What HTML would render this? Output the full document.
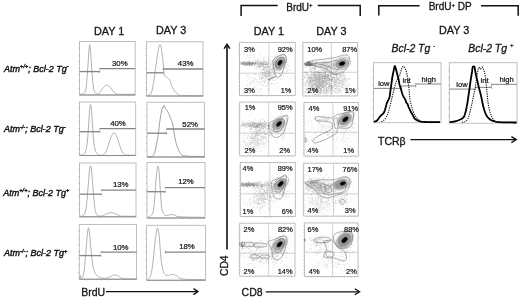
<!DOCTYPE html>
<html><head><meta charset="utf-8"><style>
html,body{margin:0;padding:0;background:#fff;width:520px;height:299px;overflow:hidden}
svg{display:block;will-change:transform}
text{font-family:"Liberation Sans", sans-serif;stroke:#151515}
</style></head><body>
<svg width="520" height="299" viewBox="0 0 520 299">
<rect width="520" height="299" fill="#fff"/>
<defs><filter id="b1" x="-50%" y="-50%" width="200%" height="200%"><feGaussianBlur stdDeviation="1.1"/></filter><filter id="b2" x="-50%" y="-50%" width="200%" height="200%"><feGaussianBlur stdDeviation="0.7"/></filter><filter id="b3" x="-50%" y="-50%" width="200%" height="200%"><feGaussianBlur stdDeviation="1.8"/></filter></defs>
<text x="4.1" y="71.7" font-size="9" font-style="italic" fill="#151515" stroke-width="0.42">Atm<tspan font-size="5.6" dy="-3.8">+/+</tspan><tspan dy="3.8">; Bcl-2 Tg</tspan><tspan font-size="5.6" dy="-3.8">-</tspan></text>
<text x="3.9" y="132.4" font-size="9" font-style="italic" fill="#151515" stroke-width="0.42">Atm<tspan font-size="5.6" dy="-3.8">-/-</tspan><tspan dy="3.8">; Bcl-2 Tg</tspan><tspan font-size="5.6" dy="-3.8">-</tspan></text>
<text x="3.3" y="195.7" font-size="9" font-style="italic" fill="#151515" stroke-width="0.42">Atm<tspan font-size="5.6" dy="-3.8">+/+</tspan><tspan dy="3.8">; Bcl-2 Tg</tspan><tspan font-size="5.6" dy="-3.8">+</tspan></text>
<text x="4.1" y="256.4" font-size="9" font-style="italic" fill="#151515" stroke-width="0.42">Atm<tspan font-size="5.6" dy="-3.8">-/-</tspan><tspan dy="3.8">; Bcl-2 Tg</tspan><tspan font-size="5.6" dy="-3.8">+</tspan></text>
<text x="94.00" y="34.90" font-size="10.8" text-anchor="start" fill="#151515" stroke-width="0.3" >DAY 1</text>
<text x="156.00" y="34.20" font-size="10.8" text-anchor="start" fill="#151515" stroke-width="0.3" >DAY 3</text>
<rect x="79.5" y="41.5" width="55.70" height="53.50" fill="none" stroke="#b8b8b8" stroke-width="0.9"/>
<line x1="79.5" y1="95" x2="135.2" y2="95" stroke="#8c8c8c" stroke-width="1.1" />
<line x1="86.5" y1="95" x2="86.5" y2="96.2" stroke="#aaa" stroke-width="0.6" />
<line x1="93.4" y1="95" x2="93.4" y2="96.2" stroke="#aaa" stroke-width="0.6" />
<line x1="100.4" y1="95" x2="100.4" y2="96.2" stroke="#aaa" stroke-width="0.6" />
<line x1="107.3" y1="95" x2="107.3" y2="96.2" stroke="#aaa" stroke-width="0.6" />
<line x1="114.3" y1="95" x2="114.3" y2="96.2" stroke="#aaa" stroke-width="0.6" />
<line x1="121.3" y1="95" x2="121.3" y2="96.2" stroke="#aaa" stroke-width="0.6" />
<line x1="128.2" y1="95" x2="128.2" y2="96.2" stroke="#aaa" stroke-width="0.6" />
<line x1="78.3" y1="88.3" x2="79.5" y2="88.3" stroke="#999" stroke-width="0.6" />
<line x1="78.3" y1="81.6" x2="79.5" y2="81.6" stroke="#999" stroke-width="0.6" />
<line x1="78.3" y1="74.9" x2="79.5" y2="74.9" stroke="#999" stroke-width="0.6" />
<line x1="78.3" y1="68.2" x2="79.5" y2="68.2" stroke="#999" stroke-width="0.6" />
<line x1="78.3" y1="61.6" x2="79.5" y2="61.6" stroke="#999" stroke-width="0.6" />
<line x1="78.3" y1="54.9" x2="79.5" y2="54.9" stroke="#999" stroke-width="0.6" />
<line x1="78.3" y1="48.2" x2="79.5" y2="48.2" stroke="#999" stroke-width="0.6" />
<path d="M80.00,94.30 L80.46,94.27 L81.11,94.27 L81.88,94.24 L82.67,94.14 L83.40,93.91 L84.00,93.50 L84.45,92.98 L84.83,92.40 L85.16,91.70 L85.44,90.79 L85.72,89.58 L86.00,88.00 L86.28,85.99 L86.54,83.59 L86.79,80.91 L87.03,78.02 L87.27,75.02 L87.50,72.00 L87.73,68.75 L87.96,65.16 L88.19,61.46 L88.40,57.88 L88.61,54.65 L88.80,52.00 L88.97,49.87 L89.13,48.05 L89.27,46.59 L89.41,45.50 L89.55,44.83 L89.70,44.60 L89.84,44.83 L89.98,45.50 L90.12,46.59 L90.26,48.05 L90.42,49.87 L90.60,52.00 L90.80,54.65 L91.03,57.88 L91.26,61.46 L91.51,65.16 L91.76,68.75 L92.00,72.00 L92.24,75.02 L92.47,78.03 L92.71,80.92 L92.96,83.61 L93.22,86.00 L93.50,88.00 L93.80,89.56 L94.13,90.74 L94.47,91.62 L94.81,92.29 L95.16,92.82 L95.50,93.30 L95.83,93.68 L96.15,93.89 L96.47,93.96 L96.80,93.94 L97.14,93.88 L97.50,93.80 L97.88,93.72 L98.28,93.62 L98.69,93.46 L99.11,93.24 L99.55,92.92 L100.00,92.50 L100.46,91.92 L100.94,91.17 L101.43,90.34 L101.94,89.49 L102.46,88.69 L103.00,88.00 L103.57,87.38 L104.16,86.77 L104.78,86.21 L105.39,85.73 L106.00,85.38 L106.60,85.20 L107.18,85.21 L107.76,85.38 L108.34,85.68 L108.90,86.07 L109.46,86.52 L110.00,87.00 L110.52,87.56 L111.03,88.22 L111.53,88.95 L112.01,89.69 L112.50,90.39 L113.00,91.00 L113.49,91.54 L113.96,92.04 L114.44,92.51 L114.93,92.93 L115.44,93.29 L116.00,93.60 L116.48,93.83 L116.85,94.00 L117.25,94.11 L117.81,94.19 L118.69,94.25 L120.00,94.30 L122.04,94.34 L124.74,94.35 L127.75,94.34 L130.70,94.33 L133.24,94.31 L135.00,94.30" fill="none" stroke="#969696" stroke-width="0.75"/>
<line x1="79.5" y1="71.6" x2="99.60000000000001" y2="71.6" stroke="#858585" stroke-width="1.3" />
<line x1="99.60000000000001" y1="70.39999999999999" x2="99.60000000000001" y2="72.8" stroke="#858585" stroke-width="0.8" />
<line x1="99.2" y1="68.7" x2="135.2" y2="68.7" stroke="#858585" stroke-width="1.3" />
<text x="112.00" y="65.60" font-size="7.8" text-anchor="start" fill="#151515" stroke-width="0.22" >30%</text>
<rect x="146.6" y="41.8" width="56.40" height="54.20" fill="none" stroke="#b8b8b8" stroke-width="0.9"/>
<line x1="146.6" y1="96" x2="203" y2="96" stroke="#8c8c8c" stroke-width="1.1" />
<line x1="153.7" y1="96" x2="153.7" y2="97.2" stroke="#aaa" stroke-width="0.6" />
<line x1="160.7" y1="96" x2="160.7" y2="97.2" stroke="#aaa" stroke-width="0.6" />
<line x1="167.8" y1="96" x2="167.8" y2="97.2" stroke="#aaa" stroke-width="0.6" />
<line x1="174.8" y1="96" x2="174.8" y2="97.2" stroke="#aaa" stroke-width="0.6" />
<line x1="181.8" y1="96" x2="181.8" y2="97.2" stroke="#aaa" stroke-width="0.6" />
<line x1="188.9" y1="96" x2="188.9" y2="97.2" stroke="#aaa" stroke-width="0.6" />
<line x1="195.9" y1="96" x2="195.9" y2="97.2" stroke="#aaa" stroke-width="0.6" />
<line x1="145.4" y1="89.2" x2="146.6" y2="89.2" stroke="#999" stroke-width="0.6" />
<line x1="145.4" y1="82.5" x2="146.6" y2="82.5" stroke="#999" stroke-width="0.6" />
<line x1="145.4" y1="75.7" x2="146.6" y2="75.7" stroke="#999" stroke-width="0.6" />
<line x1="145.4" y1="68.9" x2="146.6" y2="68.9" stroke="#999" stroke-width="0.6" />
<line x1="145.4" y1="62.1" x2="146.6" y2="62.1" stroke="#999" stroke-width="0.6" />
<line x1="145.4" y1="55.3" x2="146.6" y2="55.3" stroke="#999" stroke-width="0.6" />
<line x1="145.4" y1="48.6" x2="146.6" y2="48.6" stroke="#999" stroke-width="0.6" />
<path d="M147.00,95.70 L147.24,95.64 L147.57,95.57 L147.97,95.48 L148.39,95.36 L148.81,95.21 L149.20,95.00 L149.56,94.82 L149.91,94.67 L150.26,94.49 L150.60,94.19 L150.95,93.69 L151.30,92.90 L151.65,91.81 L152.00,90.50 L152.36,88.98 L152.71,87.28 L153.06,85.45 L153.40,83.50 L153.74,81.38 L154.07,79.04 L154.40,76.56 L154.73,74.01 L155.06,71.47 L155.40,69.00 L155.75,66.51 L156.12,63.92 L156.49,61.34 L156.86,58.86 L157.20,56.58 L157.50,54.60 L157.76,52.95 L158.00,51.54 L158.21,50.33 L158.40,49.29 L158.60,48.36 L158.80,47.50 L159.01,46.71 L159.21,46.03 L159.42,45.46 L159.62,45.02 L159.81,44.73 L160.00,44.60 L160.18,44.68 L160.36,44.97 L160.54,45.41 L160.70,45.93 L160.86,46.48 L161.00,47.00 L161.11,47.40 L161.20,47.73 L161.27,48.08 L161.35,48.56 L161.45,49.30 L161.60,50.40 L161.80,51.96 L162.04,53.90 L162.31,56.10 L162.59,58.41 L162.86,60.69 L163.10,62.80 L163.32,64.86 L163.52,67.01 L163.72,69.13 L163.91,71.11 L164.10,72.84 L164.30,74.20 L164.50,75.13 L164.70,75.70 L164.89,76.01 L165.09,76.18 L165.29,76.31 L165.50,76.50 L165.71,76.72 L165.92,76.87 L166.13,76.98 L166.35,77.07 L166.57,77.17 L166.80,77.30 L167.04,77.46 L167.28,77.61 L167.53,77.78 L167.79,77.96 L168.04,78.16 L168.30,78.40 L168.56,78.63 L168.81,78.84 L169.06,79.08 L169.33,79.38 L169.60,79.81 L169.90,80.40 L170.21,81.22 L170.53,82.23 L170.86,83.36 L171.21,84.53 L171.59,85.67 L172.00,86.70 L172.45,87.64 L172.92,88.56 L173.43,89.44 L173.96,90.29 L174.51,91.07 L175.10,91.80 L175.73,92.47 L176.40,93.10 L177.11,93.68 L177.82,94.20 L178.52,94.64 L179.20,95.00 L179.66,95.26 L179.89,95.41 L180.11,95.49 L180.54,95.53 L181.43,95.56 L183.00,95.60 L185.63,95.65 L189.21,95.67 L193.24,95.69 L197.21,95.69 L200.64,95.69 L203.00,95.70" fill="none" stroke="#969696" stroke-width="0.75"/>
<line x1="146.6" y1="72.8" x2="163.1" y2="72.8" stroke="#858585" stroke-width="1.3" />
<line x1="163.1" y1="71.6" x2="163.1" y2="74.0" stroke="#858585" stroke-width="0.8" />
<line x1="162.7" y1="69" x2="203" y2="69" stroke="#858585" stroke-width="1.3" />
<text x="177.80" y="66.00" font-size="7.8" text-anchor="start" fill="#151515" stroke-width="0.22" >43%</text>
<rect x="79.5" y="102" width="56.20" height="53.50" fill="none" stroke="#b8b8b8" stroke-width="0.9"/>
<line x1="79.5" y1="155.5" x2="135.7" y2="155.5" stroke="#8c8c8c" stroke-width="1.1" />
<line x1="86.5" y1="155.5" x2="86.5" y2="156.7" stroke="#aaa" stroke-width="0.6" />
<line x1="93.5" y1="155.5" x2="93.5" y2="156.7" stroke="#aaa" stroke-width="0.6" />
<line x1="100.6" y1="155.5" x2="100.6" y2="156.7" stroke="#aaa" stroke-width="0.6" />
<line x1="107.6" y1="155.5" x2="107.6" y2="156.7" stroke="#aaa" stroke-width="0.6" />
<line x1="114.6" y1="155.5" x2="114.6" y2="156.7" stroke="#aaa" stroke-width="0.6" />
<line x1="121.6" y1="155.5" x2="121.6" y2="156.7" stroke="#aaa" stroke-width="0.6" />
<line x1="128.7" y1="155.5" x2="128.7" y2="156.7" stroke="#aaa" stroke-width="0.6" />
<line x1="78.3" y1="148.8" x2="79.5" y2="148.8" stroke="#999" stroke-width="0.6" />
<line x1="78.3" y1="142.1" x2="79.5" y2="142.1" stroke="#999" stroke-width="0.6" />
<line x1="78.3" y1="135.4" x2="79.5" y2="135.4" stroke="#999" stroke-width="0.6" />
<line x1="78.3" y1="128.8" x2="79.5" y2="128.8" stroke="#999" stroke-width="0.6" />
<line x1="78.3" y1="122.1" x2="79.5" y2="122.1" stroke="#999" stroke-width="0.6" />
<line x1="78.3" y1="115.4" x2="79.5" y2="115.4" stroke="#999" stroke-width="0.6" />
<line x1="78.3" y1="108.7" x2="79.5" y2="108.7" stroke="#999" stroke-width="0.6" />
<path d="M80.00,155.00 L80.46,154.99 L81.11,155.02 L81.88,155.03 L82.67,154.98 L83.40,154.82 L84.00,154.50 L84.45,154.05 L84.83,153.50 L85.16,152.84 L85.44,152.06 L85.72,151.11 L86.00,150.00 L86.28,148.74 L86.54,147.37 L86.79,145.84 L87.03,144.13 L87.27,142.19 L87.50,140.00 L87.73,137.42 L87.96,134.44 L88.18,131.25 L88.40,128.00 L88.60,124.86 L88.80,122.00 L88.99,119.31 L89.17,116.64 L89.34,114.09 L89.50,111.73 L89.65,109.67 L89.80,108.00 L89.93,106.74 L90.05,105.83 L90.16,105.21 L90.27,104.84 L90.38,104.65 L90.50,104.60 L90.63,104.65 L90.75,104.84 L90.88,105.21 L91.01,105.83 L91.15,106.74 L91.30,108.00 L91.45,109.67 L91.61,111.73 L91.77,114.09 L91.94,116.64 L92.11,119.31 L92.30,122.00 L92.50,124.87 L92.71,128.04 L92.92,131.31 L93.15,134.52 L93.37,137.47 L93.60,140.00 L93.82,142.07 L94.04,143.83 L94.26,145.34 L94.49,146.67 L94.73,147.86 L95.00,149.00 L95.29,150.05 L95.59,150.94 L95.90,151.72 L96.24,152.39 L96.60,152.98 L97.00,153.50 L97.43,153.95 L97.89,154.30 L98.38,154.56 L98.89,154.76 L99.43,154.90 L100.00,155.00 L100.62,155.09 L101.30,155.17 L102.00,155.19 L102.70,155.11 L103.38,154.90 L104.00,154.50 L104.56,153.91 L105.07,153.17 L105.56,152.28 L106.04,151.28 L106.51,150.18 L107.00,149.00 L107.51,147.67 L108.02,146.15 L108.53,144.53 L109.04,142.91 L109.53,141.37 L110.00,140.00 L110.46,138.77 L110.91,137.60 L111.35,136.51 L111.77,135.53 L112.15,134.69 L112.50,134.00 L112.79,133.49 L113.04,133.16 L113.26,132.95 L113.46,132.84 L113.67,132.81 L113.90,132.80 L114.14,132.81 L114.39,132.84 L114.63,132.95 L114.89,133.16 L115.18,133.49 L115.50,134.00 L115.86,134.69 L116.25,135.53 L116.66,136.51 L117.10,137.60 L117.54,138.77 L118.00,140.00 L118.48,141.38 L118.98,142.93 L119.50,144.58 L120.02,146.20 L120.52,147.71 L121.00,149.00 L121.45,150.08 L121.87,151.04 L122.28,151.89 L122.69,152.62 L123.09,153.26 L123.50,153.80 L123.84,154.22 L124.07,154.50 L124.31,154.69 L124.65,154.81 L125.18,154.90 L126.00,155.00 L127.29,155.09 L129.00,155.15 L130.91,155.18 L132.78,155.19 L134.39,155.19 L135.50,155.20" fill="none" stroke="#969696" stroke-width="0.75"/>
<line x1="79.5" y1="131.7" x2="99.80000000000001" y2="131.7" stroke="#858585" stroke-width="1.3" />
<line x1="99.80000000000001" y1="130.5" x2="99.80000000000001" y2="132.89999999999998" stroke="#858585" stroke-width="0.8" />
<line x1="99.4" y1="128.6" x2="135.7" y2="128.6" stroke="#858585" stroke-width="1.3" />
<text x="110.20" y="126.00" font-size="7.8" text-anchor="start" fill="#151515" stroke-width="0.22" >40%</text>
<rect x="147" y="102.3" width="57.60" height="54.70" fill="none" stroke="#b8b8b8" stroke-width="0.9"/>
<line x1="147" y1="157" x2="204.6" y2="157" stroke="#8c8c8c" stroke-width="1.1" />
<line x1="154.2" y1="157" x2="154.2" y2="158.2" stroke="#aaa" stroke-width="0.6" />
<line x1="161.4" y1="157" x2="161.4" y2="158.2" stroke="#aaa" stroke-width="0.6" />
<line x1="168.6" y1="157" x2="168.6" y2="158.2" stroke="#aaa" stroke-width="0.6" />
<line x1="175.8" y1="157" x2="175.8" y2="158.2" stroke="#aaa" stroke-width="0.6" />
<line x1="183.0" y1="157" x2="183.0" y2="158.2" stroke="#aaa" stroke-width="0.6" />
<line x1="190.2" y1="157" x2="190.2" y2="158.2" stroke="#aaa" stroke-width="0.6" />
<line x1="197.4" y1="157" x2="197.4" y2="158.2" stroke="#aaa" stroke-width="0.6" />
<line x1="145.8" y1="150.2" x2="147" y2="150.2" stroke="#999" stroke-width="0.6" />
<line x1="145.8" y1="143.3" x2="147" y2="143.3" stroke="#999" stroke-width="0.6" />
<line x1="145.8" y1="136.5" x2="147" y2="136.5" stroke="#999" stroke-width="0.6" />
<line x1="145.8" y1="129.7" x2="147" y2="129.7" stroke="#999" stroke-width="0.6" />
<line x1="145.8" y1="122.8" x2="147" y2="122.8" stroke="#999" stroke-width="0.6" />
<line x1="145.8" y1="116.0" x2="147" y2="116.0" stroke="#999" stroke-width="0.6" />
<line x1="145.8" y1="109.1" x2="147" y2="109.1" stroke="#999" stroke-width="0.6" />
<path d="M147.00,156.60 L147.57,156.62 L148.39,156.67 L149.34,156.71 L150.33,156.71 L151.25,156.62 L152.00,156.40 L152.57,156.05 L153.06,155.60 L153.47,155.06 L153.83,154.44 L154.17,153.75 L154.50,153.00 L154.81,152.16 L155.08,151.23 L155.33,150.22 L155.55,149.17 L155.77,148.09 L156.00,147.00 L156.23,145.92 L156.44,144.82 L156.66,143.70 L156.87,142.53 L157.08,141.31 L157.30,140.00 L157.53,138.61 L157.76,137.16 L158.00,135.64 L158.24,134.07 L158.47,132.45 L158.70,130.80 L158.92,129.06 L159.14,127.21 L159.35,125.33 L159.56,123.45 L159.78,121.66 L160.00,120.00 L160.23,118.47 L160.47,117.00 L160.71,115.61 L160.95,114.31 L161.18,113.10 L161.40,112.00 L161.61,110.98 L161.80,110.03 L161.99,109.17 L162.17,108.43 L162.34,107.83 L162.50,107.40 L162.64,107.22 L162.76,107.30 L162.87,107.52 L162.97,107.77 L163.08,107.93 L163.20,107.90 L163.33,107.60 L163.45,107.12 L163.58,106.55 L163.71,106.00 L163.85,105.59 L164.00,105.40 L164.16,105.49 L164.32,105.77 L164.49,106.18 L164.66,106.64 L164.83,107.11 L165.00,107.50 L165.15,107.80 L165.27,108.07 L165.39,108.33 L165.54,108.62 L165.73,108.96 L166.00,109.40 L166.36,109.93 L166.80,110.53 L167.29,111.19 L167.79,111.89 L168.27,112.63 L168.70,113.40 L169.07,114.21 L169.42,115.07 L169.74,115.97 L170.06,116.89 L170.37,117.80 L170.70,118.70 L171.04,119.55 L171.39,120.37 L171.74,121.18 L172.09,122.03 L172.41,122.96 L172.70,124.00 L172.96,125.18 L173.18,126.47 L173.39,127.83 L173.59,129.23 L173.79,130.64 L174.00,132.00 L174.23,133.36 L174.45,134.74 L174.68,136.12 L174.91,137.48 L175.15,138.78 L175.40,140.00 L175.65,141.13 L175.90,142.19 L176.16,143.19 L176.43,144.15 L176.71,145.08 L177.00,146.00 L177.31,146.91 L177.64,147.81 L177.97,148.69 L178.32,149.52 L178.66,150.29 L179.00,151.00 L179.31,151.63 L179.59,152.19 L179.88,152.69 L180.19,153.15 L180.55,153.58 L181.00,154.00 L181.37,154.41 L181.61,154.79 L181.91,155.15 L182.44,155.47 L183.41,155.76 L185.00,156.00 L187.58,156.19 L191.07,156.33 L195.00,156.43 L198.87,156.50 L202.20,156.55 L204.50,156.60" fill="none" stroke="#8a8a8a" stroke-width="0.85"/>
<line x1="147" y1="133.2" x2="166.6" y2="133.2" stroke="#858585" stroke-width="1.3" />
<line x1="166.6" y1="132.0" x2="166.6" y2="134.39999999999998" stroke="#858585" stroke-width="0.8" />
<line x1="166.2" y1="129" x2="204.6" y2="129" stroke="#858585" stroke-width="1.3" />
<text x="182.30" y="126.60" font-size="7.8" text-anchor="start" fill="#151515" stroke-width="0.22" >52%</text>
<rect x="79.5" y="163" width="56.50" height="53.80" fill="none" stroke="#b8b8b8" stroke-width="0.9"/>
<line x1="79.5" y1="216.8" x2="136" y2="216.8" stroke="#8c8c8c" stroke-width="1.1" />
<line x1="86.6" y1="216.8" x2="86.6" y2="218.0" stroke="#aaa" stroke-width="0.6" />
<line x1="93.6" y1="216.8" x2="93.6" y2="218.0" stroke="#aaa" stroke-width="0.6" />
<line x1="100.7" y1="216.8" x2="100.7" y2="218.0" stroke="#aaa" stroke-width="0.6" />
<line x1="107.8" y1="216.8" x2="107.8" y2="218.0" stroke="#aaa" stroke-width="0.6" />
<line x1="114.8" y1="216.8" x2="114.8" y2="218.0" stroke="#aaa" stroke-width="0.6" />
<line x1="121.9" y1="216.8" x2="121.9" y2="218.0" stroke="#aaa" stroke-width="0.6" />
<line x1="128.9" y1="216.8" x2="128.9" y2="218.0" stroke="#aaa" stroke-width="0.6" />
<line x1="78.3" y1="210.1" x2="79.5" y2="210.1" stroke="#999" stroke-width="0.6" />
<line x1="78.3" y1="203.4" x2="79.5" y2="203.4" stroke="#999" stroke-width="0.6" />
<line x1="78.3" y1="196.6" x2="79.5" y2="196.6" stroke="#999" stroke-width="0.6" />
<line x1="78.3" y1="189.9" x2="79.5" y2="189.9" stroke="#999" stroke-width="0.6" />
<line x1="78.3" y1="183.2" x2="79.5" y2="183.2" stroke="#999" stroke-width="0.6" />
<line x1="78.3" y1="176.4" x2="79.5" y2="176.4" stroke="#999" stroke-width="0.6" />
<line x1="78.3" y1="169.7" x2="79.5" y2="169.7" stroke="#999" stroke-width="0.6" />
<path d="M80.00,216.20 L80.34,216.18 L80.81,216.19 L81.38,216.18 L81.96,216.13 L82.52,216.01 L83.00,215.80 L83.40,215.53 L83.76,215.24 L84.09,214.88 L84.41,214.41 L84.71,213.80 L85.00,213.00 L85.28,212.07 L85.54,211.05 L85.78,209.89 L86.02,208.53 L86.26,206.91 L86.50,205.00 L86.75,202.70 L87.00,200.04 L87.25,197.12 L87.50,194.07 L87.75,191.00 L88.00,188.00 L88.26,184.90 L88.52,181.56 L88.78,178.19 L89.04,175.01 L89.28,172.21 L89.50,170.00 L89.70,168.42 L89.87,167.30 L90.03,166.57 L90.19,166.14 L90.34,165.95 L90.50,165.90 L90.66,165.95 L90.81,166.14 L90.97,166.57 L91.13,167.30 L91.30,168.42 L91.50,170.00 L91.72,172.21 L91.96,175.01 L92.22,178.19 L92.48,181.56 L92.74,184.90 L93.00,188.00 L93.25,191.00 L93.51,194.09 L93.76,197.16 L94.01,200.07 L94.26,202.73 L94.50,205.00 L94.72,206.85 L94.93,208.37 L95.14,209.62 L95.34,210.69 L95.56,211.62 L95.80,212.50 L96.04,213.29 L96.27,213.93 L96.51,214.44 L96.79,214.85 L97.11,215.20 L97.50,215.50 L97.98,215.74 L98.55,215.90 L99.17,215.99 L99.80,216.02 L100.42,216.02 L101.00,216.00 L101.53,215.95 L102.04,215.86 L102.53,215.73 L103.02,215.57 L103.51,215.39 L104.00,215.20 L104.49,214.97 L104.96,214.70 L105.44,214.41 L105.93,214.12 L106.44,213.84 L107.00,213.60 L107.61,213.38 L108.26,213.15 L108.94,212.94 L109.63,212.76 L110.32,212.64 L111.00,212.60 L111.67,212.64 L112.33,212.75 L113.00,212.92 L113.67,213.13 L114.33,213.36 L115.00,213.60 L115.68,213.88 L116.37,214.21 L117.06,214.57 L117.74,214.92 L118.39,215.24 L119.00,215.50 L119.43,215.69 L119.67,215.84 L119.88,215.96 L120.22,216.06 L120.88,216.13 L122.00,216.20 L123.86,216.25 L126.37,216.28 L129.19,216.29 L131.96,216.30 L134.35,216.30 L136.00,216.30" fill="none" stroke="#969696" stroke-width="0.75"/>
<line x1="79.5" y1="194.2" x2="101.2" y2="194.2" stroke="#858585" stroke-width="1.3" />
<line x1="101.2" y1="193.0" x2="101.2" y2="195.39999999999998" stroke="#858585" stroke-width="0.8" />
<line x1="100.8" y1="190.1" x2="136" y2="190.1" stroke="#858585" stroke-width="1.3" />
<text x="112.90" y="187.40" font-size="7.8" text-anchor="start" fill="#151515" stroke-width="0.22" >13%</text>
<rect x="147" y="162.6" width="58.00" height="55.40" fill="none" stroke="#b8b8b8" stroke-width="0.9"/>
<line x1="147" y1="218" x2="205" y2="218" stroke="#8c8c8c" stroke-width="1.1" />
<line x1="154.2" y1="218" x2="154.2" y2="219.2" stroke="#aaa" stroke-width="0.6" />
<line x1="161.5" y1="218" x2="161.5" y2="219.2" stroke="#aaa" stroke-width="0.6" />
<line x1="168.8" y1="218" x2="168.8" y2="219.2" stroke="#aaa" stroke-width="0.6" />
<line x1="176.0" y1="218" x2="176.0" y2="219.2" stroke="#aaa" stroke-width="0.6" />
<line x1="183.2" y1="218" x2="183.2" y2="219.2" stroke="#aaa" stroke-width="0.6" />
<line x1="190.5" y1="218" x2="190.5" y2="219.2" stroke="#aaa" stroke-width="0.6" />
<line x1="197.8" y1="218" x2="197.8" y2="219.2" stroke="#aaa" stroke-width="0.6" />
<line x1="145.8" y1="211.1" x2="147" y2="211.1" stroke="#999" stroke-width="0.6" />
<line x1="145.8" y1="204.2" x2="147" y2="204.2" stroke="#999" stroke-width="0.6" />
<line x1="145.8" y1="197.2" x2="147" y2="197.2" stroke="#999" stroke-width="0.6" />
<line x1="145.8" y1="190.3" x2="147" y2="190.3" stroke="#999" stroke-width="0.6" />
<line x1="145.8" y1="183.4" x2="147" y2="183.4" stroke="#999" stroke-width="0.6" />
<line x1="145.8" y1="176.4" x2="147" y2="176.4" stroke="#999" stroke-width="0.6" />
<line x1="145.8" y1="169.5" x2="147" y2="169.5" stroke="#999" stroke-width="0.6" />
<path d="M147.50,217.40 L147.77,217.30 L148.13,217.19 L148.56,217.05 L149.04,216.85 L149.53,216.58 L150.00,216.20 L150.49,215.79 L151.01,215.38 L151.56,214.89 L152.09,214.24 L152.58,213.37 L153.00,212.20 L153.35,210.73 L153.64,209.03 L153.90,207.10 L154.13,204.95 L154.36,202.58 L154.60,200.00 L154.85,197.01 L155.09,193.58 L155.32,189.93 L155.56,186.29 L155.78,182.90 L156.00,180.00 L156.22,177.55 L156.43,175.37 L156.64,173.44 L156.84,171.74 L157.03,170.27 L157.20,169.00 L157.36,167.97 L157.50,167.19 L157.62,166.62 L157.75,166.26 L157.87,166.06 L158.00,166.00 L158.14,166.11 L158.27,166.41 L158.41,166.88 L158.55,167.48 L158.68,168.20 L158.80,169.00 L158.90,169.78 L158.99,170.56 L159.07,171.44 L159.16,172.56 L159.26,174.03 L159.40,176.00 L159.58,178.65 L159.78,181.92 L160.01,185.55 L160.24,189.28 L160.48,192.85 L160.70,196.00 L160.90,198.81 L161.07,201.50 L161.24,204.04 L161.44,206.36 L161.68,208.43 L162.00,210.20 L162.40,211.62 L162.87,212.73 L163.39,213.59 L163.94,214.24 L164.48,214.76 L165.00,215.20 L165.50,215.50 L166.00,215.59 L166.50,215.55 L167.00,215.43 L167.50,215.29 L168.00,215.20 L168.49,215.12 L168.96,215.00 L169.44,214.86 L169.93,214.73 L170.44,214.64 L171.00,214.60 L171.60,214.62 L172.22,214.67 L172.88,214.76 L173.56,214.88 L174.26,215.03 L175.00,215.20 L175.54,215.42 L175.85,215.70 L176.19,216.00 L176.81,216.30 L178.00,216.58 L180.00,216.80 L183.30,216.96 L187.78,217.10 L192.81,217.20 L197.78,217.28 L202.05,217.35 L205.00,217.40" fill="none" stroke="#969696" stroke-width="0.75"/>
<line x1="147" y1="191.7" x2="165.1" y2="191.7" stroke="#858585" stroke-width="1.3" />
<line x1="165.1" y1="190.5" x2="165.1" y2="192.89999999999998" stroke="#858585" stroke-width="0.8" />
<line x1="164.7" y1="187.6" x2="205" y2="187.6" stroke="#858585" stroke-width="1.3" />
<text x="178.20" y="183.90" font-size="7.8" text-anchor="start" fill="#151515" stroke-width="0.22" >12%</text>
<rect x="79.3" y="224.4" width="57.30" height="54.80" fill="none" stroke="#b8b8b8" stroke-width="0.9"/>
<line x1="79.3" y1="279.2" x2="136.6" y2="279.2" stroke="#8c8c8c" stroke-width="1.1" />
<line x1="86.5" y1="279.2" x2="86.5" y2="280.4" stroke="#aaa" stroke-width="0.6" />
<line x1="93.6" y1="279.2" x2="93.6" y2="280.4" stroke="#aaa" stroke-width="0.6" />
<line x1="100.8" y1="279.2" x2="100.8" y2="280.4" stroke="#aaa" stroke-width="0.6" />
<line x1="107.9" y1="279.2" x2="107.9" y2="280.4" stroke="#aaa" stroke-width="0.6" />
<line x1="115.1" y1="279.2" x2="115.1" y2="280.4" stroke="#aaa" stroke-width="0.6" />
<line x1="122.3" y1="279.2" x2="122.3" y2="280.4" stroke="#aaa" stroke-width="0.6" />
<line x1="129.4" y1="279.2" x2="129.4" y2="280.4" stroke="#aaa" stroke-width="0.6" />
<line x1="78.1" y1="272.3" x2="79.3" y2="272.3" stroke="#999" stroke-width="0.6" />
<line x1="78.1" y1="265.5" x2="79.3" y2="265.5" stroke="#999" stroke-width="0.6" />
<line x1="78.1" y1="258.6" x2="79.3" y2="258.6" stroke="#999" stroke-width="0.6" />
<line x1="78.1" y1="251.8" x2="79.3" y2="251.8" stroke="#999" stroke-width="0.6" />
<line x1="78.1" y1="244.9" x2="79.3" y2="244.9" stroke="#999" stroke-width="0.6" />
<line x1="78.1" y1="238.1" x2="79.3" y2="238.1" stroke="#999" stroke-width="0.6" />
<line x1="78.1" y1="231.2" x2="79.3" y2="231.2" stroke="#999" stroke-width="0.6" />
<path d="M79.80,278.80 L79.85,278.37 L79.91,277.72 L79.99,276.98 L80.09,276.28 L80.19,275.74 L80.30,275.50 L80.42,275.66 L80.54,276.14 L80.67,276.78 L80.82,277.44 L80.99,277.96 L81.20,278.20 L81.45,278.18 L81.74,278.04 L82.06,277.77 L82.39,277.34 L82.71,276.76 L83.00,276.00 L83.27,275.12 L83.52,274.13 L83.77,272.99 L84.01,271.62 L84.25,269.98 L84.50,268.00 L84.75,265.57 L85.00,262.70 L85.25,259.56 L85.50,256.30 L85.75,253.06 L86.00,250.00 L86.26,246.97 L86.52,243.81 L86.79,240.69 L87.04,237.74 L87.28,235.13 L87.50,233.00 L87.68,231.38 L87.84,230.15 L87.99,229.25 L88.12,228.63 L88.26,228.23 L88.40,228.00 L88.54,227.88 L88.68,227.89 L88.81,228.12 L88.96,228.67 L89.12,229.60 L89.30,231.00 L89.51,233.05 L89.75,235.70 L90.00,238.75 L90.26,241.96 L90.53,245.12 L90.80,248.00 L91.07,250.70 L91.36,253.43 L91.65,256.09 L91.94,258.63 L92.23,260.96 L92.50,263.00 L92.76,264.73 L93.01,266.21 L93.25,267.48 L93.49,268.59 L93.74,269.58 L94.00,270.50 L94.26,271.30 L94.50,271.92 L94.75,272.43 L95.02,272.87 L95.33,273.31 L95.70,273.80 L96.12,274.35 L96.59,274.91 L97.10,275.48 L97.64,276.01 L98.21,276.49 L98.80,276.90 L99.43,277.24 L100.09,277.52 L100.79,277.76 L101.50,277.94 L102.21,278.09 L102.90,278.20 L103.60,278.26 L104.31,278.27 L105.02,278.24 L105.71,278.18 L106.38,278.10 L107.00,278.00 L107.56,277.89 L108.08,277.75 L108.57,277.59 L109.04,277.41 L109.51,277.22 L110.00,277.00 L110.51,276.74 L111.03,276.44 L111.54,276.11 L112.05,275.80 L112.54,275.52 L113.00,275.30 L113.42,275.14 L113.80,275.02 L114.17,274.94 L114.53,274.89 L114.90,274.88 L115.30,274.90 L115.72,274.96 L116.16,275.06 L116.61,275.20 L117.06,275.37 L117.53,275.57 L118.00,275.80 L118.48,276.08 L118.98,276.42 L119.48,276.79 L119.99,277.17 L120.50,277.51 L121.00,277.80 L121.39,278.03 L121.65,278.24 L121.91,278.41 L122.30,278.56 L122.95,278.69 L124.00,278.80 L125.68,278.88 L127.93,278.93 L130.44,278.96 L132.91,278.98 L135.03,278.99 L136.50,279.00" fill="none" stroke="#969696" stroke-width="0.75"/>
<line x1="79.3" y1="255.6" x2="100.80000000000001" y2="255.6" stroke="#858585" stroke-width="1.3" />
<line x1="100.80000000000001" y1="254.4" x2="100.80000000000001" y2="256.8" stroke="#858585" stroke-width="0.8" />
<line x1="100.4" y1="252.1" x2="136.6" y2="252.1" stroke="#858585" stroke-width="1.3" />
<text x="112.90" y="250.40" font-size="7.8" text-anchor="start" fill="#151515" stroke-width="0.22" >10%</text>
<rect x="146.6" y="225.3" width="59.00" height="55.00" fill="none" stroke="#b8b8b8" stroke-width="0.9"/>
<line x1="146.6" y1="280.3" x2="205.6" y2="280.3" stroke="#8c8c8c" stroke-width="1.1" />
<line x1="154.0" y1="280.3" x2="154.0" y2="281.5" stroke="#aaa" stroke-width="0.6" />
<line x1="161.3" y1="280.3" x2="161.3" y2="281.5" stroke="#aaa" stroke-width="0.6" />
<line x1="168.7" y1="280.3" x2="168.7" y2="281.5" stroke="#aaa" stroke-width="0.6" />
<line x1="176.1" y1="280.3" x2="176.1" y2="281.5" stroke="#aaa" stroke-width="0.6" />
<line x1="183.5" y1="280.3" x2="183.5" y2="281.5" stroke="#aaa" stroke-width="0.6" />
<line x1="190.8" y1="280.3" x2="190.8" y2="281.5" stroke="#aaa" stroke-width="0.6" />
<line x1="198.2" y1="280.3" x2="198.2" y2="281.5" stroke="#aaa" stroke-width="0.6" />
<line x1="145.4" y1="273.4" x2="146.6" y2="273.4" stroke="#999" stroke-width="0.6" />
<line x1="145.4" y1="266.6" x2="146.6" y2="266.6" stroke="#999" stroke-width="0.6" />
<line x1="145.4" y1="259.7" x2="146.6" y2="259.7" stroke="#999" stroke-width="0.6" />
<line x1="145.4" y1="252.8" x2="146.6" y2="252.8" stroke="#999" stroke-width="0.6" />
<line x1="145.4" y1="245.9" x2="146.6" y2="245.9" stroke="#999" stroke-width="0.6" />
<line x1="145.4" y1="239.1" x2="146.6" y2="239.1" stroke="#999" stroke-width="0.6" />
<line x1="145.4" y1="232.2" x2="146.6" y2="232.2" stroke="#999" stroke-width="0.6" />
<path d="M147.00,279.60 L147.15,279.58 L147.35,279.60 L147.59,279.60 L147.87,279.53 L148.17,279.35 L148.50,279.00 L148.86,278.53 L149.28,277.99 L149.72,277.32 L150.17,276.50 L150.60,275.48 L151.00,274.20 L151.36,272.69 L151.70,270.97 L152.03,269.05 L152.35,266.92 L152.67,264.57 L153.00,262.00 L153.34,259.01 L153.68,255.58 L154.02,251.93 L154.36,248.29 L154.68,244.90 L155.00,242.00 L155.31,239.55 L155.62,237.37 L155.92,235.44 L156.20,233.74 L156.47,232.27 L156.70,231.00 L156.90,229.97 L157.06,229.19 L157.20,228.62 L157.33,228.26 L157.46,228.06 L157.60,228.00 L157.75,228.11 L157.90,228.41 L158.05,228.88 L158.20,229.48 L158.35,230.20 L158.50,231.00 L158.64,231.78 L158.77,232.56 L158.91,233.44 L159.05,234.56 L159.21,236.03 L159.40,238.00 L159.62,240.67 L159.87,243.99 L160.13,247.67 L160.41,251.43 L160.70,254.97 L161.00,258.00 L161.31,260.58 L161.64,262.95 L161.97,265.10 L162.32,267.03 L162.66,268.73 L163.00,270.20 L163.32,271.37 L163.63,272.24 L163.94,272.88 L164.26,273.36 L164.61,273.78 L165.00,274.20 L165.45,274.61 L165.94,274.94 L166.47,275.20 L167.00,275.39 L167.52,275.52 L168.00,275.60 L168.45,275.59 L168.87,275.48 L169.28,275.31 L169.69,275.12 L170.09,274.94 L170.50,274.80 L170.90,274.69 L171.28,274.56 L171.66,274.45 L172.06,274.37 L172.50,274.35 L173.00,274.40 L173.57,274.53 L174.19,274.73 L174.84,274.99 L175.54,275.29 L176.26,275.63 L177.00,276.00 L177.57,276.45 L177.93,276.98 L178.31,277.56 L178.96,278.12 L180.11,278.62 L182.00,279.00 L185.06,279.26 L189.19,279.43 L193.81,279.54 L198.37,279.60 L202.29,279.65 L205.00,279.70" fill="none" stroke="#969696" stroke-width="0.75"/>
<line x1="165.4" y1="250.6" x2="165.4" y2="253.6" stroke="#858585" stroke-width="0.8" />
<line x1="165.4" y1="252.1" x2="205.6" y2="252.1" stroke="#858585" stroke-width="1.3" />
<text x="179.20" y="249.40" font-size="7.8" text-anchor="start" fill="#151515" stroke-width="0.22" >18%</text>
<text x="81.20" y="296.30" font-size="10.5" text-anchor="start" fill="#151515" stroke-width="0.3" >BrdU</text>
<line x1="105.9" y1="291.6" x2="197" y2="291.6" stroke="#111" stroke-width="1.3" />
<path d="M193.5,288.6 L198,291.6 L193.5,294.6" fill="none" stroke="#111" stroke-width="1.3"/>
<path d="M241.1,15.9 V5.5 H277.7" fill="none" stroke="#111" stroke-width="1.5"/>
<path d="M317.7,5.5 H360.2 V15.9" fill="none" stroke="#111" stroke-width="1.5"/>
<text x="286.3" y="10.8" font-size="10" fill="#151515" stroke-width="0.3">BrdU<tspan font-size="6" dy="-3.5">+</tspan></text>
<text x="253.80" y="34.70" font-size="10.8" text-anchor="start" fill="#151515" stroke-width="0.3" >DAY 1</text>
<text x="316.20" y="34.60" font-size="10.8" text-anchor="start" fill="#151515" stroke-width="0.3" >DAY 3</text>
<line x1="227.0" y1="44.8" x2="227.0" y2="249.4" stroke="#111" stroke-width="1.6" />
<path d="M224.1,48.6 L227.0,44.3 L229.9,48.6" fill="none" stroke="#111" stroke-width="1.5"/>
<text x="0" y="0" font-size="10.3" fill="#151515" stroke-width="0.3" transform="translate(228.1,276) rotate(-90)">CD4</text>
<text x="241.60" y="296.10" font-size="10.5" text-anchor="start" fill="#151515" stroke-width="0.3" >CD8</text>
<line x1="265.8" y1="291.8" x2="359.0" y2="291.8" stroke="#111" stroke-width="1.3" />
<path d="M354.8,288.8 L359.6,291.8 L354.8,294.8" fill="none" stroke="#111" stroke-width="1.3"/>
<rect x="239.5" y="42.4" width="55.70" height="53.10" fill="none" stroke="#b8b8b8" stroke-width="0.9"/>
<line x1="243.0" y1="95.5" x2="243.0" y2="96.8" stroke="#b0b0b0" stroke-width="0.5" />
<line x1="238.2" y1="45.7" x2="239.5" y2="45.7" stroke="#b0b0b0" stroke-width="0.5" />
<line x1="246.5" y1="95.5" x2="246.5" y2="96.8" stroke="#b0b0b0" stroke-width="0.5" />
<line x1="238.2" y1="49.0" x2="239.5" y2="49.0" stroke="#b0b0b0" stroke-width="0.5" />
<line x1="249.9" y1="95.5" x2="249.9" y2="96.8" stroke="#b0b0b0" stroke-width="0.5" />
<line x1="238.2" y1="52.4" x2="239.5" y2="52.4" stroke="#b0b0b0" stroke-width="0.5" />
<line x1="253.4" y1="95.5" x2="253.4" y2="96.8" stroke="#b0b0b0" stroke-width="0.5" />
<line x1="238.2" y1="55.7" x2="239.5" y2="55.7" stroke="#b0b0b0" stroke-width="0.5" />
<line x1="256.9" y1="95.5" x2="256.9" y2="96.8" stroke="#b0b0b0" stroke-width="0.5" />
<line x1="238.2" y1="59.0" x2="239.5" y2="59.0" stroke="#b0b0b0" stroke-width="0.5" />
<line x1="260.4" y1="95.5" x2="260.4" y2="96.8" stroke="#b0b0b0" stroke-width="0.5" />
<line x1="238.2" y1="62.3" x2="239.5" y2="62.3" stroke="#b0b0b0" stroke-width="0.5" />
<line x1="263.9" y1="95.5" x2="263.9" y2="96.8" stroke="#b0b0b0" stroke-width="0.5" />
<line x1="238.2" y1="65.6" x2="239.5" y2="65.6" stroke="#b0b0b0" stroke-width="0.5" />
<line x1="267.4" y1="95.5" x2="267.4" y2="96.8" stroke="#b0b0b0" stroke-width="0.5" />
<line x1="238.2" y1="69.0" x2="239.5" y2="69.0" stroke="#b0b0b0" stroke-width="0.5" />
<line x1="270.8" y1="95.5" x2="270.8" y2="96.8" stroke="#b0b0b0" stroke-width="0.5" />
<line x1="238.2" y1="72.3" x2="239.5" y2="72.3" stroke="#b0b0b0" stroke-width="0.5" />
<line x1="274.3" y1="95.5" x2="274.3" y2="96.8" stroke="#b0b0b0" stroke-width="0.5" />
<line x1="238.2" y1="75.6" x2="239.5" y2="75.6" stroke="#b0b0b0" stroke-width="0.5" />
<line x1="277.8" y1="95.5" x2="277.8" y2="96.8" stroke="#b0b0b0" stroke-width="0.5" />
<line x1="238.2" y1="78.9" x2="239.5" y2="78.9" stroke="#b0b0b0" stroke-width="0.5" />
<line x1="281.3" y1="95.5" x2="281.3" y2="96.8" stroke="#b0b0b0" stroke-width="0.5" />
<line x1="238.2" y1="82.2" x2="239.5" y2="82.2" stroke="#b0b0b0" stroke-width="0.5" />
<line x1="284.8" y1="95.5" x2="284.8" y2="96.8" stroke="#b0b0b0" stroke-width="0.5" />
<line x1="238.2" y1="85.5" x2="239.5" y2="85.5" stroke="#b0b0b0" stroke-width="0.5" />
<line x1="288.2" y1="95.5" x2="288.2" y2="96.8" stroke="#b0b0b0" stroke-width="0.5" />
<line x1="238.2" y1="88.9" x2="239.5" y2="88.9" stroke="#b0b0b0" stroke-width="0.5" />
<line x1="291.7" y1="95.5" x2="291.7" y2="96.8" stroke="#b0b0b0" stroke-width="0.5" />
<line x1="238.2" y1="92.2" x2="239.5" y2="92.2" stroke="#b0b0b0" stroke-width="0.5" />
<line x1="268.9" y1="42.4" x2="268.9" y2="95.5" stroke="#c8c8c8" stroke-width="0.8" />
<line x1="239.5" y1="73.2" x2="295.2" y2="73.2" stroke="#c8c8c8" stroke-width="0.8" />
<path d="M247.0,63.7h.7v.7h-.7zM245.9,62.6h.7v.7h-.7zM245.2,62.5h.7v.7h-.7zM247.2,64.6h.7v.7h-.7zM245.0,62.8h.7v.7h-.7zM249.0,63.7h.7v.7h-.7zM247.4,62.6h.7v.7h-.7zM246.9,64.0h.7v.7h-.7zM241.6,63.0h.7v.7h-.7zM241.9,63.6h.7v.7h-.7zM247.6,63.2h.7v.7h-.7zM246.8,63.5h.7v.7h-.7zM240.9,63.0h.7v.7h-.7zM243.1,62.7h.7v.7h-.7zM251.2,62.7h.7v.7h-.7zM246.9,64.2h.7v.7h-.7zM244.7,63.3h.7v.7h-.7zM247.4,63.5h.7v.7h-.7zM242.1,63.5h.7v.7h-.7zM252.4,62.0h.7v.7h-.7zM250.4,63.5h.7v.7h-.7zM244.4,65.2h.7v.7h-.7zM250.0,62.3h.7v.7h-.7zM247.3,63.9h.7v.7h-.7zM246.2,64.0h.7v.7h-.7zM246.7,64.0h.7v.7h-.7zM252.8,62.8h.7v.7h-.7zM247.8,63.0h.7v.7h-.7zM247.5,62.3h.7v.7h-.7zM244.7,63.2h.7v.7h-.7zM250.6,64.4h.7v.7h-.7zM241.7,62.7h.7v.7h-.7zM249.6,61.6h.7v.7h-.7zM245.1,63.3h.7v.7h-.7zM252.0,64.0h.7v.7h-.7zM245.7,63.1h.7v.7h-.7zM246.0,64.8h.7v.7h-.7zM245.3,63.1h.7v.7h-.7zM248.4,63.3h.7v.7h-.7zM246.2,62.4h.7v.7h-.7zM247.0,63.0h.7v.7h-.7zM251.7,64.0h.7v.7h-.7zM246.9,64.0h.7v.7h-.7zM245.6,64.3h.7v.7h-.7zM247.0,63.9h.7v.7h-.7zM241.8,63.7h.7v.7h-.7zM240.2,61.6h.7v.7h-.7zM245.8,62.6h.7v.7h-.7zM247.7,65.4h.7v.7h-.7zM243.7,62.8h.7v.7h-.7zM247.8,63.8h.7v.7h-.7zM246.3,63.2h.7v.7h-.7zM249.8,63.9h.7v.7h-.7zM242.9,63.3h.7v.7h-.7zM247.1,62.5h.7v.7h-.7zM248.0,62.6h.7v.7h-.7zM250.9,63.6h.7v.7h-.7zM247.4,62.9h.7v.7h-.7zM246.5,61.6h.7v.7h-.7zM242.5,63.7h.7v.7h-.7zM243.6,64.1h.7v.7h-.7zM247.5,62.0h.7v.7h-.7zM252.0,64.7h.7v.7h-.7zM246.7,63.2h.7v.7h-.7zM246.4,62.5h.7v.7h-.7zM251.4,62.9h.7v.7h-.7zM246.8,62.7h.7v.7h-.7zM244.5,62.3h.7v.7h-.7zM252.0,63.3h.7v.7h-.7zM250.9,63.4h.7v.7h-.7zM244.2,63.1h.7v.7h-.7zM244.8,63.4h.7v.7h-.7zM245.5,63.1h.7v.7h-.7zM241.5,62.7h.7v.7h-.7zM253.6,62.8h.7v.7h-.7zM242.8,63.7h.7v.7h-.7zM252.6,62.1h.7v.7h-.7zM246.2,62.8h.7v.7h-.7zM246.9,63.5h.7v.7h-.7zM244.0,63.8h.7v.7h-.7zM244.8,63.3h.7v.7h-.7zM242.6,62.3h.7v.7h-.7zM252.3,62.9h.7v.7h-.7zM248.2,63.4h.7v.7h-.7zM245.2,62.9h.7v.7h-.7zM249.5,63.1h.7v.7h-.7zM246.4,63.4h.7v.7h-.7zM251.7,64.0h.7v.7h-.7zM248.5,62.9h.7v.7h-.7zM241.5,64.3h.7v.7h-.7zM250.9,63.3h.7v.7h-.7zM249.2,64.1h.7v.7h-.7zM250.3,64.2h.7v.7h-.7zM245.2,64.8h.7v.7h-.7zM242.0,64.2h.7v.7h-.7zM249.0,64.2h.7v.7h-.7zM254.5,64.7h.7v.7h-.7zM242.4,61.9h.7v.7h-.7zM250.3,62.5h.7v.7h-.7zM247.0,64.2h.7v.7h-.7zM240.4,61.5h.7v.7h-.7zM248.0,63.4h.7v.7h-.7zM246.0,63.4h.7v.7h-.7zM243.6,62.0h.7v.7h-.7zM246.3,62.5h.7v.7h-.7zM240.4,63.9h.7v.7h-.7zM246.8,63.8h.7v.7h-.7zM243.0,62.8h.7v.7h-.7zM243.0,62.6h.7v.7h-.7zM247.8,62.7h.7v.7h-.7zM248.4,63.7h.7v.7h-.7zM255.1,62.1h.7v.7h-.7zM250.6,63.3h.7v.7h-.7zM246.9,62.1h.7v.7h-.7zM245.2,64.1h.7v.7h-.7zM246.7,63.5h.7v.7h-.7zM245.8,64.4h.7v.7h-.7zM246.9,61.4h.7v.7h-.7zM244.2,61.6h.7v.7h-.7zM252.3,63.4h.7v.7h-.7zM242.3,62.6h.7v.7h-.7zM251.5,63.5h.7v.7h-.7zM247.2,63.4h.7v.7h-.7zM247.2,64.1h.7v.7h-.7zM249.2,63.6h.7v.7h-.7zM242.8,63.9h.7v.7h-.7zM244.3,64.4h.7v.7h-.7zM241.9,63.3h.7v.7h-.7zM247.0,62.2h.7v.7h-.7zM253.9,64.7h.7v.7h-.7zM245.1,64.1h.7v.7h-.7zM248.5,61.0h.7v.7h-.7zM248.0,63.3h.7v.7h-.7zM247.3,62.4h.7v.7h-.7zM245.9,63.2h.7v.7h-.7zM251.8,63.7h.7v.7h-.7zM247.0,64.8h.7v.7h-.7zM244.8,63.0h.7v.7h-.7zM250.9,64.2h.7v.7h-.7zM249.7,63.5h.7v.7h-.7zM247.9,63.2h.7v.7h-.7zM246.2,63.4h.7v.7h-.7zM253.0,63.9h.7v.7h-.7zM246.8,62.9h.7v.7h-.7zM244.5,64.8h.7v.7h-.7zM249.0,63.5h.7v.7h-.7zM245.6,62.4h.7v.7h-.7zM246.7,64.2h.7v.7h-.7zM245.4,63.2h.7v.7h-.7zM246.1,63.5h.7v.7h-.7zM240.6,63.2h.7v.7h-.7zM243.6,64.2h.7v.7h-.7zM243.9,63.9h.7v.7h-.7zM253.1,63.1h.7v.7h-.7zM244.6,63.6h.7v.7h-.7zM247.0,62.5h.7v.7h-.7zM248.8,65.2h.7v.7h-.7zM246.0,63.2h.7v.7h-.7zM242.8,63.7h.7v.7h-.7zM242.0,62.4h.7v.7h-.7zM252.1,62.6h.7v.7h-.7zM251.3,64.8h.7v.7h-.7zM248.0,63.9h.7v.7h-.7zM254.8,63.2h.7v.7h-.7zM244.6,62.2h.7v.7h-.7zM247.2,64.7h.7v.7h-.7zM250.8,62.6h.7v.7h-.7zM243.6,62.9h.7v.7h-.7zM248.2,63.2h.7v.7h-.7zM247.9,63.7h.7v.7h-.7zM245.8,63.4h.7v.7h-.7zM247.8,63.3h.7v.7h-.7zM249.0,65.1h.7v.7h-.7zM249.4,63.5h.7v.7h-.7zM240.3,63.7h.7v.7h-.7zM250.4,64.0h.7v.7h-.7zM246.4,61.9h.7v.7h-.7zM245.5,62.8h.7v.7h-.7zM249.5,65.4h.7v.7h-.7zM247.9,62.7h.7v.7h-.7zM242.3,63.3h.7v.7h-.7zM246.3,62.4h.7v.7h-.7zM247.5,62.4h.7v.7h-.7zM251.4,64.4h.7v.7h-.7zM251.3,63.0h.7v.7h-.7zM249.1,63.3h.7v.7h-.7zM245.4,63.1h.7v.7h-.7zM241.8,62.1h.7v.7h-.7zM250.2,63.2h.7v.7h-.7zM247.9,64.3h.7v.7h-.7zM247.7,63.8h.7v.7h-.7zM245.5,64.3h.7v.7h-.7zM247.8,62.3h.7v.7h-.7zM243.3,64.1h.7v.7h-.7zM248.9,61.7h.7v.7h-.7zM252.4,63.9h.7v.7h-.7zM252.4,63.1h.7v.7h-.7zM245.8,62.4h.7v.7h-.7zM257.1,63.2h.7v.7h-.7zM253.4,62.8h.7v.7h-.7zM247.7,61.9h.7v.7h-.7zM245.5,64.3h.7v.7h-.7zM242.0,64.4h.7v.7h-.7zM248.3,62.5h.7v.7h-.7zM245.0,63.0h.7v.7h-.7zM246.8,62.9h.7v.7h-.7zM243.7,63.1h.7v.7h-.7zM242.9,62.2h.7v.7h-.7zM246.8,64.2h.7v.7h-.7zM240.9,63.4h.7v.7h-.7zM244.4,62.5h.7v.7h-.7zM250.4,62.9h.7v.7h-.7zM253.0,62.7h.7v.7h-.7zM248.5,63.2h.7v.7h-.7zM244.0,63.9h.7v.7h-.7zM246.4,63.9h.7v.7h-.7zM246.8,62.4h.7v.7h-.7zM246.6,63.4h.7v.7h-.7zM250.8,62.6h.7v.7h-.7zM246.8,61.9h.7v.7h-.7zM249.6,62.4h.7v.7h-.7zM251.4,62.0h.7v.7h-.7zM242.6,62.7h.7v.7h-.7zM242.5,63.7h.7v.7h-.7zM243.8,62.8h.7v.7h-.7zM249.3,62.7h.7v.7h-.7zM248.7,62.5h.7v.7h-.7zM242.2,61.7h.7v.7h-.7zM254.4,63.1h.7v.7h-.7zM248.0,63.4h.7v.7h-.7zM247.6,63.4h.7v.7h-.7zM254.6,62.5h.7v.7h-.7zM240.8,62.5h.7v.7h-.7zM241.7,64.1h.7v.7h-.7zM250.3,62.5h.7v.7h-.7zM241.4,63.1h.7v.7h-.7zM252.6,60.9h.7v.7h-.7zM249.1,62.4h.7v.7h-.7zM251.2,62.4h.7v.7h-.7zM245.9,62.0h.7v.7h-.7zM243.1,64.6h.7v.7h-.7zM250.3,63.0h.7v.7h-.7zM243.5,61.7h.7v.7h-.7zM245.4,63.4h.7v.7h-.7zM246.7,63.3h.7v.7h-.7zM242.5,63.3h.7v.7h-.7zM246.8,64.6h.7v.7h-.7zM254.5,63.3h.7v.7h-.7zM243.9,63.3h.7v.7h-.7z" fill="#000" fill-opacity="0.36"/>
<path d="M255.4,62.4h.7v.7h-.7zM258.6,61.9h.7v.7h-.7zM262.6,63.4h.7v.7h-.7zM260.5,63.3h.7v.7h-.7zM254.6,62.1h.7v.7h-.7zM257.6,62.7h.7v.7h-.7zM260.4,63.6h.7v.7h-.7zM250.8,63.7h.7v.7h-.7zM250.9,62.6h.7v.7h-.7zM257.2,60.3h.7v.7h-.7zM259.5,63.8h.7v.7h-.7zM258.1,62.9h.7v.7h-.7zM256.8,62.0h.7v.7h-.7zM257.4,62.7h.7v.7h-.7zM259.6,61.7h.7v.7h-.7zM260.4,63.8h.7v.7h-.7zM258.2,62.9h.7v.7h-.7zM262.3,60.9h.7v.7h-.7zM261.8,64.0h.7v.7h-.7zM260.7,64.2h.7v.7h-.7zM255.1,63.2h.7v.7h-.7zM262.8,64.3h.7v.7h-.7zM260.2,61.2h.7v.7h-.7zM262.2,65.5h.7v.7h-.7zM265.1,64.0h.7v.7h-.7zM249.7,65.1h.7v.7h-.7zM258.1,59.5h.7v.7h-.7zM261.3,61.2h.7v.7h-.7zM251.2,62.6h.7v.7h-.7zM266.6,63.0h.7v.7h-.7zM260.6,66.4h.7v.7h-.7zM268.6,63.4h.7v.7h-.7zM257.6,61.6h.7v.7h-.7zM254.8,64.3h.7v.7h-.7zM261.4,63.8h.7v.7h-.7zM265.0,62.4h.7v.7h-.7zM258.7,64.8h.7v.7h-.7zM262.5,65.3h.7v.7h-.7zM261.4,63.1h.7v.7h-.7zM261.2,62.0h.7v.7h-.7zM249.2,64.5h.7v.7h-.7zM258.7,64.1h.7v.7h-.7zM248.8,63.0h.7v.7h-.7zM255.4,62.2h.7v.7h-.7zM245.5,63.1h.7v.7h-.7zM264.4,64.2h.7v.7h-.7zM255.4,63.6h.7v.7h-.7zM263.5,59.2h.7v.7h-.7zM258.3,64.5h.7v.7h-.7zM263.1,66.3h.7v.7h-.7zM265.8,64.1h.7v.7h-.7zM260.8,64.9h.7v.7h-.7zM255.8,63.5h.7v.7h-.7zM264.4,66.7h.7v.7h-.7zM258.0,63.5h.7v.7h-.7zM260.2,65.7h.7v.7h-.7zM258.8,66.0h.7v.7h-.7zM253.2,63.3h.7v.7h-.7zM257.8,64.9h.7v.7h-.7zM265.3,61.2h.7v.7h-.7zM253.5,64.1h.7v.7h-.7zM255.0,61.2h.7v.7h-.7zM265.2,64.4h.7v.7h-.7zM262.0,62.8h.7v.7h-.7zM265.2,63.2h.7v.7h-.7zM265.6,62.1h.7v.7h-.7zM253.9,63.9h.7v.7h-.7zM254.8,64.7h.7v.7h-.7zM260.6,62.1h.7v.7h-.7zM259.4,63.0h.7v.7h-.7zM264.5,62.6h.7v.7h-.7zM256.4,65.5h.7v.7h-.7zM272.4,66.8h.7v.7h-.7zM259.4,64.0h.7v.7h-.7zM268.2,63.4h.7v.7h-.7zM253.1,63.8h.7v.7h-.7zM261.7,62.3h.7v.7h-.7zM249.1,61.3h.7v.7h-.7zM263.0,62.4h.7v.7h-.7zM258.2,63.9h.7v.7h-.7zM262.7,63.1h.7v.7h-.7zM262.0,62.2h.7v.7h-.7zM256.8,62.0h.7v.7h-.7zM265.8,63.6h.7v.7h-.7zM254.6,63.0h.7v.7h-.7zM257.7,64.7h.7v.7h-.7zM249.4,61.9h.7v.7h-.7zM256.7,67.7h.7v.7h-.7zM264.7,63.4h.7v.7h-.7zM263.3,66.9h.7v.7h-.7zM257.6,63.0h.7v.7h-.7zM266.3,64.4h.7v.7h-.7zM263.0,62.8h.7v.7h-.7zM270.5,66.3h.7v.7h-.7zM262.4,64.7h.7v.7h-.7zM246.8,64.6h.7v.7h-.7zM257.8,64.3h.7v.7h-.7zM263.1,63.1h.7v.7h-.7zM248.9,64.2h.7v.7h-.7zM254.6,63.1h.7v.7h-.7zM255.4,63.1h.7v.7h-.7zM245.1,65.5h.7v.7h-.7zM260.5,65.4h.7v.7h-.7zM270.9,63.6h.7v.7h-.7zM248.2,62.2h.7v.7h-.7zM251.8,62.8h.7v.7h-.7zM259.5,60.4h.7v.7h-.7zM261.1,61.2h.7v.7h-.7zM260.8,63.4h.7v.7h-.7zM257.1,63.5h.7v.7h-.7zM255.8,62.6h.7v.7h-.7zM248.9,63.6h.7v.7h-.7zM270.1,66.8h.7v.7h-.7zM266.9,64.7h.7v.7h-.7zM254.9,65.9h.7v.7h-.7zM258.7,63.5h.7v.7h-.7zM257.3,63.7h.7v.7h-.7zM256.4,63.5h.7v.7h-.7zM252.5,63.0h.7v.7h-.7zM272.7,63.5h.7v.7h-.7zM257.6,64.5h.7v.7h-.7zM263.2,61.8h.7v.7h-.7zM257.8,65.1h.7v.7h-.7zM260.6,63.8h.7v.7h-.7zM268.3,62.5h.7v.7h-.7zM259.5,62.8h.7v.7h-.7zM267.9,60.5h.7v.7h-.7zM255.0,62.8h.7v.7h-.7zM263.0,64.6h.7v.7h-.7zM267.4,61.1h.7v.7h-.7zM263.5,63.1h.7v.7h-.7zM255.0,64.5h.7v.7h-.7zM253.5,60.3h.7v.7h-.7zM256.8,61.2h.7v.7h-.7zM255.1,64.2h.7v.7h-.7zM260.9,66.1h.7v.7h-.7zM257.8,61.1h.7v.7h-.7zM254.5,62.1h.7v.7h-.7zM251.7,64.3h.7v.7h-.7zM255.1,60.4h.7v.7h-.7zM263.2,63.4h.7v.7h-.7zM261.1,63.8h.7v.7h-.7zM262.8,63.7h.7v.7h-.7zM266.4,64.3h.7v.7h-.7zM261.4,64.3h.7v.7h-.7zM250.3,63.3h.7v.7h-.7zM257.4,63.9h.7v.7h-.7zM250.8,66.2h.7v.7h-.7zM259.6,61.7h.7v.7h-.7zM248.7,63.1h.7v.7h-.7zM258.5,62.5h.7v.7h-.7zM259.6,62.6h.7v.7h-.7zM262.3,62.4h.7v.7h-.7zM258.8,65.2h.7v.7h-.7zM274.4,62.0h.7v.7h-.7zM256.2,62.3h.7v.7h-.7zM263.7,61.8h.7v.7h-.7zM256.1,63.6h.7v.7h-.7zM253.1,62.1h.7v.7h-.7zM256.1,60.2h.7v.7h-.7zM250.3,62.9h.7v.7h-.7zM259.9,63.3h.7v.7h-.7zM248.4,62.9h.7v.7h-.7zM263.8,64.5h.7v.7h-.7zM258.5,62.2h.7v.7h-.7zM262.8,62.7h.7v.7h-.7zM252.0,62.3h.7v.7h-.7zM267.7,64.0h.7v.7h-.7zM266.0,62.8h.7v.7h-.7zM264.6,62.6h.7v.7h-.7zM258.1,67.6h.7v.7h-.7zM263.6,62.8h.7v.7h-.7zM258.5,64.1h.7v.7h-.7zM266.3,62.8h.7v.7h-.7zM248.6,63.2h.7v.7h-.7zM259.1,63.8h.7v.7h-.7zM266.9,64.1h.7v.7h-.7zM263.9,61.8h.7v.7h-.7zM264.2,67.0h.7v.7h-.7zM263.6,64.0h.7v.7h-.7zM259.9,66.5h.7v.7h-.7zM253.4,63.4h.7v.7h-.7zM261.8,64.8h.7v.7h-.7zM256.4,64.1h.7v.7h-.7zM257.3,63.8h.7v.7h-.7zM258.2,61.8h.7v.7h-.7zM258.9,65.0h.7v.7h-.7zM253.2,63.2h.7v.7h-.7zM263.0,61.9h.7v.7h-.7zM260.1,61.9h.7v.7h-.7zM265.8,67.3h.7v.7h-.7zM271.1,63.2h.7v.7h-.7zM263.4,63.8h.7v.7h-.7zM259.6,66.1h.7v.7h-.7zM251.1,65.3h.7v.7h-.7zM258.7,65.9h.7v.7h-.7zM260.1,62.5h.7v.7h-.7zM260.7,64.8h.7v.7h-.7zM259.2,64.4h.7v.7h-.7zM255.9,60.2h.7v.7h-.7z" fill="#000" fill-opacity="0.24"/>
<path d="M271.5,74.5h.7v.7h-.7zM267.7,71.3h.7v.7h-.7zM272.2,68.7h.7v.7h-.7zM263.5,70.1h.7v.7h-.7zM272.9,64.1h.7v.7h-.7zM273.0,67.8h.7v.7h-.7zM261.5,77.3h.7v.7h-.7zM266.5,64.5h.7v.7h-.7zM265.2,75.7h.7v.7h-.7zM273.0,68.9h.7v.7h-.7zM269.0,74.6h.7v.7h-.7zM263.8,72.8h.7v.7h-.7zM266.8,68.3h.7v.7h-.7zM264.5,71.3h.7v.7h-.7zM267.1,68.2h.7v.7h-.7zM264.9,76.6h.7v.7h-.7zM268.1,75.4h.7v.7h-.7zM273.0,73.9h.7v.7h-.7zM278.4,66.9h.7v.7h-.7zM271.0,69.4h.7v.7h-.7zM276.3,79.5h.7v.7h-.7zM257.2,66.2h.7v.7h-.7zM270.3,74.9h.7v.7h-.7zM270.7,70.6h.7v.7h-.7zM269.3,74.3h.7v.7h-.7zM266.6,76.1h.7v.7h-.7zM255.7,74.2h.7v.7h-.7zM261.8,75.8h.7v.7h-.7zM265.9,66.6h.7v.7h-.7zM268.9,66.4h.7v.7h-.7zM262.4,63.2h.7v.7h-.7zM266.9,73.5h.7v.7h-.7zM272.1,70.3h.7v.7h-.7zM272.2,71.1h.7v.7h-.7zM266.5,73.9h.7v.7h-.7zM272.3,69.3h.7v.7h-.7zM265.8,70.2h.7v.7h-.7zM267.4,66.5h.7v.7h-.7zM272.1,69.0h.7v.7h-.7zM269.3,66.9h.7v.7h-.7zM268.8,73.0h.7v.7h-.7zM264.9,81.1h.7v.7h-.7zM268.9,79.9h.7v.7h-.7zM271.8,67.7h.7v.7h-.7zM265.1,73.2h.7v.7h-.7zM267.3,71.2h.7v.7h-.7zM265.6,62.0h.7v.7h-.7zM265.9,59.9h.7v.7h-.7zM268.9,67.4h.7v.7h-.7zM263.4,69.9h.7v.7h-.7zM268.4,63.8h.7v.7h-.7zM258.3,65.7h.7v.7h-.7zM256.8,66.2h.7v.7h-.7zM275.0,65.7h.7v.7h-.7zM270.3,64.1h.7v.7h-.7zM268.5,69.4h.7v.7h-.7zM266.7,73.8h.7v.7h-.7zM275.8,72.0h.7v.7h-.7zM267.6,66.1h.7v.7h-.7zM269.9,69.8h.7v.7h-.7zM271.2,70.8h.7v.7h-.7zM275.7,61.1h.7v.7h-.7zM265.5,75.4h.7v.7h-.7zM265.2,67.0h.7v.7h-.7zM265.7,64.1h.7v.7h-.7zM267.6,83.2h.7v.7h-.7zM272.7,65.5h.7v.7h-.7zM262.6,69.0h.7v.7h-.7zM272.0,66.9h.7v.7h-.7zM263.5,75.4h.7v.7h-.7zM271.3,69.1h.7v.7h-.7zM261.4,63.3h.7v.7h-.7zM263.5,59.8h.7v.7h-.7zM270.7,67.8h.7v.7h-.7zM269.4,80.3h.7v.7h-.7zM272.9,65.2h.7v.7h-.7zM271.3,76.8h.7v.7h-.7zM263.3,66.2h.7v.7h-.7zM266.5,63.0h.7v.7h-.7zM274.4,59.0h.7v.7h-.7zM261.5,69.7h.7v.7h-.7zM265.9,71.8h.7v.7h-.7zM268.4,69.9h.7v.7h-.7zM272.7,60.3h.7v.7h-.7zM267.0,67.4h.7v.7h-.7zM267.7,72.1h.7v.7h-.7zM262.4,67.8h.7v.7h-.7zM271.0,72.7h.7v.7h-.7zM263.6,81.2h.7v.7h-.7zM278.5,63.7h.7v.7h-.7zM268.5,83.5h.7v.7h-.7zM270.9,72.1h.7v.7h-.7zM266.0,68.3h.7v.7h-.7zM265.9,68.2h.7v.7h-.7zM270.7,69.0h.7v.7h-.7zM264.8,65.0h.7v.7h-.7zM266.8,66.5h.7v.7h-.7zM266.1,76.2h.7v.7h-.7zM268.8,73.5h.7v.7h-.7zM268.8,71.3h.7v.7h-.7zM266.4,69.5h.7v.7h-.7zM270.8,65.6h.7v.7h-.7zM273.7,71.2h.7v.7h-.7zM263.3,68.6h.7v.7h-.7zM263.6,71.8h.7v.7h-.7zM263.4,76.7h.7v.7h-.7zM263.1,59.6h.7v.7h-.7zM263.3,61.0h.7v.7h-.7zM266.8,76.3h.7v.7h-.7zM270.2,64.3h.7v.7h-.7zM263.2,79.9h.7v.7h-.7zM268.6,71.0h.7v.7h-.7zM272.3,83.3h.7v.7h-.7zM273.5,71.7h.7v.7h-.7zM268.8,74.1h.7v.7h-.7zM263.9,65.7h.7v.7h-.7zM267.3,66.3h.7v.7h-.7zM266.7,71.5h.7v.7h-.7zM278.7,66.7h.7v.7h-.7zM266.4,70.2h.7v.7h-.7zM269.2,76.2h.7v.7h-.7zM264.5,66.9h.7v.7h-.7zM258.8,66.4h.7v.7h-.7zM269.7,71.2h.7v.7h-.7zM261.9,69.1h.7v.7h-.7zM267.2,73.5h.7v.7h-.7zM264.0,69.7h.7v.7h-.7zM257.9,65.2h.7v.7h-.7zM275.1,60.1h.7v.7h-.7zM265.3,72.1h.7v.7h-.7zM265.1,67.0h.7v.7h-.7zM266.7,71.0h.7v.7h-.7zM266.6,61.6h.7v.7h-.7zM266.3,66.7h.7v.7h-.7zM264.3,72.1h.7v.7h-.7zM270.2,75.5h.7v.7h-.7zM264.5,75.6h.7v.7h-.7zM272.9,76.7h.7v.7h-.7zM273.9,70.3h.7v.7h-.7zM266.1,75.1h.7v.7h-.7zM260.2,72.0h.7v.7h-.7zM264.3,69.2h.7v.7h-.7zM258.3,66.5h.7v.7h-.7zM266.9,75.4h.7v.7h-.7zM272.0,70.6h.7v.7h-.7zM266.1,66.8h.7v.7h-.7zM269.0,69.8h.7v.7h-.7zM270.0,79.8h.7v.7h-.7zM266.8,63.5h.7v.7h-.7zM262.7,63.7h.7v.7h-.7zM261.0,77.5h.7v.7h-.7zM268.1,63.4h.7v.7h-.7zM270.3,77.3h.7v.7h-.7zM265.2,67.6h.7v.7h-.7zM265.3,72.4h.7v.7h-.7zM270.2,76.9h.7v.7h-.7zM273.1,76.9h.7v.7h-.7zM273.8,74.3h.7v.7h-.7zM259.3,70.3h.7v.7h-.7zM268.6,69.1h.7v.7h-.7zM271.6,69.2h.7v.7h-.7zM262.4,78.2h.7v.7h-.7zM270.3,72.1h.7v.7h-.7zM271.6,76.3h.7v.7h-.7zM268.7,58.7h.7v.7h-.7zM263.6,68.7h.7v.7h-.7zM262.1,72.0h.7v.7h-.7zM273.0,68.6h.7v.7h-.7zM261.3,81.1h.7v.7h-.7zM264.7,64.8h.7v.7h-.7zM268.2,73.1h.7v.7h-.7zM263.5,75.0h.7v.7h-.7zM264.6,66.4h.7v.7h-.7zM267.9,74.9h.7v.7h-.7zM263.8,72.7h.7v.7h-.7zM266.5,85.1h.7v.7h-.7zM263.5,77.9h.7v.7h-.7zM266.7,70.4h.7v.7h-.7zM270.6,75.5h.7v.7h-.7zM273.3,72.6h.7v.7h-.7zM264.0,68.3h.7v.7h-.7zM269.5,73.9h.7v.7h-.7zM274.0,73.1h.7v.7h-.7zM272.3,78.6h.7v.7h-.7zM267.8,63.6h.7v.7h-.7zM261.1,63.8h.7v.7h-.7zM275.0,66.8h.7v.7h-.7zM273.2,73.9h.7v.7h-.7zM275.6,76.0h.7v.7h-.7zM266.5,70.0h.7v.7h-.7zM267.4,71.9h.7v.7h-.7zM264.3,70.8h.7v.7h-.7zM275.0,62.5h.7v.7h-.7zM268.3,66.5h.7v.7h-.7zM267.9,75.2h.7v.7h-.7zM266.7,74.9h.7v.7h-.7zM259.1,76.5h.7v.7h-.7zM264.0,74.1h.7v.7h-.7zM267.9,58.1h.7v.7h-.7zM263.2,72.1h.7v.7h-.7zM274.8,72.4h.7v.7h-.7zM268.3,63.9h.7v.7h-.7zM274.2,80.0h.7v.7h-.7zM267.1,69.9h.7v.7h-.7zM258.9,75.4h.7v.7h-.7zM280.5,74.6h.7v.7h-.7zM273.3,73.7h.7v.7h-.7zM262.1,77.7h.7v.7h-.7zM260.8,69.9h.7v.7h-.7zM268.4,75.4h.7v.7h-.7zM269.1,72.9h.7v.7h-.7zM263.2,64.6h.7v.7h-.7zM267.3,67.4h.7v.7h-.7zM260.5,64.7h.7v.7h-.7zM264.5,61.7h.7v.7h-.7zM260.3,62.8h.7v.7h-.7zM267.9,73.0h.7v.7h-.7zM277.0,63.5h.7v.7h-.7zM263.6,75.6h.7v.7h-.7zM265.9,69.4h.7v.7h-.7zM275.5,69.3h.7v.7h-.7zM261.2,64.4h.7v.7h-.7zM268.7,72.5h.7v.7h-.7zM260.1,66.1h.7v.7h-.7zM269.7,73.9h.7v.7h-.7zM263.8,74.1h.7v.7h-.7zM269.9,62.1h.7v.7h-.7zM265.4,73.1h.7v.7h-.7zM264.1,60.3h.7v.7h-.7zM265.6,74.8h.7v.7h-.7zM274.9,60.0h.7v.7h-.7zM280.1,65.4h.7v.7h-.7zM271.8,77.2h.7v.7h-.7zM271.9,71.7h.7v.7h-.7zM261.2,74.1h.7v.7h-.7zM263.4,58.4h.7v.7h-.7zM281.1,74.5h.7v.7h-.7zM276.1,66.4h.7v.7h-.7zM274.3,78.9h.7v.7h-.7zM274.8,70.9h.7v.7h-.7zM261.0,70.1h.7v.7h-.7zM256.0,62.5h.7v.7h-.7zM267.5,66.0h.7v.7h-.7zM266.2,70.5h.7v.7h-.7zM276.7,77.5h.7v.7h-.7zM266.8,77.0h.7v.7h-.7zM263.1,69.3h.7v.7h-.7zM271.6,64.8h.7v.7h-.7zM265.6,64.4h.7v.7h-.7zM267.6,79.2h.7v.7h-.7zM263.2,72.1h.7v.7h-.7zM262.5,65.3h.7v.7h-.7zM260.8,78.3h.7v.7h-.7zM278.8,73.4h.7v.7h-.7zM263.4,74.5h.7v.7h-.7zM265.3,75.0h.7v.7h-.7zM268.5,72.4h.7v.7h-.7zM270.0,68.1h.7v.7h-.7zM265.0,62.4h.7v.7h-.7zM264.8,63.9h.7v.7h-.7zM266.3,66.2h.7v.7h-.7zM267.5,73.3h.7v.7h-.7zM259.9,66.9h.7v.7h-.7zM262.3,74.7h.7v.7h-.7zM275.5,75.3h.7v.7h-.7zM265.3,78.3h.7v.7h-.7zM259.4,78.5h.7v.7h-.7zM263.7,57.1h.7v.7h-.7zM280.3,78.9h.7v.7h-.7zM261.8,71.8h.7v.7h-.7zM265.9,71.5h.7v.7h-.7zM259.6,67.6h.7v.7h-.7zM269.3,72.1h.7v.7h-.7zM273.0,71.4h.7v.7h-.7zM278.7,67.4h.7v.7h-.7zM268.3,61.4h.7v.7h-.7zM260.7,77.6h.7v.7h-.7zM262.3,73.7h.7v.7h-.7zM266.7,65.8h.7v.7h-.7zM265.3,68.4h.7v.7h-.7zM264.6,74.8h.7v.7h-.7zM270.3,68.1h.7v.7h-.7zM262.5,72.4h.7v.7h-.7zM266.5,76.1h.7v.7h-.7zM280.3,75.2h.7v.7h-.7zM266.8,70.1h.7v.7h-.7zM262.7,66.5h.7v.7h-.7zM262.0,69.0h.7v.7h-.7zM264.9,74.7h.7v.7h-.7zM265.0,70.0h.7v.7h-.7zM260.9,79.2h.7v.7h-.7zM269.5,79.9h.7v.7h-.7zM271.0,78.4h.7v.7h-.7zM265.8,74.6h.7v.7h-.7zM280.5,64.9h.7v.7h-.7zM272.9,79.5h.7v.7h-.7zM269.1,74.8h.7v.7h-.7zM273.4,67.6h.7v.7h-.7zM269.1,66.6h.7v.7h-.7zM263.5,67.8h.7v.7h-.7z" fill="#000" fill-opacity="0.24"/>
<path d="M256.7,82.9h.7v.7h-.7zM262.2,73.3h.7v.7h-.7zM276.2,89.1h.7v.7h-.7zM264.7,79.8h.7v.7h-.7zM257.2,85.4h.7v.7h-.7zM261.8,71.7h.7v.7h-.7zM241.0,88.1h.7v.7h-.7zM261.4,81.3h.7v.7h-.7zM270.7,74.7h.7v.7h-.7zM259.5,91.0h.7v.7h-.7zM256.2,79.4h.7v.7h-.7zM259.1,79.3h.7v.7h-.7zM272.3,76.4h.7v.7h-.7zM266.1,74.3h.7v.7h-.7zM264.2,81.4h.7v.7h-.7zM248.1,79.3h.7v.7h-.7zM272.2,75.1h.7v.7h-.7zM248.2,90.9h.7v.7h-.7zM259.1,91.5h.7v.7h-.7zM261.0,76.6h.7v.7h-.7zM257.4,89.6h.7v.7h-.7zM266.7,82.0h.7v.7h-.7zM258.5,81.3h.7v.7h-.7zM252.6,93.9h.7v.7h-.7zM258.1,75.0h.7v.7h-.7zM253.6,86.5h.7v.7h-.7zM263.9,81.2h.7v.7h-.7zM251.8,82.1h.7v.7h-.7zM242.5,74.0h.7v.7h-.7zM265.4,79.0h.7v.7h-.7zM261.5,89.5h.7v.7h-.7zM264.0,82.1h.7v.7h-.7zM277.7,86.1h.7v.7h-.7zM254.7,86.5h.7v.7h-.7zM261.8,76.7h.7v.7h-.7zM258.7,81.0h.7v.7h-.7zM255.4,79.3h.7v.7h-.7zM242.8,79.8h.7v.7h-.7zM257.6,82.6h.7v.7h-.7zM247.5,85.9h.7v.7h-.7zM246.8,80.6h.7v.7h-.7zM270.1,77.7h.7v.7h-.7zM253.3,88.6h.7v.7h-.7zM254.4,80.2h.7v.7h-.7zM260.0,88.5h.7v.7h-.7zM248.7,75.3h.7v.7h-.7zM250.1,76.8h.7v.7h-.7zM260.8,76.5h.7v.7h-.7zM259.1,84.5h.7v.7h-.7zM251.3,82.8h.7v.7h-.7zM273.1,84.0h.7v.7h-.7zM252.1,81.6h.7v.7h-.7zM249.6,83.7h.7v.7h-.7zM265.9,77.0h.7v.7h-.7zM256.1,88.8h.7v.7h-.7zM253.4,83.2h.7v.7h-.7zM248.6,77.0h.7v.7h-.7zM254.3,78.8h.7v.7h-.7zM252.9,81.0h.7v.7h-.7zM263.9,83.1h.7v.7h-.7zM276.5,83.3h.7v.7h-.7zM271.0,83.7h.7v.7h-.7zM263.5,73.3h.7v.7h-.7zM256.9,81.6h.7v.7h-.7zM255.8,69.1h.7v.7h-.7zM265.9,79.7h.7v.7h-.7zM254.1,80.5h.7v.7h-.7zM255.9,84.4h.7v.7h-.7zM246.6,76.4h.7v.7h-.7zM260.6,82.9h.7v.7h-.7zM254.6,78.6h.7v.7h-.7zM250.5,81.6h.7v.7h-.7zM268.6,75.7h.7v.7h-.7zM271.7,87.1h.7v.7h-.7zM253.9,86.7h.7v.7h-.7zM244.8,71.6h.7v.7h-.7zM246.4,79.5h.7v.7h-.7zM255.1,78.9h.7v.7h-.7zM258.9,69.2h.7v.7h-.7zM262.5,73.5h.7v.7h-.7zM252.1,79.5h.7v.7h-.7zM247.6,73.8h.7v.7h-.7zM248.9,81.9h.7v.7h-.7zM263.3,85.4h.7v.7h-.7zM249.0,77.3h.7v.7h-.7zM249.7,84.7h.7v.7h-.7zM253.6,77.3h.7v.7h-.7zM261.1,88.2h.7v.7h-.7zM261.1,88.3h.7v.7h-.7zM259.2,89.4h.7v.7h-.7zM269.2,81.4h.7v.7h-.7zM271.0,83.0h.7v.7h-.7zM258.8,76.5h.7v.7h-.7zM255.4,86.7h.7v.7h-.7zM246.2,85.9h.7v.7h-.7zM261.1,83.7h.7v.7h-.7zM263.8,77.4h.7v.7h-.7zM258.8,67.7h.7v.7h-.7zM264.0,78.0h.7v.7h-.7zM265.8,70.9h.7v.7h-.7zM264.2,80.6h.7v.7h-.7zM265.3,76.4h.7v.7h-.7zM250.5,77.8h.7v.7h-.7zM255.5,75.9h.7v.7h-.7zM268.7,92.4h.7v.7h-.7zM251.7,71.6h.7v.7h-.7zM268.5,88.7h.7v.7h-.7zM265.4,88.9h.7v.7h-.7zM250.2,81.0h.7v.7h-.7zM245.5,73.5h.7v.7h-.7zM266.8,78.0h.7v.7h-.7zM278.5,82.4h.7v.7h-.7zM252.2,86.8h.7v.7h-.7zM274.2,84.9h.7v.7h-.7zM247.0,84.2h.7v.7h-.7zM270.4,79.0h.7v.7h-.7zM251.0,88.1h.7v.7h-.7zM259.3,75.4h.7v.7h-.7zM254.6,77.5h.7v.7h-.7zM260.7,82.7h.7v.7h-.7zM268.4,86.3h.7v.7h-.7zM243.9,84.4h.7v.7h-.7zM266.1,84.7h.7v.7h-.7zM267.3,78.7h.7v.7h-.7zM249.4,87.6h.7v.7h-.7zM248.4,69.0h.7v.7h-.7zM267.2,77.7h.7v.7h-.7zM255.2,73.6h.7v.7h-.7zM246.1,75.1h.7v.7h-.7zM254.8,84.2h.7v.7h-.7zM247.4,75.6h.7v.7h-.7zM264.1,81.6h.7v.7h-.7zM244.2,93.1h.7v.7h-.7zM250.3,83.5h.7v.7h-.7zM259.8,90.5h.7v.7h-.7zM253.9,88.0h.7v.7h-.7zM251.3,88.7h.7v.7h-.7zM251.1,79.8h.7v.7h-.7zM275.1,83.9h.7v.7h-.7zM261.3,77.1h.7v.7h-.7zM264.6,74.9h.7v.7h-.7zM268.2,89.2h.7v.7h-.7zM252.8,78.2h.7v.7h-.7zM259.6,82.1h.7v.7h-.7zM249.2,85.4h.7v.7h-.7zM254.4,80.4h.7v.7h-.7zM260.8,74.6h.7v.7h-.7zM263.3,80.9h.7v.7h-.7zM252.1,73.8h.7v.7h-.7zM247.4,84.2h.7v.7h-.7zM249.3,82.4h.7v.7h-.7zM267.6,88.2h.7v.7h-.7zM272.0,80.2h.7v.7h-.7zM248.2,88.1h.7v.7h-.7zM260.8,88.7h.7v.7h-.7zM258.1,89.2h.7v.7h-.7zM265.6,86.3h.7v.7h-.7zM262.5,84.4h.7v.7h-.7zM260.1,83.4h.7v.7h-.7zM266.9,78.9h.7v.7h-.7zM273.6,81.4h.7v.7h-.7zM266.9,81.5h.7v.7h-.7zM255.8,94.2h.7v.7h-.7zM255.2,74.3h.7v.7h-.7zM251.6,80.1h.7v.7h-.7zM277.4,83.2h.7v.7h-.7zM266.4,76.0h.7v.7h-.7zM261.2,86.0h.7v.7h-.7zM274.2,77.8h.7v.7h-.7zM263.4,83.8h.7v.7h-.7zM248.8,81.9h.7v.7h-.7zM255.6,68.0h.7v.7h-.7zM263.4,85.2h.7v.7h-.7zM254.0,74.0h.7v.7h-.7zM271.3,83.6h.7v.7h-.7zM267.2,90.5h.7v.7h-.7zM253.3,86.9h.7v.7h-.7zM255.8,81.6h.7v.7h-.7zM257.2,82.0h.7v.7h-.7zM268.0,82.7h.7v.7h-.7zM256.6,80.3h.7v.7h-.7zM261.1,76.6h.7v.7h-.7zM253.5,81.7h.7v.7h-.7zM252.9,81.3h.7v.7h-.7zM252.5,94.0h.7v.7h-.7zM270.0,84.7h.7v.7h-.7zM260.9,81.5h.7v.7h-.7zM260.7,83.8h.7v.7h-.7z" fill="#000" fill-opacity="0.16"/>
<path d="M284.8,63.1h.7v.7h-.7zM284.6,57.2h.7v.7h-.7zM279.4,59.4h.7v.7h-.7zM285.3,60.6h.7v.7h-.7zM282.6,70.9h.7v.7h-.7zM281.0,57.7h.7v.7h-.7zM274.6,59.4h.7v.7h-.7zM280.2,65.2h.7v.7h-.7zM276.7,63.1h.7v.7h-.7zM276.4,62.9h.7v.7h-.7zM286.4,72.8h.7v.7h-.7zM273.0,69.3h.7v.7h-.7zM280.0,69.4h.7v.7h-.7zM276.3,67.1h.7v.7h-.7zM278.5,71.7h.7v.7h-.7zM279.9,65.0h.7v.7h-.7zM280.5,64.0h.7v.7h-.7zM276.4,72.2h.7v.7h-.7zM280.5,64.6h.7v.7h-.7zM287.1,70.4h.7v.7h-.7zM273.9,64.1h.7v.7h-.7zM289.6,70.3h.7v.7h-.7zM273.9,61.3h.7v.7h-.7zM276.3,64.7h.7v.7h-.7zM274.6,69.3h.7v.7h-.7zM271.9,62.3h.7v.7h-.7zM281.1,60.6h.7v.7h-.7zM281.6,69.4h.7v.7h-.7zM281.8,62.6h.7v.7h-.7zM277.7,61.6h.7v.7h-.7zM288.0,65.9h.7v.7h-.7zM276.2,68.2h.7v.7h-.7zM283.9,67.1h.7v.7h-.7zM290.5,69.5h.7v.7h-.7zM277.9,66.6h.7v.7h-.7zM276.3,69.9h.7v.7h-.7zM288.6,79.7h.7v.7h-.7zM274.1,54.9h.7v.7h-.7zM278.0,67.9h.7v.7h-.7zM273.0,64.0h.7v.7h-.7zM279.8,68.5h.7v.7h-.7zM276.8,61.7h.7v.7h-.7zM281.1,61.6h.7v.7h-.7zM274.1,59.8h.7v.7h-.7zM279.2,71.0h.7v.7h-.7zM274.2,68.9h.7v.7h-.7zM281.4,62.6h.7v.7h-.7zM277.5,59.7h.7v.7h-.7zM287.8,69.1h.7v.7h-.7zM275.6,56.4h.7v.7h-.7zM279.3,73.2h.7v.7h-.7zM286.8,64.1h.7v.7h-.7zM282.5,60.3h.7v.7h-.7zM279.3,66.4h.7v.7h-.7zM276.9,57.2h.7v.7h-.7zM287.2,71.0h.7v.7h-.7zM272.0,61.3h.7v.7h-.7zM279.3,61.9h.7v.7h-.7zM274.2,74.9h.7v.7h-.7zM279.1,63.2h.7v.7h-.7zM287.7,62.5h.7v.7h-.7zM277.7,68.0h.7v.7h-.7zM274.1,64.1h.7v.7h-.7zM279.7,62.3h.7v.7h-.7zM283.4,75.6h.7v.7h-.7zM285.4,68.5h.7v.7h-.7zM283.3,67.5h.7v.7h-.7zM285.0,63.0h.7v.7h-.7zM283.6,57.3h.7v.7h-.7zM275.0,59.3h.7v.7h-.7zM280.4,69.4h.7v.7h-.7zM283.0,59.7h.7v.7h-.7zM278.9,64.1h.7v.7h-.7zM273.9,61.3h.7v.7h-.7zM275.0,56.9h.7v.7h-.7zM280.4,65.9h.7v.7h-.7zM274.7,62.1h.7v.7h-.7zM280.8,78.5h.7v.7h-.7zM280.0,76.8h.7v.7h-.7zM281.0,62.9h.7v.7h-.7zM279.1,73.7h.7v.7h-.7zM283.2,57.7h.7v.7h-.7zM282.1,72.1h.7v.7h-.7zM287.2,75.7h.7v.7h-.7zM279.7,70.0h.7v.7h-.7zM282.0,79.4h.7v.7h-.7zM270.8,56.0h.7v.7h-.7zM279.1,65.5h.7v.7h-.7zM285.6,60.4h.7v.7h-.7zM281.7,69.1h.7v.7h-.7zM285.3,62.5h.7v.7h-.7zM285.2,66.6h.7v.7h-.7zM279.2,67.0h.7v.7h-.7zM277.4,61.2h.7v.7h-.7zM280.0,56.4h.7v.7h-.7zM286.9,68.6h.7v.7h-.7zM277.4,62.2h.7v.7h-.7zM280.6,68.9h.7v.7h-.7zM283.4,66.0h.7v.7h-.7zM281.8,61.1h.7v.7h-.7zM276.1,57.4h.7v.7h-.7zM283.1,65.3h.7v.7h-.7zM282.0,72.9h.7v.7h-.7zM273.9,50.0h.7v.7h-.7zM275.8,58.4h.7v.7h-.7zM291.2,76.8h.7v.7h-.7zM278.4,67.4h.7v.7h-.7zM280.2,68.3h.7v.7h-.7zM286.1,71.4h.7v.7h-.7zM281.3,76.1h.7v.7h-.7zM277.6,69.3h.7v.7h-.7zM286.2,67.4h.7v.7h-.7zM274.6,64.2h.7v.7h-.7zM278.2,66.7h.7v.7h-.7zM280.1,57.0h.7v.7h-.7zM283.4,68.2h.7v.7h-.7zM283.3,67.3h.7v.7h-.7zM286.7,65.5h.7v.7h-.7zM284.7,67.2h.7v.7h-.7zM280.5,52.5h.7v.7h-.7zM283.7,62.1h.7v.7h-.7zM276.1,61.5h.7v.7h-.7zM272.4,67.8h.7v.7h-.7zM279.1,69.9h.7v.7h-.7zM279.2,76.4h.7v.7h-.7zM280.2,64.2h.7v.7h-.7zM275.2,63.3h.7v.7h-.7zM274.5,65.4h.7v.7h-.7zM279.5,65.1h.7v.7h-.7zM274.3,67.4h.7v.7h-.7zM277.4,68.6h.7v.7h-.7zM288.3,65.5h.7v.7h-.7zM274.0,58.2h.7v.7h-.7zM270.0,60.1h.7v.7h-.7zM280.2,60.6h.7v.7h-.7zM278.4,62.6h.7v.7h-.7zM284.5,73.1h.7v.7h-.7zM276.6,65.6h.7v.7h-.7zM279.8,72.2h.7v.7h-.7zM273.0,62.2h.7v.7h-.7zM271.0,61.5h.7v.7h-.7zM289.3,78.4h.7v.7h-.7zM279.4,72.9h.7v.7h-.7zM277.6,59.8h.7v.7h-.7zM278.3,65.3h.7v.7h-.7zM283.4,77.4h.7v.7h-.7zM274.5,71.8h.7v.7h-.7zM279.4,62.3h.7v.7h-.7zM283.2,70.3h.7v.7h-.7zM281.8,67.9h.7v.7h-.7zM276.3,54.1h.7v.7h-.7zM292.0,74.9h.7v.7h-.7zM286.4,69.3h.7v.7h-.7zM274.8,68.2h.7v.7h-.7zM275.4,64.6h.7v.7h-.7zM280.9,59.9h.7v.7h-.7zM273.8,56.3h.7v.7h-.7zM279.7,66.8h.7v.7h-.7zM275.4,63.7h.7v.7h-.7zM282.9,55.9h.7v.7h-.7z" fill="#000" fill-opacity="0.2"/>
<path d="M243.6,54.6h.7v.7h-.7zM261.6,63.3h.7v.7h-.7zM254.7,54.8h.7v.7h-.7zM248.6,60.2h.7v.7h-.7zM244.7,61.4h.7v.7h-.7zM263.3,57.2h.7v.7h-.7zM257.2,59.2h.7v.7h-.7zM264.4,53.8h.7v.7h-.7zM261.4,55.9h.7v.7h-.7zM245.9,57.3h.7v.7h-.7zM250.3,54.0h.7v.7h-.7zM263.6,62.9h.7v.7h-.7zM257.2,60.6h.7v.7h-.7zM247.9,56.8h.7v.7h-.7zM254.3,53.8h.7v.7h-.7zM244.1,57.3h.7v.7h-.7zM249.4,53.8h.7v.7h-.7zM255.1,56.2h.7v.7h-.7zM260.2,57.0h.7v.7h-.7zM249.6,57.4h.7v.7h-.7zM250.6,55.0h.7v.7h-.7zM248.8,59.2h.7v.7h-.7zM257.2,60.9h.7v.7h-.7zM248.7,57.5h.7v.7h-.7zM248.4,55.5h.7v.7h-.7zM258.3,57.5h.7v.7h-.7zM242.7,61.0h.7v.7h-.7zM260.0,55.3h.7v.7h-.7zM258.7,54.8h.7v.7h-.7zM261.0,56.3h.7v.7h-.7zM245.6,55.9h.7v.7h-.7zM245.9,57.6h.7v.7h-.7zM253.4,57.1h.7v.7h-.7zM247.5,46.0h.7v.7h-.7zM252.7,51.3h.7v.7h-.7zM254.0,60.4h.7v.7h-.7zM254.2,55.8h.7v.7h-.7zM250.6,56.6h.7v.7h-.7zM247.6,55.2h.7v.7h-.7zM244.6,60.6h.7v.7h-.7zM251.9,59.9h.7v.7h-.7zM250.0,57.2h.7v.7h-.7zM250.6,58.4h.7v.7h-.7zM258.6,57.7h.7v.7h-.7zM246.6,54.7h.7v.7h-.7zM265.3,56.2h.7v.7h-.7zM249.7,61.4h.7v.7h-.7zM260.7,58.6h.7v.7h-.7zM248.8,64.1h.7v.7h-.7zM255.1,58.6h.7v.7h-.7zM250.6,52.8h.7v.7h-.7zM241.3,58.2h.7v.7h-.7zM255.1,56.3h.7v.7h-.7zM242.6,52.7h.7v.7h-.7zM249.4,52.6h.7v.7h-.7zM259.2,60.5h.7v.7h-.7zM274.6,59.6h.7v.7h-.7zM247.3,54.4h.7v.7h-.7z" fill="#000" fill-opacity="0.14"/>
<path d="M283.60,54.30 L284.64,54.51 L285.30,55.20 L285.69,56.21 L285.89,57.36 L286.00,58.50 L285.97,59.67 L285.72,60.97 L285.36,62.35 L284.95,63.71 L284.60,65.00 L284.31,66.20 L284.03,67.36 L283.74,68.49 L283.40,69.60 L283.00,70.70 L282.53,71.86 L282.02,73.06 L281.46,74.22 L280.85,75.23 L280.20,76.00 L279.46,76.59 L278.64,77.08 L277.80,77.35 L277.00,77.29 L276.30,76.80 L275.71,75.74 L275.18,74.17 L274.72,72.31 L274.33,70.36 L274.00,68.50 L273.60,66.67 L273.12,64.73 L272.78,62.79 L272.80,60.98 L273.40,59.40 L274.87,57.98 L277.08,56.63 L279.56,55.48 L281.89,54.66 L283.60,54.30Z" fill="none" fill-opacity="1" stroke="#6a6a6a" stroke-width="0.55"/>
<path d="M282.50,57.30 L283.15,57.62 L283.57,58.42 L283.79,59.50 L283.85,60.68 L283.80,61.80 L283.60,62.94 L283.22,64.22 L282.72,65.50 L282.13,66.64 L281.50,67.50 L280.77,68.13 L279.90,68.62 L279.00,68.90 L278.17,68.89 L277.50,68.50 L276.91,67.57 L276.34,66.14 L275.90,64.48 L275.75,62.85 L276.00,61.50 L276.87,60.34 L278.27,59.20 L279.89,58.22 L281.40,57.54 L282.50,57.30Z" fill="none" fill-opacity="1" stroke="#6a6a6a" stroke-width="0.55"/>
<path d="M271.00,78.50 L270.14,78.91 L269.19,79.38 L268.37,79.78 L267.90,80.03 L268.00,80.00 L269.02,79.53 L270.82,78.70 L272.86,77.74 L274.60,76.93 L275.50,76.50 L275.34,76.56 L274.49,76.93 L273.27,77.47 L272.00,78.04 L271.00,78.50Z" fill="none" fill-opacity="1" stroke="#6a6a6a" stroke-width="0.55"/>
<ellipse cx="279.8" cy="63.0" rx="6.5" ry="4.3" transform="rotate(-55 279.8 63.0)" fill="#5a5a5a" fill-opacity="0.55" filter="url(#b1)"/>
<ellipse cx="280.0" cy="62.7" rx="6.00" ry="3.80" transform="rotate(-55 280.0 62.7)" fill="none" stroke="#7a7a7a" stroke-width="0.5"/>
<ellipse cx="280.0" cy="62.7" rx="8.70" ry="5.51" transform="rotate(-55 280.0 62.7)" fill="none" stroke="#8a8a8a" stroke-width="0.5"/>
<ellipse cx="280.0" cy="62.7" rx="3.0" ry="1.9" transform="rotate(-55 280.0 62.7)" fill="#000" fill-opacity="1" filter="url(#b2)"/>
<text x="244.10" y="52.35" font-size="7.9" text-anchor="start" fill="#151515" stroke-width="0.22" textLength="10.73" lengthAdjust="spacingAndGlyphs">3%</text>
<text x="292.50" y="51.75" font-size="7.9" text-anchor="end" fill="#151515" stroke-width="0.22" textLength="14.86" lengthAdjust="spacingAndGlyphs">92%</text>
<text x="244.10" y="93.45" font-size="7.9" text-anchor="start" fill="#151515" stroke-width="0.22" textLength="10.73" lengthAdjust="spacingAndGlyphs">3%</text>
<text x="291.40" y="93.45" font-size="7.9" text-anchor="end" fill="#151515" stroke-width="0.22" textLength="10.73" lengthAdjust="spacingAndGlyphs">1%</text>
<rect x="302.9" y="42.5" width="54.80" height="53.40" fill="none" stroke="#b8b8b8" stroke-width="0.9"/>
<line x1="306.3" y1="95.9" x2="306.3" y2="97.2" stroke="#b0b0b0" stroke-width="0.5" />
<line x1="301.59999999999997" y1="45.8" x2="302.9" y2="45.8" stroke="#b0b0b0" stroke-width="0.5" />
<line x1="309.8" y1="95.9" x2="309.8" y2="97.2" stroke="#b0b0b0" stroke-width="0.5" />
<line x1="301.59999999999997" y1="49.2" x2="302.9" y2="49.2" stroke="#b0b0b0" stroke-width="0.5" />
<line x1="313.2" y1="95.9" x2="313.2" y2="97.2" stroke="#b0b0b0" stroke-width="0.5" />
<line x1="301.59999999999997" y1="52.5" x2="302.9" y2="52.5" stroke="#b0b0b0" stroke-width="0.5" />
<line x1="316.6" y1="95.9" x2="316.6" y2="97.2" stroke="#b0b0b0" stroke-width="0.5" />
<line x1="301.59999999999997" y1="55.9" x2="302.9" y2="55.9" stroke="#b0b0b0" stroke-width="0.5" />
<line x1="320.0" y1="95.9" x2="320.0" y2="97.2" stroke="#b0b0b0" stroke-width="0.5" />
<line x1="301.59999999999997" y1="59.2" x2="302.9" y2="59.2" stroke="#b0b0b0" stroke-width="0.5" />
<line x1="323.4" y1="95.9" x2="323.4" y2="97.2" stroke="#b0b0b0" stroke-width="0.5" />
<line x1="301.59999999999997" y1="62.5" x2="302.9" y2="62.5" stroke="#b0b0b0" stroke-width="0.5" />
<line x1="326.9" y1="95.9" x2="326.9" y2="97.2" stroke="#b0b0b0" stroke-width="0.5" />
<line x1="301.59999999999997" y1="65.9" x2="302.9" y2="65.9" stroke="#b0b0b0" stroke-width="0.5" />
<line x1="330.3" y1="95.9" x2="330.3" y2="97.2" stroke="#b0b0b0" stroke-width="0.5" />
<line x1="301.59999999999997" y1="69.2" x2="302.9" y2="69.2" stroke="#b0b0b0" stroke-width="0.5" />
<line x1="333.7" y1="95.9" x2="333.7" y2="97.2" stroke="#b0b0b0" stroke-width="0.5" />
<line x1="301.59999999999997" y1="72.5" x2="302.9" y2="72.5" stroke="#b0b0b0" stroke-width="0.5" />
<line x1="337.1" y1="95.9" x2="337.1" y2="97.2" stroke="#b0b0b0" stroke-width="0.5" />
<line x1="301.59999999999997" y1="75.9" x2="302.9" y2="75.9" stroke="#b0b0b0" stroke-width="0.5" />
<line x1="340.6" y1="95.9" x2="340.6" y2="97.2" stroke="#b0b0b0" stroke-width="0.5" />
<line x1="301.59999999999997" y1="79.2" x2="302.9" y2="79.2" stroke="#b0b0b0" stroke-width="0.5" />
<line x1="344.0" y1="95.9" x2="344.0" y2="97.2" stroke="#b0b0b0" stroke-width="0.5" />
<line x1="301.59999999999997" y1="82.6" x2="302.9" y2="82.6" stroke="#b0b0b0" stroke-width="0.5" />
<line x1="347.4" y1="95.9" x2="347.4" y2="97.2" stroke="#b0b0b0" stroke-width="0.5" />
<line x1="301.59999999999997" y1="85.9" x2="302.9" y2="85.9" stroke="#b0b0b0" stroke-width="0.5" />
<line x1="350.8" y1="95.9" x2="350.8" y2="97.2" stroke="#b0b0b0" stroke-width="0.5" />
<line x1="301.59999999999997" y1="89.2" x2="302.9" y2="89.2" stroke="#b0b0b0" stroke-width="0.5" />
<line x1="354.3" y1="95.9" x2="354.3" y2="97.2" stroke="#b0b0b0" stroke-width="0.5" />
<line x1="301.59999999999997" y1="92.6" x2="302.9" y2="92.6" stroke="#b0b0b0" stroke-width="0.5" />
<line x1="331.4" y1="42.5" x2="331.4" y2="95.9" stroke="#c8c8c8" stroke-width="0.8" />
<line x1="302.9" y1="72.3" x2="357.7" y2="72.3" stroke="#c8c8c8" stroke-width="0.8" />
<ellipse cx="326" cy="64.5" rx="13" ry="3.5" transform="rotate(-5 326 64.5)" fill="#888" fill-opacity="0.2" filter="url(#b3)"/>
<ellipse cx="318" cy="80" rx="10" ry="7" transform="rotate(0 318 80)" fill="#888" fill-opacity="0.15" filter="url(#b3)"/>
<path d="M316.6,87.3h.7v.7h-.7zM322.9,84.8h.7v.7h-.7zM319.7,85.3h.7v.7h-.7zM329.6,74.1h.7v.7h-.7zM314.3,72.0h.7v.7h-.7zM330.9,89.4h.7v.7h-.7zM324.0,73.2h.7v.7h-.7zM319.4,79.5h.7v.7h-.7zM318.6,79.8h.7v.7h-.7zM322.2,78.4h.7v.7h-.7zM324.8,82.6h.7v.7h-.7zM315.7,80.3h.7v.7h-.7zM314.5,86.3h.7v.7h-.7zM315.8,82.9h.7v.7h-.7zM314.9,71.3h.7v.7h-.7zM325.2,74.1h.7v.7h-.7zM323.4,83.7h.7v.7h-.7zM304.8,74.9h.7v.7h-.7zM313.9,75.7h.7v.7h-.7zM308.5,85.8h.7v.7h-.7zM316.1,83.5h.7v.7h-.7zM314.6,83.0h.7v.7h-.7zM312.0,80.8h.7v.7h-.7zM322.7,81.3h.7v.7h-.7zM314.3,73.9h.7v.7h-.7zM319.3,83.2h.7v.7h-.7zM315.9,76.0h.7v.7h-.7zM315.6,83.2h.7v.7h-.7zM321.0,64.3h.7v.7h-.7zM319.0,76.4h.7v.7h-.7zM329.1,79.3h.7v.7h-.7zM311.8,79.6h.7v.7h-.7zM319.3,77.4h.7v.7h-.7zM317.6,72.2h.7v.7h-.7zM316.2,86.0h.7v.7h-.7zM333.8,85.6h.7v.7h-.7zM320.2,88.7h.7v.7h-.7zM326.2,91.8h.7v.7h-.7zM326.7,80.2h.7v.7h-.7zM320.1,82.2h.7v.7h-.7zM320.4,82.3h.7v.7h-.7zM311.7,67.3h.7v.7h-.7zM312.6,67.8h.7v.7h-.7zM318.5,81.0h.7v.7h-.7zM304.6,85.5h.7v.7h-.7zM324.9,81.6h.7v.7h-.7zM331.3,93.2h.7v.7h-.7zM308.4,87.7h.7v.7h-.7zM321.5,83.7h.7v.7h-.7zM325.5,76.3h.7v.7h-.7zM313.3,75.6h.7v.7h-.7zM312.0,80.4h.7v.7h-.7zM306.4,74.2h.7v.7h-.7zM322.6,80.5h.7v.7h-.7zM321.1,68.7h.7v.7h-.7zM311.7,77.4h.7v.7h-.7zM318.3,77.2h.7v.7h-.7zM325.5,80.6h.7v.7h-.7zM318.1,81.1h.7v.7h-.7zM323.7,77.9h.7v.7h-.7zM327.0,84.0h.7v.7h-.7zM319.2,81.3h.7v.7h-.7zM322.2,87.6h.7v.7h-.7zM325.6,83.4h.7v.7h-.7zM325.0,81.8h.7v.7h-.7zM328.0,80.8h.7v.7h-.7zM318.9,73.4h.7v.7h-.7zM316.4,75.3h.7v.7h-.7zM334.8,84.2h.7v.7h-.7zM305.5,84.6h.7v.7h-.7zM314.8,93.5h.7v.7h-.7zM309.6,66.4h.7v.7h-.7zM318.5,78.7h.7v.7h-.7zM314.7,67.1h.7v.7h-.7zM321.4,91.9h.7v.7h-.7zM321.5,79.8h.7v.7h-.7zM326.8,84.4h.7v.7h-.7zM313.3,85.6h.7v.7h-.7zM313.9,69.4h.7v.7h-.7zM334.3,78.7h.7v.7h-.7zM313.1,83.2h.7v.7h-.7zM305.5,72.2h.7v.7h-.7zM314.0,77.6h.7v.7h-.7zM318.6,88.3h.7v.7h-.7zM314.2,84.2h.7v.7h-.7zM322.8,74.0h.7v.7h-.7zM319.8,74.9h.7v.7h-.7zM326.5,84.0h.7v.7h-.7zM318.1,72.3h.7v.7h-.7zM318.9,76.0h.7v.7h-.7zM323.6,80.2h.7v.7h-.7zM311.5,87.0h.7v.7h-.7zM323.8,77.1h.7v.7h-.7zM327.3,79.1h.7v.7h-.7zM315.5,81.8h.7v.7h-.7zM312.0,78.1h.7v.7h-.7zM316.7,90.9h.7v.7h-.7zM330.0,79.3h.7v.7h-.7zM330.9,80.7h.7v.7h-.7zM321.0,86.7h.7v.7h-.7zM319.9,73.2h.7v.7h-.7zM328.4,78.3h.7v.7h-.7zM315.6,61.6h.7v.7h-.7zM326.0,86.3h.7v.7h-.7zM324.4,87.4h.7v.7h-.7zM331.5,80.7h.7v.7h-.7zM325.5,76.2h.7v.7h-.7zM315.2,87.9h.7v.7h-.7zM321.1,72.3h.7v.7h-.7zM320.9,79.8h.7v.7h-.7zM311.5,83.8h.7v.7h-.7zM314.8,70.8h.7v.7h-.7zM309.1,92.5h.7v.7h-.7zM305.9,82.4h.7v.7h-.7zM322.9,85.2h.7v.7h-.7zM308.2,78.9h.7v.7h-.7zM319.1,86.2h.7v.7h-.7zM312.8,73.4h.7v.7h-.7zM326.0,88.2h.7v.7h-.7zM321.0,77.0h.7v.7h-.7zM321.3,81.7h.7v.7h-.7zM324.7,72.9h.7v.7h-.7zM318.9,80.0h.7v.7h-.7zM309.1,82.4h.7v.7h-.7zM318.3,78.3h.7v.7h-.7zM321.2,71.8h.7v.7h-.7zM317.6,83.8h.7v.7h-.7zM320.3,88.0h.7v.7h-.7zM308.4,71.2h.7v.7h-.7zM319.9,84.0h.7v.7h-.7zM335.0,85.0h.7v.7h-.7zM311.0,86.2h.7v.7h-.7zM311.2,71.3h.7v.7h-.7zM338.9,83.1h.7v.7h-.7zM323.7,84.7h.7v.7h-.7zM332.5,82.8h.7v.7h-.7zM327.7,74.3h.7v.7h-.7zM306.9,90.3h.7v.7h-.7zM329.8,84.3h.7v.7h-.7zM319.8,82.1h.7v.7h-.7zM312.5,91.0h.7v.7h-.7zM323.3,84.3h.7v.7h-.7zM321.0,87.8h.7v.7h-.7zM322.0,85.8h.7v.7h-.7zM308.6,84.3h.7v.7h-.7zM335.5,77.6h.7v.7h-.7zM317.0,86.8h.7v.7h-.7zM325.7,85.1h.7v.7h-.7zM305.1,84.3h.7v.7h-.7zM308.5,75.6h.7v.7h-.7zM322.4,79.1h.7v.7h-.7zM324.2,85.7h.7v.7h-.7zM310.8,76.8h.7v.7h-.7zM309.5,77.5h.7v.7h-.7zM309.3,76.7h.7v.7h-.7zM316.3,74.5h.7v.7h-.7zM306.6,72.2h.7v.7h-.7zM321.6,81.4h.7v.7h-.7zM326.2,87.8h.7v.7h-.7zM315.3,85.4h.7v.7h-.7zM327.6,79.6h.7v.7h-.7zM308.7,83.5h.7v.7h-.7zM324.0,81.5h.7v.7h-.7zM314.1,87.2h.7v.7h-.7zM309.7,82.9h.7v.7h-.7zM314.0,75.5h.7v.7h-.7zM321.7,74.5h.7v.7h-.7zM333.2,77.2h.7v.7h-.7zM333.9,73.9h.7v.7h-.7zM322.8,73.2h.7v.7h-.7zM307.3,82.0h.7v.7h-.7zM323.4,72.7h.7v.7h-.7zM327.5,75.8h.7v.7h-.7zM319.0,83.5h.7v.7h-.7zM322.8,69.3h.7v.7h-.7zM330.9,84.7h.7v.7h-.7zM314.6,74.3h.7v.7h-.7zM304.4,72.2h.7v.7h-.7zM322.4,78.8h.7v.7h-.7zM308.9,77.6h.7v.7h-.7zM330.5,78.9h.7v.7h-.7zM313.3,89.8h.7v.7h-.7zM321.7,81.3h.7v.7h-.7zM313.1,70.9h.7v.7h-.7zM308.6,77.9h.7v.7h-.7zM316.2,83.3h.7v.7h-.7zM322.4,82.4h.7v.7h-.7zM319.8,74.5h.7v.7h-.7zM310.4,76.8h.7v.7h-.7zM315.8,72.9h.7v.7h-.7zM309.1,80.3h.7v.7h-.7zM318.9,76.7h.7v.7h-.7zM322.0,79.6h.7v.7h-.7zM309.8,81.3h.7v.7h-.7zM333.1,76.6h.7v.7h-.7zM327.3,90.0h.7v.7h-.7zM330.0,75.7h.7v.7h-.7zM334.1,81.8h.7v.7h-.7zM316.0,79.5h.7v.7h-.7zM322.8,81.3h.7v.7h-.7zM316.6,89.3h.7v.7h-.7zM312.2,74.2h.7v.7h-.7zM324.3,85.6h.7v.7h-.7zM326.8,74.0h.7v.7h-.7zM326.7,84.1h.7v.7h-.7zM332.1,72.9h.7v.7h-.7zM319.7,79.2h.7v.7h-.7zM305.3,76.4h.7v.7h-.7zM327.0,78.0h.7v.7h-.7zM312.2,86.6h.7v.7h-.7zM325.9,87.4h.7v.7h-.7zM311.7,80.6h.7v.7h-.7zM326.2,76.7h.7v.7h-.7zM312.0,86.4h.7v.7h-.7zM330.5,73.5h.7v.7h-.7zM309.9,80.1h.7v.7h-.7zM322.9,80.0h.7v.7h-.7zM312.4,82.0h.7v.7h-.7zM310.3,80.7h.7v.7h-.7zM324.5,75.6h.7v.7h-.7zM310.0,78.2h.7v.7h-.7zM304.8,76.3h.7v.7h-.7zM312.1,86.7h.7v.7h-.7zM314.6,75.9h.7v.7h-.7zM307.3,73.4h.7v.7h-.7zM317.5,79.6h.7v.7h-.7zM327.1,76.9h.7v.7h-.7zM326.5,82.7h.7v.7h-.7zM318.0,67.9h.7v.7h-.7zM307.7,85.8h.7v.7h-.7zM329.2,82.3h.7v.7h-.7zM324.1,78.3h.7v.7h-.7zM315.0,76.7h.7v.7h-.7zM325.8,83.2h.7v.7h-.7zM316.1,78.9h.7v.7h-.7zM322.5,83.1h.7v.7h-.7zM311.3,92.2h.7v.7h-.7zM320.1,81.1h.7v.7h-.7zM329.8,87.7h.7v.7h-.7zM317.3,84.5h.7v.7h-.7zM309.4,76.8h.7v.7h-.7zM311.4,74.6h.7v.7h-.7zM316.4,82.7h.7v.7h-.7zM322.9,92.5h.7v.7h-.7zM320.9,86.7h.7v.7h-.7zM313.2,85.6h.7v.7h-.7zM319.2,78.0h.7v.7h-.7zM317.2,80.6h.7v.7h-.7zM319.5,83.6h.7v.7h-.7zM313.9,76.2h.7v.7h-.7zM324.0,70.0h.7v.7h-.7zM313.1,91.1h.7v.7h-.7zM323.5,70.3h.7v.7h-.7zM338.8,64.2h.7v.7h-.7zM329.5,91.1h.7v.7h-.7zM325.3,79.6h.7v.7h-.7zM320.9,75.2h.7v.7h-.7zM324.5,73.7h.7v.7h-.7zM315.8,87.5h.7v.7h-.7zM309.1,78.6h.7v.7h-.7zM319.3,72.3h.7v.7h-.7zM327.3,83.2h.7v.7h-.7zM305.9,80.7h.7v.7h-.7zM311.8,76.7h.7v.7h-.7zM318.6,76.4h.7v.7h-.7zM325.7,76.4h.7v.7h-.7zM325.9,80.7h.7v.7h-.7zM324.8,77.5h.7v.7h-.7zM314.0,73.5h.7v.7h-.7zM322.6,87.1h.7v.7h-.7zM335.0,89.4h.7v.7h-.7zM320.0,79.6h.7v.7h-.7zM321.1,80.8h.7v.7h-.7zM329.7,87.1h.7v.7h-.7zM311.3,76.5h.7v.7h-.7zM328.9,83.0h.7v.7h-.7zM316.1,88.7h.7v.7h-.7zM314.9,79.2h.7v.7h-.7zM314.3,68.2h.7v.7h-.7zM324.9,73.1h.7v.7h-.7zM313.5,76.2h.7v.7h-.7zM323.8,80.6h.7v.7h-.7zM318.1,70.1h.7v.7h-.7zM317.3,71.4h.7v.7h-.7zM320.5,83.4h.7v.7h-.7zM317.9,94.3h.7v.7h-.7zM322.2,84.9h.7v.7h-.7zM319.1,79.7h.7v.7h-.7zM325.7,88.2h.7v.7h-.7zM307.6,87.9h.7v.7h-.7zM322.1,87.2h.7v.7h-.7zM321.7,72.9h.7v.7h-.7zM308.6,92.9h.7v.7h-.7zM320.0,71.8h.7v.7h-.7zM320.8,78.6h.7v.7h-.7zM305.2,82.8h.7v.7h-.7zM317.6,79.4h.7v.7h-.7zM320.3,84.9h.7v.7h-.7zM311.4,73.0h.7v.7h-.7zM313.6,80.2h.7v.7h-.7zM315.9,71.5h.7v.7h-.7zM314.1,94.1h.7v.7h-.7zM309.6,70.0h.7v.7h-.7zM320.2,84.9h.7v.7h-.7zM321.7,73.7h.7v.7h-.7zM326.0,75.9h.7v.7h-.7zM308.9,77.0h.7v.7h-.7zM317.1,85.6h.7v.7h-.7zM323.0,80.9h.7v.7h-.7zM325.5,81.5h.7v.7h-.7zM325.2,71.9h.7v.7h-.7zM305.4,86.0h.7v.7h-.7zM306.9,79.0h.7v.7h-.7zM317.2,77.8h.7v.7h-.7zM314.4,90.1h.7v.7h-.7zM336.4,81.2h.7v.7h-.7zM317.8,85.7h.7v.7h-.7zM332.6,73.3h.7v.7h-.7zM318.7,79.8h.7v.7h-.7zM322.5,82.0h.7v.7h-.7zM323.3,78.3h.7v.7h-.7zM318.4,76.6h.7v.7h-.7zM312.7,80.1h.7v.7h-.7zM316.9,73.4h.7v.7h-.7zM330.6,80.1h.7v.7h-.7zM306.9,88.2h.7v.7h-.7zM312.0,84.3h.7v.7h-.7zM317.9,82.6h.7v.7h-.7zM319.4,77.3h.7v.7h-.7zM318.3,94.2h.7v.7h-.7zM321.5,74.2h.7v.7h-.7zM315.0,94.5h.7v.7h-.7zM322.3,81.5h.7v.7h-.7zM321.8,85.1h.7v.7h-.7zM327.4,83.8h.7v.7h-.7zM319.2,82.1h.7v.7h-.7zM328.8,86.3h.7v.7h-.7zM310.0,76.9h.7v.7h-.7zM320.6,77.0h.7v.7h-.7zM315.0,74.8h.7v.7h-.7zM315.9,83.8h.7v.7h-.7zM326.0,81.1h.7v.7h-.7zM334.6,80.5h.7v.7h-.7zM343.5,87.5h.7v.7h-.7zM322.0,77.8h.7v.7h-.7zM319.4,93.5h.7v.7h-.7zM307.0,93.4h.7v.7h-.7zM316.0,85.7h.7v.7h-.7zM315.3,85.4h.7v.7h-.7zM318.7,73.6h.7v.7h-.7zM325.6,85.5h.7v.7h-.7zM322.8,87.6h.7v.7h-.7zM326.8,80.9h.7v.7h-.7zM307.1,72.0h.7v.7h-.7zM328.8,85.6h.7v.7h-.7zM318.8,78.2h.7v.7h-.7zM318.3,81.2h.7v.7h-.7zM315.3,76.5h.7v.7h-.7zM335.3,82.5h.7v.7h-.7zM313.2,72.5h.7v.7h-.7zM312.2,85.7h.7v.7h-.7zM324.1,79.6h.7v.7h-.7zM318.4,79.0h.7v.7h-.7zM309.1,89.5h.7v.7h-.7zM312.0,80.1h.7v.7h-.7zM325.1,79.4h.7v.7h-.7zM306.9,74.8h.7v.7h-.7zM318.8,83.2h.7v.7h-.7zM317.2,87.5h.7v.7h-.7zM325.9,83.1h.7v.7h-.7zM318.2,79.4h.7v.7h-.7zM322.4,87.0h.7v.7h-.7zM318.5,83.9h.7v.7h-.7zM315.4,71.8h.7v.7h-.7zM310.0,86.0h.7v.7h-.7zM321.6,91.3h.7v.7h-.7zM318.4,86.6h.7v.7h-.7zM328.6,87.5h.7v.7h-.7zM313.1,79.8h.7v.7h-.7zM319.0,74.6h.7v.7h-.7zM321.8,87.7h.7v.7h-.7zM314.2,93.8h.7v.7h-.7zM315.7,79.7h.7v.7h-.7zM316.1,76.4h.7v.7h-.7zM321.3,81.1h.7v.7h-.7zM331.3,84.9h.7v.7h-.7zM322.3,79.6h.7v.7h-.7zM306.7,80.4h.7v.7h-.7zM311.2,87.2h.7v.7h-.7zM317.8,91.8h.7v.7h-.7zM323.9,86.4h.7v.7h-.7zM319.8,82.4h.7v.7h-.7zM323.2,87.0h.7v.7h-.7zM312.3,84.2h.7v.7h-.7zM339.0,80.4h.7v.7h-.7zM316.0,76.5h.7v.7h-.7zM306.4,88.7h.7v.7h-.7zM318.5,82.9h.7v.7h-.7zM310.9,87.9h.7v.7h-.7zM323.0,83.6h.7v.7h-.7zM321.8,80.9h.7v.7h-.7zM330.7,85.0h.7v.7h-.7zM320.8,89.1h.7v.7h-.7zM325.2,84.0h.7v.7h-.7zM320.6,92.4h.7v.7h-.7zM322.1,80.4h.7v.7h-.7zM311.2,78.8h.7v.7h-.7zM309.6,81.7h.7v.7h-.7zM320.1,67.7h.7v.7h-.7zM318.2,85.2h.7v.7h-.7zM319.4,74.8h.7v.7h-.7zM328.2,76.5h.7v.7h-.7zM308.2,74.0h.7v.7h-.7zM317.9,87.4h.7v.7h-.7zM327.3,82.4h.7v.7h-.7zM308.5,76.7h.7v.7h-.7zM310.8,79.9h.7v.7h-.7zM303.8,81.7h.7v.7h-.7zM323.2,80.0h.7v.7h-.7zM321.7,74.9h.7v.7h-.7zM306.4,76.9h.7v.7h-.7zM327.3,87.7h.7v.7h-.7zM314.4,88.8h.7v.7h-.7zM315.4,90.8h.7v.7h-.7zM321.9,78.1h.7v.7h-.7zM324.4,76.0h.7v.7h-.7zM310.5,71.6h.7v.7h-.7zM320.1,80.7h.7v.7h-.7zM317.4,78.3h.7v.7h-.7zM329.5,78.2h.7v.7h-.7zM312.2,89.1h.7v.7h-.7zM329.4,83.2h.7v.7h-.7zM304.1,77.1h.7v.7h-.7zM322.9,81.1h.7v.7h-.7zM330.4,72.1h.7v.7h-.7zM323.4,76.9h.7v.7h-.7zM328.6,80.5h.7v.7h-.7zM326.2,76.8h.7v.7h-.7zM306.7,73.8h.7v.7h-.7zM313.1,74.3h.7v.7h-.7zM327.6,89.7h.7v.7h-.7zM320.2,74.3h.7v.7h-.7zM317.1,76.5h.7v.7h-.7zM329.6,83.1h.7v.7h-.7zM321.9,78.4h.7v.7h-.7zM309.1,83.4h.7v.7h-.7zM318.8,75.8h.7v.7h-.7zM314.9,91.2h.7v.7h-.7zM310.3,75.0h.7v.7h-.7zM316.2,76.5h.7v.7h-.7zM314.6,84.5h.7v.7h-.7zM331.9,69.4h.7v.7h-.7zM317.9,81.3h.7v.7h-.7zM317.3,79.8h.7v.7h-.7zM315.3,87.5h.7v.7h-.7zM314.3,80.2h.7v.7h-.7zM318.0,81.7h.7v.7h-.7zM316.6,87.5h.7v.7h-.7zM317.9,82.1h.7v.7h-.7zM317.6,74.5h.7v.7h-.7zM311.4,74.2h.7v.7h-.7zM319.5,76.4h.7v.7h-.7zM309.5,82.5h.7v.7h-.7zM322.2,69.6h.7v.7h-.7zM331.5,81.2h.7v.7h-.7zM317.2,87.9h.7v.7h-.7zM318.6,77.1h.7v.7h-.7zM335.6,74.0h.7v.7h-.7zM317.2,86.5h.7v.7h-.7zM309.4,80.3h.7v.7h-.7zM310.9,80.7h.7v.7h-.7zM323.3,81.5h.7v.7h-.7zM308.4,83.7h.7v.7h-.7zM318.9,83.9h.7v.7h-.7zM327.1,87.6h.7v.7h-.7zM321.3,83.0h.7v.7h-.7zM309.2,80.1h.7v.7h-.7zM319.8,78.4h.7v.7h-.7zM318.8,75.6h.7v.7h-.7zM314.9,83.6h.7v.7h-.7zM316.1,89.2h.7v.7h-.7zM321.5,81.5h.7v.7h-.7zM316.2,81.8h.7v.7h-.7zM310.0,85.4h.7v.7h-.7zM312.3,84.5h.7v.7h-.7zM319.0,88.1h.7v.7h-.7zM317.9,87.6h.7v.7h-.7zM310.6,85.0h.7v.7h-.7zM316.2,82.3h.7v.7h-.7zM318.6,87.1h.7v.7h-.7zM306.0,88.8h.7v.7h-.7zM304.6,91.7h.7v.7h-.7zM307.7,81.7h.7v.7h-.7zM313.7,69.3h.7v.7h-.7zM315.3,85.3h.7v.7h-.7zM316.5,87.1h.7v.7h-.7zM315.1,81.0h.7v.7h-.7zM314.9,83.2h.7v.7h-.7zM333.2,83.4h.7v.7h-.7zM319.6,77.0h.7v.7h-.7zM312.0,90.5h.7v.7h-.7zM309.1,75.1h.7v.7h-.7zM317.2,78.2h.7v.7h-.7zM333.6,65.6h.7v.7h-.7zM320.9,85.6h.7v.7h-.7zM309.0,76.8h.7v.7h-.7zM321.5,91.6h.7v.7h-.7zM310.6,70.7h.7v.7h-.7zM325.8,90.9h.7v.7h-.7zM315.3,66.6h.7v.7h-.7zM329.6,79.7h.7v.7h-.7zM327.0,80.7h.7v.7h-.7zM315.0,78.1h.7v.7h-.7zM329.8,90.3h.7v.7h-.7zM332.2,78.6h.7v.7h-.7zM307.1,81.0h.7v.7h-.7zM317.1,80.4h.7v.7h-.7zM314.2,79.0h.7v.7h-.7zM314.4,83.2h.7v.7h-.7zM311.5,79.1h.7v.7h-.7zM316.8,89.5h.7v.7h-.7zM321.0,80.3h.7v.7h-.7zM322.3,83.6h.7v.7h-.7zM326.7,84.3h.7v.7h-.7zM332.4,89.7h.7v.7h-.7zM317.7,78.3h.7v.7h-.7zM325.1,84.4h.7v.7h-.7zM317.2,71.4h.7v.7h-.7zM324.2,86.2h.7v.7h-.7zM307.7,87.7h.7v.7h-.7zM313.7,83.5h.7v.7h-.7zM321.3,75.8h.7v.7h-.7zM313.3,67.5h.7v.7h-.7zM310.7,69.3h.7v.7h-.7zM321.5,81.4h.7v.7h-.7zM325.3,83.3h.7v.7h-.7zM312.9,83.3h.7v.7h-.7zM314.9,85.0h.7v.7h-.7zM320.5,74.6h.7v.7h-.7zM318.0,81.4h.7v.7h-.7zM315.5,86.8h.7v.7h-.7zM331.7,78.6h.7v.7h-.7zM315.2,66.4h.7v.7h-.7zM317.0,78.2h.7v.7h-.7zM322.7,76.2h.7v.7h-.7zM315.0,74.7h.7v.7h-.7zM324.1,71.1h.7v.7h-.7zM315.5,93.7h.7v.7h-.7zM318.4,84.0h.7v.7h-.7zM316.8,73.4h.7v.7h-.7zM317.7,83.6h.7v.7h-.7zM309.8,83.2h.7v.7h-.7zM328.0,88.0h.7v.7h-.7zM305.3,74.7h.7v.7h-.7zM305.1,88.0h.7v.7h-.7zM322.9,85.6h.7v.7h-.7zM311.0,73.4h.7v.7h-.7zM318.6,81.7h.7v.7h-.7zM311.2,81.9h.7v.7h-.7zM323.2,82.5h.7v.7h-.7zM309.7,67.3h.7v.7h-.7zM315.9,82.1h.7v.7h-.7zM315.9,78.2h.7v.7h-.7zM312.5,85.7h.7v.7h-.7zM317.6,81.8h.7v.7h-.7zM310.2,77.0h.7v.7h-.7zM319.3,74.5h.7v.7h-.7zM307.9,78.9h.7v.7h-.7zM327.6,82.2h.7v.7h-.7zM329.7,80.1h.7v.7h-.7zM315.5,72.0h.7v.7h-.7zM313.4,90.3h.7v.7h-.7zM320.6,85.8h.7v.7h-.7zM323.6,80.9h.7v.7h-.7zM316.4,81.8h.7v.7h-.7zM323.4,84.0h.7v.7h-.7zM321.9,82.0h.7v.7h-.7zM311.8,79.3h.7v.7h-.7zM310.5,87.5h.7v.7h-.7zM337.1,78.8h.7v.7h-.7zM308.9,80.9h.7v.7h-.7zM328.3,80.0h.7v.7h-.7zM322.9,81.6h.7v.7h-.7zM318.6,77.5h.7v.7h-.7zM314.1,83.5h.7v.7h-.7zM321.3,86.0h.7v.7h-.7zM319.1,71.7h.7v.7h-.7zM322.3,79.0h.7v.7h-.7zM315.7,71.4h.7v.7h-.7zM313.4,76.3h.7v.7h-.7zM317.7,71.6h.7v.7h-.7zM318.4,81.8h.7v.7h-.7zM309.0,76.9h.7v.7h-.7zM311.1,86.9h.7v.7h-.7zM304.7,78.2h.7v.7h-.7zM324.8,76.9h.7v.7h-.7zM319.1,75.5h.7v.7h-.7zM333.5,86.9h.7v.7h-.7zM327.0,72.4h.7v.7h-.7zM309.2,88.0h.7v.7h-.7zM316.4,79.3h.7v.7h-.7zM320.7,72.8h.7v.7h-.7zM324.2,81.1h.7v.7h-.7zM321.8,76.6h.7v.7h-.7zM322.1,76.4h.7v.7h-.7zM325.6,88.3h.7v.7h-.7zM325.3,84.4h.7v.7h-.7zM323.1,63.4h.7v.7h-.7zM324.7,79.2h.7v.7h-.7zM318.8,79.2h.7v.7h-.7zM306.9,77.5h.7v.7h-.7zM323.3,90.2h.7v.7h-.7zM313.0,75.1h.7v.7h-.7zM329.6,75.3h.7v.7h-.7zM334.6,81.3h.7v.7h-.7zM310.9,87.4h.7v.7h-.7zM331.5,71.7h.7v.7h-.7zM330.5,79.2h.7v.7h-.7zM329.9,78.5h.7v.7h-.7zM305.4,84.3h.7v.7h-.7zM325.4,94.6h.7v.7h-.7zM331.8,85.5h.7v.7h-.7zM316.1,77.6h.7v.7h-.7zM315.6,75.6h.7v.7h-.7zM315.8,64.5h.7v.7h-.7zM319.4,80.8h.7v.7h-.7zM338.5,85.9h.7v.7h-.7zM314.2,84.7h.7v.7h-.7zM308.2,77.1h.7v.7h-.7zM322.7,73.4h.7v.7h-.7zM317.5,87.2h.7v.7h-.7zM322.0,83.5h.7v.7h-.7zM311.1,76.9h.7v.7h-.7zM318.8,87.0h.7v.7h-.7zM311.4,73.7h.7v.7h-.7zM327.2,75.0h.7v.7h-.7zM326.6,82.6h.7v.7h-.7zM325.0,92.3h.7v.7h-.7zM323.5,86.0h.7v.7h-.7zM310.7,76.5h.7v.7h-.7zM323.2,91.0h.7v.7h-.7zM320.5,82.3h.7v.7h-.7zM326.0,81.1h.7v.7h-.7zM317.5,74.2h.7v.7h-.7zM325.9,74.0h.7v.7h-.7zM322.1,71.8h.7v.7h-.7zM326.8,74.3h.7v.7h-.7zM324.7,70.7h.7v.7h-.7zM314.5,88.7h.7v.7h-.7zM311.6,81.4h.7v.7h-.7zM314.2,66.0h.7v.7h-.7zM320.5,83.8h.7v.7h-.7zM309.1,84.7h.7v.7h-.7zM311.6,74.5h.7v.7h-.7zM318.1,76.6h.7v.7h-.7zM336.3,70.9h.7v.7h-.7zM323.9,87.4h.7v.7h-.7zM322.5,77.9h.7v.7h-.7zM321.1,88.4h.7v.7h-.7zM315.0,74.1h.7v.7h-.7zM310.6,83.0h.7v.7h-.7zM319.9,72.0h.7v.7h-.7zM331.8,88.0h.7v.7h-.7zM324.8,73.3h.7v.7h-.7zM314.7,77.4h.7v.7h-.7zM314.7,73.7h.7v.7h-.7zM321.5,82.5h.7v.7h-.7zM320.9,77.7h.7v.7h-.7zM328.3,82.2h.7v.7h-.7zM317.5,87.3h.7v.7h-.7zM315.6,79.4h.7v.7h-.7zM312.7,85.3h.7v.7h-.7zM314.4,77.1h.7v.7h-.7zM312.1,84.6h.7v.7h-.7zM313.7,70.1h.7v.7h-.7zM323.0,76.4h.7v.7h-.7zM320.9,83.4h.7v.7h-.7zM327.6,87.8h.7v.7h-.7zM313.4,79.9h.7v.7h-.7zM307.7,91.9h.7v.7h-.7zM321.5,90.1h.7v.7h-.7zM315.4,67.7h.7v.7h-.7zM330.3,81.6h.7v.7h-.7zM319.1,81.4h.7v.7h-.7zM323.2,84.5h.7v.7h-.7zM305.3,88.1h.7v.7h-.7zM313.8,78.0h.7v.7h-.7zM331.8,87.0h.7v.7h-.7zM315.3,68.9h.7v.7h-.7zM319.3,84.5h.7v.7h-.7zM317.4,72.9h.7v.7h-.7zM311.7,72.8h.7v.7h-.7zM319.7,86.3h.7v.7h-.7zM326.2,76.2h.7v.7h-.7zM319.9,84.6h.7v.7h-.7zM313.9,80.0h.7v.7h-.7zM335.0,82.3h.7v.7h-.7zM325.1,78.2h.7v.7h-.7zM318.3,69.9h.7v.7h-.7zM317.8,88.7h.7v.7h-.7zM334.8,88.8h.7v.7h-.7zM323.5,81.3h.7v.7h-.7zM313.2,80.0h.7v.7h-.7zM322.9,75.9h.7v.7h-.7zM325.5,74.6h.7v.7h-.7zM303.8,74.4h.7v.7h-.7zM304.7,72.1h.7v.7h-.7zM327.1,79.7h.7v.7h-.7zM319.7,88.5h.7v.7h-.7zM328.1,77.7h.7v.7h-.7zM328.6,83.5h.7v.7h-.7zM318.0,83.9h.7v.7h-.7zM306.6,75.9h.7v.7h-.7zM317.1,85.0h.7v.7h-.7zM315.0,80.2h.7v.7h-.7zM325.8,90.2h.7v.7h-.7zM324.1,89.2h.7v.7h-.7zM314.8,79.0h.7v.7h-.7zM320.5,79.0h.7v.7h-.7zM313.9,91.7h.7v.7h-.7zM316.4,74.7h.7v.7h-.7zM321.9,92.9h.7v.7h-.7zM318.6,89.0h.7v.7h-.7zM314.5,77.8h.7v.7h-.7zM312.5,80.1h.7v.7h-.7zM332.7,73.5h.7v.7h-.7zM331.1,74.4h.7v.7h-.7zM316.1,86.4h.7v.7h-.7zM323.0,82.8h.7v.7h-.7zM304.8,83.4h.7v.7h-.7zM316.3,82.2h.7v.7h-.7zM308.8,77.9h.7v.7h-.7zM307.7,87.4h.7v.7h-.7zM315.9,84.7h.7v.7h-.7zM312.5,77.7h.7v.7h-.7zM328.3,74.7h.7v.7h-.7zM303.6,83.6h.7v.7h-.7zM308.9,78.1h.7v.7h-.7zM325.3,75.7h.7v.7h-.7zM325.0,76.6h.7v.7h-.7zM329.9,89.6h.7v.7h-.7zM314.2,79.6h.7v.7h-.7zM311.3,82.3h.7v.7h-.7zM327.2,71.6h.7v.7h-.7zM325.3,72.4h.7v.7h-.7zM311.1,69.4h.7v.7h-.7zM334.8,81.4h.7v.7h-.7zM320.0,76.6h.7v.7h-.7zM326.5,67.3h.7v.7h-.7zM314.9,81.1h.7v.7h-.7zM323.4,75.7h.7v.7h-.7zM318.2,87.2h.7v.7h-.7zM319.6,83.4h.7v.7h-.7zM315.2,83.1h.7v.7h-.7zM318.4,90.5h.7v.7h-.7zM323.8,79.4h.7v.7h-.7zM324.0,75.0h.7v.7h-.7zM325.4,74.1h.7v.7h-.7zM314.3,82.4h.7v.7h-.7zM327.8,80.9h.7v.7h-.7zM317.2,77.4h.7v.7h-.7zM331.0,87.9h.7v.7h-.7zM317.2,71.9h.7v.7h-.7zM311.7,84.8h.7v.7h-.7zM312.2,86.8h.7v.7h-.7zM320.9,82.9h.7v.7h-.7zM323.2,84.2h.7v.7h-.7zM311.2,78.9h.7v.7h-.7zM336.7,73.1h.7v.7h-.7zM314.2,87.9h.7v.7h-.7zM316.7,75.7h.7v.7h-.7zM307.4,84.5h.7v.7h-.7zM326.2,90.1h.7v.7h-.7zM318.4,87.8h.7v.7h-.7zM309.7,82.1h.7v.7h-.7zM312.6,82.1h.7v.7h-.7zM324.0,88.0h.7v.7h-.7zM310.1,89.2h.7v.7h-.7zM314.2,74.3h.7v.7h-.7zM316.6,71.5h.7v.7h-.7zM318.0,82.9h.7v.7h-.7zM316.4,84.5h.7v.7h-.7zM315.5,81.0h.7v.7h-.7zM306.5,81.3h.7v.7h-.7zM311.2,78.1h.7v.7h-.7zM317.3,82.2h.7v.7h-.7zM304.8,70.8h.7v.7h-.7zM315.6,84.1h.7v.7h-.7zM320.9,86.8h.7v.7h-.7zM328.4,84.2h.7v.7h-.7zM317.8,74.3h.7v.7h-.7zM310.4,78.0h.7v.7h-.7zM320.1,82.4h.7v.7h-.7zM318.0,80.0h.7v.7h-.7zM323.0,82.4h.7v.7h-.7zM320.4,83.0h.7v.7h-.7zM313.6,74.3h.7v.7h-.7zM321.9,83.7h.7v.7h-.7zM316.2,78.3h.7v.7h-.7zM336.2,76.1h.7v.7h-.7zM316.3,82.7h.7v.7h-.7zM308.8,81.8h.7v.7h-.7zM332.4,87.1h.7v.7h-.7zM323.1,84.9h.7v.7h-.7zM318.9,87.2h.7v.7h-.7zM316.8,78.3h.7v.7h-.7zM318.8,86.9h.7v.7h-.7zM320.6,85.4h.7v.7h-.7zM336.7,89.7h.7v.7h-.7zM315.5,75.5h.7v.7h-.7zM320.2,74.6h.7v.7h-.7zM323.8,77.6h.7v.7h-.7zM325.7,89.9h.7v.7h-.7zM312.4,71.8h.7v.7h-.7zM313.1,79.6h.7v.7h-.7zM326.3,71.1h.7v.7h-.7zM326.4,94.1h.7v.7h-.7zM322.8,84.5h.7v.7h-.7zM317.9,73.4h.7v.7h-.7zM322.3,83.5h.7v.7h-.7zM323.8,83.8h.7v.7h-.7zM330.5,72.3h.7v.7h-.7zM308.9,78.6h.7v.7h-.7zM312.8,85.5h.7v.7h-.7zM315.5,92.3h.7v.7h-.7zM330.2,86.0h.7v.7h-.7zM314.9,85.0h.7v.7h-.7zM324.5,74.1h.7v.7h-.7zM320.8,85.6h.7v.7h-.7zM319.7,91.2h.7v.7h-.7zM327.7,75.6h.7v.7h-.7zM319.0,75.6h.7v.7h-.7zM322.6,75.4h.7v.7h-.7zM325.4,83.5h.7v.7h-.7zM325.8,80.1h.7v.7h-.7zM306.3,92.5h.7v.7h-.7zM316.6,89.9h.7v.7h-.7zM321.4,85.4h.7v.7h-.7zM332.6,83.2h.7v.7h-.7zM329.2,71.4h.7v.7h-.7zM325.0,79.4h.7v.7h-.7zM316.9,81.1h.7v.7h-.7zM320.8,91.8h.7v.7h-.7zM312.3,88.6h.7v.7h-.7zM314.6,84.0h.7v.7h-.7zM314.8,85.3h.7v.7h-.7zM326.1,78.4h.7v.7h-.7zM318.4,71.8h.7v.7h-.7zM320.4,86.6h.7v.7h-.7zM313.6,88.3h.7v.7h-.7zM306.9,77.8h.7v.7h-.7zM318.1,80.5h.7v.7h-.7zM317.5,85.7h.7v.7h-.7zM314.2,72.8h.7v.7h-.7zM329.7,84.1h.7v.7h-.7zM311.4,81.0h.7v.7h-.7zM324.9,88.9h.7v.7h-.7zM310.8,85.9h.7v.7h-.7zM320.0,88.2h.7v.7h-.7zM329.1,78.8h.7v.7h-.7zM306.4,83.6h.7v.7h-.7zM332.2,85.5h.7v.7h-.7zM309.7,86.9h.7v.7h-.7zM313.4,81.3h.7v.7h-.7zM318.7,90.8h.7v.7h-.7zM310.5,77.5h.7v.7h-.7zM305.3,84.2h.7v.7h-.7zM314.3,83.7h.7v.7h-.7zM309.4,78.7h.7v.7h-.7zM326.3,79.9h.7v.7h-.7zM323.0,84.4h.7v.7h-.7zM315.2,70.9h.7v.7h-.7zM325.9,82.1h.7v.7h-.7zM325.9,67.9h.7v.7h-.7zM304.8,67.1h.7v.7h-.7zM311.0,87.8h.7v.7h-.7zM322.5,80.8h.7v.7h-.7zM319.0,85.9h.7v.7h-.7zM315.6,83.6h.7v.7h-.7zM319.1,66.8h.7v.7h-.7zM314.9,89.8h.7v.7h-.7zM314.8,80.1h.7v.7h-.7zM313.1,77.8h.7v.7h-.7zM327.0,79.3h.7v.7h-.7zM309.8,60.8h.7v.7h-.7zM313.4,68.2h.7v.7h-.7zM323.7,68.5h.7v.7h-.7zM324.8,84.0h.7v.7h-.7zM311.7,85.8h.7v.7h-.7zM305.0,73.2h.7v.7h-.7zM306.5,73.8h.7v.7h-.7zM325.0,72.3h.7v.7h-.7zM308.8,74.8h.7v.7h-.7zM319.6,78.8h.7v.7h-.7zM324.9,76.4h.7v.7h-.7zM307.7,77.7h.7v.7h-.7zM318.3,74.9h.7v.7h-.7zM320.2,92.8h.7v.7h-.7zM313.3,81.2h.7v.7h-.7zM328.7,76.7h.7v.7h-.7zM311.1,73.8h.7v.7h-.7zM321.1,84.3h.7v.7h-.7zM316.7,81.2h.7v.7h-.7zM328.1,86.5h.7v.7h-.7zM306.6,80.8h.7v.7h-.7zM318.7,85.5h.7v.7h-.7zM316.0,76.6h.7v.7h-.7zM314.1,69.3h.7v.7h-.7zM317.6,76.9h.7v.7h-.7zM321.5,74.1h.7v.7h-.7zM314.3,74.4h.7v.7h-.7zM309.2,85.3h.7v.7h-.7zM314.0,83.7h.7v.7h-.7zM308.8,81.4h.7v.7h-.7zM304.2,77.7h.7v.7h-.7zM313.7,84.5h.7v.7h-.7zM319.1,79.6h.7v.7h-.7zM324.4,82.0h.7v.7h-.7zM322.0,85.7h.7v.7h-.7zM317.1,78.8h.7v.7h-.7zM320.3,78.0h.7v.7h-.7zM320.7,87.9h.7v.7h-.7zM324.5,78.2h.7v.7h-.7zM307.4,80.3h.7v.7h-.7zM316.6,87.9h.7v.7h-.7zM314.6,79.3h.7v.7h-.7zM323.5,77.6h.7v.7h-.7zM316.4,91.8h.7v.7h-.7zM329.5,84.8h.7v.7h-.7zM319.8,74.4h.7v.7h-.7zM322.1,81.1h.7v.7h-.7zM319.4,77.3h.7v.7h-.7zM317.5,79.5h.7v.7h-.7zM320.1,90.0h.7v.7h-.7zM320.5,69.9h.7v.7h-.7zM309.9,70.4h.7v.7h-.7zM311.3,84.3h.7v.7h-.7zM320.8,76.8h.7v.7h-.7zM319.7,75.8h.7v.7h-.7zM306.3,71.6h.7v.7h-.7zM310.8,89.9h.7v.7h-.7zM306.9,88.8h.7v.7h-.7zM328.2,79.5h.7v.7h-.7zM317.2,76.7h.7v.7h-.7zM317.4,84.9h.7v.7h-.7zM317.7,87.1h.7v.7h-.7zM327.1,82.9h.7v.7h-.7z" fill="#000" fill-opacity="0.26"/>
<path d="M341.4,80.4h.7v.7h-.7zM341.5,75.2h.7v.7h-.7zM341.8,81.8h.7v.7h-.7zM335.4,91.5h.7v.7h-.7zM334.9,76.4h.7v.7h-.7zM341.1,71.1h.7v.7h-.7zM335.8,73.1h.7v.7h-.7zM334.9,80.1h.7v.7h-.7zM341.3,86.2h.7v.7h-.7zM343.8,86.6h.7v.7h-.7zM342.7,78.4h.7v.7h-.7zM345.3,78.3h.7v.7h-.7zM336.7,88.4h.7v.7h-.7zM343.7,81.8h.7v.7h-.7zM343.5,85.1h.7v.7h-.7zM332.9,80.3h.7v.7h-.7zM333.8,81.3h.7v.7h-.7zM336.4,87.5h.7v.7h-.7zM342.3,76.7h.7v.7h-.7zM339.6,74.7h.7v.7h-.7zM339.9,83.5h.7v.7h-.7zM341.0,71.1h.7v.7h-.7zM338.0,83.3h.7v.7h-.7zM341.2,86.5h.7v.7h-.7zM333.3,83.3h.7v.7h-.7zM336.5,81.7h.7v.7h-.7zM341.7,84.1h.7v.7h-.7zM336.8,81.6h.7v.7h-.7zM333.9,73.7h.7v.7h-.7zM342.5,80.4h.7v.7h-.7zM331.6,76.5h.7v.7h-.7zM339.8,88.5h.7v.7h-.7zM344.9,84.7h.7v.7h-.7zM330.8,80.2h.7v.7h-.7zM342.1,82.7h.7v.7h-.7zM341.8,79.5h.7v.7h-.7zM348.5,88.1h.7v.7h-.7zM339.2,75.8h.7v.7h-.7zM350.0,77.9h.7v.7h-.7zM345.7,90.3h.7v.7h-.7zM335.0,82.2h.7v.7h-.7zM338.0,83.3h.7v.7h-.7zM341.3,90.4h.7v.7h-.7zM342.7,80.7h.7v.7h-.7zM345.3,79.3h.7v.7h-.7zM337.9,91.9h.7v.7h-.7zM335.6,78.3h.7v.7h-.7zM339.9,75.4h.7v.7h-.7zM329.2,86.0h.7v.7h-.7zM335.8,78.0h.7v.7h-.7zM337.8,75.8h.7v.7h-.7zM334.3,81.5h.7v.7h-.7zM351.7,84.4h.7v.7h-.7zM343.4,73.2h.7v.7h-.7zM339.6,74.8h.7v.7h-.7zM343.6,79.6h.7v.7h-.7zM339.9,80.3h.7v.7h-.7zM336.8,73.1h.7v.7h-.7zM342.6,73.8h.7v.7h-.7zM333.8,79.2h.7v.7h-.7zM336.2,82.0h.7v.7h-.7zM344.8,81.9h.7v.7h-.7zM340.7,80.8h.7v.7h-.7zM344.0,71.5h.7v.7h-.7zM341.5,76.0h.7v.7h-.7zM333.5,80.7h.7v.7h-.7zM337.8,83.6h.7v.7h-.7zM345.2,69.1h.7v.7h-.7zM339.3,90.5h.7v.7h-.7zM344.0,87.9h.7v.7h-.7zM340.2,73.5h.7v.7h-.7zM334.1,84.3h.7v.7h-.7zM344.5,77.0h.7v.7h-.7zM338.4,82.0h.7v.7h-.7zM331.0,79.0h.7v.7h-.7zM347.8,91.6h.7v.7h-.7zM339.2,89.9h.7v.7h-.7zM337.1,76.7h.7v.7h-.7zM328.5,85.5h.7v.7h-.7zM337.8,92.4h.7v.7h-.7zM341.4,81.6h.7v.7h-.7zM330.7,88.2h.7v.7h-.7zM337.9,79.9h.7v.7h-.7zM328.7,85.3h.7v.7h-.7zM344.7,77.7h.7v.7h-.7zM340.2,82.7h.7v.7h-.7zM344.5,81.2h.7v.7h-.7zM348.3,79.5h.7v.7h-.7zM336.7,78.4h.7v.7h-.7zM327.0,76.7h.7v.7h-.7zM344.8,82.0h.7v.7h-.7zM335.6,82.5h.7v.7h-.7zM329.6,79.3h.7v.7h-.7zM342.3,84.2h.7v.7h-.7zM335.9,85.3h.7v.7h-.7zM349.1,78.6h.7v.7h-.7zM343.4,72.9h.7v.7h-.7zM329.9,83.8h.7v.7h-.7zM339.9,81.7h.7v.7h-.7zM336.8,79.3h.7v.7h-.7zM343.8,89.3h.7v.7h-.7zM338.7,72.5h.7v.7h-.7zM346.1,83.8h.7v.7h-.7zM343.2,81.7h.7v.7h-.7zM351.4,81.1h.7v.7h-.7zM342.3,71.5h.7v.7h-.7zM336.8,77.3h.7v.7h-.7zM339.6,82.5h.7v.7h-.7zM336.0,89.4h.7v.7h-.7zM334.4,78.5h.7v.7h-.7zM340.9,74.5h.7v.7h-.7zM342.6,83.9h.7v.7h-.7zM338.3,90.3h.7v.7h-.7zM340.2,82.2h.7v.7h-.7zM334.9,72.4h.7v.7h-.7zM336.6,79.1h.7v.7h-.7zM337.5,84.6h.7v.7h-.7zM327.8,75.1h.7v.7h-.7zM330.6,87.5h.7v.7h-.7zM336.9,78.2h.7v.7h-.7zM334.2,85.2h.7v.7h-.7zM337.7,81.9h.7v.7h-.7zM329.6,86.6h.7v.7h-.7zM341.7,83.5h.7v.7h-.7zM345.9,79.8h.7v.7h-.7zM338.9,84.3h.7v.7h-.7zM341.9,79.5h.7v.7h-.7zM340.0,78.2h.7v.7h-.7zM343.3,85.4h.7v.7h-.7zM339.8,90.2h.7v.7h-.7zM332.1,79.6h.7v.7h-.7zM348.3,78.6h.7v.7h-.7zM331.7,87.7h.7v.7h-.7zM342.5,74.8h.7v.7h-.7zM343.6,75.6h.7v.7h-.7zM333.0,80.0h.7v.7h-.7zM337.4,75.3h.7v.7h-.7zM337.9,75.7h.7v.7h-.7zM340.1,80.6h.7v.7h-.7zM343.5,78.5h.7v.7h-.7zM333.1,74.1h.7v.7h-.7zM338.5,88.5h.7v.7h-.7zM344.0,77.5h.7v.7h-.7zM344.5,74.9h.7v.7h-.7zM344.8,78.8h.7v.7h-.7zM343.6,83.9h.7v.7h-.7zM338.4,82.4h.7v.7h-.7zM334.4,80.4h.7v.7h-.7zM343.3,81.2h.7v.7h-.7zM334.7,86.1h.7v.7h-.7zM331.5,76.7h.7v.7h-.7zM341.6,74.7h.7v.7h-.7zM347.5,86.2h.7v.7h-.7zM336.9,78.0h.7v.7h-.7zM333.2,73.7h.7v.7h-.7zM342.0,83.9h.7v.7h-.7zM341.5,82.1h.7v.7h-.7zM337.0,82.6h.7v.7h-.7zM332.4,80.8h.7v.7h-.7zM347.2,87.4h.7v.7h-.7zM337.4,79.1h.7v.7h-.7zM346.7,89.7h.7v.7h-.7zM332.3,78.6h.7v.7h-.7zM340.9,86.9h.7v.7h-.7zM335.6,84.0h.7v.7h-.7zM338.3,92.7h.7v.7h-.7zM341.9,80.1h.7v.7h-.7zM338.1,86.1h.7v.7h-.7zM343.2,75.3h.7v.7h-.7zM340.9,74.1h.7v.7h-.7zM336.0,74.3h.7v.7h-.7zM333.1,77.3h.7v.7h-.7zM334.9,83.4h.7v.7h-.7zM343.8,79.6h.7v.7h-.7zM334.2,84.8h.7v.7h-.7zM329.6,71.1h.7v.7h-.7zM343.4,84.1h.7v.7h-.7zM344.7,79.7h.7v.7h-.7zM333.4,78.2h.7v.7h-.7zM342.6,76.9h.7v.7h-.7zM336.3,73.8h.7v.7h-.7zM333.9,85.0h.7v.7h-.7zM342.1,74.9h.7v.7h-.7zM334.4,78.0h.7v.7h-.7zM342.5,74.9h.7v.7h-.7zM338.9,70.0h.7v.7h-.7zM333.5,82.9h.7v.7h-.7zM344.3,75.0h.7v.7h-.7zM335.9,84.8h.7v.7h-.7zM337.8,78.1h.7v.7h-.7zM342.4,81.8h.7v.7h-.7zM345.4,84.8h.7v.7h-.7zM336.9,80.2h.7v.7h-.7zM339.5,74.0h.7v.7h-.7zM334.9,85.7h.7v.7h-.7zM331.8,85.8h.7v.7h-.7zM341.2,80.1h.7v.7h-.7zM342.5,83.2h.7v.7h-.7zM345.9,78.8h.7v.7h-.7zM338.6,79.6h.7v.7h-.7zM349.2,85.5h.7v.7h-.7zM335.2,79.1h.7v.7h-.7zM336.2,80.9h.7v.7h-.7zM340.9,92.3h.7v.7h-.7zM330.6,86.0h.7v.7h-.7zM342.0,77.3h.7v.7h-.7zM339.0,78.3h.7v.7h-.7zM340.1,85.9h.7v.7h-.7zM332.2,87.4h.7v.7h-.7zM337.9,88.3h.7v.7h-.7zM341.9,87.0h.7v.7h-.7zM342.6,86.3h.7v.7h-.7zM340.1,76.6h.7v.7h-.7zM343.2,84.4h.7v.7h-.7zM350.3,70.8h.7v.7h-.7zM338.8,86.1h.7v.7h-.7zM333.5,79.7h.7v.7h-.7zM350.4,87.9h.7v.7h-.7zM335.4,88.0h.7v.7h-.7zM345.8,84.7h.7v.7h-.7zM341.7,82.0h.7v.7h-.7zM335.5,78.3h.7v.7h-.7zM343.5,81.5h.7v.7h-.7zM349.1,79.2h.7v.7h-.7zM327.8,79.2h.7v.7h-.7zM341.2,82.8h.7v.7h-.7zM340.2,76.7h.7v.7h-.7zM347.3,77.5h.7v.7h-.7zM343.4,79.4h.7v.7h-.7zM333.9,87.9h.7v.7h-.7zM327.3,76.6h.7v.7h-.7zM342.0,79.1h.7v.7h-.7zM343.6,80.4h.7v.7h-.7zM337.6,91.7h.7v.7h-.7zM338.8,80.1h.7v.7h-.7zM334.5,77.1h.7v.7h-.7zM343.1,83.7h.7v.7h-.7zM339.9,77.4h.7v.7h-.7zM343.3,72.4h.7v.7h-.7zM338.2,79.6h.7v.7h-.7zM335.7,81.7h.7v.7h-.7zM336.6,76.9h.7v.7h-.7zM348.9,84.6h.7v.7h-.7zM345.9,81.2h.7v.7h-.7zM344.8,84.8h.7v.7h-.7zM346.0,92.8h.7v.7h-.7zM338.8,82.2h.7v.7h-.7zM339.7,63.4h.7v.7h-.7zM333.0,81.0h.7v.7h-.7zM343.1,78.1h.7v.7h-.7zM345.6,87.4h.7v.7h-.7zM337.9,88.1h.7v.7h-.7zM348.7,83.3h.7v.7h-.7zM335.1,88.3h.7v.7h-.7zM339.2,79.1h.7v.7h-.7zM340.6,78.3h.7v.7h-.7zM345.4,84.9h.7v.7h-.7zM346.1,83.9h.7v.7h-.7zM336.0,80.2h.7v.7h-.7zM344.4,79.0h.7v.7h-.7zM354.6,79.8h.7v.7h-.7zM337.1,86.7h.7v.7h-.7zM343.7,80.9h.7v.7h-.7zM338.8,83.1h.7v.7h-.7zM344.2,84.8h.7v.7h-.7zM338.5,83.2h.7v.7h-.7zM344.2,84.8h.7v.7h-.7zM324.6,76.5h.7v.7h-.7zM336.1,79.8h.7v.7h-.7zM340.9,85.6h.7v.7h-.7zM343.1,80.4h.7v.7h-.7zM340.1,89.8h.7v.7h-.7zM336.9,82.5h.7v.7h-.7zM347.8,82.7h.7v.7h-.7zM329.8,82.9h.7v.7h-.7zM338.1,80.4h.7v.7h-.7zM345.3,83.3h.7v.7h-.7zM338.7,85.5h.7v.7h-.7zM342.2,81.5h.7v.7h-.7zM341.5,82.3h.7v.7h-.7zM338.3,78.7h.7v.7h-.7zM340.1,76.2h.7v.7h-.7zM333.7,87.5h.7v.7h-.7zM338.8,80.9h.7v.7h-.7zM339.3,81.1h.7v.7h-.7zM340.1,81.3h.7v.7h-.7zM336.0,85.7h.7v.7h-.7zM336.5,86.2h.7v.7h-.7zM330.4,75.7h.7v.7h-.7zM345.0,80.3h.7v.7h-.7zM336.6,82.9h.7v.7h-.7zM334.8,81.4h.7v.7h-.7zM328.9,78.7h.7v.7h-.7zM336.8,83.7h.7v.7h-.7zM344.4,76.7h.7v.7h-.7zM348.0,78.0h.7v.7h-.7zM329.7,69.1h.7v.7h-.7zM347.7,80.6h.7v.7h-.7zM336.8,77.3h.7v.7h-.7z" fill="#000" fill-opacity="0.2"/>
<path d="M305.7,65.0h.7v.7h-.7zM308.3,65.4h.7v.7h-.7zM308.0,61.2h.7v.7h-.7zM310.7,63.2h.7v.7h-.7zM307.9,65.2h.7v.7h-.7zM307.8,64.8h.7v.7h-.7zM308.5,62.8h.7v.7h-.7zM309.8,63.0h.7v.7h-.7zM311.7,64.6h.7v.7h-.7zM308.7,64.2h.7v.7h-.7zM310.0,63.3h.7v.7h-.7zM310.8,63.4h.7v.7h-.7zM310.1,62.6h.7v.7h-.7zM308.8,64.0h.7v.7h-.7zM306.5,63.2h.7v.7h-.7zM307.1,64.3h.7v.7h-.7zM306.6,64.0h.7v.7h-.7zM312.5,64.0h.7v.7h-.7zM304.3,63.7h.7v.7h-.7zM311.2,63.3h.7v.7h-.7zM311.4,64.2h.7v.7h-.7zM309.6,63.3h.7v.7h-.7zM307.2,63.4h.7v.7h-.7zM308.7,64.1h.7v.7h-.7zM309.6,63.3h.7v.7h-.7zM308.7,64.0h.7v.7h-.7zM304.3,62.8h.7v.7h-.7zM306.5,63.4h.7v.7h-.7zM307.8,63.4h.7v.7h-.7zM306.3,64.3h.7v.7h-.7zM309.3,62.0h.7v.7h-.7zM308.6,62.5h.7v.7h-.7zM313.0,63.2h.7v.7h-.7zM307.5,63.7h.7v.7h-.7zM308.0,63.6h.7v.7h-.7zM312.6,63.8h.7v.7h-.7zM310.7,64.7h.7v.7h-.7zM306.0,65.3h.7v.7h-.7zM310.3,64.6h.7v.7h-.7zM306.3,64.4h.7v.7h-.7zM309.6,63.1h.7v.7h-.7zM314.5,64.2h.7v.7h-.7zM307.9,63.8h.7v.7h-.7zM310.9,64.7h.7v.7h-.7zM310.1,64.8h.7v.7h-.7zM312.4,62.4h.7v.7h-.7zM307.3,62.7h.7v.7h-.7zM308.8,65.1h.7v.7h-.7zM310.2,62.6h.7v.7h-.7zM307.8,64.6h.7v.7h-.7zM307.2,63.5h.7v.7h-.7zM309.3,61.8h.7v.7h-.7zM310.6,64.0h.7v.7h-.7zM310.0,62.6h.7v.7h-.7zM306.6,63.0h.7v.7h-.7zM309.2,63.7h.7v.7h-.7zM308.9,65.4h.7v.7h-.7zM311.9,62.9h.7v.7h-.7zM306.9,65.3h.7v.7h-.7zM307.7,65.0h.7v.7h-.7zM312.7,63.1h.7v.7h-.7zM307.9,63.7h.7v.7h-.7zM306.3,62.6h.7v.7h-.7zM307.5,64.5h.7v.7h-.7zM307.4,63.4h.7v.7h-.7zM307.3,62.3h.7v.7h-.7zM312.4,61.3h.7v.7h-.7zM306.9,64.2h.7v.7h-.7zM304.9,64.2h.7v.7h-.7zM311.8,62.8h.7v.7h-.7zM309.1,62.5h.7v.7h-.7zM309.9,63.7h.7v.7h-.7zM309.1,65.0h.7v.7h-.7zM309.8,65.0h.7v.7h-.7zM310.2,62.4h.7v.7h-.7zM309.2,64.1h.7v.7h-.7zM304.8,65.0h.7v.7h-.7zM308.7,64.0h.7v.7h-.7zM306.2,63.7h.7v.7h-.7zM309.3,63.3h.7v.7h-.7zM308.8,61.5h.7v.7h-.7zM312.1,62.5h.7v.7h-.7zM306.4,64.2h.7v.7h-.7zM306.2,63.9h.7v.7h-.7zM306.1,65.8h.7v.7h-.7zM310.0,65.6h.7v.7h-.7zM305.9,64.3h.7v.7h-.7zM306.1,64.2h.7v.7h-.7zM310.3,62.0h.7v.7h-.7zM305.6,62.5h.7v.7h-.7zM304.6,62.9h.7v.7h-.7zM306.0,62.2h.7v.7h-.7zM308.8,64.2h.7v.7h-.7zM305.1,63.1h.7v.7h-.7zM308.6,63.4h.7v.7h-.7zM306.7,64.4h.7v.7h-.7zM310.7,64.3h.7v.7h-.7zM308.0,65.6h.7v.7h-.7zM313.1,63.2h.7v.7h-.7zM308.2,64.8h.7v.7h-.7zM306.5,64.0h.7v.7h-.7zM308.6,62.9h.7v.7h-.7zM307.9,62.0h.7v.7h-.7zM307.1,61.6h.7v.7h-.7zM314.5,65.1h.7v.7h-.7zM311.7,63.9h.7v.7h-.7zM311.1,64.9h.7v.7h-.7zM311.2,64.5h.7v.7h-.7zM306.1,64.0h.7v.7h-.7zM307.1,62.4h.7v.7h-.7zM305.5,64.0h.7v.7h-.7zM311.3,62.2h.7v.7h-.7zM313.1,65.1h.7v.7h-.7zM307.5,63.1h.7v.7h-.7zM308.3,64.6h.7v.7h-.7zM307.5,62.5h.7v.7h-.7zM309.4,61.5h.7v.7h-.7zM308.9,64.8h.7v.7h-.7zM309.3,64.4h.7v.7h-.7zM309.8,64.3h.7v.7h-.7zM308.9,62.8h.7v.7h-.7zM307.9,63.5h.7v.7h-.7zM311.8,65.2h.7v.7h-.7zM309.6,62.8h.7v.7h-.7zM306.6,63.4h.7v.7h-.7zM312.1,63.9h.7v.7h-.7zM308.4,62.8h.7v.7h-.7zM310.8,63.9h.7v.7h-.7zM308.4,63.7h.7v.7h-.7zM312.9,63.4h.7v.7h-.7zM312.9,64.8h.7v.7h-.7zM308.6,64.5h.7v.7h-.7zM308.2,62.8h.7v.7h-.7zM307.8,62.7h.7v.7h-.7zM309.8,63.6h.7v.7h-.7zM310.0,64.4h.7v.7h-.7zM303.8,63.8h.7v.7h-.7zM306.2,63.7h.7v.7h-.7z" fill="#000" fill-opacity="0.55"/>
<path d="M337.7,84.9h.7v.7h-.7zM325.9,89.8h.7v.7h-.7zM305.1,91.9h.7v.7h-.7zM324.3,88.5h.7v.7h-.7zM320.1,84.6h.7v.7h-.7zM314.7,88.9h.7v.7h-.7zM320.2,89.8h.7v.7h-.7zM313.5,91.6h.7v.7h-.7zM319.2,85.9h.7v.7h-.7zM315.8,88.8h.7v.7h-.7zM332.5,91.5h.7v.7h-.7zM320.6,90.1h.7v.7h-.7zM317.8,91.4h.7v.7h-.7zM331.3,87.1h.7v.7h-.7zM325.9,90.5h.7v.7h-.7zM319.3,91.7h.7v.7h-.7zM334.3,93.4h.7v.7h-.7zM322.1,90.6h.7v.7h-.7zM347.5,86.7h.7v.7h-.7zM326.2,92.7h.7v.7h-.7zM325.5,92.0h.7v.7h-.7zM325.7,92.3h.7v.7h-.7zM336.8,89.3h.7v.7h-.7zM326.0,89.8h.7v.7h-.7zM320.0,89.9h.7v.7h-.7zM312.7,92.2h.7v.7h-.7zM336.8,87.1h.7v.7h-.7zM339.2,87.9h.7v.7h-.7zM313.3,92.5h.7v.7h-.7zM326.8,89.5h.7v.7h-.7zM315.2,91.3h.7v.7h-.7zM319.4,93.1h.7v.7h-.7zM336.2,85.9h.7v.7h-.7zM318.9,89.0h.7v.7h-.7zM312.2,86.6h.7v.7h-.7zM324.9,89.4h.7v.7h-.7zM307.5,88.4h.7v.7h-.7zM329.2,86.4h.7v.7h-.7zM337.2,85.1h.7v.7h-.7zM310.5,91.1h.7v.7h-.7zM312.1,89.2h.7v.7h-.7zM319.5,91.7h.7v.7h-.7zM311.7,93.0h.7v.7h-.7zM322.5,84.9h.7v.7h-.7zM328.9,92.1h.7v.7h-.7zM321.5,89.0h.7v.7h-.7zM328.4,93.6h.7v.7h-.7zM325.5,91.6h.7v.7h-.7zM323.5,88.9h.7v.7h-.7zM314.8,90.8h.7v.7h-.7zM321.0,89.3h.7v.7h-.7zM333.3,91.5h.7v.7h-.7zM332.7,85.3h.7v.7h-.7zM329.6,88.2h.7v.7h-.7zM315.9,87.4h.7v.7h-.7zM336.1,92.5h.7v.7h-.7zM316.8,86.6h.7v.7h-.7zM324.1,88.6h.7v.7h-.7zM340.6,85.6h.7v.7h-.7zM305.7,89.2h.7v.7h-.7zM324.1,90.4h.7v.7h-.7zM320.6,88.4h.7v.7h-.7zM306.4,90.7h.7v.7h-.7zM332.5,89.2h.7v.7h-.7zM335.8,90.1h.7v.7h-.7zM339.1,91.0h.7v.7h-.7zM313.4,88.1h.7v.7h-.7zM308.7,84.8h.7v.7h-.7zM326.7,92.6h.7v.7h-.7zM343.5,89.8h.7v.7h-.7zM321.6,86.7h.7v.7h-.7zM333.9,91.2h.7v.7h-.7zM318.0,92.1h.7v.7h-.7zM329.6,84.4h.7v.7h-.7zM331.4,90.4h.7v.7h-.7zM320.1,88.7h.7v.7h-.7zM341.5,94.6h.7v.7h-.7zM342.3,86.6h.7v.7h-.7zM317.5,92.7h.7v.7h-.7zM311.9,87.8h.7v.7h-.7zM334.6,91.4h.7v.7h-.7zM326.2,88.7h.7v.7h-.7zM320.0,91.8h.7v.7h-.7zM316.9,93.7h.7v.7h-.7zM319.1,87.4h.7v.7h-.7zM337.0,89.6h.7v.7h-.7zM329.5,88.8h.7v.7h-.7zM310.5,93.2h.7v.7h-.7zM308.5,84.4h.7v.7h-.7zM327.1,91.3h.7v.7h-.7zM325.1,86.4h.7v.7h-.7zM332.9,85.6h.7v.7h-.7zM319.4,87.6h.7v.7h-.7zM320.2,92.6h.7v.7h-.7zM317.7,91.7h.7v.7h-.7zM330.9,84.9h.7v.7h-.7zM312.3,88.8h.7v.7h-.7zM318.1,90.9h.7v.7h-.7zM304.7,92.2h.7v.7h-.7zM331.4,89.5h.7v.7h-.7zM310.2,90.0h.7v.7h-.7zM318.6,91.7h.7v.7h-.7zM323.1,92.2h.7v.7h-.7zM319.7,94.3h.7v.7h-.7zM328.9,85.5h.7v.7h-.7zM331.4,86.3h.7v.7h-.7zM324.9,87.3h.7v.7h-.7zM319.6,90.5h.7v.7h-.7zM323.0,88.9h.7v.7h-.7zM345.5,90.0h.7v.7h-.7zM314.3,92.8h.7v.7h-.7zM332.2,93.7h.7v.7h-.7zM341.9,87.2h.7v.7h-.7zM334.6,93.4h.7v.7h-.7zM324.0,90.7h.7v.7h-.7zM341.9,84.6h.7v.7h-.7zM318.6,90.9h.7v.7h-.7zM306.4,90.1h.7v.7h-.7zM332.6,86.1h.7v.7h-.7zM337.2,91.6h.7v.7h-.7zM327.9,89.1h.7v.7h-.7zM321.9,87.1h.7v.7h-.7zM326.4,89.1h.7v.7h-.7zM320.9,89.7h.7v.7h-.7zM331.7,90.7h.7v.7h-.7zM312.0,89.6h.7v.7h-.7zM328.7,88.6h.7v.7h-.7zM335.5,92.3h.7v.7h-.7zM314.1,91.0h.7v.7h-.7zM343.8,94.7h.7v.7h-.7zM323.4,92.7h.7v.7h-.7zM317.3,85.7h.7v.7h-.7zM329.5,90.7h.7v.7h-.7zM329.1,89.9h.7v.7h-.7zM327.3,88.5h.7v.7h-.7zM328.7,92.5h.7v.7h-.7zM323.4,92.4h.7v.7h-.7zM306.3,87.6h.7v.7h-.7zM326.5,89.7h.7v.7h-.7zM311.3,91.1h.7v.7h-.7zM331.8,85.6h.7v.7h-.7zM329.6,91.5h.7v.7h-.7zM328.4,86.6h.7v.7h-.7zM329.4,85.5h.7v.7h-.7zM338.9,90.4h.7v.7h-.7zM312.4,94.0h.7v.7h-.7zM335.5,88.0h.7v.7h-.7zM346.0,87.0h.7v.7h-.7zM327.1,93.5h.7v.7h-.7zM323.4,90.0h.7v.7h-.7zM313.2,91.0h.7v.7h-.7zM312.9,87.1h.7v.7h-.7zM319.5,86.3h.7v.7h-.7zM339.7,86.0h.7v.7h-.7zM316.5,89.1h.7v.7h-.7zM324.0,92.4h.7v.7h-.7zM332.2,89.1h.7v.7h-.7zM320.2,90.1h.7v.7h-.7zM332.2,92.1h.7v.7h-.7zM318.8,83.8h.7v.7h-.7zM345.4,92.9h.7v.7h-.7zM326.6,91.0h.7v.7h-.7zM318.8,87.0h.7v.7h-.7zM320.7,89.3h.7v.7h-.7zM317.7,85.6h.7v.7h-.7zM320.9,91.7h.7v.7h-.7zM319.1,90.1h.7v.7h-.7zM322.8,86.3h.7v.7h-.7zM306.7,91.2h.7v.7h-.7zM315.9,91.5h.7v.7h-.7zM319.8,91.9h.7v.7h-.7zM320.6,85.5h.7v.7h-.7zM323.1,89.0h.7v.7h-.7zM330.6,88.6h.7v.7h-.7zM320.1,92.6h.7v.7h-.7zM335.7,92.3h.7v.7h-.7zM334.4,91.4h.7v.7h-.7zM331.7,92.6h.7v.7h-.7zM328.0,90.2h.7v.7h-.7zM324.1,89.3h.7v.7h-.7zM320.4,89.9h.7v.7h-.7zM326.4,86.6h.7v.7h-.7zM304.2,90.9h.7v.7h-.7zM307.9,90.8h.7v.7h-.7zM325.4,93.5h.7v.7h-.7zM340.7,91.1h.7v.7h-.7zM318.5,86.5h.7v.7h-.7zM316.1,90.1h.7v.7h-.7zM323.9,91.9h.7v.7h-.7zM320.7,90.3h.7v.7h-.7zM316.6,88.6h.7v.7h-.7zM306.3,90.4h.7v.7h-.7zM339.5,90.5h.7v.7h-.7zM327.7,87.1h.7v.7h-.7zM338.3,87.7h.7v.7h-.7zM332.0,90.3h.7v.7h-.7zM314.4,93.1h.7v.7h-.7zM324.2,90.5h.7v.7h-.7zM328.5,89.9h.7v.7h-.7zM320.2,91.4h.7v.7h-.7zM320.0,90.2h.7v.7h-.7zM317.3,85.5h.7v.7h-.7zM317.3,88.5h.7v.7h-.7zM324.1,93.6h.7v.7h-.7zM307.1,90.4h.7v.7h-.7zM318.9,83.2h.7v.7h-.7zM305.4,90.5h.7v.7h-.7zM324.8,89.7h.7v.7h-.7zM322.4,87.4h.7v.7h-.7zM340.8,91.8h.7v.7h-.7zM320.3,93.6h.7v.7h-.7zM325.6,91.9h.7v.7h-.7zM326.3,86.9h.7v.7h-.7zM333.7,90.5h.7v.7h-.7zM313.9,87.7h.7v.7h-.7zM333.6,88.9h.7v.7h-.7zM324.5,92.0h.7v.7h-.7zM325.3,85.4h.7v.7h-.7zM330.4,92.8h.7v.7h-.7zM327.6,92.3h.7v.7h-.7zM339.9,89.1h.7v.7h-.7zM332.5,87.4h.7v.7h-.7zM335.4,91.0h.7v.7h-.7zM328.1,90.5h.7v.7h-.7zM337.6,91.7h.7v.7h-.7z" fill="#000" fill-opacity="0.18"/>
<path d="M319.7,67.2h.7v.7h-.7zM332.6,64.2h.7v.7h-.7zM322.1,65.0h.7v.7h-.7zM320.5,66.9h.7v.7h-.7zM335.2,70.7h.7v.7h-.7zM336.8,68.6h.7v.7h-.7zM336.3,69.3h.7v.7h-.7zM322.6,67.7h.7v.7h-.7zM328.9,65.7h.7v.7h-.7zM321.9,64.7h.7v.7h-.7zM323.6,62.9h.7v.7h-.7zM330.7,65.9h.7v.7h-.7zM327.0,66.8h.7v.7h-.7zM332.5,64.5h.7v.7h-.7zM325.0,62.0h.7v.7h-.7zM306.0,61.1h.7v.7h-.7zM339.8,61.4h.7v.7h-.7zM330.2,69.7h.7v.7h-.7zM321.9,70.1h.7v.7h-.7zM342.6,68.4h.7v.7h-.7zM347.4,67.6h.7v.7h-.7zM319.4,67.3h.7v.7h-.7zM322.0,62.8h.7v.7h-.7zM314.5,71.8h.7v.7h-.7zM321.2,66.0h.7v.7h-.7zM320.1,66.4h.7v.7h-.7zM323.9,65.0h.7v.7h-.7zM315.2,62.5h.7v.7h-.7zM319.4,66.8h.7v.7h-.7zM344.8,68.7h.7v.7h-.7zM342.5,67.2h.7v.7h-.7zM325.3,62.7h.7v.7h-.7zM326.2,60.7h.7v.7h-.7zM323.4,70.1h.7v.7h-.7zM329.1,68.9h.7v.7h-.7zM322.7,62.6h.7v.7h-.7zM321.9,65.1h.7v.7h-.7zM337.0,71.0h.7v.7h-.7zM319.5,65.2h.7v.7h-.7zM324.9,65.2h.7v.7h-.7zM315.0,66.3h.7v.7h-.7zM329.5,67.0h.7v.7h-.7zM315.4,65.8h.7v.7h-.7zM310.6,68.3h.7v.7h-.7zM317.1,65.4h.7v.7h-.7zM322.2,64.6h.7v.7h-.7zM316.7,61.7h.7v.7h-.7zM341.9,66.7h.7v.7h-.7zM328.7,71.3h.7v.7h-.7zM325.4,67.5h.7v.7h-.7zM326.5,69.0h.7v.7h-.7zM330.8,66.9h.7v.7h-.7zM324.0,66.8h.7v.7h-.7zM336.8,60.9h.7v.7h-.7zM325.1,65.0h.7v.7h-.7zM323.6,61.1h.7v.7h-.7zM332.9,64.0h.7v.7h-.7zM324.2,64.8h.7v.7h-.7zM311.3,65.0h.7v.7h-.7zM309.7,63.7h.7v.7h-.7zM323.5,66.1h.7v.7h-.7zM326.8,65.7h.7v.7h-.7zM345.5,67.2h.7v.7h-.7zM315.3,64.6h.7v.7h-.7zM320.4,65.6h.7v.7h-.7zM320.9,63.9h.7v.7h-.7zM341.1,66.2h.7v.7h-.7zM323.3,65.5h.7v.7h-.7zM324.3,69.6h.7v.7h-.7zM330.6,68.9h.7v.7h-.7zM335.8,71.0h.7v.7h-.7zM326.6,61.8h.7v.7h-.7zM331.6,64.6h.7v.7h-.7zM310.2,64.5h.7v.7h-.7zM335.8,69.1h.7v.7h-.7zM332.8,63.5h.7v.7h-.7zM349.0,63.2h.7v.7h-.7zM325.6,62.5h.7v.7h-.7zM338.2,67.2h.7v.7h-.7zM334.3,66.3h.7v.7h-.7zM325.7,66.5h.7v.7h-.7zM309.4,68.6h.7v.7h-.7zM334.6,65.1h.7v.7h-.7zM326.2,66.8h.7v.7h-.7zM340.5,67.2h.7v.7h-.7zM326.8,64.8h.7v.7h-.7zM312.8,64.6h.7v.7h-.7zM327.0,65.5h.7v.7h-.7zM327.1,68.0h.7v.7h-.7zM330.3,66.8h.7v.7h-.7zM332.3,66.6h.7v.7h-.7zM326.1,67.3h.7v.7h-.7zM310.9,69.2h.7v.7h-.7zM314.8,68.2h.7v.7h-.7zM326.5,68.9h.7v.7h-.7zM326.7,63.8h.7v.7h-.7zM336.1,66.6h.7v.7h-.7zM327.5,66.3h.7v.7h-.7zM335.5,68.2h.7v.7h-.7zM328.5,62.2h.7v.7h-.7zM322.8,66.4h.7v.7h-.7zM342.6,67.1h.7v.7h-.7zM325.6,69.1h.7v.7h-.7zM325.5,66.1h.7v.7h-.7zM327.9,62.4h.7v.7h-.7zM335.1,67.2h.7v.7h-.7zM323.9,63.3h.7v.7h-.7zM328.4,69.6h.7v.7h-.7zM320.7,63.5h.7v.7h-.7zM330.3,62.1h.7v.7h-.7zM306.5,65.0h.7v.7h-.7zM320.3,65.4h.7v.7h-.7zM321.5,67.0h.7v.7h-.7zM324.5,64.6h.7v.7h-.7zM322.4,67.7h.7v.7h-.7zM335.1,68.4h.7v.7h-.7zM332.8,57.9h.7v.7h-.7zM317.5,65.4h.7v.7h-.7zM328.4,62.1h.7v.7h-.7zM339.3,66.9h.7v.7h-.7zM320.9,66.6h.7v.7h-.7zM323.4,64.2h.7v.7h-.7zM331.1,65.0h.7v.7h-.7zM313.8,64.6h.7v.7h-.7zM325.5,63.5h.7v.7h-.7zM337.9,63.4h.7v.7h-.7zM342.4,68.4h.7v.7h-.7zM318.1,66.5h.7v.7h-.7zM337.2,65.7h.7v.7h-.7zM315.8,66.4h.7v.7h-.7zM344.5,62.4h.7v.7h-.7zM331.6,66.2h.7v.7h-.7zM325.5,65.2h.7v.7h-.7zM323.7,68.8h.7v.7h-.7zM332.0,63.7h.7v.7h-.7zM340.6,62.9h.7v.7h-.7zM332.6,66.6h.7v.7h-.7zM337.4,67.1h.7v.7h-.7zM336.1,66.1h.7v.7h-.7zM335.4,67.0h.7v.7h-.7zM346.0,64.4h.7v.7h-.7zM337.4,67.3h.7v.7h-.7zM328.2,64.8h.7v.7h-.7zM330.7,62.5h.7v.7h-.7zM314.3,68.0h.7v.7h-.7zM312.7,69.8h.7v.7h-.7zM324.2,66.8h.7v.7h-.7zM327.3,67.2h.7v.7h-.7zM324.2,65.3h.7v.7h-.7zM325.5,68.8h.7v.7h-.7zM336.9,69.4h.7v.7h-.7zM330.0,65.7h.7v.7h-.7zM311.6,67.8h.7v.7h-.7zM334.2,65.2h.7v.7h-.7zM333.9,69.4h.7v.7h-.7zM327.5,68.8h.7v.7h-.7zM329.5,61.9h.7v.7h-.7zM322.4,65.2h.7v.7h-.7zM331.5,64.0h.7v.7h-.7zM322.7,63.8h.7v.7h-.7zM326.3,66.4h.7v.7h-.7zM335.5,68.2h.7v.7h-.7zM328.2,66.8h.7v.7h-.7zM327.7,66.5h.7v.7h-.7zM340.6,60.0h.7v.7h-.7zM325.1,67.0h.7v.7h-.7zM336.9,63.5h.7v.7h-.7zM329.8,68.3h.7v.7h-.7zM322.7,61.4h.7v.7h-.7zM323.5,63.2h.7v.7h-.7zM332.6,64.1h.7v.7h-.7zM342.7,66.5h.7v.7h-.7zM319.4,64.9h.7v.7h-.7zM316.9,67.2h.7v.7h-.7zM340.1,65.7h.7v.7h-.7zM335.0,63.8h.7v.7h-.7zM329.5,72.0h.7v.7h-.7zM314.0,69.3h.7v.7h-.7zM337.3,61.5h.7v.7h-.7zM313.8,63.8h.7v.7h-.7zM335.4,65.1h.7v.7h-.7zM325.2,68.0h.7v.7h-.7zM327.8,66.8h.7v.7h-.7zM323.8,69.0h.7v.7h-.7zM319.7,70.4h.7v.7h-.7zM323.6,64.2h.7v.7h-.7zM332.5,67.3h.7v.7h-.7zM308.9,66.7h.7v.7h-.7zM314.5,64.1h.7v.7h-.7zM333.8,64.0h.7v.7h-.7zM329.9,65.2h.7v.7h-.7zM344.1,65.9h.7v.7h-.7zM316.1,63.4h.7v.7h-.7zM318.5,66.5h.7v.7h-.7zM326.6,68.6h.7v.7h-.7zM328.1,66.5h.7v.7h-.7zM329.5,65.8h.7v.7h-.7zM329.2,68.1h.7v.7h-.7zM333.7,64.8h.7v.7h-.7zM310.7,64.1h.7v.7h-.7zM329.1,59.9h.7v.7h-.7zM322.3,67.3h.7v.7h-.7zM321.5,63.4h.7v.7h-.7zM342.3,69.6h.7v.7h-.7zM324.2,69.5h.7v.7h-.7zM338.2,63.3h.7v.7h-.7zM350.7,63.8h.7v.7h-.7zM324.2,63.4h.7v.7h-.7zM327.2,62.9h.7v.7h-.7zM326.5,68.8h.7v.7h-.7zM328.4,65.5h.7v.7h-.7zM340.4,63.9h.7v.7h-.7zM335.2,65.4h.7v.7h-.7zM328.4,66.2h.7v.7h-.7zM327.6,66.0h.7v.7h-.7zM319.4,64.7h.7v.7h-.7zM330.4,65.9h.7v.7h-.7zM316.0,64.4h.7v.7h-.7zM320.2,66.0h.7v.7h-.7zM328.0,66.3h.7v.7h-.7zM320.5,66.2h.7v.7h-.7zM314.1,58.9h.7v.7h-.7zM325.9,62.0h.7v.7h-.7zM317.8,63.1h.7v.7h-.7zM332.0,63.1h.7v.7h-.7zM328.8,64.9h.7v.7h-.7zM315.2,62.1h.7v.7h-.7zM330.4,67.0h.7v.7h-.7zM333.2,70.6h.7v.7h-.7zM328.7,66.8h.7v.7h-.7zM325.1,66.3h.7v.7h-.7zM323.0,63.8h.7v.7h-.7zM344.1,61.4h.7v.7h-.7zM328.4,67.1h.7v.7h-.7zM327.5,63.6h.7v.7h-.7zM324.4,64.9h.7v.7h-.7zM316.4,65.9h.7v.7h-.7zM322.4,64.6h.7v.7h-.7zM332.2,63.4h.7v.7h-.7zM330.0,64.5h.7v.7h-.7zM329.9,66.2h.7v.7h-.7zM328.2,63.6h.7v.7h-.7zM319.0,63.9h.7v.7h-.7zM327.5,67.9h.7v.7h-.7zM335.7,64.7h.7v.7h-.7zM326.7,61.9h.7v.7h-.7zM306.0,63.8h.7v.7h-.7zM320.0,62.1h.7v.7h-.7zM309.9,67.3h.7v.7h-.7z" fill="#000" fill-opacity="0.16"/>
<path d="M325.1,68.9h.7v.7h-.7zM343.8,74.5h.7v.7h-.7zM328.0,76.0h.7v.7h-.7zM325.4,78.7h.7v.7h-.7zM320.7,70.0h.7v.7h-.7zM329.1,71.7h.7v.7h-.7zM338.3,69.1h.7v.7h-.7zM325.5,74.6h.7v.7h-.7zM333.2,76.9h.7v.7h-.7zM331.9,80.5h.7v.7h-.7zM327.0,74.4h.7v.7h-.7zM334.9,73.0h.7v.7h-.7zM328.1,72.5h.7v.7h-.7zM325.9,70.5h.7v.7h-.7zM326.5,69.3h.7v.7h-.7zM332.1,69.1h.7v.7h-.7zM342.1,79.0h.7v.7h-.7zM336.4,73.2h.7v.7h-.7zM326.2,77.5h.7v.7h-.7zM330.8,75.5h.7v.7h-.7zM325.4,77.1h.7v.7h-.7zM325.0,74.2h.7v.7h-.7zM319.4,71.9h.7v.7h-.7zM332.7,72.5h.7v.7h-.7zM327.0,76.2h.7v.7h-.7zM329.3,77.6h.7v.7h-.7zM315.3,75.5h.7v.7h-.7zM332.7,69.2h.7v.7h-.7zM321.9,76.5h.7v.7h-.7zM323.3,71.9h.7v.7h-.7zM333.3,72.9h.7v.7h-.7zM332.5,71.3h.7v.7h-.7zM331.5,77.1h.7v.7h-.7zM331.6,67.3h.7v.7h-.7zM333.6,74.0h.7v.7h-.7zM324.3,78.0h.7v.7h-.7zM319.3,79.4h.7v.7h-.7zM325.9,78.5h.7v.7h-.7zM329.4,69.9h.7v.7h-.7zM330.2,74.8h.7v.7h-.7zM332.9,77.0h.7v.7h-.7zM324.3,75.3h.7v.7h-.7zM334.1,73.0h.7v.7h-.7zM324.1,71.0h.7v.7h-.7zM334.2,76.2h.7v.7h-.7zM324.7,69.8h.7v.7h-.7zM337.1,69.2h.7v.7h-.7zM330.6,71.4h.7v.7h-.7zM319.2,74.2h.7v.7h-.7zM328.5,78.1h.7v.7h-.7zM343.2,73.3h.7v.7h-.7zM335.8,77.0h.7v.7h-.7zM326.5,71.2h.7v.7h-.7zM339.3,72.7h.7v.7h-.7zM329.5,73.0h.7v.7h-.7zM328.9,72.0h.7v.7h-.7zM334.1,77.6h.7v.7h-.7zM327.4,69.7h.7v.7h-.7zM330.0,69.4h.7v.7h-.7zM325.8,77.5h.7v.7h-.7zM343.5,75.0h.7v.7h-.7zM323.3,76.2h.7v.7h-.7zM316.3,71.8h.7v.7h-.7zM338.8,76.1h.7v.7h-.7zM321.4,68.9h.7v.7h-.7zM334.8,73.7h.7v.7h-.7zM326.1,75.1h.7v.7h-.7zM326.2,68.1h.7v.7h-.7zM334.5,71.9h.7v.7h-.7zM323.7,69.9h.7v.7h-.7zM331.2,71.4h.7v.7h-.7zM333.4,73.0h.7v.7h-.7zM336.1,72.7h.7v.7h-.7zM325.8,68.0h.7v.7h-.7zM323.1,76.0h.7v.7h-.7zM347.9,70.1h.7v.7h-.7zM323.5,74.8h.7v.7h-.7zM332.5,71.8h.7v.7h-.7zM330.1,69.0h.7v.7h-.7zM327.9,76.5h.7v.7h-.7zM339.4,73.3h.7v.7h-.7zM328.1,75.2h.7v.7h-.7zM336.3,75.3h.7v.7h-.7zM325.2,74.9h.7v.7h-.7zM335.4,71.7h.7v.7h-.7zM321.7,75.4h.7v.7h-.7zM331.9,76.7h.7v.7h-.7zM330.2,71.9h.7v.7h-.7zM327.1,70.8h.7v.7h-.7zM324.0,72.2h.7v.7h-.7zM326.8,77.2h.7v.7h-.7zM322.4,73.7h.7v.7h-.7zM326.2,78.3h.7v.7h-.7zM331.3,72.7h.7v.7h-.7zM334.6,74.0h.7v.7h-.7zM326.9,78.4h.7v.7h-.7zM333.9,79.0h.7v.7h-.7zM336.6,76.2h.7v.7h-.7zM330.5,70.6h.7v.7h-.7zM333.9,74.1h.7v.7h-.7zM333.8,73.8h.7v.7h-.7zM325.6,70.9h.7v.7h-.7zM333.9,77.7h.7v.7h-.7zM328.0,75.2h.7v.7h-.7zM338.0,71.4h.7v.7h-.7zM327.7,70.5h.7v.7h-.7zM336.8,74.7h.7v.7h-.7zM327.0,68.9h.7v.7h-.7zM328.7,76.8h.7v.7h-.7zM328.0,72.6h.7v.7h-.7zM333.6,70.2h.7v.7h-.7zM330.1,75.7h.7v.7h-.7zM325.1,71.4h.7v.7h-.7zM331.2,73.6h.7v.7h-.7zM328.4,74.5h.7v.7h-.7zM331.1,71.1h.7v.7h-.7zM325.8,75.2h.7v.7h-.7zM336.5,77.9h.7v.7h-.7zM324.7,77.1h.7v.7h-.7zM334.3,73.8h.7v.7h-.7zM332.7,76.4h.7v.7h-.7zM340.4,70.8h.7v.7h-.7zM333.4,73.5h.7v.7h-.7zM328.6,77.3h.7v.7h-.7zM334.7,70.9h.7v.7h-.7zM328.1,74.6h.7v.7h-.7zM321.4,76.5h.7v.7h-.7zM329.4,74.4h.7v.7h-.7zM331.8,79.3h.7v.7h-.7zM330.0,72.8h.7v.7h-.7zM340.1,72.4h.7v.7h-.7zM326.7,69.8h.7v.7h-.7zM336.2,74.7h.7v.7h-.7zM332.6,74.4h.7v.7h-.7zM329.0,71.6h.7v.7h-.7zM325.2,75.2h.7v.7h-.7zM330.6,78.8h.7v.7h-.7zM325.3,72.5h.7v.7h-.7zM323.8,78.0h.7v.7h-.7zM322.5,76.2h.7v.7h-.7zM338.4,73.5h.7v.7h-.7zM334.1,67.6h.7v.7h-.7zM327.5,69.0h.7v.7h-.7zM330.9,73.9h.7v.7h-.7zM325.3,76.7h.7v.7h-.7zM331.9,72.4h.7v.7h-.7zM326.8,69.6h.7v.7h-.7zM328.7,80.2h.7v.7h-.7zM325.6,75.2h.7v.7h-.7zM326.6,76.3h.7v.7h-.7zM332.5,73.2h.7v.7h-.7zM319.3,72.4h.7v.7h-.7zM337.0,73.2h.7v.7h-.7zM333.6,72.5h.7v.7h-.7zM318.8,75.2h.7v.7h-.7zM331.7,72.2h.7v.7h-.7zM327.7,74.8h.7v.7h-.7zM326.3,75.0h.7v.7h-.7zM328.6,66.9h.7v.7h-.7zM329.0,72.2h.7v.7h-.7zM324.9,75.1h.7v.7h-.7zM327.0,75.5h.7v.7h-.7zM336.3,74.4h.7v.7h-.7zM320.7,71.8h.7v.7h-.7zM335.3,73.2h.7v.7h-.7zM325.1,73.7h.7v.7h-.7zM332.9,74.7h.7v.7h-.7zM333.7,71.5h.7v.7h-.7zM328.2,73.2h.7v.7h-.7zM329.7,67.7h.7v.7h-.7zM328.5,70.0h.7v.7h-.7zM338.1,78.6h.7v.7h-.7zM339.8,76.3h.7v.7h-.7zM327.0,76.8h.7v.7h-.7zM328.7,75.8h.7v.7h-.7zM324.5,72.2h.7v.7h-.7zM332.6,79.2h.7v.7h-.7zM329.7,80.6h.7v.7h-.7zM346.2,70.1h.7v.7h-.7zM329.7,71.1h.7v.7h-.7zM329.1,72.4h.7v.7h-.7zM329.5,76.8h.7v.7h-.7zM335.5,74.7h.7v.7h-.7zM329.9,74.3h.7v.7h-.7zM330.7,75.7h.7v.7h-.7zM329.9,75.4h.7v.7h-.7zM322.1,76.3h.7v.7h-.7zM340.3,74.5h.7v.7h-.7zM321.5,78.0h.7v.7h-.7zM328.0,65.1h.7v.7h-.7zM328.6,75.8h.7v.7h-.7zM332.2,77.6h.7v.7h-.7zM333.6,74.3h.7v.7h-.7zM318.2,70.7h.7v.7h-.7zM331.0,76.0h.7v.7h-.7zM323.8,72.1h.7v.7h-.7zM332.7,68.3h.7v.7h-.7zM318.4,73.3h.7v.7h-.7zM331.4,72.5h.7v.7h-.7zM316.3,74.0h.7v.7h-.7z" fill="#000" fill-opacity="0.2"/>
<path d="M312.00,60.70 L314.13,60.29 L316.57,59.95 L319.17,59.66 L321.73,59.38 L324.10,59.10 L326.30,58.81 L328.44,58.54 L330.49,58.27 L332.39,58.00 L334.10,57.70 L335.55,57.37 L336.78,57.01 L337.88,56.64 L338.96,56.30 L340.10,56.00 L341.36,55.71 L342.68,55.41 L343.98,55.15 L345.18,55.00 L346.20,55.00 L347.05,55.16 L347.79,55.44 L348.39,55.84 L348.87,56.36 L349.20,57.00 L349.36,57.81 L349.34,58.78 L349.21,59.85 L349.01,60.95 L348.80,62.00 L348.60,63.02 L348.37,64.04 L348.08,65.06 L347.70,66.08 L347.20,67.10 L346.59,68.15 L345.88,69.23 L345.07,70.29 L344.15,71.27 L343.10,72.10 L341.84,72.80 L340.36,73.40 L338.82,73.90 L337.35,74.27 L336.10,74.50 L335.09,74.57 L334.24,74.50 L333.48,74.30 L332.79,74.03 L332.10,73.70 L331.47,73.30 L330.92,72.81 L330.40,72.26 L329.81,71.67 L329.10,71.10 L328.28,70.51 L327.39,69.88 L326.42,69.25 L325.33,68.64 L324.10,68.10 L322.68,67.62 L321.08,67.18 L319.38,66.78 L317.66,66.42 L316.00,66.10 L314.31,65.84 L312.55,65.65 L310.84,65.48 L309.28,65.31 L308.00,65.10 L306.92,64.87 L305.96,64.65 L305.24,64.39 L304.88,64.09 L305.00,63.70 L305.68,63.18 L306.84,62.55 L308.35,61.88 L310.11,61.24 L312.00,60.70Z" fill="none" fill-opacity="1" stroke="#6a6a6a" stroke-width="0.55"/>
<path d="M322.00,62.60 L323.65,62.52 L325.33,62.47 L327.01,62.41 L328.61,62.30 L330.10,62.10 L331.47,61.68 L332.75,61.07 L333.94,60.47 L335.06,60.08 L336.10,60.10 L337.14,60.65 L338.18,61.60 L339.10,62.76 L339.78,63.99 L340.10,65.10 L339.98,66.21 L339.50,67.44 L338.78,68.60 L337.94,69.55 L337.10,70.10 L336.28,70.16 L335.39,69.85 L334.41,69.31 L333.32,68.68 L332.10,68.10 L330.73,67.55 L329.22,66.92 L327.60,66.28 L325.88,65.65 L324.10,65.10 L321.92,64.61 L319.34,64.16 L316.84,63.74 L314.90,63.39 L314.00,63.10 L314.44,62.90 L315.89,62.79 L317.92,62.73 L320.10,62.68 L322.00,62.60Z" fill="none" fill-opacity="1" stroke="#6a6a6a" stroke-width="0.55"/>
<ellipse cx="341.8" cy="63.5" rx="6.5" ry="4.5" transform="rotate(-20 341.8 63.5)" fill="#5a5a5a" fill-opacity="0.55" filter="url(#b1)"/>
<ellipse cx="342.1" cy="63.6" rx="6.00" ry="4.20" transform="rotate(-20 342.1 63.6)" fill="none" stroke="#7a7a7a" stroke-width="0.5"/>
<ellipse cx="342.1" cy="63.6" rx="8.70" ry="6.09" transform="rotate(-20 342.1 63.6)" fill="none" stroke="#8a8a8a" stroke-width="0.5"/>
<ellipse cx="342.1" cy="63.6" rx="3.0" ry="2.1" transform="rotate(-20 342.1 63.6)" fill="#000" fill-opacity="1" filter="url(#b2)"/>
<text x="307.30" y="51.55" font-size="7.9" text-anchor="start" fill="#151515" stroke-width="0.22" textLength="14.86" lengthAdjust="spacingAndGlyphs">10%</text>
<text x="357.10" y="51.55" font-size="7.9" text-anchor="end" fill="#151515" stroke-width="0.22" textLength="14.86" lengthAdjust="spacingAndGlyphs">87%</text>
<text x="307.60" y="93.45" font-size="7.9" text-anchor="start" fill="#151515" stroke-width="0.22" textLength="10.73" lengthAdjust="spacingAndGlyphs">2%</text>
<text x="355.50" y="93.45" font-size="7.9" text-anchor="end" fill="#151515" stroke-width="0.22" textLength="10.73" lengthAdjust="spacingAndGlyphs">1%</text>
<rect x="239.7" y="102.1" width="55.60" height="53.80" fill="none" stroke="#b8b8b8" stroke-width="0.9"/>
<line x1="243.2" y1="155.9" x2="243.2" y2="157.20000000000002" stroke="#b0b0b0" stroke-width="0.5" />
<line x1="238.39999999999998" y1="105.5" x2="239.7" y2="105.5" stroke="#b0b0b0" stroke-width="0.5" />
<line x1="246.6" y1="155.9" x2="246.6" y2="157.20000000000002" stroke="#b0b0b0" stroke-width="0.5" />
<line x1="238.39999999999998" y1="108.8" x2="239.7" y2="108.8" stroke="#b0b0b0" stroke-width="0.5" />
<line x1="250.1" y1="155.9" x2="250.1" y2="157.20000000000002" stroke="#b0b0b0" stroke-width="0.5" />
<line x1="238.39999999999998" y1="112.2" x2="239.7" y2="112.2" stroke="#b0b0b0" stroke-width="0.5" />
<line x1="253.6" y1="155.9" x2="253.6" y2="157.20000000000002" stroke="#b0b0b0" stroke-width="0.5" />
<line x1="238.39999999999998" y1="115.5" x2="239.7" y2="115.5" stroke="#b0b0b0" stroke-width="0.5" />
<line x1="257.1" y1="155.9" x2="257.1" y2="157.20000000000002" stroke="#b0b0b0" stroke-width="0.5" />
<line x1="238.39999999999998" y1="118.9" x2="239.7" y2="118.9" stroke="#b0b0b0" stroke-width="0.5" />
<line x1="260.6" y1="155.9" x2="260.6" y2="157.20000000000002" stroke="#b0b0b0" stroke-width="0.5" />
<line x1="238.39999999999998" y1="122.3" x2="239.7" y2="122.3" stroke="#b0b0b0" stroke-width="0.5" />
<line x1="264.0" y1="155.9" x2="264.0" y2="157.20000000000002" stroke="#b0b0b0" stroke-width="0.5" />
<line x1="238.39999999999998" y1="125.6" x2="239.7" y2="125.6" stroke="#b0b0b0" stroke-width="0.5" />
<line x1="267.5" y1="155.9" x2="267.5" y2="157.20000000000002" stroke="#b0b0b0" stroke-width="0.5" />
<line x1="238.39999999999998" y1="129.0" x2="239.7" y2="129.0" stroke="#b0b0b0" stroke-width="0.5" />
<line x1="271.0" y1="155.9" x2="271.0" y2="157.20000000000002" stroke="#b0b0b0" stroke-width="0.5" />
<line x1="238.39999999999998" y1="132.4" x2="239.7" y2="132.4" stroke="#b0b0b0" stroke-width="0.5" />
<line x1="274.4" y1="155.9" x2="274.4" y2="157.20000000000002" stroke="#b0b0b0" stroke-width="0.5" />
<line x1="238.39999999999998" y1="135.7" x2="239.7" y2="135.7" stroke="#b0b0b0" stroke-width="0.5" />
<line x1="277.9" y1="155.9" x2="277.9" y2="157.20000000000002" stroke="#b0b0b0" stroke-width="0.5" />
<line x1="238.39999999999998" y1="139.1" x2="239.7" y2="139.1" stroke="#b0b0b0" stroke-width="0.5" />
<line x1="281.4" y1="155.9" x2="281.4" y2="157.20000000000002" stroke="#b0b0b0" stroke-width="0.5" />
<line x1="238.39999999999998" y1="142.4" x2="239.7" y2="142.4" stroke="#b0b0b0" stroke-width="0.5" />
<line x1="284.9" y1="155.9" x2="284.9" y2="157.20000000000002" stroke="#b0b0b0" stroke-width="0.5" />
<line x1="238.39999999999998" y1="145.8" x2="239.7" y2="145.8" stroke="#b0b0b0" stroke-width="0.5" />
<line x1="288.4" y1="155.9" x2="288.4" y2="157.20000000000002" stroke="#b0b0b0" stroke-width="0.5" />
<line x1="238.39999999999998" y1="149.2" x2="239.7" y2="149.2" stroke="#b0b0b0" stroke-width="0.5" />
<line x1="291.8" y1="155.9" x2="291.8" y2="157.20000000000002" stroke="#b0b0b0" stroke-width="0.5" />
<line x1="238.39999999999998" y1="152.5" x2="239.7" y2="152.5" stroke="#b0b0b0" stroke-width="0.5" />
<line x1="268.7" y1="102.1" x2="268.7" y2="155.9" stroke="#c8c8c8" stroke-width="0.8" />
<line x1="239.7" y1="133.2" x2="295.3" y2="133.2" stroke="#c8c8c8" stroke-width="0.8" />
<path d="M243.0,125.3h.7v.7h-.7zM250.3,124.7h.7v.7h-.7zM254.7,123.4h.7v.7h-.7zM255.8,126.2h.7v.7h-.7zM253.3,126.4h.7v.7h-.7zM247.2,125.7h.7v.7h-.7zM252.5,122.7h.7v.7h-.7zM250.5,123.4h.7v.7h-.7zM247.6,124.4h.7v.7h-.7zM257.2,123.8h.7v.7h-.7zM251.7,122.0h.7v.7h-.7zM251.6,126.1h.7v.7h-.7zM255.7,125.0h.7v.7h-.7zM247.8,122.7h.7v.7h-.7zM250.4,122.2h.7v.7h-.7zM243.6,125.8h.7v.7h-.7zM245.5,127.1h.7v.7h-.7zM242.4,125.0h.7v.7h-.7zM244.0,124.6h.7v.7h-.7zM244.8,124.3h.7v.7h-.7zM250.0,123.6h.7v.7h-.7zM254.0,126.7h.7v.7h-.7zM247.4,125.7h.7v.7h-.7zM251.4,124.2h.7v.7h-.7zM264.0,120.8h.7v.7h-.7zM246.9,121.4h.7v.7h-.7zM249.1,123.9h.7v.7h-.7zM273.6,124.8h.7v.7h-.7zM261.6,126.3h.7v.7h-.7zM248.3,125.0h.7v.7h-.7zM260.9,124.6h.7v.7h-.7zM252.2,125.1h.7v.7h-.7zM242.0,123.0h.7v.7h-.7zM252.9,125.1h.7v.7h-.7zM245.5,123.8h.7v.7h-.7zM250.2,124.0h.7v.7h-.7zM255.0,124.4h.7v.7h-.7zM251.9,122.0h.7v.7h-.7zM244.7,124.8h.7v.7h-.7zM241.4,124.7h.7v.7h-.7zM247.0,123.0h.7v.7h-.7zM254.8,123.2h.7v.7h-.7zM245.8,123.2h.7v.7h-.7zM251.2,128.6h.7v.7h-.7zM249.5,125.8h.7v.7h-.7zM248.7,120.3h.7v.7h-.7zM258.8,122.5h.7v.7h-.7zM250.5,122.1h.7v.7h-.7zM244.4,123.5h.7v.7h-.7zM256.0,125.6h.7v.7h-.7zM247.3,125.1h.7v.7h-.7zM248.6,124.4h.7v.7h-.7zM251.8,125.2h.7v.7h-.7zM247.2,124.1h.7v.7h-.7zM252.1,124.4h.7v.7h-.7zM246.1,127.0h.7v.7h-.7zM248.1,125.5h.7v.7h-.7zM252.1,126.2h.7v.7h-.7zM249.6,122.3h.7v.7h-.7zM251.6,127.8h.7v.7h-.7zM253.8,122.3h.7v.7h-.7zM248.1,126.4h.7v.7h-.7zM242.5,124.0h.7v.7h-.7zM249.1,127.7h.7v.7h-.7zM249.1,126.3h.7v.7h-.7zM246.8,123.0h.7v.7h-.7zM256.8,125.2h.7v.7h-.7zM240.5,125.3h.7v.7h-.7zM254.6,123.3h.7v.7h-.7zM252.1,124.7h.7v.7h-.7zM247.9,123.3h.7v.7h-.7zM246.8,123.8h.7v.7h-.7zM242.9,124.2h.7v.7h-.7zM241.9,124.4h.7v.7h-.7zM250.3,122.6h.7v.7h-.7zM255.9,127.3h.7v.7h-.7zM258.7,122.1h.7v.7h-.7zM258.4,124.6h.7v.7h-.7zM250.5,123.3h.7v.7h-.7zM250.8,126.5h.7v.7h-.7zM254.0,123.6h.7v.7h-.7zM246.8,123.6h.7v.7h-.7zM254.3,127.2h.7v.7h-.7zM244.5,124.2h.7v.7h-.7zM248.5,123.1h.7v.7h-.7zM253.2,125.1h.7v.7h-.7zM242.4,122.6h.7v.7h-.7zM257.9,124.7h.7v.7h-.7zM253.9,123.4h.7v.7h-.7zM248.5,125.0h.7v.7h-.7zM247.8,122.5h.7v.7h-.7zM250.8,125.7h.7v.7h-.7zM244.7,125.9h.7v.7h-.7zM255.0,122.9h.7v.7h-.7zM250.8,124.2h.7v.7h-.7zM254.6,125.3h.7v.7h-.7zM243.1,122.1h.7v.7h-.7zM256.9,124.4h.7v.7h-.7zM253.3,124.8h.7v.7h-.7zM259.9,122.3h.7v.7h-.7zM257.3,122.9h.7v.7h-.7zM255.1,126.4h.7v.7h-.7zM242.6,124.9h.7v.7h-.7zM249.1,123.8h.7v.7h-.7zM251.0,122.6h.7v.7h-.7zM245.1,125.3h.7v.7h-.7zM255.8,123.3h.7v.7h-.7zM242.2,127.9h.7v.7h-.7zM257.3,124.8h.7v.7h-.7zM244.7,123.3h.7v.7h-.7zM252.2,122.7h.7v.7h-.7zM260.3,124.5h.7v.7h-.7zM253.1,122.6h.7v.7h-.7zM245.4,123.0h.7v.7h-.7zM252.4,123.8h.7v.7h-.7zM249.1,124.7h.7v.7h-.7zM252.1,126.6h.7v.7h-.7zM249.6,122.6h.7v.7h-.7zM250.7,126.6h.7v.7h-.7zM247.5,124.3h.7v.7h-.7zM248.7,124.9h.7v.7h-.7zM252.3,123.0h.7v.7h-.7zM249.4,125.7h.7v.7h-.7zM257.3,125.7h.7v.7h-.7zM255.9,123.7h.7v.7h-.7zM248.7,125.7h.7v.7h-.7zM243.9,124.2h.7v.7h-.7zM246.6,122.4h.7v.7h-.7zM254.2,123.1h.7v.7h-.7zM248.6,123.8h.7v.7h-.7zM246.5,126.5h.7v.7h-.7zM247.9,124.6h.7v.7h-.7zM243.1,123.5h.7v.7h-.7zM248.9,123.8h.7v.7h-.7zM247.4,124.5h.7v.7h-.7zM260.0,124.0h.7v.7h-.7zM250.0,123.6h.7v.7h-.7zM265.8,126.8h.7v.7h-.7zM254.1,125.4h.7v.7h-.7zM246.6,124.0h.7v.7h-.7zM252.0,124.4h.7v.7h-.7zM245.8,123.0h.7v.7h-.7zM253.8,124.7h.7v.7h-.7zM258.3,123.2h.7v.7h-.7zM252.2,122.0h.7v.7h-.7zM255.7,122.5h.7v.7h-.7zM243.4,123.8h.7v.7h-.7zM264.8,123.3h.7v.7h-.7zM243.4,125.0h.7v.7h-.7zM252.2,126.9h.7v.7h-.7zM243.4,121.7h.7v.7h-.7zM249.0,124.8h.7v.7h-.7zM252.9,126.0h.7v.7h-.7zM242.0,123.0h.7v.7h-.7zM250.0,125.6h.7v.7h-.7zM253.6,123.6h.7v.7h-.7zM244.8,125.6h.7v.7h-.7zM256.4,128.5h.7v.7h-.7zM249.8,126.8h.7v.7h-.7zM243.7,123.4h.7v.7h-.7zM246.8,123.5h.7v.7h-.7zM245.7,123.4h.7v.7h-.7zM250.5,123.5h.7v.7h-.7zM254.7,124.1h.7v.7h-.7zM250.8,126.6h.7v.7h-.7zM252.7,124.5h.7v.7h-.7zM250.7,124.4h.7v.7h-.7zM254.2,123.0h.7v.7h-.7zM257.6,126.7h.7v.7h-.7zM257.6,123.5h.7v.7h-.7zM241.5,123.6h.7v.7h-.7zM251.7,125.6h.7v.7h-.7zM249.8,123.8h.7v.7h-.7zM259.8,123.2h.7v.7h-.7zM257.1,125.7h.7v.7h-.7zM243.0,124.7h.7v.7h-.7zM247.5,122.8h.7v.7h-.7zM253.3,123.6h.7v.7h-.7zM252.4,122.6h.7v.7h-.7zM248.9,123.8h.7v.7h-.7zM241.7,121.6h.7v.7h-.7zM253.4,124.5h.7v.7h-.7zM245.3,124.1h.7v.7h-.7zM254.7,127.1h.7v.7h-.7zM245.6,125.2h.7v.7h-.7zM263.3,124.4h.7v.7h-.7zM259.5,120.2h.7v.7h-.7zM259.3,124.2h.7v.7h-.7zM257.0,126.1h.7v.7h-.7zM257.9,124.2h.7v.7h-.7zM246.4,123.5h.7v.7h-.7zM250.6,124.9h.7v.7h-.7zM248.0,124.3h.7v.7h-.7zM256.0,124.8h.7v.7h-.7zM264.3,127.6h.7v.7h-.7zM244.1,123.4h.7v.7h-.7zM243.1,122.4h.7v.7h-.7zM254.0,122.7h.7v.7h-.7zM244.7,123.8h.7v.7h-.7zM255.5,123.7h.7v.7h-.7zM248.7,125.7h.7v.7h-.7zM253.6,125.0h.7v.7h-.7zM256.4,122.7h.7v.7h-.7zM252.1,123.3h.7v.7h-.7zM256.9,125.5h.7v.7h-.7zM244.7,126.4h.7v.7h-.7zM243.9,126.1h.7v.7h-.7zM252.0,122.9h.7v.7h-.7zM244.2,123.8h.7v.7h-.7zM250.7,123.1h.7v.7h-.7zM254.1,122.0h.7v.7h-.7zM250.8,124.3h.7v.7h-.7zM243.4,120.3h.7v.7h-.7zM247.2,123.9h.7v.7h-.7zM256.2,123.5h.7v.7h-.7zM259.5,126.5h.7v.7h-.7zM257.3,126.3h.7v.7h-.7zM252.9,123.4h.7v.7h-.7zM254.7,125.8h.7v.7h-.7zM252.2,123.9h.7v.7h-.7zM241.6,125.3h.7v.7h-.7zM252.9,122.2h.7v.7h-.7zM251.4,125.4h.7v.7h-.7zM250.2,125.5h.7v.7h-.7zM255.3,121.9h.7v.7h-.7zM249.0,125.0h.7v.7h-.7zM256.2,126.5h.7v.7h-.7zM255.1,126.2h.7v.7h-.7zM260.8,122.8h.7v.7h-.7zM248.6,122.6h.7v.7h-.7zM255.7,122.2h.7v.7h-.7zM257.8,125.7h.7v.7h-.7zM253.7,120.8h.7v.7h-.7zM246.8,125.4h.7v.7h-.7zM242.4,123.9h.7v.7h-.7zM250.2,125.7h.7v.7h-.7zM252.5,124.7h.7v.7h-.7zM248.2,124.3h.7v.7h-.7zM250.0,125.4h.7v.7h-.7zM249.8,125.9h.7v.7h-.7zM240.7,126.1h.7v.7h-.7zM249.8,126.0h.7v.7h-.7zM251.3,125.6h.7v.7h-.7zM259.7,123.4h.7v.7h-.7zM251.3,124.0h.7v.7h-.7zM252.0,121.7h.7v.7h-.7zM249.8,123.9h.7v.7h-.7zM246.1,123.9h.7v.7h-.7zM241.7,126.5h.7v.7h-.7zM253.5,127.2h.7v.7h-.7zM245.6,122.4h.7v.7h-.7zM252.5,121.6h.7v.7h-.7z" fill="#000" fill-opacity="0.24"/>
<path d="M263.0,123.3h.7v.7h-.7zM260.2,125.2h.7v.7h-.7zM262.1,128.4h.7v.7h-.7zM265.0,122.2h.7v.7h-.7zM266.7,122.1h.7v.7h-.7zM262.3,122.3h.7v.7h-.7zM257.7,127.3h.7v.7h-.7zM259.1,123.5h.7v.7h-.7zM259.0,124.1h.7v.7h-.7zM268.9,122.4h.7v.7h-.7zM255.7,125.9h.7v.7h-.7zM253.9,124.0h.7v.7h-.7zM267.4,124.7h.7v.7h-.7zM259.4,123.3h.7v.7h-.7zM257.3,123.6h.7v.7h-.7zM262.5,127.2h.7v.7h-.7zM266.6,123.6h.7v.7h-.7zM258.2,126.1h.7v.7h-.7zM252.8,123.8h.7v.7h-.7zM260.2,122.5h.7v.7h-.7zM256.9,125.4h.7v.7h-.7zM253.6,122.9h.7v.7h-.7zM258.5,124.9h.7v.7h-.7zM255.0,126.8h.7v.7h-.7zM260.2,124.2h.7v.7h-.7zM259.9,123.4h.7v.7h-.7zM256.9,127.0h.7v.7h-.7zM262.7,124.5h.7v.7h-.7zM266.6,123.3h.7v.7h-.7zM264.8,124.7h.7v.7h-.7zM257.3,126.2h.7v.7h-.7zM254.3,126.0h.7v.7h-.7zM257.3,125.5h.7v.7h-.7zM268.5,125.8h.7v.7h-.7zM258.7,124.6h.7v.7h-.7zM259.8,122.3h.7v.7h-.7zM256.2,124.7h.7v.7h-.7zM264.3,121.2h.7v.7h-.7zM261.3,125.6h.7v.7h-.7zM262.2,122.7h.7v.7h-.7zM266.7,122.2h.7v.7h-.7zM264.8,127.8h.7v.7h-.7zM251.5,125.1h.7v.7h-.7zM263.1,125.1h.7v.7h-.7zM257.8,124.0h.7v.7h-.7zM254.7,124.9h.7v.7h-.7zM264.2,123.3h.7v.7h-.7zM257.0,123.7h.7v.7h-.7zM261.5,124.7h.7v.7h-.7zM261.0,124.8h.7v.7h-.7zM255.1,119.3h.7v.7h-.7zM264.6,127.4h.7v.7h-.7zM254.6,123.3h.7v.7h-.7zM263.0,126.5h.7v.7h-.7zM264.7,127.1h.7v.7h-.7zM261.3,125.4h.7v.7h-.7zM263.5,123.8h.7v.7h-.7zM267.4,125.8h.7v.7h-.7zM266.3,123.8h.7v.7h-.7zM266.6,122.5h.7v.7h-.7zM263.4,119.5h.7v.7h-.7zM256.6,126.0h.7v.7h-.7zM259.3,124.9h.7v.7h-.7zM253.6,127.6h.7v.7h-.7zM264.4,124.6h.7v.7h-.7zM263.5,125.2h.7v.7h-.7zM268.4,125.0h.7v.7h-.7zM254.3,124.1h.7v.7h-.7zM267.8,125.7h.7v.7h-.7zM259.4,125.8h.7v.7h-.7zM262.1,125.8h.7v.7h-.7zM253.7,122.8h.7v.7h-.7zM264.8,124.2h.7v.7h-.7zM263.2,128.4h.7v.7h-.7zM260.0,125.1h.7v.7h-.7zM258.8,123.4h.7v.7h-.7zM261.1,121.8h.7v.7h-.7zM251.2,127.3h.7v.7h-.7zM261.0,126.8h.7v.7h-.7zM262.1,124.9h.7v.7h-.7zM264.8,126.0h.7v.7h-.7zM255.6,127.0h.7v.7h-.7zM256.8,125.0h.7v.7h-.7zM274.0,124.8h.7v.7h-.7zM269.6,123.9h.7v.7h-.7zM264.5,124.7h.7v.7h-.7zM263.5,122.9h.7v.7h-.7zM257.0,125.3h.7v.7h-.7zM253.9,123.0h.7v.7h-.7zM264.6,123.4h.7v.7h-.7zM257.2,122.4h.7v.7h-.7zM262.2,123.9h.7v.7h-.7zM262.2,124.2h.7v.7h-.7zM270.5,123.8h.7v.7h-.7zM252.0,124.8h.7v.7h-.7zM261.5,124.9h.7v.7h-.7zM253.7,126.8h.7v.7h-.7zM261.4,124.5h.7v.7h-.7zM253.8,125.5h.7v.7h-.7zM261.2,127.2h.7v.7h-.7zM259.5,122.2h.7v.7h-.7zM262.1,122.8h.7v.7h-.7zM263.5,122.5h.7v.7h-.7zM260.9,124.2h.7v.7h-.7zM261.3,123.6h.7v.7h-.7zM257.6,124.5h.7v.7h-.7zM258.7,124.9h.7v.7h-.7zM260.2,120.2h.7v.7h-.7zM261.2,127.3h.7v.7h-.7zM263.0,125.8h.7v.7h-.7zM263.7,123.7h.7v.7h-.7zM255.0,126.2h.7v.7h-.7zM266.6,125.7h.7v.7h-.7zM263.6,125.4h.7v.7h-.7zM261.4,125.1h.7v.7h-.7zM261.6,125.2h.7v.7h-.7zM256.9,123.4h.7v.7h-.7zM264.3,123.9h.7v.7h-.7zM249.8,124.8h.7v.7h-.7zM250.5,128.3h.7v.7h-.7zM265.0,125.9h.7v.7h-.7zM258.3,122.4h.7v.7h-.7zM260.5,124.6h.7v.7h-.7zM257.8,124.9h.7v.7h-.7zM264.8,125.8h.7v.7h-.7zM256.5,120.4h.7v.7h-.7zM261.5,123.3h.7v.7h-.7zM263.7,127.8h.7v.7h-.7zM269.4,125.2h.7v.7h-.7zM266.9,127.8h.7v.7h-.7zM261.8,125.1h.7v.7h-.7zM265.6,124.6h.7v.7h-.7zM259.2,123.2h.7v.7h-.7zM261.6,123.4h.7v.7h-.7zM265.4,124.0h.7v.7h-.7zM268.6,126.9h.7v.7h-.7zM255.7,126.7h.7v.7h-.7zM259.7,127.3h.7v.7h-.7zM264.0,124.6h.7v.7h-.7zM264.8,123.6h.7v.7h-.7zM263.2,125.4h.7v.7h-.7zM260.9,125.4h.7v.7h-.7zM256.9,125.7h.7v.7h-.7zM255.9,125.8h.7v.7h-.7zM263.9,126.0h.7v.7h-.7zM259.0,130.4h.7v.7h-.7zM260.6,125.0h.7v.7h-.7zM258.1,127.4h.7v.7h-.7zM259.4,126.6h.7v.7h-.7zM257.2,125.3h.7v.7h-.7z" fill="#000" fill-opacity="0.22"/>
<path d="M258.0,139.0h.7v.7h-.7zM253.5,131.7h.7v.7h-.7zM256.7,127.6h.7v.7h-.7zM254.4,140.6h.7v.7h-.7zM249.4,144.1h.7v.7h-.7zM252.9,132.0h.7v.7h-.7zM260.6,135.5h.7v.7h-.7zM253.9,135.5h.7v.7h-.7zM264.0,133.9h.7v.7h-.7zM255.2,131.2h.7v.7h-.7zM250.9,135.3h.7v.7h-.7zM262.9,133.7h.7v.7h-.7zM263.1,138.2h.7v.7h-.7zM255.0,133.7h.7v.7h-.7zM260.8,142.9h.7v.7h-.7zM247.3,142.9h.7v.7h-.7zM260.3,132.5h.7v.7h-.7zM273.5,129.7h.7v.7h-.7zM259.5,127.6h.7v.7h-.7zM259.4,130.7h.7v.7h-.7zM258.5,134.6h.7v.7h-.7zM256.9,138.3h.7v.7h-.7zM269.4,131.8h.7v.7h-.7zM253.7,125.7h.7v.7h-.7zM266.6,134.0h.7v.7h-.7zM255.5,132.9h.7v.7h-.7zM259.2,128.4h.7v.7h-.7zM259.2,126.8h.7v.7h-.7zM252.9,137.5h.7v.7h-.7zM250.0,139.5h.7v.7h-.7zM257.2,126.9h.7v.7h-.7zM261.4,128.3h.7v.7h-.7zM261.4,132.8h.7v.7h-.7zM254.0,133.7h.7v.7h-.7zM246.8,137.8h.7v.7h-.7zM258.2,143.2h.7v.7h-.7zM259.7,124.9h.7v.7h-.7zM262.8,131.8h.7v.7h-.7zM257.1,137.2h.7v.7h-.7zM260.7,128.8h.7v.7h-.7zM256.9,135.7h.7v.7h-.7zM253.1,138.4h.7v.7h-.7zM255.7,131.7h.7v.7h-.7zM254.3,138.3h.7v.7h-.7zM263.6,132.0h.7v.7h-.7zM255.4,140.1h.7v.7h-.7zM260.5,135.6h.7v.7h-.7zM261.8,126.2h.7v.7h-.7zM255.6,132.2h.7v.7h-.7zM258.7,145.0h.7v.7h-.7zM258.3,123.7h.7v.7h-.7zM258.8,130.3h.7v.7h-.7zM264.4,130.0h.7v.7h-.7zM257.4,135.2h.7v.7h-.7zM260.1,132.7h.7v.7h-.7zM256.4,134.3h.7v.7h-.7zM257.7,127.8h.7v.7h-.7zM257.7,133.5h.7v.7h-.7zM257.4,138.6h.7v.7h-.7zM250.1,137.4h.7v.7h-.7zM254.9,139.3h.7v.7h-.7zM255.6,135.9h.7v.7h-.7zM255.8,126.4h.7v.7h-.7zM258.4,129.4h.7v.7h-.7zM256.3,134.5h.7v.7h-.7zM264.3,133.8h.7v.7h-.7zM267.9,128.1h.7v.7h-.7zM254.1,133.9h.7v.7h-.7zM265.8,137.7h.7v.7h-.7zM258.3,130.5h.7v.7h-.7zM260.2,133.9h.7v.7h-.7zM256.2,131.0h.7v.7h-.7zM243.0,141.5h.7v.7h-.7zM264.2,130.9h.7v.7h-.7zM246.2,142.3h.7v.7h-.7zM253.4,148.5h.7v.7h-.7zM255.8,128.7h.7v.7h-.7zM260.2,128.0h.7v.7h-.7zM261.1,132.0h.7v.7h-.7zM253.5,141.0h.7v.7h-.7zM254.4,144.1h.7v.7h-.7zM255.6,129.8h.7v.7h-.7zM252.6,147.0h.7v.7h-.7zM262.4,123.8h.7v.7h-.7zM267.3,128.5h.7v.7h-.7zM256.6,134.5h.7v.7h-.7zM260.4,140.5h.7v.7h-.7zM253.9,126.4h.7v.7h-.7zM271.6,129.5h.7v.7h-.7zM251.2,136.7h.7v.7h-.7zM253.3,137.6h.7v.7h-.7zM260.7,133.4h.7v.7h-.7zM252.7,133.2h.7v.7h-.7zM262.3,130.4h.7v.7h-.7zM267.9,122.5h.7v.7h-.7zM262.4,131.2h.7v.7h-.7zM257.6,142.1h.7v.7h-.7zM256.3,130.1h.7v.7h-.7zM259.0,139.1h.7v.7h-.7zM255.1,143.9h.7v.7h-.7zM260.9,130.4h.7v.7h-.7zM270.0,135.6h.7v.7h-.7zM261.7,132.4h.7v.7h-.7zM271.9,132.8h.7v.7h-.7zM252.5,136.7h.7v.7h-.7zM255.7,133.2h.7v.7h-.7zM252.4,143.1h.7v.7h-.7zM258.7,134.1h.7v.7h-.7zM264.0,126.5h.7v.7h-.7zM258.4,135.3h.7v.7h-.7zM255.4,135.2h.7v.7h-.7zM262.1,131.1h.7v.7h-.7zM263.1,126.1h.7v.7h-.7zM255.2,127.8h.7v.7h-.7zM255.5,131.7h.7v.7h-.7zM267.3,131.7h.7v.7h-.7zM265.7,139.2h.7v.7h-.7zM267.7,131.3h.7v.7h-.7zM250.4,131.0h.7v.7h-.7zM256.9,132.7h.7v.7h-.7zM253.7,135.3h.7v.7h-.7zM253.1,146.0h.7v.7h-.7zM250.0,135.7h.7v.7h-.7zM256.7,125.6h.7v.7h-.7zM265.5,134.1h.7v.7h-.7zM253.4,131.0h.7v.7h-.7zM250.4,128.6h.7v.7h-.7zM265.7,129.0h.7v.7h-.7zM251.6,133.3h.7v.7h-.7zM265.2,137.6h.7v.7h-.7zM249.5,136.6h.7v.7h-.7zM250.3,143.3h.7v.7h-.7zM265.0,142.2h.7v.7h-.7zM256.2,132.8h.7v.7h-.7zM256.5,140.0h.7v.7h-.7zM251.2,143.1h.7v.7h-.7zM258.0,131.1h.7v.7h-.7zM256.0,141.5h.7v.7h-.7zM266.9,125.2h.7v.7h-.7zM265.6,138.7h.7v.7h-.7zM253.9,135.4h.7v.7h-.7zM251.0,138.1h.7v.7h-.7zM256.4,132.7h.7v.7h-.7zM249.7,130.7h.7v.7h-.7zM248.0,135.3h.7v.7h-.7zM260.1,129.6h.7v.7h-.7zM255.2,139.8h.7v.7h-.7zM259.0,128.9h.7v.7h-.7zM256.4,139.0h.7v.7h-.7zM257.7,129.4h.7v.7h-.7zM259.2,133.0h.7v.7h-.7zM261.7,126.4h.7v.7h-.7zM264.0,132.3h.7v.7h-.7zM255.4,142.0h.7v.7h-.7zM259.4,125.4h.7v.7h-.7zM265.7,121.9h.7v.7h-.7zM252.1,136.3h.7v.7h-.7zM263.8,133.3h.7v.7h-.7zM261.2,139.7h.7v.7h-.7zM264.0,137.9h.7v.7h-.7zM274.0,123.9h.7v.7h-.7zM242.6,142.1h.7v.7h-.7zM252.3,138.5h.7v.7h-.7zM255.2,128.8h.7v.7h-.7zM250.9,137.4h.7v.7h-.7zM249.7,124.5h.7v.7h-.7zM263.4,130.4h.7v.7h-.7zM258.8,135.2h.7v.7h-.7zM252.2,137.8h.7v.7h-.7zM266.7,134.2h.7v.7h-.7zM259.8,131.1h.7v.7h-.7zM257.1,142.4h.7v.7h-.7zM259.7,130.3h.7v.7h-.7zM243.5,139.0h.7v.7h-.7zM250.7,146.5h.7v.7h-.7zM257.0,130.3h.7v.7h-.7zM263.7,145.4h.7v.7h-.7zM261.0,123.9h.7v.7h-.7zM253.8,129.6h.7v.7h-.7zM248.8,141.4h.7v.7h-.7zM275.9,130.8h.7v.7h-.7zM257.2,132.3h.7v.7h-.7zM262.0,137.4h.7v.7h-.7zM244.5,132.2h.7v.7h-.7zM269.4,127.7h.7v.7h-.7zM267.7,128.6h.7v.7h-.7zM264.6,125.7h.7v.7h-.7zM265.2,138.3h.7v.7h-.7zM262.5,128.1h.7v.7h-.7zM261.2,127.8h.7v.7h-.7zM251.4,141.8h.7v.7h-.7zM268.3,131.9h.7v.7h-.7zM253.3,142.5h.7v.7h-.7zM260.5,129.4h.7v.7h-.7zM246.8,148.0h.7v.7h-.7zM264.4,132.5h.7v.7h-.7zM243.9,134.8h.7v.7h-.7zM266.0,133.2h.7v.7h-.7zM260.1,131.0h.7v.7h-.7zM258.7,130.2h.7v.7h-.7zM253.8,131.7h.7v.7h-.7zM258.3,131.3h.7v.7h-.7zM265.5,133.1h.7v.7h-.7zM258.6,144.7h.7v.7h-.7zM252.9,140.3h.7v.7h-.7zM267.8,134.9h.7v.7h-.7zM248.3,146.9h.7v.7h-.7zM269.1,135.0h.7v.7h-.7zM243.4,140.1h.7v.7h-.7zM256.2,132.6h.7v.7h-.7zM263.7,125.9h.7v.7h-.7zM266.6,131.4h.7v.7h-.7zM246.8,135.8h.7v.7h-.7zM255.6,136.3h.7v.7h-.7zM263.2,129.3h.7v.7h-.7zM258.7,123.9h.7v.7h-.7zM259.6,130.7h.7v.7h-.7zM253.4,139.8h.7v.7h-.7zM268.8,125.8h.7v.7h-.7zM251.4,133.5h.7v.7h-.7zM269.2,125.9h.7v.7h-.7zM265.0,136.5h.7v.7h-.7zM261.5,125.9h.7v.7h-.7zM265.9,133.6h.7v.7h-.7zM263.7,136.2h.7v.7h-.7zM254.6,135.9h.7v.7h-.7zM257.2,139.2h.7v.7h-.7zM255.4,138.2h.7v.7h-.7zM251.4,137.9h.7v.7h-.7zM255.6,135.0h.7v.7h-.7zM258.2,132.7h.7v.7h-.7zM250.8,126.4h.7v.7h-.7zM262.6,127.0h.7v.7h-.7zM254.2,131.6h.7v.7h-.7zM261.1,126.3h.7v.7h-.7zM264.3,136.8h.7v.7h-.7zM270.8,132.3h.7v.7h-.7zM258.1,126.6h.7v.7h-.7zM268.8,133.7h.7v.7h-.7zM265.1,133.9h.7v.7h-.7zM257.0,131.6h.7v.7h-.7zM267.9,134.9h.7v.7h-.7zM254.7,141.9h.7v.7h-.7zM262.0,136.6h.7v.7h-.7zM262.8,137.4h.7v.7h-.7zM266.5,133.5h.7v.7h-.7zM252.6,142.9h.7v.7h-.7zM255.2,129.2h.7v.7h-.7zM258.2,125.6h.7v.7h-.7zM268.1,137.3h.7v.7h-.7zM257.9,139.8h.7v.7h-.7zM262.6,134.9h.7v.7h-.7zM252.2,141.9h.7v.7h-.7zM261.0,136.5h.7v.7h-.7zM261.3,138.4h.7v.7h-.7zM261.7,135.7h.7v.7h-.7zM266.5,129.3h.7v.7h-.7zM264.5,131.0h.7v.7h-.7zM259.7,129.8h.7v.7h-.7zM266.1,135.9h.7v.7h-.7zM260.0,137.5h.7v.7h-.7zM257.5,127.8h.7v.7h-.7zM264.0,137.9h.7v.7h-.7zM250.5,128.7h.7v.7h-.7zM257.6,130.6h.7v.7h-.7zM268.9,126.3h.7v.7h-.7zM256.5,131.5h.7v.7h-.7zM258.1,130.7h.7v.7h-.7zM253.0,137.3h.7v.7h-.7zM257.4,142.5h.7v.7h-.7zM251.5,138.3h.7v.7h-.7zM250.5,131.2h.7v.7h-.7zM261.7,119.0h.7v.7h-.7zM262.5,122.6h.7v.7h-.7zM265.2,142.7h.7v.7h-.7zM242.5,136.9h.7v.7h-.7zM266.2,129.5h.7v.7h-.7zM255.1,136.0h.7v.7h-.7zM253.2,138.3h.7v.7h-.7zM265.6,126.6h.7v.7h-.7zM262.5,138.3h.7v.7h-.7zM267.8,123.8h.7v.7h-.7zM258.4,130.6h.7v.7h-.7zM253.6,134.9h.7v.7h-.7zM249.9,129.5h.7v.7h-.7zM245.1,138.9h.7v.7h-.7zM262.5,138.4h.7v.7h-.7zM254.9,135.4h.7v.7h-.7zM264.1,134.4h.7v.7h-.7zM257.5,134.2h.7v.7h-.7zM267.9,125.3h.7v.7h-.7zM251.0,129.4h.7v.7h-.7zM260.0,131.2h.7v.7h-.7zM268.1,125.2h.7v.7h-.7zM265.5,134.6h.7v.7h-.7zM263.9,122.3h.7v.7h-.7zM267.1,127.9h.7v.7h-.7zM256.8,133.2h.7v.7h-.7zM255.1,134.2h.7v.7h-.7zM246.6,145.2h.7v.7h-.7zM256.0,129.9h.7v.7h-.7zM264.4,143.5h.7v.7h-.7zM259.3,131.0h.7v.7h-.7zM265.7,124.1h.7v.7h-.7zM255.9,132.4h.7v.7h-.7zM259.0,137.9h.7v.7h-.7zM259.5,128.8h.7v.7h-.7zM257.8,134.8h.7v.7h-.7zM255.9,135.5h.7v.7h-.7zM252.2,133.9h.7v.7h-.7zM255.6,129.7h.7v.7h-.7zM260.1,131.6h.7v.7h-.7zM251.4,135.2h.7v.7h-.7zM255.2,135.2h.7v.7h-.7zM258.3,132.7h.7v.7h-.7zM257.4,143.1h.7v.7h-.7zM263.6,130.9h.7v.7h-.7zM264.5,131.6h.7v.7h-.7zM257.1,135.4h.7v.7h-.7zM275.9,127.6h.7v.7h-.7zM263.0,128.4h.7v.7h-.7zM267.9,140.6h.7v.7h-.7zM263.6,136.6h.7v.7h-.7zM267.1,131.7h.7v.7h-.7zM267.7,128.8h.7v.7h-.7zM259.3,129.6h.7v.7h-.7zM273.8,124.9h.7v.7h-.7zM262.7,139.1h.7v.7h-.7zM255.5,135.9h.7v.7h-.7zM254.0,137.1h.7v.7h-.7zM257.6,137.7h.7v.7h-.7zM255.9,132.1h.7v.7h-.7zM256.3,134.7h.7v.7h-.7zM258.0,139.7h.7v.7h-.7zM262.4,132.0h.7v.7h-.7zM253.1,140.7h.7v.7h-.7zM251.7,139.7h.7v.7h-.7zM256.9,131.5h.7v.7h-.7zM251.7,134.5h.7v.7h-.7z" fill="#000" fill-opacity="0.22"/>
<path d="M269.1,142.1h.7v.7h-.7zM253.8,146.8h.7v.7h-.7zM258.0,147.2h.7v.7h-.7zM246.9,138.9h.7v.7h-.7zM277.7,142.9h.7v.7h-.7zM253.2,143.7h.7v.7h-.7zM261.9,138.5h.7v.7h-.7zM257.1,143.0h.7v.7h-.7zM259.7,143.8h.7v.7h-.7zM251.6,139.8h.7v.7h-.7zM245.3,141.6h.7v.7h-.7zM266.4,141.5h.7v.7h-.7zM259.3,142.3h.7v.7h-.7zM259.9,143.2h.7v.7h-.7zM251.8,148.3h.7v.7h-.7zM253.4,137.9h.7v.7h-.7zM253.0,145.2h.7v.7h-.7zM247.7,146.1h.7v.7h-.7zM260.3,151.3h.7v.7h-.7zM250.9,145.6h.7v.7h-.7zM243.9,141.5h.7v.7h-.7zM255.9,144.7h.7v.7h-.7zM254.8,142.8h.7v.7h-.7zM251.1,141.4h.7v.7h-.7zM257.2,145.3h.7v.7h-.7zM259.5,146.9h.7v.7h-.7zM263.2,136.2h.7v.7h-.7zM251.7,142.5h.7v.7h-.7zM250.9,147.1h.7v.7h-.7zM260.2,142.7h.7v.7h-.7zM256.0,148.0h.7v.7h-.7zM252.8,141.9h.7v.7h-.7zM261.3,144.9h.7v.7h-.7zM264.7,144.5h.7v.7h-.7zM260.2,141.0h.7v.7h-.7zM248.9,143.1h.7v.7h-.7zM261.7,143.4h.7v.7h-.7zM253.7,147.3h.7v.7h-.7zM254.9,146.9h.7v.7h-.7zM269.9,145.9h.7v.7h-.7zM261.5,145.0h.7v.7h-.7zM256.9,144.2h.7v.7h-.7zM255.6,147.3h.7v.7h-.7zM244.4,142.1h.7v.7h-.7zM259.6,139.9h.7v.7h-.7zM254.5,140.4h.7v.7h-.7zM258.1,146.4h.7v.7h-.7zM264.9,145.0h.7v.7h-.7zM250.4,144.1h.7v.7h-.7zM259.0,148.5h.7v.7h-.7zM240.8,144.5h.7v.7h-.7zM243.0,145.8h.7v.7h-.7zM258.2,145.0h.7v.7h-.7zM261.1,144.6h.7v.7h-.7zM250.9,144.4h.7v.7h-.7zM263.2,142.7h.7v.7h-.7zM255.4,138.5h.7v.7h-.7zM262.9,141.2h.7v.7h-.7zM250.2,141.4h.7v.7h-.7zM249.4,142.1h.7v.7h-.7zM263.7,146.1h.7v.7h-.7zM264.7,148.8h.7v.7h-.7zM249.2,144.9h.7v.7h-.7zM265.2,151.9h.7v.7h-.7zM245.7,137.7h.7v.7h-.7zM258.3,141.8h.7v.7h-.7zM248.5,144.6h.7v.7h-.7zM249.9,134.4h.7v.7h-.7zM255.0,143.6h.7v.7h-.7zM259.4,146.7h.7v.7h-.7zM256.4,142.2h.7v.7h-.7zM250.7,136.8h.7v.7h-.7zM252.2,146.9h.7v.7h-.7zM259.5,150.9h.7v.7h-.7zM254.1,136.3h.7v.7h-.7zM260.7,147.1h.7v.7h-.7zM247.3,136.9h.7v.7h-.7zM256.2,145.8h.7v.7h-.7zM247.7,141.8h.7v.7h-.7zM250.0,138.6h.7v.7h-.7zM246.3,143.6h.7v.7h-.7zM252.6,140.5h.7v.7h-.7zM248.8,142.6h.7v.7h-.7zM247.5,144.5h.7v.7h-.7zM245.0,143.4h.7v.7h-.7zM253.9,146.6h.7v.7h-.7zM247.8,140.6h.7v.7h-.7zM253.5,151.1h.7v.7h-.7zM245.3,144.2h.7v.7h-.7zM250.7,144.2h.7v.7h-.7zM259.5,143.6h.7v.7h-.7zM256.8,144.1h.7v.7h-.7zM251.2,142.2h.7v.7h-.7zM244.0,141.7h.7v.7h-.7zM249.9,142.1h.7v.7h-.7zM260.0,144.5h.7v.7h-.7zM258.2,147.3h.7v.7h-.7zM254.9,142.7h.7v.7h-.7zM246.3,145.1h.7v.7h-.7zM262.7,147.0h.7v.7h-.7zM254.5,145.5h.7v.7h-.7zM261.2,150.0h.7v.7h-.7zM263.2,143.6h.7v.7h-.7zM255.7,143.7h.7v.7h-.7zM256.6,141.1h.7v.7h-.7zM260.2,140.4h.7v.7h-.7zM249.7,144.4h.7v.7h-.7zM251.2,142.1h.7v.7h-.7zM241.2,146.1h.7v.7h-.7zM255.0,142.5h.7v.7h-.7zM258.1,143.8h.7v.7h-.7zM250.4,150.7h.7v.7h-.7zM252.0,146.7h.7v.7h-.7zM267.2,140.6h.7v.7h-.7zM255.6,139.9h.7v.7h-.7zM262.0,141.7h.7v.7h-.7zM247.7,148.0h.7v.7h-.7zM261.2,139.6h.7v.7h-.7zM262.9,143.8h.7v.7h-.7zM273.2,149.6h.7v.7h-.7zM251.3,142.0h.7v.7h-.7zM249.2,143.5h.7v.7h-.7zM255.3,145.8h.7v.7h-.7zM255.6,137.4h.7v.7h-.7zM249.6,148.4h.7v.7h-.7zM262.7,142.4h.7v.7h-.7zM254.1,142.4h.7v.7h-.7zM255.2,136.6h.7v.7h-.7zM261.0,140.5h.7v.7h-.7zM256.0,133.4h.7v.7h-.7zM256.6,148.1h.7v.7h-.7zM258.2,140.2h.7v.7h-.7zM244.4,147.4h.7v.7h-.7zM256.7,145.3h.7v.7h-.7zM253.2,140.0h.7v.7h-.7zM260.8,139.4h.7v.7h-.7zM261.0,136.6h.7v.7h-.7zM248.8,137.5h.7v.7h-.7zM263.8,136.3h.7v.7h-.7zM247.4,145.5h.7v.7h-.7zM256.5,151.4h.7v.7h-.7zM267.3,145.4h.7v.7h-.7zM259.6,136.0h.7v.7h-.7zM249.1,141.7h.7v.7h-.7zM253.8,137.7h.7v.7h-.7zM248.8,139.8h.7v.7h-.7zM262.1,144.6h.7v.7h-.7zM252.8,141.9h.7v.7h-.7zM256.9,140.3h.7v.7h-.7zM253.2,136.4h.7v.7h-.7zM259.5,146.7h.7v.7h-.7zM257.4,144.8h.7v.7h-.7zM257.4,150.8h.7v.7h-.7zM256.4,137.9h.7v.7h-.7zM248.0,145.7h.7v.7h-.7z" fill="#000" fill-opacity="0.16"/>
<path d="M284.7,129.8h.7v.7h-.7zM282.3,127.3h.7v.7h-.7zM272.0,127.3h.7v.7h-.7zM271.9,129.5h.7v.7h-.7zM274.7,131.1h.7v.7h-.7zM272.8,118.6h.7v.7h-.7zM283.6,130.4h.7v.7h-.7zM274.8,131.4h.7v.7h-.7zM280.5,125.2h.7v.7h-.7zM282.4,127.3h.7v.7h-.7zM283.1,126.8h.7v.7h-.7zM279.9,130.8h.7v.7h-.7zM282.3,127.7h.7v.7h-.7zM275.2,124.9h.7v.7h-.7zM276.0,125.8h.7v.7h-.7zM280.1,128.4h.7v.7h-.7zM278.6,128.1h.7v.7h-.7zM284.0,135.5h.7v.7h-.7zM281.3,122.8h.7v.7h-.7zM279.4,125.5h.7v.7h-.7zM277.9,126.9h.7v.7h-.7zM272.9,122.3h.7v.7h-.7zM271.3,133.7h.7v.7h-.7zM280.2,121.1h.7v.7h-.7zM279.5,125.0h.7v.7h-.7zM277.5,123.4h.7v.7h-.7zM277.8,127.8h.7v.7h-.7zM271.6,133.6h.7v.7h-.7zM271.2,115.8h.7v.7h-.7zM281.0,126.5h.7v.7h-.7zM280.6,129.4h.7v.7h-.7zM274.4,123.3h.7v.7h-.7zM276.1,126.6h.7v.7h-.7zM291.6,132.9h.7v.7h-.7zM276.0,126.8h.7v.7h-.7zM281.6,130.1h.7v.7h-.7zM273.6,124.2h.7v.7h-.7zM288.4,129.5h.7v.7h-.7zM268.5,122.0h.7v.7h-.7zM276.7,130.6h.7v.7h-.7zM279.7,125.1h.7v.7h-.7zM274.0,132.1h.7v.7h-.7zM280.8,126.7h.7v.7h-.7zM278.8,131.8h.7v.7h-.7zM275.4,122.4h.7v.7h-.7zM275.4,121.2h.7v.7h-.7zM283.4,128.4h.7v.7h-.7zM276.1,130.9h.7v.7h-.7zM276.8,114.6h.7v.7h-.7zM283.1,136.5h.7v.7h-.7zM273.1,130.1h.7v.7h-.7zM273.8,130.3h.7v.7h-.7zM266.0,124.4h.7v.7h-.7zM277.4,129.7h.7v.7h-.7zM281.3,129.3h.7v.7h-.7zM284.7,129.2h.7v.7h-.7zM278.4,121.5h.7v.7h-.7zM287.6,144.4h.7v.7h-.7zM288.9,127.7h.7v.7h-.7zM284.2,131.5h.7v.7h-.7zM283.2,138.7h.7v.7h-.7zM277.3,128.2h.7v.7h-.7zM280.1,113.0h.7v.7h-.7zM275.0,118.4h.7v.7h-.7zM276.3,128.7h.7v.7h-.7zM278.1,129.5h.7v.7h-.7zM275.9,128.9h.7v.7h-.7zM273.6,128.3h.7v.7h-.7zM276.0,134.0h.7v.7h-.7zM276.4,134.0h.7v.7h-.7zM276.5,127.2h.7v.7h-.7zM283.2,126.1h.7v.7h-.7zM273.8,134.2h.7v.7h-.7zM269.7,135.0h.7v.7h-.7zM273.3,121.5h.7v.7h-.7zM278.2,126.2h.7v.7h-.7zM284.4,121.7h.7v.7h-.7zM289.6,131.2h.7v.7h-.7zM274.3,124.9h.7v.7h-.7zM282.9,124.6h.7v.7h-.7zM278.6,126.3h.7v.7h-.7zM273.5,128.4h.7v.7h-.7zM271.0,121.9h.7v.7h-.7zM283.1,137.7h.7v.7h-.7zM284.2,124.4h.7v.7h-.7zM280.8,130.3h.7v.7h-.7zM284.4,126.8h.7v.7h-.7zM276.0,126.8h.7v.7h-.7zM290.5,139.1h.7v.7h-.7zM270.5,118.6h.7v.7h-.7zM281.4,125.9h.7v.7h-.7zM283.0,134.0h.7v.7h-.7zM275.1,120.9h.7v.7h-.7zM271.9,131.6h.7v.7h-.7zM275.7,131.7h.7v.7h-.7zM273.4,128.6h.7v.7h-.7zM272.7,129.0h.7v.7h-.7zM279.1,131.9h.7v.7h-.7zM282.9,124.3h.7v.7h-.7zM281.7,139.8h.7v.7h-.7zM281.9,130.4h.7v.7h-.7zM285.3,134.2h.7v.7h-.7zM284.3,129.4h.7v.7h-.7zM278.9,121.9h.7v.7h-.7zM276.4,128.6h.7v.7h-.7zM279.2,127.8h.7v.7h-.7zM280.0,127.4h.7v.7h-.7zM272.5,120.4h.7v.7h-.7zM283.5,129.3h.7v.7h-.7zM277.3,132.3h.7v.7h-.7zM280.4,127.5h.7v.7h-.7zM268.9,125.3h.7v.7h-.7zM281.6,137.5h.7v.7h-.7zM274.8,127.8h.7v.7h-.7zM273.5,127.6h.7v.7h-.7zM273.8,116.5h.7v.7h-.7zM271.0,137.0h.7v.7h-.7zM277.1,124.7h.7v.7h-.7zM285.1,131.0h.7v.7h-.7zM271.1,131.2h.7v.7h-.7zM280.7,122.2h.7v.7h-.7zM280.6,133.5h.7v.7h-.7zM274.3,122.2h.7v.7h-.7zM272.5,122.4h.7v.7h-.7zM275.6,117.9h.7v.7h-.7zM277.4,117.4h.7v.7h-.7zM274.6,120.2h.7v.7h-.7zM280.8,133.9h.7v.7h-.7zM286.6,132.4h.7v.7h-.7zM278.8,128.7h.7v.7h-.7zM281.5,130.6h.7v.7h-.7zM280.7,134.4h.7v.7h-.7zM283.4,133.2h.7v.7h-.7zM282.5,130.5h.7v.7h-.7zM275.1,127.2h.7v.7h-.7zM273.5,129.0h.7v.7h-.7zM280.7,132.6h.7v.7h-.7zM284.2,147.2h.7v.7h-.7zM282.2,134.7h.7v.7h-.7zM274.9,112.7h.7v.7h-.7zM282.3,136.1h.7v.7h-.7zM272.7,136.8h.7v.7h-.7zM274.3,127.3h.7v.7h-.7zM274.0,117.8h.7v.7h-.7zM277.6,124.2h.7v.7h-.7zM278.3,133.1h.7v.7h-.7zM292.0,122.7h.7v.7h-.7zM280.6,126.5h.7v.7h-.7zM277.1,130.7h.7v.7h-.7zM284.6,125.9h.7v.7h-.7z" fill="#000" fill-opacity="0.2"/>
<path d="M280.00,118.50 L281.79,117.58 L283.52,116.56 L285.08,115.67 L286.38,115.14 L287.30,115.20 L287.79,115.96 L287.93,117.28 L287.79,118.98 L287.45,120.88 L287.00,122.80 L286.41,124.93 L285.63,127.39 L284.69,129.90 L283.63,132.20 L282.50,134.00 L281.21,135.33 L279.74,136.36 L278.21,137.08 L276.72,137.47 L275.40,137.50 L274.22,137.11 L273.09,136.32 L272.07,135.22 L271.20,133.91 L270.50,132.50 L269.87,130.84 L269.27,128.87 L268.88,126.80 L268.90,124.83 L269.50,123.20 L270.92,121.94 L273.03,120.92 L275.48,120.06 L277.92,119.28 L280.00,118.50Z" fill="none" fill-opacity="1" stroke="#6a6a6a" stroke-width="0.55"/>
<path d="M282.00,119.20 L282.97,119.43 L283.65,120.14 L284.07,121.15 L284.25,122.32 L284.20,123.50 L283.87,124.82 L283.23,126.39 L282.39,128.00 L281.45,129.44 L280.50,130.50 L279.46,131.22 L278.26,131.74 L277.03,132.00 L275.90,131.94 L275.00,131.50 L274.20,130.50 L273.42,128.98 L272.84,127.21 L272.64,125.46 L273.00,124.00 L274.20,122.72 L276.13,121.45 L278.36,120.34 L280.46,119.53 L282.00,119.20Z" fill="none" fill-opacity="1" stroke="#6a6a6a" stroke-width="0.55"/>
<ellipse cx="278.7" cy="124.0" rx="6.5" ry="4.2" transform="rotate(-45 278.7 124.0)" fill="#5a5a5a" fill-opacity="0.55" filter="url(#b1)"/>
<ellipse cx="278.9" cy="123.8" rx="6.80" ry="3.80" transform="rotate(-45 278.9 123.8)" fill="none" stroke="#7a7a7a" stroke-width="0.5"/>
<ellipse cx="278.9" cy="123.8" rx="9.86" ry="5.51" transform="rotate(-45 278.9 123.8)" fill="none" stroke="#8a8a8a" stroke-width="0.5"/>
<ellipse cx="278.9" cy="123.8" rx="3.4" ry="1.9" transform="rotate(-45 278.9 123.8)" fill="#000" fill-opacity="1" filter="url(#b2)"/>
<text x="244.70" y="109.85" font-size="7.9" text-anchor="start" fill="#151515" stroke-width="0.22" textLength="10.73" lengthAdjust="spacingAndGlyphs">1%</text>
<text x="292.50" y="109.85" font-size="7.9" text-anchor="end" fill="#151515" stroke-width="0.22" textLength="14.86" lengthAdjust="spacingAndGlyphs">95%</text>
<text x="244.50" y="152.65" font-size="7.9" text-anchor="start" fill="#151515" stroke-width="0.22" textLength="10.73" lengthAdjust="spacingAndGlyphs">2%</text>
<text x="290.00" y="153.45" font-size="7.9" text-anchor="end" fill="#151515" stroke-width="0.22" textLength="10.73" lengthAdjust="spacingAndGlyphs">2%</text>
<rect x="304.0" y="102.5" width="54.40" height="53.60" fill="none" stroke="#b8b8b8" stroke-width="0.9"/>
<line x1="307.4" y1="156.1" x2="307.4" y2="157.4" stroke="#b0b0b0" stroke-width="0.5" />
<line x1="302.7" y1="105.8" x2="304.0" y2="105.8" stroke="#b0b0b0" stroke-width="0.5" />
<line x1="310.8" y1="156.1" x2="310.8" y2="157.4" stroke="#b0b0b0" stroke-width="0.5" />
<line x1="302.7" y1="109.2" x2="304.0" y2="109.2" stroke="#b0b0b0" stroke-width="0.5" />
<line x1="314.2" y1="156.1" x2="314.2" y2="157.4" stroke="#b0b0b0" stroke-width="0.5" />
<line x1="302.7" y1="112.5" x2="304.0" y2="112.5" stroke="#b0b0b0" stroke-width="0.5" />
<line x1="317.6" y1="156.1" x2="317.6" y2="157.4" stroke="#b0b0b0" stroke-width="0.5" />
<line x1="302.7" y1="115.9" x2="304.0" y2="115.9" stroke="#b0b0b0" stroke-width="0.5" />
<line x1="321.0" y1="156.1" x2="321.0" y2="157.4" stroke="#b0b0b0" stroke-width="0.5" />
<line x1="302.7" y1="119.2" x2="304.0" y2="119.2" stroke="#b0b0b0" stroke-width="0.5" />
<line x1="324.4" y1="156.1" x2="324.4" y2="157.4" stroke="#b0b0b0" stroke-width="0.5" />
<line x1="302.7" y1="122.6" x2="304.0" y2="122.6" stroke="#b0b0b0" stroke-width="0.5" />
<line x1="327.8" y1="156.1" x2="327.8" y2="157.4" stroke="#b0b0b0" stroke-width="0.5" />
<line x1="302.7" y1="125.9" x2="304.0" y2="125.9" stroke="#b0b0b0" stroke-width="0.5" />
<line x1="331.2" y1="156.1" x2="331.2" y2="157.4" stroke="#b0b0b0" stroke-width="0.5" />
<line x1="302.7" y1="129.3" x2="304.0" y2="129.3" stroke="#b0b0b0" stroke-width="0.5" />
<line x1="334.6" y1="156.1" x2="334.6" y2="157.4" stroke="#b0b0b0" stroke-width="0.5" />
<line x1="302.7" y1="132.7" x2="304.0" y2="132.7" stroke="#b0b0b0" stroke-width="0.5" />
<line x1="338.0" y1="156.1" x2="338.0" y2="157.4" stroke="#b0b0b0" stroke-width="0.5" />
<line x1="302.7" y1="136.0" x2="304.0" y2="136.0" stroke="#b0b0b0" stroke-width="0.5" />
<line x1="341.4" y1="156.1" x2="341.4" y2="157.4" stroke="#b0b0b0" stroke-width="0.5" />
<line x1="302.7" y1="139.3" x2="304.0" y2="139.3" stroke="#b0b0b0" stroke-width="0.5" />
<line x1="344.8" y1="156.1" x2="344.8" y2="157.4" stroke="#b0b0b0" stroke-width="0.5" />
<line x1="302.7" y1="142.7" x2="304.0" y2="142.7" stroke="#b0b0b0" stroke-width="0.5" />
<line x1="348.2" y1="156.1" x2="348.2" y2="157.4" stroke="#b0b0b0" stroke-width="0.5" />
<line x1="302.7" y1="146.1" x2="304.0" y2="146.1" stroke="#b0b0b0" stroke-width="0.5" />
<line x1="351.6" y1="156.1" x2="351.6" y2="157.4" stroke="#b0b0b0" stroke-width="0.5" />
<line x1="302.7" y1="149.4" x2="304.0" y2="149.4" stroke="#b0b0b0" stroke-width="0.5" />
<line x1="355.0" y1="156.1" x2="355.0" y2="157.4" stroke="#b0b0b0" stroke-width="0.5" />
<line x1="302.7" y1="152.8" x2="304.0" y2="152.8" stroke="#b0b0b0" stroke-width="0.5" />
<line x1="332.9" y1="102.5" x2="332.9" y2="156.1" stroke="#c8c8c8" stroke-width="0.8" />
<line x1="304.0" y1="132.3" x2="358.4" y2="132.3" stroke="#c8c8c8" stroke-width="0.8" />
<path d="M331.8,125.5h.7v.7h-.7zM346.4,116.9h.7v.7h-.7zM329.0,130.1h.7v.7h-.7zM326.1,120.1h.7v.7h-.7zM313.5,125.4h.7v.7h-.7zM324.6,119.5h.7v.7h-.7zM314.1,130.2h.7v.7h-.7zM333.0,123.4h.7v.7h-.7zM317.4,122.4h.7v.7h-.7zM346.0,129.7h.7v.7h-.7zM323.1,132.8h.7v.7h-.7zM344.4,133.8h.7v.7h-.7zM310.8,126.3h.7v.7h-.7zM320.0,124.7h.7v.7h-.7zM312.7,124.4h.7v.7h-.7zM313.9,128.8h.7v.7h-.7zM324.1,118.3h.7v.7h-.7zM308.3,123.9h.7v.7h-.7zM329.5,129.7h.7v.7h-.7zM323.1,106.9h.7v.7h-.7zM319.2,122.3h.7v.7h-.7zM320.6,119.4h.7v.7h-.7zM319.7,122.8h.7v.7h-.7zM348.1,131.0h.7v.7h-.7zM321.9,126.5h.7v.7h-.7zM322.6,127.9h.7v.7h-.7zM320.0,126.7h.7v.7h-.7zM332.9,131.8h.7v.7h-.7zM326.4,134.8h.7v.7h-.7zM325.7,120.9h.7v.7h-.7zM307.9,122.6h.7v.7h-.7zM323.1,129.2h.7v.7h-.7zM333.4,123.3h.7v.7h-.7zM316.4,131.4h.7v.7h-.7zM334.3,123.9h.7v.7h-.7zM326.7,135.0h.7v.7h-.7zM326.5,126.4h.7v.7h-.7zM304.9,134.7h.7v.7h-.7zM329.5,127.5h.7v.7h-.7zM319.4,119.3h.7v.7h-.7zM322.7,126.1h.7v.7h-.7zM333.5,119.5h.7v.7h-.7zM336.6,127.0h.7v.7h-.7zM334.4,120.9h.7v.7h-.7zM326.8,134.1h.7v.7h-.7zM324.7,117.9h.7v.7h-.7zM320.7,130.0h.7v.7h-.7zM311.0,118.1h.7v.7h-.7zM325.8,121.0h.7v.7h-.7zM329.8,119.7h.7v.7h-.7zM307.1,122.1h.7v.7h-.7zM337.1,121.6h.7v.7h-.7zM323.6,128.2h.7v.7h-.7zM315.1,133.3h.7v.7h-.7zM325.2,129.4h.7v.7h-.7zM308.5,116.2h.7v.7h-.7zM321.6,131.1h.7v.7h-.7zM337.0,125.2h.7v.7h-.7zM321.2,129.5h.7v.7h-.7zM337.4,121.8h.7v.7h-.7zM329.3,125.3h.7v.7h-.7zM320.6,131.7h.7v.7h-.7zM316.5,120.4h.7v.7h-.7zM329.7,126.6h.7v.7h-.7zM321.3,126.0h.7v.7h-.7zM328.1,124.6h.7v.7h-.7zM330.6,129.3h.7v.7h-.7zM337.0,134.4h.7v.7h-.7zM331.4,125.6h.7v.7h-.7zM324.7,123.2h.7v.7h-.7zM349.4,125.5h.7v.7h-.7zM328.7,135.0h.7v.7h-.7zM311.4,121.8h.7v.7h-.7zM320.1,120.8h.7v.7h-.7zM312.3,123.7h.7v.7h-.7zM335.3,131.1h.7v.7h-.7zM324.0,127.0h.7v.7h-.7zM308.7,131.0h.7v.7h-.7zM327.5,120.3h.7v.7h-.7zM325.6,125.7h.7v.7h-.7zM319.0,120.9h.7v.7h-.7zM317.6,121.2h.7v.7h-.7zM327.9,129.0h.7v.7h-.7zM326.6,125.7h.7v.7h-.7zM320.0,139.1h.7v.7h-.7zM307.0,134.0h.7v.7h-.7zM326.9,127.2h.7v.7h-.7zM319.1,125.5h.7v.7h-.7zM313.1,118.5h.7v.7h-.7zM322.7,116.9h.7v.7h-.7zM331.3,133.5h.7v.7h-.7zM326.2,128.1h.7v.7h-.7zM324.7,129.4h.7v.7h-.7zM330.5,132.0h.7v.7h-.7zM339.9,127.0h.7v.7h-.7zM331.5,117.1h.7v.7h-.7zM322.6,119.5h.7v.7h-.7zM336.3,140.8h.7v.7h-.7zM328.6,119.0h.7v.7h-.7zM322.8,127.0h.7v.7h-.7zM325.6,133.4h.7v.7h-.7zM332.4,111.0h.7v.7h-.7zM336.1,123.9h.7v.7h-.7zM318.7,135.4h.7v.7h-.7zM321.4,118.6h.7v.7h-.7zM311.9,127.2h.7v.7h-.7zM332.0,135.9h.7v.7h-.7zM322.2,124.0h.7v.7h-.7zM338.4,124.1h.7v.7h-.7zM336.9,128.3h.7v.7h-.7zM325.9,125.4h.7v.7h-.7zM326.5,124.1h.7v.7h-.7zM317.7,126.1h.7v.7h-.7zM317.9,128.7h.7v.7h-.7zM324.6,125.3h.7v.7h-.7zM322.0,125.5h.7v.7h-.7zM339.4,126.8h.7v.7h-.7zM318.4,125.1h.7v.7h-.7zM329.8,125.7h.7v.7h-.7zM322.4,125.3h.7v.7h-.7zM325.3,129.2h.7v.7h-.7zM327.8,117.0h.7v.7h-.7zM314.2,111.1h.7v.7h-.7zM331.0,133.5h.7v.7h-.7zM335.5,127.7h.7v.7h-.7zM334.1,126.6h.7v.7h-.7zM322.7,117.6h.7v.7h-.7zM316.7,123.3h.7v.7h-.7zM332.0,136.8h.7v.7h-.7zM319.6,129.1h.7v.7h-.7zM326.3,122.2h.7v.7h-.7zM308.3,122.3h.7v.7h-.7zM310.9,125.0h.7v.7h-.7zM322.5,125.8h.7v.7h-.7zM322.3,129.7h.7v.7h-.7zM315.4,132.2h.7v.7h-.7zM308.7,127.2h.7v.7h-.7zM327.3,122.1h.7v.7h-.7zM309.4,130.7h.7v.7h-.7zM317.7,131.5h.7v.7h-.7zM330.7,126.8h.7v.7h-.7zM323.7,132.8h.7v.7h-.7zM327.1,121.2h.7v.7h-.7zM325.3,130.2h.7v.7h-.7zM325.6,128.0h.7v.7h-.7zM322.4,126.1h.7v.7h-.7zM315.4,118.3h.7v.7h-.7zM333.9,123.0h.7v.7h-.7zM325.7,117.9h.7v.7h-.7zM325.2,121.9h.7v.7h-.7zM350.4,120.7h.7v.7h-.7zM315.1,132.5h.7v.7h-.7zM333.9,114.3h.7v.7h-.7zM326.0,132.1h.7v.7h-.7zM312.8,130.9h.7v.7h-.7zM319.0,120.9h.7v.7h-.7zM320.6,124.1h.7v.7h-.7zM311.3,140.2h.7v.7h-.7zM319.7,122.4h.7v.7h-.7zM331.4,126.4h.7v.7h-.7zM335.7,125.2h.7v.7h-.7zM326.9,127.4h.7v.7h-.7zM325.2,125.6h.7v.7h-.7zM322.8,136.8h.7v.7h-.7zM317.7,123.6h.7v.7h-.7zM320.7,130.2h.7v.7h-.7zM327.3,132.4h.7v.7h-.7zM311.8,128.4h.7v.7h-.7zM322.2,125.1h.7v.7h-.7zM325.2,115.1h.7v.7h-.7zM326.2,127.7h.7v.7h-.7zM311.0,126.3h.7v.7h-.7zM337.6,124.5h.7v.7h-.7zM329.0,125.5h.7v.7h-.7zM316.5,121.4h.7v.7h-.7zM320.2,134.6h.7v.7h-.7zM331.0,122.6h.7v.7h-.7zM332.6,126.1h.7v.7h-.7zM317.6,129.4h.7v.7h-.7zM315.6,117.5h.7v.7h-.7zM335.3,116.0h.7v.7h-.7zM328.6,117.8h.7v.7h-.7zM323.5,125.7h.7v.7h-.7zM319.8,113.9h.7v.7h-.7zM322.8,126.6h.7v.7h-.7zM315.8,126.4h.7v.7h-.7zM332.6,122.6h.7v.7h-.7zM326.0,120.0h.7v.7h-.7zM327.2,130.6h.7v.7h-.7zM345.8,132.2h.7v.7h-.7zM327.6,135.2h.7v.7h-.7zM314.9,133.2h.7v.7h-.7zM318.9,123.2h.7v.7h-.7zM333.5,128.2h.7v.7h-.7zM335.6,118.3h.7v.7h-.7zM326.2,123.7h.7v.7h-.7zM321.4,115.6h.7v.7h-.7zM332.1,128.1h.7v.7h-.7zM315.1,118.9h.7v.7h-.7zM316.1,135.1h.7v.7h-.7zM322.9,124.9h.7v.7h-.7zM328.2,127.0h.7v.7h-.7zM325.9,131.3h.7v.7h-.7zM326.8,132.1h.7v.7h-.7zM313.3,127.3h.7v.7h-.7zM320.7,127.5h.7v.7h-.7zM323.5,123.2h.7v.7h-.7zM320.8,132.5h.7v.7h-.7zM319.0,119.6h.7v.7h-.7zM329.2,132.7h.7v.7h-.7zM321.5,127.7h.7v.7h-.7zM316.5,125.8h.7v.7h-.7zM333.7,131.7h.7v.7h-.7zM325.3,125.3h.7v.7h-.7zM309.6,128.8h.7v.7h-.7zM328.0,133.2h.7v.7h-.7zM341.7,129.2h.7v.7h-.7zM332.4,120.4h.7v.7h-.7z" fill="#000" fill-opacity="0.13"/>
<path d="M347.1,140.9h.7v.7h-.7zM348.0,139.6h.7v.7h-.7zM342.7,145.1h.7v.7h-.7zM336.1,139.4h.7v.7h-.7zM346.4,129.6h.7v.7h-.7zM333.3,138.0h.7v.7h-.7zM340.8,139.2h.7v.7h-.7zM343.8,129.8h.7v.7h-.7zM342.0,142.8h.7v.7h-.7zM338.0,133.1h.7v.7h-.7zM333.5,140.6h.7v.7h-.7zM351.5,125.7h.7v.7h-.7zM344.5,141.2h.7v.7h-.7zM336.8,132.5h.7v.7h-.7zM334.0,129.7h.7v.7h-.7zM341.0,139.5h.7v.7h-.7zM340.8,140.9h.7v.7h-.7zM341.3,127.1h.7v.7h-.7zM348.6,143.2h.7v.7h-.7zM335.9,147.2h.7v.7h-.7zM342.8,136.0h.7v.7h-.7zM351.3,118.1h.7v.7h-.7zM330.7,140.0h.7v.7h-.7zM338.7,128.7h.7v.7h-.7zM348.9,138.5h.7v.7h-.7zM332.7,130.7h.7v.7h-.7zM345.1,147.3h.7v.7h-.7zM328.4,136.9h.7v.7h-.7zM337.9,123.3h.7v.7h-.7zM339.2,124.2h.7v.7h-.7zM337.0,146.2h.7v.7h-.7zM343.2,140.5h.7v.7h-.7zM343.7,137.6h.7v.7h-.7zM345.9,127.3h.7v.7h-.7zM338.1,141.0h.7v.7h-.7zM335.9,132.2h.7v.7h-.7zM347.3,145.7h.7v.7h-.7zM336.7,129.7h.7v.7h-.7zM343.6,137.1h.7v.7h-.7zM336.3,139.3h.7v.7h-.7zM343.5,135.8h.7v.7h-.7zM345.0,142.3h.7v.7h-.7zM336.0,137.5h.7v.7h-.7zM340.7,131.4h.7v.7h-.7zM341.8,137.0h.7v.7h-.7zM339.9,132.0h.7v.7h-.7zM345.1,124.4h.7v.7h-.7zM345.1,135.4h.7v.7h-.7zM341.9,119.0h.7v.7h-.7zM350.1,123.5h.7v.7h-.7zM335.2,139.7h.7v.7h-.7zM336.7,132.5h.7v.7h-.7zM327.2,132.3h.7v.7h-.7zM341.5,139.9h.7v.7h-.7zM338.6,136.8h.7v.7h-.7zM342.8,130.7h.7v.7h-.7zM335.9,148.7h.7v.7h-.7zM335.3,143.8h.7v.7h-.7zM340.7,145.4h.7v.7h-.7zM336.5,138.9h.7v.7h-.7zM342.2,133.8h.7v.7h-.7zM342.1,130.0h.7v.7h-.7zM339.8,132.6h.7v.7h-.7zM344.7,134.7h.7v.7h-.7zM332.1,132.8h.7v.7h-.7zM339.7,129.1h.7v.7h-.7zM348.1,138.1h.7v.7h-.7zM345.2,130.1h.7v.7h-.7zM337.9,142.2h.7v.7h-.7zM331.8,137.8h.7v.7h-.7zM340.8,131.9h.7v.7h-.7zM340.8,127.9h.7v.7h-.7zM341.6,127.0h.7v.7h-.7zM332.8,144.9h.7v.7h-.7zM336.1,120.8h.7v.7h-.7zM346.0,130.0h.7v.7h-.7zM319.5,134.9h.7v.7h-.7zM345.7,137.7h.7v.7h-.7zM350.4,134.5h.7v.7h-.7zM343.8,128.4h.7v.7h-.7zM341.2,145.9h.7v.7h-.7zM343.2,136.4h.7v.7h-.7zM328.6,132.7h.7v.7h-.7zM332.7,140.7h.7v.7h-.7zM335.9,137.8h.7v.7h-.7zM334.4,148.3h.7v.7h-.7zM333.4,136.3h.7v.7h-.7zM355.8,136.8h.7v.7h-.7zM335.1,139.6h.7v.7h-.7zM346.1,141.3h.7v.7h-.7zM328.6,136.8h.7v.7h-.7zM327.7,148.4h.7v.7h-.7zM340.7,132.2h.7v.7h-.7zM344.3,138.7h.7v.7h-.7zM333.3,146.5h.7v.7h-.7zM338.9,123.2h.7v.7h-.7zM348.6,145.9h.7v.7h-.7zM347.7,139.1h.7v.7h-.7zM335.0,141.8h.7v.7h-.7zM351.3,141.0h.7v.7h-.7zM349.8,130.0h.7v.7h-.7zM346.3,141.8h.7v.7h-.7zM331.5,124.1h.7v.7h-.7zM336.0,135.9h.7v.7h-.7zM343.0,133.8h.7v.7h-.7zM339.9,134.6h.7v.7h-.7zM340.8,139.4h.7v.7h-.7zM343.3,135.0h.7v.7h-.7zM341.9,132.2h.7v.7h-.7zM345.0,131.9h.7v.7h-.7zM350.1,135.2h.7v.7h-.7zM341.9,130.1h.7v.7h-.7zM338.3,136.5h.7v.7h-.7zM340.4,131.1h.7v.7h-.7zM333.4,135.7h.7v.7h-.7zM341.2,139.2h.7v.7h-.7zM347.7,133.2h.7v.7h-.7zM328.4,134.4h.7v.7h-.7zM329.3,126.4h.7v.7h-.7zM346.5,139.3h.7v.7h-.7zM336.5,131.0h.7v.7h-.7zM339.8,123.2h.7v.7h-.7zM343.2,133.0h.7v.7h-.7zM351.3,128.0h.7v.7h-.7zM346.3,130.6h.7v.7h-.7zM346.4,128.6h.7v.7h-.7zM344.7,132.3h.7v.7h-.7zM335.4,134.3h.7v.7h-.7zM343.2,138.2h.7v.7h-.7zM349.8,141.1h.7v.7h-.7zM324.6,132.6h.7v.7h-.7zM328.4,132.7h.7v.7h-.7zM344.1,126.1h.7v.7h-.7zM333.3,136.4h.7v.7h-.7zM338.6,146.4h.7v.7h-.7zM342.3,139.1h.7v.7h-.7zM350.8,131.9h.7v.7h-.7zM340.3,128.5h.7v.7h-.7z" fill="#000" fill-opacity="0.13"/>
<path d="M313.6,151.5h.7v.7h-.7zM319.1,145.1h.7v.7h-.7zM308.7,140.8h.7v.7h-.7zM305.3,146.1h.7v.7h-.7zM319.1,131.2h.7v.7h-.7zM306.0,150.0h.7v.7h-.7zM316.2,146.4h.7v.7h-.7zM316.4,145.7h.7v.7h-.7zM317.8,141.4h.7v.7h-.7zM308.3,144.0h.7v.7h-.7zM311.2,145.8h.7v.7h-.7zM309.3,149.3h.7v.7h-.7zM312.5,147.6h.7v.7h-.7zM312.4,149.1h.7v.7h-.7zM306.4,154.9h.7v.7h-.7zM314.1,148.1h.7v.7h-.7zM315.4,151.9h.7v.7h-.7zM316.0,146.8h.7v.7h-.7zM311.4,135.6h.7v.7h-.7zM313.4,143.6h.7v.7h-.7zM318.4,151.2h.7v.7h-.7zM318.6,137.8h.7v.7h-.7zM307.6,149.2h.7v.7h-.7zM313.5,146.6h.7v.7h-.7zM314.6,143.8h.7v.7h-.7zM313.0,141.4h.7v.7h-.7zM312.2,142.6h.7v.7h-.7zM313.7,137.0h.7v.7h-.7zM305.0,148.3h.7v.7h-.7zM313.5,139.7h.7v.7h-.7zM311.3,139.2h.7v.7h-.7zM322.6,136.1h.7v.7h-.7zM321.0,140.6h.7v.7h-.7zM314.5,143.9h.7v.7h-.7zM310.5,151.1h.7v.7h-.7zM316.5,143.8h.7v.7h-.7zM319.5,146.4h.7v.7h-.7zM311.0,147.3h.7v.7h-.7zM312.9,152.7h.7v.7h-.7zM307.6,145.7h.7v.7h-.7zM308.5,153.4h.7v.7h-.7zM321.5,145.0h.7v.7h-.7zM315.1,154.0h.7v.7h-.7zM311.0,139.9h.7v.7h-.7zM317.6,148.6h.7v.7h-.7zM311.4,154.3h.7v.7h-.7zM313.6,134.9h.7v.7h-.7zM314.2,145.2h.7v.7h-.7zM321.9,145.4h.7v.7h-.7zM311.4,148.2h.7v.7h-.7zM313.7,137.1h.7v.7h-.7zM313.1,143.6h.7v.7h-.7zM306.9,139.8h.7v.7h-.7zM308.2,141.6h.7v.7h-.7zM309.0,145.9h.7v.7h-.7zM317.9,137.7h.7v.7h-.7zM304.8,134.5h.7v.7h-.7zM318.0,153.5h.7v.7h-.7zM304.8,135.8h.7v.7h-.7zM313.1,152.1h.7v.7h-.7zM317.5,146.7h.7v.7h-.7zM315.9,147.5h.7v.7h-.7zM312.5,138.9h.7v.7h-.7zM310.1,136.3h.7v.7h-.7zM312.6,152.1h.7v.7h-.7zM306.1,152.3h.7v.7h-.7zM322.9,147.8h.7v.7h-.7zM306.7,140.4h.7v.7h-.7zM310.8,137.9h.7v.7h-.7zM306.2,144.0h.7v.7h-.7zM311.6,149.2h.7v.7h-.7zM317.8,150.9h.7v.7h-.7zM317.8,140.2h.7v.7h-.7zM317.5,144.6h.7v.7h-.7zM313.5,146.8h.7v.7h-.7zM308.6,144.4h.7v.7h-.7zM309.2,143.0h.7v.7h-.7zM314.8,139.8h.7v.7h-.7zM316.1,146.2h.7v.7h-.7zM316.3,150.9h.7v.7h-.7zM318.7,149.3h.7v.7h-.7zM316.0,144.5h.7v.7h-.7zM315.3,140.2h.7v.7h-.7zM311.2,150.1h.7v.7h-.7zM312.2,148.3h.7v.7h-.7zM307.2,153.8h.7v.7h-.7zM309.6,147.9h.7v.7h-.7z" fill="#000" fill-opacity="0.14"/>
<path d="M348.4,127.1h.7v.7h-.7zM346.6,117.5h.7v.7h-.7zM339.0,120.9h.7v.7h-.7zM342.5,125.2h.7v.7h-.7zM355.7,111.3h.7v.7h-.7zM342.0,124.0h.7v.7h-.7zM354.7,124.0h.7v.7h-.7zM350.1,125.0h.7v.7h-.7zM351.4,130.7h.7v.7h-.7zM351.5,116.3h.7v.7h-.7zM346.1,123.5h.7v.7h-.7zM344.4,121.2h.7v.7h-.7zM345.8,119.0h.7v.7h-.7zM352.0,120.5h.7v.7h-.7zM343.0,118.9h.7v.7h-.7zM348.7,133.1h.7v.7h-.7zM349.8,129.9h.7v.7h-.7zM351.0,111.7h.7v.7h-.7zM350.4,118.2h.7v.7h-.7zM341.7,117.1h.7v.7h-.7zM345.4,128.3h.7v.7h-.7zM351.8,113.9h.7v.7h-.7zM347.9,119.9h.7v.7h-.7zM347.5,126.2h.7v.7h-.7zM345.6,120.9h.7v.7h-.7zM355.8,113.2h.7v.7h-.7zM346.6,124.8h.7v.7h-.7zM342.2,119.3h.7v.7h-.7zM341.8,123.2h.7v.7h-.7zM345.3,126.4h.7v.7h-.7zM353.6,122.7h.7v.7h-.7zM346.5,123.8h.7v.7h-.7zM348.7,116.3h.7v.7h-.7zM353.9,123.6h.7v.7h-.7zM352.4,115.6h.7v.7h-.7zM352.9,133.1h.7v.7h-.7zM351.6,115.1h.7v.7h-.7zM348.6,122.2h.7v.7h-.7zM349.5,121.3h.7v.7h-.7zM350.9,120.1h.7v.7h-.7zM349.6,119.0h.7v.7h-.7zM348.9,127.5h.7v.7h-.7zM346.0,125.8h.7v.7h-.7zM344.0,120.6h.7v.7h-.7zM347.2,128.7h.7v.7h-.7zM344.6,128.6h.7v.7h-.7zM341.0,121.6h.7v.7h-.7zM353.0,125.9h.7v.7h-.7zM343.3,116.3h.7v.7h-.7zM352.9,116.1h.7v.7h-.7zM351.4,119.8h.7v.7h-.7zM348.4,134.1h.7v.7h-.7zM356.3,126.7h.7v.7h-.7zM341.5,124.0h.7v.7h-.7zM348.7,121.9h.7v.7h-.7zM355.2,113.7h.7v.7h-.7zM350.0,123.1h.7v.7h-.7zM344.6,131.1h.7v.7h-.7zM342.0,122.6h.7v.7h-.7zM348.8,111.3h.7v.7h-.7zM341.2,117.5h.7v.7h-.7zM352.4,127.2h.7v.7h-.7zM351.4,123.6h.7v.7h-.7zM337.3,123.5h.7v.7h-.7zM345.8,128.3h.7v.7h-.7zM355.2,133.7h.7v.7h-.7zM352.0,126.5h.7v.7h-.7zM343.2,122.8h.7v.7h-.7zM342.1,126.9h.7v.7h-.7zM342.4,121.3h.7v.7h-.7zM344.2,120.0h.7v.7h-.7zM350.7,119.5h.7v.7h-.7zM349.5,117.3h.7v.7h-.7zM355.5,119.1h.7v.7h-.7zM353.5,133.2h.7v.7h-.7zM336.0,117.4h.7v.7h-.7zM347.3,128.3h.7v.7h-.7zM345.9,124.3h.7v.7h-.7zM344.7,125.2h.7v.7h-.7zM342.2,126.6h.7v.7h-.7zM333.2,112.8h.7v.7h-.7zM343.8,133.6h.7v.7h-.7zM353.7,128.1h.7v.7h-.7zM346.2,125.5h.7v.7h-.7zM350.9,113.9h.7v.7h-.7zM351.4,121.4h.7v.7h-.7zM354.9,129.0h.7v.7h-.7zM345.1,119.3h.7v.7h-.7zM349.3,125.7h.7v.7h-.7zM346.3,121.8h.7v.7h-.7zM351.5,124.5h.7v.7h-.7zM354.3,123.6h.7v.7h-.7zM343.8,113.4h.7v.7h-.7zM352.5,120.6h.7v.7h-.7zM346.6,120.9h.7v.7h-.7zM340.3,120.3h.7v.7h-.7zM335.0,120.3h.7v.7h-.7zM343.8,131.7h.7v.7h-.7zM350.6,121.2h.7v.7h-.7zM349.2,126.1h.7v.7h-.7zM344.5,121.2h.7v.7h-.7zM346.5,135.1h.7v.7h-.7zM348.7,112.3h.7v.7h-.7zM352.4,135.6h.7v.7h-.7zM343.4,140.2h.7v.7h-.7zM348.0,127.5h.7v.7h-.7zM345.4,120.9h.7v.7h-.7zM342.0,116.9h.7v.7h-.7zM337.3,128.2h.7v.7h-.7zM342.4,124.2h.7v.7h-.7zM350.0,119.0h.7v.7h-.7zM348.6,121.8h.7v.7h-.7zM345.8,122.6h.7v.7h-.7zM348.6,117.1h.7v.7h-.7zM341.6,117.9h.7v.7h-.7zM348.9,129.4h.7v.7h-.7zM355.9,123.9h.7v.7h-.7zM353.2,122.9h.7v.7h-.7z" fill="#000" fill-opacity="0.15"/>
<path d="M328.0,119.3h.7v.7h-.7zM324.3,118.7h.7v.7h-.7zM322.3,122.0h.7v.7h-.7zM316.1,119.1h.7v.7h-.7zM319.2,120.6h.7v.7h-.7zM331.7,118.6h.7v.7h-.7zM308.0,120.0h.7v.7h-.7zM325.5,116.5h.7v.7h-.7zM321.0,119.0h.7v.7h-.7zM310.3,120.1h.7v.7h-.7zM324.6,119.5h.7v.7h-.7zM316.8,118.0h.7v.7h-.7zM319.0,119.8h.7v.7h-.7zM317.2,121.4h.7v.7h-.7zM324.2,115.7h.7v.7h-.7zM331.0,119.3h.7v.7h-.7zM319.4,119.2h.7v.7h-.7zM312.8,119.4h.7v.7h-.7zM309.5,117.5h.7v.7h-.7zM329.3,121.0h.7v.7h-.7zM320.5,117.6h.7v.7h-.7zM327.1,119.0h.7v.7h-.7zM323.3,120.0h.7v.7h-.7zM316.7,120.3h.7v.7h-.7zM311.2,121.4h.7v.7h-.7zM314.1,118.1h.7v.7h-.7zM318.8,120.2h.7v.7h-.7zM326.1,119.6h.7v.7h-.7zM325.0,119.8h.7v.7h-.7zM321.8,116.1h.7v.7h-.7zM310.2,115.5h.7v.7h-.7zM322.0,118.7h.7v.7h-.7zM321.5,119.4h.7v.7h-.7zM321.0,117.5h.7v.7h-.7zM314.4,116.1h.7v.7h-.7zM328.5,120.5h.7v.7h-.7zM315.1,118.6h.7v.7h-.7zM324.5,121.6h.7v.7h-.7zM319.0,119.3h.7v.7h-.7zM328.2,116.3h.7v.7h-.7zM318.3,119.0h.7v.7h-.7zM318.4,122.4h.7v.7h-.7zM326.7,119.4h.7v.7h-.7zM317.2,120.4h.7v.7h-.7zM325.5,118.2h.7v.7h-.7zM319.9,116.8h.7v.7h-.7zM321.8,120.4h.7v.7h-.7zM327.4,120.0h.7v.7h-.7zM326.5,118.1h.7v.7h-.7zM319.7,120.9h.7v.7h-.7zM324.5,117.8h.7v.7h-.7zM324.8,120.3h.7v.7h-.7zM325.8,119.2h.7v.7h-.7zM319.4,119.7h.7v.7h-.7zM331.0,119.3h.7v.7h-.7zM318.7,119.6h.7v.7h-.7zM315.7,119.4h.7v.7h-.7zM320.6,120.5h.7v.7h-.7zM322.7,120.7h.7v.7h-.7zM334.1,118.7h.7v.7h-.7zM317.8,119.8h.7v.7h-.7zM321.7,119.3h.7v.7h-.7zM319.0,119.9h.7v.7h-.7zM322.5,115.7h.7v.7h-.7zM320.9,119.6h.7v.7h-.7zM328.3,118.1h.7v.7h-.7zM317.9,120.8h.7v.7h-.7zM318.9,119.2h.7v.7h-.7zM324.6,120.2h.7v.7h-.7zM322.2,117.3h.7v.7h-.7zM327.4,118.4h.7v.7h-.7zM319.4,122.2h.7v.7h-.7zM326.7,117.4h.7v.7h-.7zM319.6,118.6h.7v.7h-.7zM318.2,116.0h.7v.7h-.7zM326.3,120.2h.7v.7h-.7zM323.4,118.4h.7v.7h-.7zM323.2,120.0h.7v.7h-.7zM316.7,118.5h.7v.7h-.7zM319.2,120.1h.7v.7h-.7z" fill="#000" fill-opacity="0.15"/>
<path d="M316.50,116.70 L317.58,116.65 L319.01,116.73 L320.65,116.88 L322.36,117.06 L324.00,117.20 L325.66,117.36 L327.42,117.57 L329.17,117.76 L330.77,117.86 L332.10,117.80 L333.08,117.51 L333.80,117.04 L334.37,116.49 L334.90,115.94 L335.50,115.50 L336.07,115.18 L336.54,114.93 L337.05,114.71 L337.76,114.48 L338.80,114.20 L340.34,113.85 L342.28,113.46 L344.37,113.06 L346.39,112.69 L348.10,112.40 L349.52,112.08 L350.81,111.71 L351.94,111.44 L352.85,111.42 L353.50,111.80 L353.84,112.68 L353.89,113.97 L353.74,115.50 L353.49,117.13 L353.20,118.70 L352.92,120.33 L352.60,122.13 L352.17,123.91 L351.59,125.49 L350.80,126.70 L349.72,127.46 L348.38,127.89 L346.91,128.10 L345.44,128.20 L344.10,128.30 L342.84,128.30 L341.58,128.13 L340.39,127.94 L339.34,127.85 L338.50,128.00 L337.93,128.48 L337.58,129.20 L337.36,130.03 L337.20,130.84 L337.00,131.50 L336.86,131.97 L336.85,132.34 L336.81,132.66 L336.60,133.03 L336.10,133.50 L335.21,134.11 L334.03,134.81 L332.68,135.56 L331.30,136.30 L330.00,137.00 L328.81,137.66 L327.64,138.30 L326.47,138.92 L325.26,139.52 L324.00,140.10 L322.60,140.68 L321.08,141.25 L319.56,141.79 L318.16,142.26 L317.00,142.60 L316.12,142.83 L315.43,142.97 L314.88,143.01 L314.42,142.96 L314.00,142.80 L313.62,142.48 L313.30,142.00 L313.06,141.45 L312.90,140.92 L312.80,140.50 L312.75,140.23 L312.75,140.05 L312.83,139.90 L313.03,139.70 L313.40,139.40 L313.94,138.98 L314.63,138.48 L315.45,137.93 L316.38,137.33 L317.40,136.70 L318.55,136.02 L319.85,135.27 L321.23,134.49 L322.63,133.72 L324.00,133.00 L325.41,132.35 L326.90,131.74 L328.35,131.14 L329.66,130.51 L330.70,129.80 L331.46,128.97 L332.03,128.04 L332.41,127.10 L332.63,126.19 L332.70,125.40 L332.61,124.73 L332.35,124.13 L331.93,123.60 L331.38,123.12 L330.70,122.70 L329.91,122.34 L328.98,122.05 L327.92,121.81 L326.73,121.60 L325.40,121.40 L323.76,121.25 L321.81,121.15 L319.81,121.06 L318.02,120.93 L316.70,120.70 L315.93,120.35 L315.53,119.91 L315.39,119.42 L315.39,118.94 L315.40,118.50 L315.36,118.08 L315.36,117.64 L315.48,117.24 L315.83,116.91 L316.50,116.70Z" fill="none" fill-opacity="1" stroke="#6a6a6a" stroke-width="0.55"/>
<path d="M336.50,118.00 L336.99,118.43 L337.48,119.16 L337.93,120.06 L338.28,121.05 L338.50,122.00 L338.56,122.99 L338.49,124.10 L338.32,125.20 L338.09,126.21 L337.80,127.00 L337.42,127.62 L336.93,128.14 L336.40,128.50 L335.90,128.64 L335.50,128.50 L335.21,127.98 L334.99,127.13 L334.82,126.09 L334.66,125.00 L334.50,124.00 L334.29,123.05 L334.04,122.06 L333.82,121.08 L333.72,120.21 L333.80,119.50 L334.13,118.92 L334.67,118.42 L335.31,118.06 L335.95,117.90 L336.50,118.00Z" fill="none" fill-opacity="1" stroke="#6a6a6a" stroke-width="0.55"/>
<path d="M306.60,140.00 L306.51,140.62 L306.26,141.36 L305.93,142.04 L305.62,142.48 L305.40,142.50 L305.27,141.86 L305.17,140.68 L305.12,139.32 L305.12,138.14 L305.20,137.50 L305.42,137.52 L305.77,137.96 L306.15,138.64 L306.46,139.38 L306.60,140.00Z" fill="none" fill-opacity="1" stroke="#6a6a6a" stroke-width="0.55"/>
<ellipse cx="345.0" cy="119.5" rx="7.2" ry="5.0" transform="rotate(-40 345.0 119.5)" fill="#5a5a5a" fill-opacity="0.58" filter="url(#b1)"/>
<ellipse cx="345.4" cy="119.2" rx="6.80" ry="4.00" transform="rotate(-40 345.4 119.2)" fill="none" stroke="#7a7a7a" stroke-width="0.5"/>
<ellipse cx="345.4" cy="119.2" rx="9.86" ry="5.80" transform="rotate(-40 345.4 119.2)" fill="none" stroke="#8a8a8a" stroke-width="0.5"/>
<ellipse cx="345.4" cy="119.2" rx="3.4" ry="2.0" transform="rotate(-40 345.4 119.2)" fill="#000" fill-opacity="1" filter="url(#b2)"/>
<text x="308.50" y="111.15" font-size="7.9" text-anchor="start" fill="#151515" stroke-width="0.22" textLength="10.73" lengthAdjust="spacingAndGlyphs">4%</text>
<text x="358.00" y="110.65" font-size="7.9" text-anchor="end" fill="#151515" stroke-width="0.22" textLength="14.86" lengthAdjust="spacingAndGlyphs">91%</text>
<text x="307.60" y="153.45" font-size="7.9" text-anchor="start" fill="#151515" stroke-width="0.22" textLength="10.73" lengthAdjust="spacingAndGlyphs">4%</text>
<text x="354.00" y="153.45" font-size="7.9" text-anchor="end" fill="#151515" stroke-width="0.22" textLength="10.73" lengthAdjust="spacingAndGlyphs">1%</text>
<rect x="240.3" y="162.5" width="55.00" height="54.00" fill="none" stroke="#b8b8b8" stroke-width="0.9"/>
<line x1="243.7" y1="216.5" x2="243.7" y2="217.8" stroke="#b0b0b0" stroke-width="0.5" />
<line x1="239.0" y1="165.9" x2="240.3" y2="165.9" stroke="#b0b0b0" stroke-width="0.5" />
<line x1="247.2" y1="216.5" x2="247.2" y2="217.8" stroke="#b0b0b0" stroke-width="0.5" />
<line x1="239.0" y1="169.2" x2="240.3" y2="169.2" stroke="#b0b0b0" stroke-width="0.5" />
<line x1="250.6" y1="216.5" x2="250.6" y2="217.8" stroke="#b0b0b0" stroke-width="0.5" />
<line x1="239.0" y1="172.6" x2="240.3" y2="172.6" stroke="#b0b0b0" stroke-width="0.5" />
<line x1="254.1" y1="216.5" x2="254.1" y2="217.8" stroke="#b0b0b0" stroke-width="0.5" />
<line x1="239.0" y1="176.0" x2="240.3" y2="176.0" stroke="#b0b0b0" stroke-width="0.5" />
<line x1="257.5" y1="216.5" x2="257.5" y2="217.8" stroke="#b0b0b0" stroke-width="0.5" />
<line x1="239.0" y1="179.4" x2="240.3" y2="179.4" stroke="#b0b0b0" stroke-width="0.5" />
<line x1="260.9" y1="216.5" x2="260.9" y2="217.8" stroke="#b0b0b0" stroke-width="0.5" />
<line x1="239.0" y1="182.8" x2="240.3" y2="182.8" stroke="#b0b0b0" stroke-width="0.5" />
<line x1="264.4" y1="216.5" x2="264.4" y2="217.8" stroke="#b0b0b0" stroke-width="0.5" />
<line x1="239.0" y1="186.1" x2="240.3" y2="186.1" stroke="#b0b0b0" stroke-width="0.5" />
<line x1="267.8" y1="216.5" x2="267.8" y2="217.8" stroke="#b0b0b0" stroke-width="0.5" />
<line x1="239.0" y1="189.5" x2="240.3" y2="189.5" stroke="#b0b0b0" stroke-width="0.5" />
<line x1="271.2" y1="216.5" x2="271.2" y2="217.8" stroke="#b0b0b0" stroke-width="0.5" />
<line x1="239.0" y1="192.9" x2="240.3" y2="192.9" stroke="#b0b0b0" stroke-width="0.5" />
<line x1="274.7" y1="216.5" x2="274.7" y2="217.8" stroke="#b0b0b0" stroke-width="0.5" />
<line x1="239.0" y1="196.2" x2="240.3" y2="196.2" stroke="#b0b0b0" stroke-width="0.5" />
<line x1="278.1" y1="216.5" x2="278.1" y2="217.8" stroke="#b0b0b0" stroke-width="0.5" />
<line x1="239.0" y1="199.6" x2="240.3" y2="199.6" stroke="#b0b0b0" stroke-width="0.5" />
<line x1="281.6" y1="216.5" x2="281.6" y2="217.8" stroke="#b0b0b0" stroke-width="0.5" />
<line x1="239.0" y1="203.0" x2="240.3" y2="203.0" stroke="#b0b0b0" stroke-width="0.5" />
<line x1="285.0" y1="216.5" x2="285.0" y2="217.8" stroke="#b0b0b0" stroke-width="0.5" />
<line x1="239.0" y1="206.4" x2="240.3" y2="206.4" stroke="#b0b0b0" stroke-width="0.5" />
<line x1="288.4" y1="216.5" x2="288.4" y2="217.8" stroke="#b0b0b0" stroke-width="0.5" />
<line x1="239.0" y1="209.8" x2="240.3" y2="209.8" stroke="#b0b0b0" stroke-width="0.5" />
<line x1="291.9" y1="216.5" x2="291.9" y2="217.8" stroke="#b0b0b0" stroke-width="0.5" />
<line x1="239.0" y1="213.1" x2="240.3" y2="213.1" stroke="#b0b0b0" stroke-width="0.5" />
<line x1="269.8" y1="162.5" x2="269.8" y2="216.5" stroke="#c8c8c8" stroke-width="0.8" />
<line x1="240.3" y1="193.8" x2="295.3" y2="193.8" stroke="#c8c8c8" stroke-width="0.8" />
<path d="M248.2,183.0h.7v.7h-.7zM244.5,185.9h.7v.7h-.7zM243.0,184.4h.7v.7h-.7zM244.5,185.4h.7v.7h-.7zM246.8,183.8h.7v.7h-.7zM242.2,184.0h.7v.7h-.7zM250.5,184.8h.7v.7h-.7zM241.6,185.7h.7v.7h-.7zM246.0,183.2h.7v.7h-.7zM247.6,183.6h.7v.7h-.7zM244.7,183.6h.7v.7h-.7zM246.7,183.7h.7v.7h-.7zM244.9,185.3h.7v.7h-.7zM249.3,184.8h.7v.7h-.7zM247.8,185.4h.7v.7h-.7zM245.7,183.3h.7v.7h-.7zM248.5,181.7h.7v.7h-.7zM245.5,184.4h.7v.7h-.7zM245.3,185.4h.7v.7h-.7zM249.9,184.3h.7v.7h-.7zM245.4,185.2h.7v.7h-.7zM244.2,183.8h.7v.7h-.7zM250.1,184.8h.7v.7h-.7zM255.5,184.0h.7v.7h-.7zM252.2,184.1h.7v.7h-.7zM253.5,185.9h.7v.7h-.7zM244.3,183.8h.7v.7h-.7zM241.9,184.7h.7v.7h-.7zM250.0,184.8h.7v.7h-.7zM241.9,183.5h.7v.7h-.7zM241.1,182.7h.7v.7h-.7zM241.5,182.7h.7v.7h-.7zM246.3,184.6h.7v.7h-.7zM249.6,184.2h.7v.7h-.7zM244.2,184.2h.7v.7h-.7zM249.4,183.9h.7v.7h-.7zM247.2,183.9h.7v.7h-.7zM244.8,184.2h.7v.7h-.7zM242.4,185.2h.7v.7h-.7zM241.4,185.6h.7v.7h-.7zM250.6,183.4h.7v.7h-.7zM245.2,183.2h.7v.7h-.7zM246.8,184.6h.7v.7h-.7zM257.5,182.9h.7v.7h-.7zM252.1,183.7h.7v.7h-.7zM248.1,185.0h.7v.7h-.7zM249.2,184.6h.7v.7h-.7zM246.2,184.2h.7v.7h-.7zM247.6,185.3h.7v.7h-.7zM241.0,183.7h.7v.7h-.7zM241.9,183.3h.7v.7h-.7zM243.7,185.2h.7v.7h-.7zM255.8,185.5h.7v.7h-.7zM242.1,184.3h.7v.7h-.7zM242.3,184.6h.7v.7h-.7zM252.2,184.7h.7v.7h-.7zM250.6,184.1h.7v.7h-.7zM246.6,184.7h.7v.7h-.7zM252.2,183.9h.7v.7h-.7zM247.3,184.4h.7v.7h-.7zM251.4,184.1h.7v.7h-.7zM242.5,185.2h.7v.7h-.7zM248.7,184.6h.7v.7h-.7zM241.8,184.2h.7v.7h-.7zM246.0,183.8h.7v.7h-.7zM249.3,185.5h.7v.7h-.7zM246.9,185.9h.7v.7h-.7zM244.6,184.9h.7v.7h-.7zM241.8,184.3h.7v.7h-.7zM245.7,184.0h.7v.7h-.7zM249.4,182.5h.7v.7h-.7zM247.5,183.4h.7v.7h-.7zM247.5,184.6h.7v.7h-.7zM245.5,183.9h.7v.7h-.7zM242.3,184.7h.7v.7h-.7zM244.2,184.6h.7v.7h-.7zM241.1,185.5h.7v.7h-.7zM242.8,185.3h.7v.7h-.7zM245.2,184.7h.7v.7h-.7zM246.4,184.8h.7v.7h-.7zM247.0,185.4h.7v.7h-.7zM249.8,184.8h.7v.7h-.7zM253.9,183.6h.7v.7h-.7zM252.3,184.3h.7v.7h-.7zM240.9,184.6h.7v.7h-.7zM246.2,185.8h.7v.7h-.7zM245.0,184.2h.7v.7h-.7zM248.0,182.4h.7v.7h-.7zM249.1,183.3h.7v.7h-.7zM252.8,185.7h.7v.7h-.7zM247.0,182.7h.7v.7h-.7zM247.7,184.4h.7v.7h-.7zM250.0,183.9h.7v.7h-.7zM242.1,184.1h.7v.7h-.7zM243.2,185.8h.7v.7h-.7zM244.1,183.6h.7v.7h-.7zM246.8,183.1h.7v.7h-.7zM245.2,184.1h.7v.7h-.7zM245.0,184.0h.7v.7h-.7zM252.1,184.6h.7v.7h-.7zM241.5,183.8h.7v.7h-.7zM250.1,183.6h.7v.7h-.7zM247.3,184.2h.7v.7h-.7zM249.2,184.0h.7v.7h-.7zM246.4,183.4h.7v.7h-.7zM248.5,183.3h.7v.7h-.7zM254.1,184.2h.7v.7h-.7zM246.1,184.9h.7v.7h-.7zM246.7,184.3h.7v.7h-.7zM246.8,183.5h.7v.7h-.7zM243.2,183.6h.7v.7h-.7zM251.6,183.6h.7v.7h-.7zM245.3,183.8h.7v.7h-.7zM249.9,186.0h.7v.7h-.7zM243.2,184.7h.7v.7h-.7zM247.5,183.9h.7v.7h-.7zM249.1,183.0h.7v.7h-.7zM250.4,184.4h.7v.7h-.7zM242.9,185.7h.7v.7h-.7zM250.5,185.3h.7v.7h-.7zM241.0,183.9h.7v.7h-.7zM244.9,184.8h.7v.7h-.7zM252.5,182.4h.7v.7h-.7zM247.1,184.1h.7v.7h-.7zM251.1,184.2h.7v.7h-.7zM241.8,184.0h.7v.7h-.7zM242.8,183.5h.7v.7h-.7zM247.2,183.8h.7v.7h-.7zM248.1,182.8h.7v.7h-.7zM256.5,185.4h.7v.7h-.7zM249.9,183.0h.7v.7h-.7zM246.0,186.3h.7v.7h-.7zM252.3,183.7h.7v.7h-.7zM251.9,185.3h.7v.7h-.7zM247.1,185.3h.7v.7h-.7zM248.3,183.6h.7v.7h-.7zM242.2,184.1h.7v.7h-.7zM251.1,183.0h.7v.7h-.7zM245.2,184.9h.7v.7h-.7zM254.6,182.9h.7v.7h-.7zM242.7,186.3h.7v.7h-.7zM245.8,184.1h.7v.7h-.7zM247.9,185.2h.7v.7h-.7zM252.4,184.3h.7v.7h-.7zM245.6,184.2h.7v.7h-.7zM248.2,185.4h.7v.7h-.7zM247.6,185.9h.7v.7h-.7zM243.5,184.7h.7v.7h-.7zM254.2,185.4h.7v.7h-.7zM248.4,183.4h.7v.7h-.7zM244.1,184.1h.7v.7h-.7zM248.3,184.0h.7v.7h-.7zM241.0,183.5h.7v.7h-.7zM249.1,185.0h.7v.7h-.7zM241.3,183.9h.7v.7h-.7zM261.5,184.3h.7v.7h-.7zM245.6,183.7h.7v.7h-.7zM242.1,182.5h.7v.7h-.7zM246.8,183.9h.7v.7h-.7zM253.0,182.7h.7v.7h-.7zM248.8,185.4h.7v.7h-.7zM253.0,184.2h.7v.7h-.7zM248.2,183.6h.7v.7h-.7zM248.2,185.2h.7v.7h-.7zM246.3,184.1h.7v.7h-.7zM248.6,185.0h.7v.7h-.7zM244.2,184.7h.7v.7h-.7zM251.2,184.5h.7v.7h-.7zM252.3,183.3h.7v.7h-.7zM245.3,183.3h.7v.7h-.7zM247.2,184.3h.7v.7h-.7zM246.2,183.1h.7v.7h-.7zM246.7,183.8h.7v.7h-.7zM249.5,184.0h.7v.7h-.7zM251.8,184.4h.7v.7h-.7zM241.2,185.1h.7v.7h-.7zM252.9,184.2h.7v.7h-.7zM248.8,182.9h.7v.7h-.7zM246.0,182.8h.7v.7h-.7zM247.4,184.5h.7v.7h-.7zM249.6,185.6h.7v.7h-.7zM250.3,183.9h.7v.7h-.7zM247.4,184.8h.7v.7h-.7zM242.7,185.4h.7v.7h-.7zM250.7,184.0h.7v.7h-.7zM244.4,187.7h.7v.7h-.7zM250.5,185.1h.7v.7h-.7zM254.4,185.1h.7v.7h-.7zM247.9,184.9h.7v.7h-.7zM243.3,184.9h.7v.7h-.7zM249.3,182.8h.7v.7h-.7zM254.9,183.1h.7v.7h-.7zM251.3,183.7h.7v.7h-.7zM248.3,183.6h.7v.7h-.7zM257.2,185.2h.7v.7h-.7zM254.5,184.9h.7v.7h-.7zM249.9,184.4h.7v.7h-.7zM246.1,184.8h.7v.7h-.7zM247.7,184.1h.7v.7h-.7zM241.4,183.9h.7v.7h-.7zM249.6,183.8h.7v.7h-.7zM248.5,184.1h.7v.7h-.7zM242.9,183.4h.7v.7h-.7zM244.0,184.0h.7v.7h-.7zM246.0,185.3h.7v.7h-.7zM242.6,182.3h.7v.7h-.7zM249.9,183.8h.7v.7h-.7zM246.6,186.6h.7v.7h-.7zM253.1,184.8h.7v.7h-.7zM251.0,184.3h.7v.7h-.7zM251.0,183.7h.7v.7h-.7zM244.2,183.8h.7v.7h-.7zM253.6,185.7h.7v.7h-.7zM244.6,185.3h.7v.7h-.7zM246.5,185.2h.7v.7h-.7zM245.8,185.1h.7v.7h-.7zM246.7,184.0h.7v.7h-.7zM247.0,184.4h.7v.7h-.7zM244.7,183.0h.7v.7h-.7zM254.1,183.9h.7v.7h-.7zM252.7,182.7h.7v.7h-.7zM245.8,182.5h.7v.7h-.7zM251.7,184.6h.7v.7h-.7zM248.5,185.5h.7v.7h-.7zM253.9,185.2h.7v.7h-.7zM244.8,183.0h.7v.7h-.7zM242.9,182.6h.7v.7h-.7zM254.6,184.1h.7v.7h-.7zM247.7,184.4h.7v.7h-.7zM255.5,183.7h.7v.7h-.7zM252.0,184.5h.7v.7h-.7zM246.5,182.5h.7v.7h-.7zM250.9,183.5h.7v.7h-.7zM245.3,184.4h.7v.7h-.7zM247.6,185.3h.7v.7h-.7zM244.4,184.4h.7v.7h-.7zM248.3,184.3h.7v.7h-.7zM250.0,184.0h.7v.7h-.7zM252.1,183.6h.7v.7h-.7zM241.2,184.2h.7v.7h-.7zM252.0,183.8h.7v.7h-.7zM244.6,183.9h.7v.7h-.7zM247.8,184.1h.7v.7h-.7z" fill="#000" fill-opacity="0.36"/>
<path d="M261.2,181.5h.7v.7h-.7zM268.5,185.5h.7v.7h-.7zM253.9,186.9h.7v.7h-.7zM262.0,187.0h.7v.7h-.7zM252.0,187.4h.7v.7h-.7zM259.5,180.9h.7v.7h-.7zM263.9,183.9h.7v.7h-.7zM253.0,184.1h.7v.7h-.7zM247.3,185.5h.7v.7h-.7zM257.9,184.0h.7v.7h-.7zM268.0,184.5h.7v.7h-.7zM255.2,182.8h.7v.7h-.7zM258.9,186.3h.7v.7h-.7zM255.7,182.7h.7v.7h-.7zM265.0,184.6h.7v.7h-.7zM259.1,188.1h.7v.7h-.7zM251.8,184.8h.7v.7h-.7zM248.3,183.9h.7v.7h-.7zM262.9,186.4h.7v.7h-.7zM251.4,185.9h.7v.7h-.7zM264.1,184.3h.7v.7h-.7zM274.5,184.5h.7v.7h-.7zM253.8,185.2h.7v.7h-.7zM247.7,187.2h.7v.7h-.7zM265.4,183.8h.7v.7h-.7zM263.0,185.4h.7v.7h-.7zM271.2,183.4h.7v.7h-.7zM251.3,180.9h.7v.7h-.7zM257.4,181.7h.7v.7h-.7zM258.2,185.2h.7v.7h-.7zM256.5,182.8h.7v.7h-.7zM266.6,184.1h.7v.7h-.7zM260.7,186.1h.7v.7h-.7zM251.2,182.9h.7v.7h-.7zM274.7,184.2h.7v.7h-.7zM252.8,184.0h.7v.7h-.7zM255.7,182.3h.7v.7h-.7zM256.7,184.4h.7v.7h-.7zM259.2,185.4h.7v.7h-.7zM248.5,181.9h.7v.7h-.7zM264.1,183.7h.7v.7h-.7zM266.8,185.0h.7v.7h-.7zM250.5,185.4h.7v.7h-.7zM253.0,184.9h.7v.7h-.7zM266.8,188.2h.7v.7h-.7zM258.8,185.7h.7v.7h-.7zM261.1,185.9h.7v.7h-.7zM243.5,183.8h.7v.7h-.7zM261.0,185.3h.7v.7h-.7zM254.6,185.9h.7v.7h-.7zM266.1,184.6h.7v.7h-.7zM257.8,183.8h.7v.7h-.7zM260.1,186.5h.7v.7h-.7zM268.5,183.6h.7v.7h-.7zM253.5,183.1h.7v.7h-.7zM265.3,184.9h.7v.7h-.7zM261.1,185.3h.7v.7h-.7zM261.6,184.3h.7v.7h-.7zM252.8,183.4h.7v.7h-.7zM260.0,185.2h.7v.7h-.7zM257.0,183.7h.7v.7h-.7zM267.7,183.7h.7v.7h-.7zM260.6,183.9h.7v.7h-.7zM254.0,181.8h.7v.7h-.7zM255.9,183.0h.7v.7h-.7zM264.5,182.5h.7v.7h-.7zM256.7,185.6h.7v.7h-.7zM258.6,185.3h.7v.7h-.7zM264.4,181.6h.7v.7h-.7zM256.7,182.8h.7v.7h-.7zM267.5,184.3h.7v.7h-.7zM262.3,187.4h.7v.7h-.7zM257.1,184.6h.7v.7h-.7zM261.8,184.0h.7v.7h-.7zM266.9,185.9h.7v.7h-.7zM265.4,184.6h.7v.7h-.7zM257.1,183.9h.7v.7h-.7zM257.0,181.6h.7v.7h-.7zM261.5,185.9h.7v.7h-.7zM259.2,183.6h.7v.7h-.7zM259.5,184.9h.7v.7h-.7zM261.2,187.6h.7v.7h-.7zM254.0,185.1h.7v.7h-.7zM263.5,184.6h.7v.7h-.7zM257.8,182.7h.7v.7h-.7zM255.6,185.7h.7v.7h-.7zM268.1,183.3h.7v.7h-.7zM262.1,185.4h.7v.7h-.7zM265.4,184.9h.7v.7h-.7zM261.9,186.0h.7v.7h-.7zM252.1,184.5h.7v.7h-.7zM248.5,181.1h.7v.7h-.7zM254.2,181.8h.7v.7h-.7zM262.3,186.2h.7v.7h-.7zM257.4,184.2h.7v.7h-.7zM257.8,184.0h.7v.7h-.7zM260.0,185.1h.7v.7h-.7zM256.4,183.1h.7v.7h-.7zM256.1,185.8h.7v.7h-.7zM256.7,187.0h.7v.7h-.7zM257.8,186.8h.7v.7h-.7zM252.0,183.3h.7v.7h-.7zM262.1,185.3h.7v.7h-.7zM258.3,188.0h.7v.7h-.7zM259.6,185.0h.7v.7h-.7zM255.8,187.3h.7v.7h-.7zM264.4,185.2h.7v.7h-.7zM249.3,185.1h.7v.7h-.7zM256.4,185.1h.7v.7h-.7zM264.7,183.2h.7v.7h-.7zM260.5,186.0h.7v.7h-.7zM260.2,183.9h.7v.7h-.7zM252.8,183.3h.7v.7h-.7zM251.5,186.1h.7v.7h-.7zM259.8,182.4h.7v.7h-.7zM259.2,182.3h.7v.7h-.7zM266.3,181.9h.7v.7h-.7zM254.9,184.8h.7v.7h-.7zM256.9,183.0h.7v.7h-.7zM256.1,184.0h.7v.7h-.7zM255.9,184.8h.7v.7h-.7zM257.8,183.2h.7v.7h-.7zM259.3,181.6h.7v.7h-.7zM267.9,181.5h.7v.7h-.7zM258.7,185.0h.7v.7h-.7zM261.7,184.9h.7v.7h-.7zM266.8,182.5h.7v.7h-.7zM258.8,184.7h.7v.7h-.7zM256.2,183.4h.7v.7h-.7zM266.9,183.2h.7v.7h-.7zM256.3,184.0h.7v.7h-.7zM257.9,184.7h.7v.7h-.7zM257.9,185.1h.7v.7h-.7zM260.0,185.3h.7v.7h-.7zM267.4,183.0h.7v.7h-.7zM269.1,183.7h.7v.7h-.7zM263.1,184.7h.7v.7h-.7zM257.4,181.1h.7v.7h-.7zM268.8,183.2h.7v.7h-.7zM254.4,186.2h.7v.7h-.7zM259.6,187.7h.7v.7h-.7zM269.2,185.6h.7v.7h-.7zM260.7,185.7h.7v.7h-.7zM251.3,184.7h.7v.7h-.7zM260.0,183.6h.7v.7h-.7zM260.7,182.0h.7v.7h-.7zM264.5,186.6h.7v.7h-.7zM251.4,184.7h.7v.7h-.7zM268.4,185.1h.7v.7h-.7zM253.0,182.8h.7v.7h-.7zM264.2,187.5h.7v.7h-.7zM252.6,184.5h.7v.7h-.7zM254.5,184.0h.7v.7h-.7zM261.0,184.4h.7v.7h-.7zM255.0,188.0h.7v.7h-.7zM258.2,184.1h.7v.7h-.7zM265.7,184.5h.7v.7h-.7zM257.9,186.0h.7v.7h-.7zM253.0,185.7h.7v.7h-.7zM265.3,185.6h.7v.7h-.7zM258.1,184.4h.7v.7h-.7zM248.9,184.2h.7v.7h-.7zM260.8,185.9h.7v.7h-.7zM260.0,183.8h.7v.7h-.7zM254.1,184.4h.7v.7h-.7zM259.9,186.5h.7v.7h-.7zM259.2,183.6h.7v.7h-.7zM258.5,183.6h.7v.7h-.7zM257.7,180.7h.7v.7h-.7zM249.6,182.4h.7v.7h-.7zM261.9,184.3h.7v.7h-.7zM260.0,186.4h.7v.7h-.7zM252.9,186.4h.7v.7h-.7zM261.4,183.2h.7v.7h-.7zM267.9,182.0h.7v.7h-.7zM252.4,184.1h.7v.7h-.7zM261.5,184.1h.7v.7h-.7zM246.4,183.9h.7v.7h-.7zM258.6,188.7h.7v.7h-.7zM267.3,184.6h.7v.7h-.7zM252.6,185.0h.7v.7h-.7zM252.2,184.8h.7v.7h-.7zM261.3,183.8h.7v.7h-.7zM260.6,183.9h.7v.7h-.7zM255.7,187.0h.7v.7h-.7zM262.5,183.9h.7v.7h-.7zM254.6,184.7h.7v.7h-.7zM262.5,185.9h.7v.7h-.7zM267.8,185.2h.7v.7h-.7zM252.5,187.8h.7v.7h-.7zM266.0,185.8h.7v.7h-.7zM267.0,181.9h.7v.7h-.7zM256.9,183.6h.7v.7h-.7zM266.1,182.4h.7v.7h-.7zM257.2,187.0h.7v.7h-.7zM262.9,183.8h.7v.7h-.7zM270.2,182.2h.7v.7h-.7zM261.8,184.0h.7v.7h-.7zM262.1,184.0h.7v.7h-.7z" fill="#000" fill-opacity="0.24"/>
<path d="M260.0,198.2h.7v.7h-.7zM258.2,201.4h.7v.7h-.7zM264.9,199.0h.7v.7h-.7zM259.7,193.1h.7v.7h-.7zM269.9,197.4h.7v.7h-.7zM252.7,202.7h.7v.7h-.7zM263.6,185.8h.7v.7h-.7zM260.9,200.1h.7v.7h-.7zM257.6,194.7h.7v.7h-.7zM271.1,183.4h.7v.7h-.7zM252.7,188.1h.7v.7h-.7zM254.4,193.4h.7v.7h-.7zM277.2,192.1h.7v.7h-.7zM262.5,206.9h.7v.7h-.7zM267.9,190.2h.7v.7h-.7zM269.7,192.3h.7v.7h-.7zM254.8,189.9h.7v.7h-.7zM258.9,197.6h.7v.7h-.7zM260.0,192.4h.7v.7h-.7zM266.6,185.8h.7v.7h-.7zM267.8,188.5h.7v.7h-.7zM261.5,189.0h.7v.7h-.7zM261.8,190.9h.7v.7h-.7zM254.1,200.8h.7v.7h-.7zM266.1,197.6h.7v.7h-.7zM262.8,188.8h.7v.7h-.7zM253.6,186.4h.7v.7h-.7zM261.4,203.7h.7v.7h-.7zM274.8,191.1h.7v.7h-.7zM267.4,195.2h.7v.7h-.7zM261.9,185.1h.7v.7h-.7zM262.5,202.2h.7v.7h-.7zM271.4,190.3h.7v.7h-.7zM261.2,193.7h.7v.7h-.7zM258.4,192.4h.7v.7h-.7zM253.6,202.2h.7v.7h-.7zM260.9,194.9h.7v.7h-.7zM275.4,189.6h.7v.7h-.7zM261.7,199.1h.7v.7h-.7zM258.5,204.2h.7v.7h-.7zM265.0,192.2h.7v.7h-.7zM271.4,197.6h.7v.7h-.7zM258.6,191.8h.7v.7h-.7zM276.1,185.7h.7v.7h-.7zM270.6,185.3h.7v.7h-.7zM264.4,189.9h.7v.7h-.7zM266.9,190.4h.7v.7h-.7zM264.6,202.9h.7v.7h-.7zM260.2,184.4h.7v.7h-.7zM260.1,191.2h.7v.7h-.7zM255.5,196.5h.7v.7h-.7zM261.4,196.0h.7v.7h-.7zM254.2,189.6h.7v.7h-.7zM263.5,199.7h.7v.7h-.7zM258.0,201.9h.7v.7h-.7zM265.4,190.4h.7v.7h-.7zM263.7,189.7h.7v.7h-.7zM258.8,191.4h.7v.7h-.7zM270.6,197.7h.7v.7h-.7zM263.6,201.6h.7v.7h-.7zM249.4,198.9h.7v.7h-.7zM263.2,205.0h.7v.7h-.7zM262.9,199.5h.7v.7h-.7zM252.7,202.6h.7v.7h-.7zM267.1,191.6h.7v.7h-.7zM249.0,205.6h.7v.7h-.7zM272.4,196.1h.7v.7h-.7zM261.5,185.5h.7v.7h-.7zM265.4,198.5h.7v.7h-.7zM260.9,199.6h.7v.7h-.7zM261.5,196.3h.7v.7h-.7zM266.3,188.1h.7v.7h-.7zM280.8,183.2h.7v.7h-.7zM263.8,189.6h.7v.7h-.7zM263.6,192.7h.7v.7h-.7zM251.3,193.6h.7v.7h-.7zM265.4,192.5h.7v.7h-.7zM242.8,195.8h.7v.7h-.7zM262.0,195.0h.7v.7h-.7zM263.9,186.5h.7v.7h-.7zM266.5,190.4h.7v.7h-.7zM260.7,195.5h.7v.7h-.7zM271.2,192.3h.7v.7h-.7zM267.1,187.6h.7v.7h-.7zM259.0,190.4h.7v.7h-.7zM259.7,194.6h.7v.7h-.7zM263.4,198.8h.7v.7h-.7zM268.6,195.4h.7v.7h-.7zM267.8,197.9h.7v.7h-.7zM267.4,197.5h.7v.7h-.7zM269.0,195.0h.7v.7h-.7zM260.1,189.2h.7v.7h-.7zM261.3,207.8h.7v.7h-.7zM267.5,194.3h.7v.7h-.7zM261.7,192.8h.7v.7h-.7zM277.3,177.9h.7v.7h-.7zM263.5,194.0h.7v.7h-.7zM253.9,193.3h.7v.7h-.7zM259.0,195.4h.7v.7h-.7zM263.5,199.3h.7v.7h-.7zM258.4,200.4h.7v.7h-.7zM275.0,191.8h.7v.7h-.7zM249.0,186.5h.7v.7h-.7zM270.3,192.6h.7v.7h-.7zM264.3,201.6h.7v.7h-.7zM262.0,196.1h.7v.7h-.7zM259.0,199.5h.7v.7h-.7zM260.1,193.7h.7v.7h-.7zM270.8,190.5h.7v.7h-.7zM257.4,202.8h.7v.7h-.7zM266.4,187.2h.7v.7h-.7zM261.9,195.8h.7v.7h-.7zM262.9,195.5h.7v.7h-.7zM266.3,189.4h.7v.7h-.7zM273.9,182.7h.7v.7h-.7zM266.6,204.2h.7v.7h-.7zM277.8,184.6h.7v.7h-.7zM259.8,190.4h.7v.7h-.7zM271.0,190.1h.7v.7h-.7zM260.3,199.1h.7v.7h-.7zM273.8,191.3h.7v.7h-.7zM280.0,189.9h.7v.7h-.7zM266.4,192.1h.7v.7h-.7zM270.6,196.8h.7v.7h-.7zM271.9,194.9h.7v.7h-.7zM267.5,196.2h.7v.7h-.7zM270.5,188.4h.7v.7h-.7zM261.5,206.3h.7v.7h-.7zM266.1,189.9h.7v.7h-.7zM264.6,192.0h.7v.7h-.7zM253.7,200.1h.7v.7h-.7zM256.4,200.5h.7v.7h-.7zM266.6,199.1h.7v.7h-.7zM264.4,196.0h.7v.7h-.7zM261.2,193.6h.7v.7h-.7zM258.8,203.7h.7v.7h-.7zM263.3,190.9h.7v.7h-.7zM264.0,191.5h.7v.7h-.7zM260.6,197.9h.7v.7h-.7zM270.2,188.0h.7v.7h-.7zM254.1,197.2h.7v.7h-.7zM272.0,183.5h.7v.7h-.7zM270.1,188.3h.7v.7h-.7zM267.9,190.6h.7v.7h-.7zM253.8,198.6h.7v.7h-.7zM275.7,185.0h.7v.7h-.7zM266.3,190.4h.7v.7h-.7zM264.2,195.8h.7v.7h-.7zM273.1,201.2h.7v.7h-.7zM263.4,193.3h.7v.7h-.7zM256.4,191.3h.7v.7h-.7zM256.7,203.2h.7v.7h-.7zM257.4,207.2h.7v.7h-.7zM268.1,189.3h.7v.7h-.7zM257.5,198.8h.7v.7h-.7zM267.4,198.5h.7v.7h-.7zM258.7,195.4h.7v.7h-.7zM262.9,193.1h.7v.7h-.7zM255.5,189.5h.7v.7h-.7zM252.7,197.8h.7v.7h-.7zM265.6,199.0h.7v.7h-.7zM282.2,191.7h.7v.7h-.7zM271.7,200.1h.7v.7h-.7zM261.9,192.3h.7v.7h-.7zM274.2,180.3h.7v.7h-.7zM260.9,194.6h.7v.7h-.7zM270.7,185.7h.7v.7h-.7zM267.3,189.2h.7v.7h-.7zM257.7,199.9h.7v.7h-.7zM261.7,188.6h.7v.7h-.7zM256.8,194.2h.7v.7h-.7zM270.9,192.0h.7v.7h-.7zM266.8,195.1h.7v.7h-.7zM262.7,197.9h.7v.7h-.7zM256.8,191.0h.7v.7h-.7zM260.6,197.7h.7v.7h-.7zM267.6,198.0h.7v.7h-.7zM253.7,199.9h.7v.7h-.7zM263.6,188.5h.7v.7h-.7zM264.3,191.3h.7v.7h-.7zM260.8,203.1h.7v.7h-.7zM259.0,203.7h.7v.7h-.7zM259.0,191.8h.7v.7h-.7zM256.9,194.5h.7v.7h-.7zM260.0,198.5h.7v.7h-.7zM256.9,206.6h.7v.7h-.7zM272.8,196.3h.7v.7h-.7zM251.8,188.5h.7v.7h-.7zM260.0,195.8h.7v.7h-.7zM264.3,190.7h.7v.7h-.7zM264.0,195.0h.7v.7h-.7zM260.4,207.6h.7v.7h-.7zM258.4,199.6h.7v.7h-.7zM268.0,186.5h.7v.7h-.7zM268.8,200.7h.7v.7h-.7zM265.5,199.4h.7v.7h-.7zM266.4,193.8h.7v.7h-.7zM267.5,190.2h.7v.7h-.7zM265.7,198.8h.7v.7h-.7zM267.0,195.0h.7v.7h-.7zM257.3,198.9h.7v.7h-.7zM273.6,192.8h.7v.7h-.7zM264.6,190.5h.7v.7h-.7zM261.9,198.3h.7v.7h-.7zM272.4,188.5h.7v.7h-.7zM270.7,187.5h.7v.7h-.7zM268.1,185.1h.7v.7h-.7zM262.1,188.9h.7v.7h-.7zM269.6,193.7h.7v.7h-.7zM256.6,194.8h.7v.7h-.7zM257.3,189.7h.7v.7h-.7zM256.3,194.2h.7v.7h-.7zM272.6,196.5h.7v.7h-.7zM260.8,194.6h.7v.7h-.7zM263.9,191.0h.7v.7h-.7zM264.9,198.5h.7v.7h-.7zM265.2,192.7h.7v.7h-.7zM265.1,202.3h.7v.7h-.7zM261.0,197.0h.7v.7h-.7zM256.5,195.7h.7v.7h-.7zM263.5,192.0h.7v.7h-.7zM267.4,192.1h.7v.7h-.7zM249.6,190.1h.7v.7h-.7zM268.2,187.6h.7v.7h-.7zM272.6,188.1h.7v.7h-.7zM261.3,199.3h.7v.7h-.7zM262.6,195.1h.7v.7h-.7zM260.6,200.3h.7v.7h-.7zM268.9,187.5h.7v.7h-.7zM272.7,184.5h.7v.7h-.7zM260.9,186.3h.7v.7h-.7zM259.1,210.3h.7v.7h-.7zM275.6,193.0h.7v.7h-.7zM255.0,201.7h.7v.7h-.7zM266.7,192.6h.7v.7h-.7zM263.2,189.0h.7v.7h-.7zM259.9,190.0h.7v.7h-.7zM263.2,196.9h.7v.7h-.7zM258.8,196.0h.7v.7h-.7zM261.7,195.8h.7v.7h-.7zM270.1,191.3h.7v.7h-.7zM262.2,186.5h.7v.7h-.7zM264.4,198.8h.7v.7h-.7zM257.9,195.7h.7v.7h-.7zM262.4,203.3h.7v.7h-.7zM259.4,192.8h.7v.7h-.7zM270.8,196.0h.7v.7h-.7zM269.7,196.0h.7v.7h-.7zM264.9,192.6h.7v.7h-.7zM260.1,193.7h.7v.7h-.7zM261.7,197.9h.7v.7h-.7zM263.7,194.8h.7v.7h-.7zM267.4,191.4h.7v.7h-.7zM254.0,196.3h.7v.7h-.7zM252.2,190.7h.7v.7h-.7zM261.2,188.7h.7v.7h-.7zM253.6,194.7h.7v.7h-.7zM268.2,189.2h.7v.7h-.7zM269.5,189.6h.7v.7h-.7zM263.2,198.1h.7v.7h-.7zM267.8,192.1h.7v.7h-.7zM256.8,196.3h.7v.7h-.7zM256.5,197.7h.7v.7h-.7zM268.8,199.7h.7v.7h-.7zM274.1,191.1h.7v.7h-.7zM270.2,191.1h.7v.7h-.7zM284.3,189.1h.7v.7h-.7zM280.3,184.9h.7v.7h-.7zM269.4,196.7h.7v.7h-.7zM266.0,194.5h.7v.7h-.7zM261.1,201.8h.7v.7h-.7zM267.1,196.8h.7v.7h-.7zM257.7,187.6h.7v.7h-.7zM270.2,196.8h.7v.7h-.7zM253.9,195.2h.7v.7h-.7zM261.6,194.2h.7v.7h-.7zM259.3,208.0h.7v.7h-.7zM268.0,187.4h.7v.7h-.7zM254.7,202.8h.7v.7h-.7zM277.8,189.4h.7v.7h-.7zM267.9,185.5h.7v.7h-.7zM261.0,186.9h.7v.7h-.7zM277.0,188.4h.7v.7h-.7zM246.6,194.9h.7v.7h-.7zM267.1,192.6h.7v.7h-.7zM264.0,197.8h.7v.7h-.7zM276.6,187.4h.7v.7h-.7zM253.2,200.6h.7v.7h-.7zM254.2,196.0h.7v.7h-.7zM265.4,192.0h.7v.7h-.7zM257.8,198.2h.7v.7h-.7zM260.8,199.4h.7v.7h-.7zM263.7,196.6h.7v.7h-.7zM264.6,198.1h.7v.7h-.7zM263.1,194.5h.7v.7h-.7zM261.1,196.8h.7v.7h-.7zM261.4,212.0h.7v.7h-.7zM260.3,197.1h.7v.7h-.7zM259.8,193.9h.7v.7h-.7zM264.8,190.3h.7v.7h-.7zM257.5,190.1h.7v.7h-.7zM255.3,192.9h.7v.7h-.7zM270.4,181.3h.7v.7h-.7zM258.3,199.1h.7v.7h-.7zM267.2,181.3h.7v.7h-.7zM255.4,200.7h.7v.7h-.7zM261.8,186.8h.7v.7h-.7zM250.8,197.3h.7v.7h-.7zM268.0,190.8h.7v.7h-.7zM267.8,190.6h.7v.7h-.7zM265.4,196.6h.7v.7h-.7zM263.8,195.4h.7v.7h-.7zM256.9,195.2h.7v.7h-.7zM265.8,191.1h.7v.7h-.7zM261.4,199.7h.7v.7h-.7zM266.9,191.8h.7v.7h-.7zM262.0,200.7h.7v.7h-.7zM275.8,180.6h.7v.7h-.7zM252.7,197.0h.7v.7h-.7zM254.8,192.6h.7v.7h-.7z" fill="#000" fill-opacity="0.22"/>
<path d="M252.4,206.3h.7v.7h-.7zM268.7,208.8h.7v.7h-.7zM267.8,201.0h.7v.7h-.7zM270.5,200.5h.7v.7h-.7zM259.0,198.2h.7v.7h-.7zM271.6,206.9h.7v.7h-.7zM258.1,201.7h.7v.7h-.7zM262.1,203.7h.7v.7h-.7zM268.6,203.2h.7v.7h-.7zM265.0,196.9h.7v.7h-.7zM259.4,195.7h.7v.7h-.7zM276.0,208.5h.7v.7h-.7zM267.5,207.3h.7v.7h-.7zM277.8,206.6h.7v.7h-.7zM249.0,202.1h.7v.7h-.7zM242.9,199.6h.7v.7h-.7zM251.8,202.8h.7v.7h-.7zM264.9,199.2h.7v.7h-.7zM259.5,204.0h.7v.7h-.7zM260.5,202.2h.7v.7h-.7zM242.5,201.1h.7v.7h-.7zM268.1,203.9h.7v.7h-.7zM249.9,201.8h.7v.7h-.7zM263.9,199.0h.7v.7h-.7zM267.1,199.7h.7v.7h-.7zM259.1,202.4h.7v.7h-.7zM279.5,201.6h.7v.7h-.7zM257.1,205.7h.7v.7h-.7zM257.9,203.6h.7v.7h-.7zM243.7,204.0h.7v.7h-.7zM261.6,197.7h.7v.7h-.7zM272.6,201.9h.7v.7h-.7zM260.1,197.6h.7v.7h-.7zM248.7,200.6h.7v.7h-.7zM249.5,204.8h.7v.7h-.7zM268.7,200.3h.7v.7h-.7zM248.8,201.3h.7v.7h-.7zM253.2,203.5h.7v.7h-.7zM263.1,201.1h.7v.7h-.7zM262.3,207.0h.7v.7h-.7zM275.3,200.8h.7v.7h-.7zM267.5,201.9h.7v.7h-.7zM253.2,208.0h.7v.7h-.7zM264.8,203.4h.7v.7h-.7zM264.5,202.2h.7v.7h-.7zM253.3,209.9h.7v.7h-.7zM268.9,203.9h.7v.7h-.7zM269.4,208.0h.7v.7h-.7zM260.1,205.2h.7v.7h-.7zM259.1,205.4h.7v.7h-.7zM259.6,212.6h.7v.7h-.7zM258.8,204.9h.7v.7h-.7zM265.4,201.5h.7v.7h-.7zM269.2,202.5h.7v.7h-.7zM258.4,202.8h.7v.7h-.7zM255.7,207.6h.7v.7h-.7zM266.7,206.8h.7v.7h-.7zM250.9,203.9h.7v.7h-.7zM255.5,203.2h.7v.7h-.7zM271.9,203.9h.7v.7h-.7zM260.3,207.3h.7v.7h-.7zM269.8,210.2h.7v.7h-.7zM246.8,204.1h.7v.7h-.7zM258.3,199.3h.7v.7h-.7zM262.6,198.2h.7v.7h-.7zM243.8,199.2h.7v.7h-.7zM259.6,210.3h.7v.7h-.7zM255.9,198.2h.7v.7h-.7zM245.8,201.4h.7v.7h-.7zM259.7,203.4h.7v.7h-.7zM250.1,199.8h.7v.7h-.7zM243.5,203.5h.7v.7h-.7zM249.1,191.8h.7v.7h-.7zM271.0,204.9h.7v.7h-.7zM264.5,204.2h.7v.7h-.7zM253.4,207.1h.7v.7h-.7zM253.3,210.5h.7v.7h-.7zM263.5,195.5h.7v.7h-.7zM268.6,210.7h.7v.7h-.7zM259.6,207.1h.7v.7h-.7zM260.0,200.3h.7v.7h-.7zM241.0,207.8h.7v.7h-.7zM258.1,204.4h.7v.7h-.7zM252.6,199.2h.7v.7h-.7zM270.6,201.3h.7v.7h-.7zM258.5,197.8h.7v.7h-.7zM263.4,206.0h.7v.7h-.7zM258.0,202.1h.7v.7h-.7zM251.9,208.5h.7v.7h-.7zM256.7,202.2h.7v.7h-.7zM275.2,201.9h.7v.7h-.7zM249.3,199.1h.7v.7h-.7zM258.8,210.0h.7v.7h-.7zM263.5,202.0h.7v.7h-.7zM268.4,208.1h.7v.7h-.7zM255.6,208.6h.7v.7h-.7zM268.6,204.7h.7v.7h-.7zM242.7,203.7h.7v.7h-.7zM272.9,201.8h.7v.7h-.7zM280.3,203.2h.7v.7h-.7zM253.6,205.3h.7v.7h-.7zM264.1,206.2h.7v.7h-.7zM260.0,208.1h.7v.7h-.7zM257.3,203.4h.7v.7h-.7zM251.7,199.7h.7v.7h-.7zM263.4,200.2h.7v.7h-.7zM258.2,202.1h.7v.7h-.7zM263.8,206.0h.7v.7h-.7zM268.0,207.0h.7v.7h-.7zM263.5,200.7h.7v.7h-.7zM249.0,201.5h.7v.7h-.7zM255.4,195.6h.7v.7h-.7zM275.1,195.5h.7v.7h-.7zM264.7,205.2h.7v.7h-.7zM259.9,213.4h.7v.7h-.7zM262.0,199.8h.7v.7h-.7zM276.1,199.7h.7v.7h-.7zM250.2,198.8h.7v.7h-.7zM256.6,203.1h.7v.7h-.7zM264.6,196.8h.7v.7h-.7zM264.7,212.0h.7v.7h-.7zM256.0,202.4h.7v.7h-.7zM267.5,207.8h.7v.7h-.7zM256.4,199.0h.7v.7h-.7zM253.6,207.4h.7v.7h-.7zM269.1,194.1h.7v.7h-.7zM244.5,197.9h.7v.7h-.7zM249.6,204.6h.7v.7h-.7zM263.6,210.9h.7v.7h-.7zM268.3,203.4h.7v.7h-.7zM271.4,199.3h.7v.7h-.7zM250.5,203.0h.7v.7h-.7zM269.4,196.3h.7v.7h-.7zM269.1,206.4h.7v.7h-.7zM257.8,203.6h.7v.7h-.7zM259.6,203.2h.7v.7h-.7zM268.4,199.6h.7v.7h-.7zM270.3,206.4h.7v.7h-.7zM269.2,194.9h.7v.7h-.7zM246.7,205.7h.7v.7h-.7zM257.1,200.1h.7v.7h-.7zM255.6,197.5h.7v.7h-.7zM259.5,200.0h.7v.7h-.7zM256.5,204.9h.7v.7h-.7zM252.2,207.5h.7v.7h-.7zM243.8,213.1h.7v.7h-.7zM250.8,205.3h.7v.7h-.7zM269.2,202.9h.7v.7h-.7zM267.9,202.5h.7v.7h-.7zM247.5,204.3h.7v.7h-.7z" fill="#000" fill-opacity="0.15"/>
<path d="M282.2,181.7h.7v.7h-.7zM272.0,187.2h.7v.7h-.7zM281.9,187.9h.7v.7h-.7zM285.5,187.6h.7v.7h-.7zM275.5,175.3h.7v.7h-.7zM287.9,182.7h.7v.7h-.7zM281.8,183.3h.7v.7h-.7zM279.5,187.6h.7v.7h-.7zM290.0,191.7h.7v.7h-.7zM288.1,196.2h.7v.7h-.7zM280.1,190.5h.7v.7h-.7zM282.2,194.7h.7v.7h-.7zM283.0,192.0h.7v.7h-.7zM279.6,172.4h.7v.7h-.7zM288.5,184.2h.7v.7h-.7zM272.9,177.4h.7v.7h-.7zM271.8,175.4h.7v.7h-.7zM279.7,185.9h.7v.7h-.7zM285.4,181.5h.7v.7h-.7zM287.3,191.0h.7v.7h-.7zM286.5,181.4h.7v.7h-.7zM278.0,177.3h.7v.7h-.7zM275.2,187.8h.7v.7h-.7zM276.1,180.6h.7v.7h-.7zM280.6,191.5h.7v.7h-.7zM277.8,187.1h.7v.7h-.7zM281.0,196.1h.7v.7h-.7zM286.9,184.4h.7v.7h-.7zM284.7,196.1h.7v.7h-.7zM279.6,182.4h.7v.7h-.7zM273.4,186.6h.7v.7h-.7zM285.9,179.3h.7v.7h-.7zM290.2,181.0h.7v.7h-.7zM283.3,194.5h.7v.7h-.7zM280.3,189.5h.7v.7h-.7zM272.4,182.5h.7v.7h-.7zM278.0,189.7h.7v.7h-.7zM271.6,177.9h.7v.7h-.7zM281.2,185.1h.7v.7h-.7zM277.1,184.3h.7v.7h-.7zM276.9,200.1h.7v.7h-.7zM279.9,190.8h.7v.7h-.7zM288.4,190.2h.7v.7h-.7zM280.7,186.6h.7v.7h-.7zM283.9,191.2h.7v.7h-.7zM280.7,183.4h.7v.7h-.7zM282.7,188.1h.7v.7h-.7zM283.1,186.7h.7v.7h-.7zM285.5,185.3h.7v.7h-.7zM283.3,185.4h.7v.7h-.7zM275.0,183.1h.7v.7h-.7zM281.1,190.2h.7v.7h-.7zM284.2,183.9h.7v.7h-.7zM276.6,185.4h.7v.7h-.7zM284.9,184.9h.7v.7h-.7zM280.5,192.0h.7v.7h-.7zM275.7,190.3h.7v.7h-.7zM279.4,186.4h.7v.7h-.7zM278.9,194.6h.7v.7h-.7zM281.9,176.5h.7v.7h-.7zM282.4,190.2h.7v.7h-.7zM286.7,180.1h.7v.7h-.7zM276.6,188.9h.7v.7h-.7zM287.4,183.2h.7v.7h-.7zM286.4,195.9h.7v.7h-.7zM265.7,179.8h.7v.7h-.7zM285.6,189.3h.7v.7h-.7zM276.7,192.6h.7v.7h-.7zM280.8,188.1h.7v.7h-.7zM275.7,186.2h.7v.7h-.7zM277.0,189.1h.7v.7h-.7zM284.4,196.4h.7v.7h-.7zM277.4,177.3h.7v.7h-.7zM285.9,193.8h.7v.7h-.7zM284.3,192.2h.7v.7h-.7zM282.0,190.8h.7v.7h-.7zM279.1,193.1h.7v.7h-.7zM279.1,196.7h.7v.7h-.7zM268.1,178.8h.7v.7h-.7zM281.4,185.0h.7v.7h-.7zM281.7,189.0h.7v.7h-.7zM277.2,182.3h.7v.7h-.7zM281.8,188.4h.7v.7h-.7zM287.9,196.6h.7v.7h-.7zM277.6,188.9h.7v.7h-.7zM280.6,183.5h.7v.7h-.7zM274.0,186.4h.7v.7h-.7zM283.0,183.4h.7v.7h-.7zM279.9,181.8h.7v.7h-.7zM279.5,182.5h.7v.7h-.7zM277.4,189.3h.7v.7h-.7zM284.7,194.7h.7v.7h-.7zM275.8,193.0h.7v.7h-.7zM289.9,191.0h.7v.7h-.7zM276.5,184.2h.7v.7h-.7zM279.2,189.6h.7v.7h-.7zM281.7,188.5h.7v.7h-.7zM278.8,180.1h.7v.7h-.7zM272.2,182.8h.7v.7h-.7zM274.9,189.2h.7v.7h-.7zM288.9,199.9h.7v.7h-.7zM281.9,186.0h.7v.7h-.7zM282.8,180.2h.7v.7h-.7zM284.2,191.5h.7v.7h-.7zM284.0,187.5h.7v.7h-.7zM274.9,181.1h.7v.7h-.7zM277.6,184.1h.7v.7h-.7zM282.0,184.9h.7v.7h-.7zM277.0,177.3h.7v.7h-.7zM280.8,180.5h.7v.7h-.7zM270.2,182.9h.7v.7h-.7zM281.2,194.3h.7v.7h-.7zM278.9,179.3h.7v.7h-.7zM280.0,186.3h.7v.7h-.7zM271.4,184.9h.7v.7h-.7zM270.1,186.5h.7v.7h-.7zM268.1,188.2h.7v.7h-.7zM274.2,184.7h.7v.7h-.7zM280.6,194.8h.7v.7h-.7zM279.5,189.0h.7v.7h-.7zM285.4,190.2h.7v.7h-.7zM280.7,182.7h.7v.7h-.7zM273.7,185.1h.7v.7h-.7zM278.3,188.0h.7v.7h-.7zM283.1,193.0h.7v.7h-.7zM285.1,196.7h.7v.7h-.7zM282.2,182.3h.7v.7h-.7zM274.2,169.9h.7v.7h-.7zM286.1,186.4h.7v.7h-.7zM276.2,177.2h.7v.7h-.7zM288.2,180.5h.7v.7h-.7zM282.9,193.3h.7v.7h-.7zM276.7,182.9h.7v.7h-.7zM279.2,180.3h.7v.7h-.7zM283.1,186.2h.7v.7h-.7zM280.3,178.3h.7v.7h-.7zM285.3,186.0h.7v.7h-.7zM285.0,179.5h.7v.7h-.7zM288.7,186.9h.7v.7h-.7zM280.6,181.5h.7v.7h-.7zM284.0,189.4h.7v.7h-.7zM273.5,182.6h.7v.7h-.7zM281.7,196.4h.7v.7h-.7zM283.4,191.7h.7v.7h-.7zM281.4,187.0h.7v.7h-.7zM279.5,184.4h.7v.7h-.7zM284.9,185.4h.7v.7h-.7zM276.5,179.2h.7v.7h-.7zM279.0,182.8h.7v.7h-.7zM281.4,193.5h.7v.7h-.7z" fill="#000" fill-opacity="0.2"/>
<path d="M280.00,178.00 L281.41,177.20 L282.78,176.27 L284.02,175.45 L285.05,174.95 L285.80,175.00 L286.20,175.71 L286.31,176.94 L286.22,178.50 L286.02,180.25 L285.80,182.00 L285.54,183.86 L285.17,185.95 L284.74,188.10 L284.27,190.17 L283.80,192.00 L283.37,193.65 L282.97,195.23 L282.52,196.64 L281.95,197.80 L281.20,198.60 L280.13,198.99 L278.80,199.03 L277.39,198.82 L276.09,198.44 L275.10,198.00 L274.47,197.45 L274.08,196.73 L273.84,195.90 L273.64,195.04 L273.40,194.20 L273.10,193.45 L272.81,192.75 L272.54,191.99 L272.30,191.11 L272.10,190.00 L271.82,188.53 L271.46,186.75 L271.19,184.89 L271.21,183.13 L271.70,181.70 L272.84,180.65 L274.51,179.86 L276.44,179.21 L278.36,178.62 L280.00,178.00Z" fill="none" fill-opacity="1" stroke="#6a6a6a" stroke-width="0.55"/>
<path d="M283.00,179.50 L283.74,179.83 L284.13,180.68 L284.25,181.88 L284.18,183.21 L284.00,184.50 L283.69,185.88 L283.18,187.49 L282.54,189.11 L281.79,190.52 L281.00,191.50 L280.07,192.06 L278.98,192.34 L277.84,192.34 L276.81,192.06 L276.00,191.50 L275.32,190.52 L274.67,189.11 L274.21,187.49 L274.10,185.88 L274.50,184.50 L275.68,183.21 L277.54,181.88 L279.66,180.68 L281.62,179.83 L283.00,179.50Z" fill="none" fill-opacity="1" stroke="#6a6a6a" stroke-width="0.55"/>
<ellipse cx="280.6" cy="184.3" rx="6.5" ry="4.3" transform="rotate(-45 280.6 184.3)" fill="#5a5a5a" fill-opacity="0.55" filter="url(#b1)"/>
<ellipse cx="280.6" cy="183.9" rx="6.80" ry="3.80" transform="rotate(-45 280.6 183.9)" fill="none" stroke="#7a7a7a" stroke-width="0.5"/>
<ellipse cx="280.6" cy="183.9" rx="9.86" ry="5.51" transform="rotate(-45 280.6 183.9)" fill="none" stroke="#8a8a8a" stroke-width="0.5"/>
<ellipse cx="280.6" cy="183.9" rx="3.4" ry="1.9" transform="rotate(-45 280.6 183.9)" fill="#000" fill-opacity="1" filter="url(#b2)"/>
<text x="242.60" y="170.65" font-size="7.9" text-anchor="start" fill="#151515" stroke-width="0.22" textLength="10.73" lengthAdjust="spacingAndGlyphs">4%</text>
<text x="292.50" y="171.15" font-size="7.9" text-anchor="end" fill="#151515" stroke-width="0.22" textLength="14.86" lengthAdjust="spacingAndGlyphs">89%</text>
<text x="242.60" y="214.25" font-size="7.9" text-anchor="start" fill="#151515" stroke-width="0.22" textLength="10.73" lengthAdjust="spacingAndGlyphs">1%</text>
<text x="292.50" y="213.85" font-size="7.9" text-anchor="end" fill="#151515" stroke-width="0.22" textLength="10.73" lengthAdjust="spacingAndGlyphs">6%</text>
<rect x="303.7" y="163.2" width="54.70" height="52.90" fill="none" stroke="#b8b8b8" stroke-width="0.9"/>
<line x1="307.1" y1="216.1" x2="307.1" y2="217.4" stroke="#b0b0b0" stroke-width="0.5" />
<line x1="302.4" y1="166.5" x2="303.7" y2="166.5" stroke="#b0b0b0" stroke-width="0.5" />
<line x1="310.5" y1="216.1" x2="310.5" y2="217.4" stroke="#b0b0b0" stroke-width="0.5" />
<line x1="302.4" y1="169.8" x2="303.7" y2="169.8" stroke="#b0b0b0" stroke-width="0.5" />
<line x1="314.0" y1="216.1" x2="314.0" y2="217.4" stroke="#b0b0b0" stroke-width="0.5" />
<line x1="302.4" y1="173.1" x2="303.7" y2="173.1" stroke="#b0b0b0" stroke-width="0.5" />
<line x1="317.4" y1="216.1" x2="317.4" y2="217.4" stroke="#b0b0b0" stroke-width="0.5" />
<line x1="302.4" y1="176.4" x2="303.7" y2="176.4" stroke="#b0b0b0" stroke-width="0.5" />
<line x1="320.8" y1="216.1" x2="320.8" y2="217.4" stroke="#b0b0b0" stroke-width="0.5" />
<line x1="302.4" y1="179.7" x2="303.7" y2="179.7" stroke="#b0b0b0" stroke-width="0.5" />
<line x1="324.2" y1="216.1" x2="324.2" y2="217.4" stroke="#b0b0b0" stroke-width="0.5" />
<line x1="302.4" y1="183.0" x2="303.7" y2="183.0" stroke="#b0b0b0" stroke-width="0.5" />
<line x1="327.6" y1="216.1" x2="327.6" y2="217.4" stroke="#b0b0b0" stroke-width="0.5" />
<line x1="302.4" y1="186.3" x2="303.7" y2="186.3" stroke="#b0b0b0" stroke-width="0.5" />
<line x1="331.0" y1="216.1" x2="331.0" y2="217.4" stroke="#b0b0b0" stroke-width="0.5" />
<line x1="302.4" y1="189.6" x2="303.7" y2="189.6" stroke="#b0b0b0" stroke-width="0.5" />
<line x1="334.5" y1="216.1" x2="334.5" y2="217.4" stroke="#b0b0b0" stroke-width="0.5" />
<line x1="302.4" y1="193.0" x2="303.7" y2="193.0" stroke="#b0b0b0" stroke-width="0.5" />
<line x1="337.9" y1="216.1" x2="337.9" y2="217.4" stroke="#b0b0b0" stroke-width="0.5" />
<line x1="302.4" y1="196.3" x2="303.7" y2="196.3" stroke="#b0b0b0" stroke-width="0.5" />
<line x1="341.3" y1="216.1" x2="341.3" y2="217.4" stroke="#b0b0b0" stroke-width="0.5" />
<line x1="302.4" y1="199.6" x2="303.7" y2="199.6" stroke="#b0b0b0" stroke-width="0.5" />
<line x1="344.7" y1="216.1" x2="344.7" y2="217.4" stroke="#b0b0b0" stroke-width="0.5" />
<line x1="302.4" y1="202.9" x2="303.7" y2="202.9" stroke="#b0b0b0" stroke-width="0.5" />
<line x1="348.1" y1="216.1" x2="348.1" y2="217.4" stroke="#b0b0b0" stroke-width="0.5" />
<line x1="302.4" y1="206.2" x2="303.7" y2="206.2" stroke="#b0b0b0" stroke-width="0.5" />
<line x1="351.6" y1="216.1" x2="351.6" y2="217.4" stroke="#b0b0b0" stroke-width="0.5" />
<line x1="302.4" y1="209.5" x2="303.7" y2="209.5" stroke="#b0b0b0" stroke-width="0.5" />
<line x1="355.0" y1="216.1" x2="355.0" y2="217.4" stroke="#b0b0b0" stroke-width="0.5" />
<line x1="302.4" y1="212.8" x2="303.7" y2="212.8" stroke="#b0b0b0" stroke-width="0.5" />
<line x1="333.5" y1="163.2" x2="333.5" y2="216.1" stroke="#c8c8c8" stroke-width="0.8" />
<line x1="303.7" y1="193.9" x2="358.4" y2="193.9" stroke="#c8c8c8" stroke-width="0.8" />
<ellipse cx="326" cy="188" rx="12" ry="5" transform="rotate(0 326 188)" fill="#888" fill-opacity="0.2" filter="url(#b3)"/>
<path d="M307.9,186.0h.7v.7h-.7zM323.8,192.9h.7v.7h-.7zM313.2,188.6h.7v.7h-.7zM320.6,181.2h.7v.7h-.7zM323.5,187.5h.7v.7h-.7zM305.7,183.7h.7v.7h-.7zM314.3,185.2h.7v.7h-.7zM317.7,198.3h.7v.7h-.7zM310.8,187.7h.7v.7h-.7zM310.9,183.8h.7v.7h-.7zM309.9,185.8h.7v.7h-.7zM312.9,188.8h.7v.7h-.7zM320.0,182.4h.7v.7h-.7zM335.6,181.0h.7v.7h-.7zM321.3,198.1h.7v.7h-.7zM311.4,193.8h.7v.7h-.7zM331.0,188.7h.7v.7h-.7zM318.8,184.2h.7v.7h-.7zM329.7,183.3h.7v.7h-.7zM327.8,184.2h.7v.7h-.7zM322.9,181.5h.7v.7h-.7zM314.4,182.3h.7v.7h-.7zM311.4,187.9h.7v.7h-.7zM316.4,188.0h.7v.7h-.7zM329.8,186.4h.7v.7h-.7zM318.7,192.2h.7v.7h-.7zM327.5,191.8h.7v.7h-.7zM315.9,190.3h.7v.7h-.7zM304.7,193.6h.7v.7h-.7zM322.0,189.6h.7v.7h-.7zM314.5,187.3h.7v.7h-.7zM311.8,189.9h.7v.7h-.7zM305.8,192.0h.7v.7h-.7zM323.0,197.3h.7v.7h-.7zM317.6,186.5h.7v.7h-.7zM319.8,187.2h.7v.7h-.7zM317.0,181.4h.7v.7h-.7zM307.8,184.1h.7v.7h-.7zM315.3,180.9h.7v.7h-.7zM307.3,185.5h.7v.7h-.7zM324.8,186.0h.7v.7h-.7zM324.2,192.0h.7v.7h-.7zM325.1,184.8h.7v.7h-.7zM314.3,177.5h.7v.7h-.7zM311.7,189.4h.7v.7h-.7zM308.0,193.9h.7v.7h-.7zM331.2,185.1h.7v.7h-.7zM326.5,179.8h.7v.7h-.7zM308.4,185.1h.7v.7h-.7zM318.1,186.1h.7v.7h-.7zM310.1,197.0h.7v.7h-.7zM320.7,188.5h.7v.7h-.7zM324.3,187.9h.7v.7h-.7zM315.9,184.2h.7v.7h-.7zM309.5,178.5h.7v.7h-.7zM310.6,178.8h.7v.7h-.7zM336.3,188.9h.7v.7h-.7zM330.9,194.4h.7v.7h-.7zM323.2,189.9h.7v.7h-.7zM311.4,186.6h.7v.7h-.7zM312.4,187.2h.7v.7h-.7zM311.6,193.5h.7v.7h-.7zM325.0,186.5h.7v.7h-.7zM326.1,186.7h.7v.7h-.7zM306.4,189.2h.7v.7h-.7zM327.6,177.2h.7v.7h-.7zM323.2,177.7h.7v.7h-.7zM318.7,195.9h.7v.7h-.7zM318.8,189.4h.7v.7h-.7zM315.0,187.0h.7v.7h-.7zM339.6,193.8h.7v.7h-.7zM315.1,185.1h.7v.7h-.7zM318.2,198.2h.7v.7h-.7zM319.9,192.7h.7v.7h-.7zM314.7,180.5h.7v.7h-.7zM330.1,186.6h.7v.7h-.7zM310.8,183.5h.7v.7h-.7zM311.8,183.9h.7v.7h-.7zM321.5,192.0h.7v.7h-.7zM314.8,188.8h.7v.7h-.7zM319.5,193.0h.7v.7h-.7zM325.5,188.8h.7v.7h-.7zM312.0,180.9h.7v.7h-.7zM310.7,183.8h.7v.7h-.7zM313.1,180.7h.7v.7h-.7zM333.2,188.4h.7v.7h-.7zM305.7,188.2h.7v.7h-.7zM327.8,182.0h.7v.7h-.7zM323.7,185.6h.7v.7h-.7zM328.5,193.9h.7v.7h-.7zM320.8,190.6h.7v.7h-.7zM318.0,185.1h.7v.7h-.7zM307.4,188.7h.7v.7h-.7zM317.4,185.1h.7v.7h-.7zM317.3,186.1h.7v.7h-.7zM308.5,184.3h.7v.7h-.7zM328.4,185.8h.7v.7h-.7zM330.7,181.1h.7v.7h-.7zM305.6,187.6h.7v.7h-.7zM325.1,183.7h.7v.7h-.7zM323.7,191.7h.7v.7h-.7zM327.8,186.4h.7v.7h-.7zM317.5,178.6h.7v.7h-.7zM318.2,188.4h.7v.7h-.7zM330.9,180.6h.7v.7h-.7zM310.3,181.9h.7v.7h-.7zM326.2,174.2h.7v.7h-.7zM308.1,197.4h.7v.7h-.7zM324.0,180.3h.7v.7h-.7zM317.5,191.3h.7v.7h-.7zM323.0,185.9h.7v.7h-.7zM310.8,191.2h.7v.7h-.7zM317.9,191.1h.7v.7h-.7zM321.6,184.6h.7v.7h-.7zM331.1,184.5h.7v.7h-.7zM321.9,183.8h.7v.7h-.7zM315.9,185.7h.7v.7h-.7zM312.0,188.2h.7v.7h-.7zM329.9,196.4h.7v.7h-.7zM331.1,186.1h.7v.7h-.7zM331.2,189.1h.7v.7h-.7zM334.3,180.6h.7v.7h-.7zM331.5,184.0h.7v.7h-.7zM328.5,184.6h.7v.7h-.7zM326.3,185.6h.7v.7h-.7zM315.8,187.1h.7v.7h-.7zM311.4,185.9h.7v.7h-.7zM320.0,182.9h.7v.7h-.7zM315.0,191.5h.7v.7h-.7zM313.2,190.3h.7v.7h-.7zM309.9,188.4h.7v.7h-.7zM318.8,189.3h.7v.7h-.7zM309.5,186.4h.7v.7h-.7zM310.3,186.2h.7v.7h-.7zM323.6,202.0h.7v.7h-.7zM318.3,190.6h.7v.7h-.7zM319.0,192.7h.7v.7h-.7zM322.2,192.3h.7v.7h-.7zM321.2,199.1h.7v.7h-.7zM330.5,178.4h.7v.7h-.7zM320.7,187.4h.7v.7h-.7zM313.9,183.3h.7v.7h-.7zM319.2,178.0h.7v.7h-.7zM324.8,190.9h.7v.7h-.7zM321.2,185.4h.7v.7h-.7zM318.1,184.7h.7v.7h-.7zM328.4,189.6h.7v.7h-.7zM336.1,185.2h.7v.7h-.7zM331.2,184.1h.7v.7h-.7zM316.5,181.8h.7v.7h-.7zM322.8,186.7h.7v.7h-.7zM323.7,194.5h.7v.7h-.7zM317.5,188.9h.7v.7h-.7zM326.2,186.7h.7v.7h-.7zM313.1,188.8h.7v.7h-.7zM322.6,190.9h.7v.7h-.7zM325.6,183.7h.7v.7h-.7zM322.1,193.2h.7v.7h-.7zM313.9,188.9h.7v.7h-.7zM312.5,187.9h.7v.7h-.7zM333.7,187.9h.7v.7h-.7zM309.3,188.8h.7v.7h-.7zM320.0,192.6h.7v.7h-.7zM305.7,182.4h.7v.7h-.7zM317.4,179.2h.7v.7h-.7zM328.3,176.9h.7v.7h-.7zM310.6,179.6h.7v.7h-.7zM312.1,191.1h.7v.7h-.7zM323.5,191.7h.7v.7h-.7zM323.5,176.8h.7v.7h-.7zM320.8,177.8h.7v.7h-.7zM313.5,185.1h.7v.7h-.7zM313.2,189.5h.7v.7h-.7zM310.8,195.7h.7v.7h-.7zM323.5,193.0h.7v.7h-.7zM324.9,191.5h.7v.7h-.7zM317.7,196.9h.7v.7h-.7zM308.6,189.4h.7v.7h-.7zM318.1,185.9h.7v.7h-.7zM320.9,183.3h.7v.7h-.7zM325.9,191.0h.7v.7h-.7zM319.0,190.7h.7v.7h-.7zM308.7,178.0h.7v.7h-.7zM312.8,185.9h.7v.7h-.7zM340.6,185.9h.7v.7h-.7zM327.4,191.3h.7v.7h-.7zM337.1,187.6h.7v.7h-.7zM324.0,186.1h.7v.7h-.7zM310.3,182.0h.7v.7h-.7zM311.0,194.2h.7v.7h-.7zM320.7,186.3h.7v.7h-.7zM318.2,184.2h.7v.7h-.7zM317.8,186.8h.7v.7h-.7zM324.0,191.6h.7v.7h-.7zM330.5,181.9h.7v.7h-.7zM315.8,187.9h.7v.7h-.7zM328.0,190.0h.7v.7h-.7zM316.1,189.6h.7v.7h-.7zM327.4,189.0h.7v.7h-.7zM334.8,189.2h.7v.7h-.7zM308.6,183.1h.7v.7h-.7zM316.9,186.0h.7v.7h-.7zM323.7,188.8h.7v.7h-.7zM333.6,191.1h.7v.7h-.7zM331.5,183.2h.7v.7h-.7zM314.3,190.5h.7v.7h-.7zM318.9,190.2h.7v.7h-.7zM320.4,184.0h.7v.7h-.7zM333.5,192.8h.7v.7h-.7zM318.3,190.5h.7v.7h-.7zM317.5,180.3h.7v.7h-.7zM325.6,186.0h.7v.7h-.7zM329.0,188.6h.7v.7h-.7zM327.2,191.3h.7v.7h-.7zM326.1,184.5h.7v.7h-.7zM327.4,188.1h.7v.7h-.7zM306.9,185.1h.7v.7h-.7zM315.1,189.4h.7v.7h-.7zM324.3,181.5h.7v.7h-.7zM324.7,186.8h.7v.7h-.7zM308.7,191.3h.7v.7h-.7zM311.3,181.1h.7v.7h-.7zM325.0,191.6h.7v.7h-.7zM312.3,192.4h.7v.7h-.7zM327.2,184.5h.7v.7h-.7zM336.2,186.8h.7v.7h-.7zM320.2,175.2h.7v.7h-.7zM323.9,184.0h.7v.7h-.7zM322.2,178.6h.7v.7h-.7zM328.6,194.4h.7v.7h-.7zM335.2,172.4h.7v.7h-.7zM323.5,188.9h.7v.7h-.7zM317.5,194.3h.7v.7h-.7zM310.8,188.2h.7v.7h-.7zM317.8,189.0h.7v.7h-.7zM314.7,191.6h.7v.7h-.7zM327.0,180.4h.7v.7h-.7zM328.4,183.5h.7v.7h-.7zM315.9,192.8h.7v.7h-.7zM319.2,190.1h.7v.7h-.7zM325.4,190.2h.7v.7h-.7zM313.5,182.5h.7v.7h-.7zM324.5,191.0h.7v.7h-.7zM321.6,186.3h.7v.7h-.7zM326.1,187.1h.7v.7h-.7zM306.1,188.6h.7v.7h-.7zM323.0,191.1h.7v.7h-.7zM310.4,183.5h.7v.7h-.7zM321.4,185.0h.7v.7h-.7zM317.9,191.9h.7v.7h-.7zM322.0,196.4h.7v.7h-.7zM321.1,195.8h.7v.7h-.7zM328.1,200.0h.7v.7h-.7zM318.7,186.9h.7v.7h-.7zM330.3,184.8h.7v.7h-.7zM314.5,188.6h.7v.7h-.7zM322.0,180.4h.7v.7h-.7zM320.9,185.8h.7v.7h-.7zM318.4,188.3h.7v.7h-.7zM317.0,192.7h.7v.7h-.7zM323.1,186.5h.7v.7h-.7zM319.4,192.6h.7v.7h-.7zM325.8,193.7h.7v.7h-.7zM317.6,188.1h.7v.7h-.7zM336.8,187.3h.7v.7h-.7zM333.9,191.7h.7v.7h-.7zM315.0,180.5h.7v.7h-.7zM324.6,184.0h.7v.7h-.7zM312.6,178.9h.7v.7h-.7zM329.5,188.0h.7v.7h-.7zM319.1,189.5h.7v.7h-.7zM321.1,188.0h.7v.7h-.7zM323.5,186.1h.7v.7h-.7zM322.7,187.6h.7v.7h-.7zM333.1,180.6h.7v.7h-.7zM322.6,179.4h.7v.7h-.7zM315.3,190.6h.7v.7h-.7zM308.1,190.3h.7v.7h-.7zM337.9,194.4h.7v.7h-.7zM318.7,189.1h.7v.7h-.7zM310.5,188.2h.7v.7h-.7zM316.0,182.6h.7v.7h-.7zM306.9,197.1h.7v.7h-.7zM319.7,182.4h.7v.7h-.7zM315.2,194.9h.7v.7h-.7zM333.4,184.5h.7v.7h-.7zM320.7,191.9h.7v.7h-.7zM315.8,181.7h.7v.7h-.7zM310.2,187.6h.7v.7h-.7zM312.0,181.1h.7v.7h-.7zM316.8,192.1h.7v.7h-.7zM325.0,186.4h.7v.7h-.7zM336.0,183.6h.7v.7h-.7zM318.2,180.7h.7v.7h-.7zM325.9,186.9h.7v.7h-.7zM335.0,191.1h.7v.7h-.7zM319.9,191.8h.7v.7h-.7zM304.6,183.4h.7v.7h-.7zM307.0,183.4h.7v.7h-.7zM315.5,190.1h.7v.7h-.7zM327.9,192.3h.7v.7h-.7zM342.9,185.0h.7v.7h-.7zM318.7,190.0h.7v.7h-.7zM311.5,186.1h.7v.7h-.7zM322.5,183.1h.7v.7h-.7zM323.1,193.6h.7v.7h-.7zM308.9,176.1h.7v.7h-.7zM319.6,182.3h.7v.7h-.7zM320.4,185.2h.7v.7h-.7zM321.5,193.1h.7v.7h-.7zM326.1,185.7h.7v.7h-.7zM308.4,175.1h.7v.7h-.7zM319.6,184.1h.7v.7h-.7zM313.4,179.5h.7v.7h-.7zM324.2,177.5h.7v.7h-.7zM324.6,182.8h.7v.7h-.7zM323.3,188.4h.7v.7h-.7zM325.2,193.1h.7v.7h-.7zM311.4,182.4h.7v.7h-.7zM314.4,183.3h.7v.7h-.7zM324.2,186.6h.7v.7h-.7zM318.3,189.2h.7v.7h-.7zM313.9,192.5h.7v.7h-.7zM322.6,183.2h.7v.7h-.7zM311.9,191.5h.7v.7h-.7zM315.2,177.5h.7v.7h-.7zM306.0,192.0h.7v.7h-.7zM310.2,193.5h.7v.7h-.7zM330.3,186.0h.7v.7h-.7zM322.9,182.9h.7v.7h-.7zM314.4,183.5h.7v.7h-.7zM323.3,180.6h.7v.7h-.7zM316.8,187.2h.7v.7h-.7zM322.6,176.4h.7v.7h-.7zM316.0,187.7h.7v.7h-.7zM319.7,197.0h.7v.7h-.7zM323.8,189.9h.7v.7h-.7zM313.6,190.9h.7v.7h-.7zM324.1,190.3h.7v.7h-.7zM316.9,190.0h.7v.7h-.7zM331.5,183.0h.7v.7h-.7zM324.5,185.8h.7v.7h-.7zM313.9,200.6h.7v.7h-.7zM313.7,180.9h.7v.7h-.7zM313.6,189.4h.7v.7h-.7zM312.4,185.0h.7v.7h-.7zM320.6,184.8h.7v.7h-.7zM319.0,186.7h.7v.7h-.7zM308.4,187.3h.7v.7h-.7zM307.5,191.5h.7v.7h-.7zM309.5,185.7h.7v.7h-.7zM306.7,194.3h.7v.7h-.7zM316.8,189.5h.7v.7h-.7zM316.3,180.2h.7v.7h-.7zM328.0,184.9h.7v.7h-.7zM319.1,188.4h.7v.7h-.7zM316.5,190.7h.7v.7h-.7zM311.8,188.7h.7v.7h-.7zM328.5,187.9h.7v.7h-.7zM318.9,185.2h.7v.7h-.7zM318.3,190.2h.7v.7h-.7zM315.6,178.6h.7v.7h-.7zM319.2,186.1h.7v.7h-.7zM322.0,187.1h.7v.7h-.7zM331.8,180.9h.7v.7h-.7zM309.2,190.1h.7v.7h-.7zM308.6,188.5h.7v.7h-.7zM317.6,177.2h.7v.7h-.7zM323.7,193.6h.7v.7h-.7zM319.6,180.0h.7v.7h-.7zM324.7,181.7h.7v.7h-.7zM316.7,188.9h.7v.7h-.7zM310.8,178.5h.7v.7h-.7zM316.5,186.6h.7v.7h-.7zM310.2,183.0h.7v.7h-.7zM324.3,186.4h.7v.7h-.7zM313.6,183.9h.7v.7h-.7zM319.2,187.3h.7v.7h-.7zM316.2,180.0h.7v.7h-.7zM314.4,183.8h.7v.7h-.7zM318.3,192.5h.7v.7h-.7zM326.1,190.0h.7v.7h-.7zM318.7,185.3h.7v.7h-.7zM320.7,184.5h.7v.7h-.7zM314.7,182.7h.7v.7h-.7zM317.2,186.5h.7v.7h-.7zM333.9,189.5h.7v.7h-.7zM314.4,190.6h.7v.7h-.7zM313.5,191.7h.7v.7h-.7zM324.5,200.9h.7v.7h-.7zM308.2,186.5h.7v.7h-.7zM316.7,188.3h.7v.7h-.7zM323.9,182.1h.7v.7h-.7zM311.3,188.3h.7v.7h-.7zM326.2,181.4h.7v.7h-.7zM325.0,192.1h.7v.7h-.7zM309.2,185.9h.7v.7h-.7zM319.7,189.0h.7v.7h-.7zM316.7,186.6h.7v.7h-.7zM326.5,184.7h.7v.7h-.7zM312.9,184.7h.7v.7h-.7zM313.3,187.5h.7v.7h-.7zM315.9,184.7h.7v.7h-.7zM330.0,188.3h.7v.7h-.7zM314.8,192.9h.7v.7h-.7zM312.9,186.8h.7v.7h-.7zM316.9,184.1h.7v.7h-.7zM314.4,187.2h.7v.7h-.7zM305.3,185.0h.7v.7h-.7zM319.9,188.2h.7v.7h-.7zM320.3,198.1h.7v.7h-.7zM323.4,186.1h.7v.7h-.7zM316.6,186.8h.7v.7h-.7zM321.4,185.4h.7v.7h-.7zM330.7,181.5h.7v.7h-.7zM323.1,189.2h.7v.7h-.7zM307.9,189.8h.7v.7h-.7zM322.5,183.8h.7v.7h-.7zM337.6,190.2h.7v.7h-.7zM314.9,184.5h.7v.7h-.7zM311.3,188.1h.7v.7h-.7zM318.2,180.1h.7v.7h-.7zM308.8,183.4h.7v.7h-.7zM314.2,185.1h.7v.7h-.7zM312.0,189.9h.7v.7h-.7zM325.8,187.2h.7v.7h-.7zM322.5,186.4h.7v.7h-.7zM320.0,187.3h.7v.7h-.7zM304.9,174.8h.7v.7h-.7zM323.0,184.3h.7v.7h-.7zM321.2,185.4h.7v.7h-.7zM316.2,193.3h.7v.7h-.7zM307.4,186.8h.7v.7h-.7zM308.3,187.1h.7v.7h-.7zM321.7,189.9h.7v.7h-.7zM318.9,180.3h.7v.7h-.7zM319.7,191.0h.7v.7h-.7zM326.2,197.0h.7v.7h-.7zM322.5,182.0h.7v.7h-.7zM313.2,187.2h.7v.7h-.7zM326.6,181.4h.7v.7h-.7zM325.5,189.9h.7v.7h-.7zM310.2,189.7h.7v.7h-.7zM311.1,186.8h.7v.7h-.7zM315.1,187.9h.7v.7h-.7zM307.6,189.3h.7v.7h-.7zM312.8,194.3h.7v.7h-.7zM322.2,184.5h.7v.7h-.7zM310.0,187.0h.7v.7h-.7zM312.3,197.4h.7v.7h-.7zM310.8,194.4h.7v.7h-.7zM313.0,191.9h.7v.7h-.7zM319.4,192.4h.7v.7h-.7zM317.9,172.7h.7v.7h-.7zM311.5,179.4h.7v.7h-.7zM325.7,189.4h.7v.7h-.7zM317.7,189.0h.7v.7h-.7zM319.3,184.1h.7v.7h-.7zM334.4,187.9h.7v.7h-.7zM316.0,179.9h.7v.7h-.7zM312.4,186.9h.7v.7h-.7zM316.1,184.5h.7v.7h-.7zM317.2,181.5h.7v.7h-.7zM317.7,179.5h.7v.7h-.7zM310.3,183.3h.7v.7h-.7zM325.1,189.1h.7v.7h-.7zM318.3,181.4h.7v.7h-.7zM314.2,190.6h.7v.7h-.7zM328.4,179.8h.7v.7h-.7zM314.0,187.3h.7v.7h-.7zM320.7,186.9h.7v.7h-.7z" fill="#000" fill-opacity="0.2"/>
<path d="M324.8,196.0h.7v.7h-.7zM331.5,197.4h.7v.7h-.7zM320.2,205.3h.7v.7h-.7zM328.6,207.1h.7v.7h-.7zM326.4,208.9h.7v.7h-.7zM318.6,206.4h.7v.7h-.7zM331.5,199.2h.7v.7h-.7zM309.1,198.1h.7v.7h-.7zM330.5,208.8h.7v.7h-.7zM317.1,204.0h.7v.7h-.7zM323.4,207.9h.7v.7h-.7zM305.4,200.2h.7v.7h-.7zM317.8,204.4h.7v.7h-.7zM320.4,201.4h.7v.7h-.7zM322.0,190.6h.7v.7h-.7zM343.3,206.8h.7v.7h-.7zM326.6,199.8h.7v.7h-.7zM323.0,212.7h.7v.7h-.7zM333.7,203.3h.7v.7h-.7zM310.4,203.7h.7v.7h-.7zM317.6,207.0h.7v.7h-.7zM310.1,202.0h.7v.7h-.7zM321.9,200.7h.7v.7h-.7zM327.9,197.5h.7v.7h-.7zM310.4,201.2h.7v.7h-.7zM326.2,201.5h.7v.7h-.7zM315.3,206.8h.7v.7h-.7zM321.6,200.4h.7v.7h-.7zM320.8,201.8h.7v.7h-.7zM324.5,203.6h.7v.7h-.7zM313.7,200.6h.7v.7h-.7zM316.7,204.7h.7v.7h-.7zM322.7,198.9h.7v.7h-.7zM318.4,204.4h.7v.7h-.7zM328.3,204.1h.7v.7h-.7zM334.8,203.0h.7v.7h-.7zM325.5,201.3h.7v.7h-.7zM312.2,203.4h.7v.7h-.7zM323.6,204.5h.7v.7h-.7zM321.0,201.3h.7v.7h-.7zM313.6,201.5h.7v.7h-.7zM323.4,207.5h.7v.7h-.7zM328.1,209.0h.7v.7h-.7zM322.8,206.1h.7v.7h-.7zM316.4,202.5h.7v.7h-.7zM323.9,197.7h.7v.7h-.7zM313.8,203.9h.7v.7h-.7zM309.6,203.2h.7v.7h-.7zM308.5,203.8h.7v.7h-.7zM320.1,200.2h.7v.7h-.7zM312.6,200.5h.7v.7h-.7zM320.8,208.7h.7v.7h-.7zM315.9,202.1h.7v.7h-.7zM330.5,211.2h.7v.7h-.7zM316.1,207.9h.7v.7h-.7zM328.9,205.4h.7v.7h-.7zM312.3,198.4h.7v.7h-.7zM324.3,214.1h.7v.7h-.7zM318.5,210.4h.7v.7h-.7zM334.4,196.9h.7v.7h-.7zM315.3,210.1h.7v.7h-.7zM327.3,205.5h.7v.7h-.7zM319.8,205.9h.7v.7h-.7zM311.0,194.3h.7v.7h-.7zM321.0,209.8h.7v.7h-.7zM316.1,202.6h.7v.7h-.7zM312.0,202.6h.7v.7h-.7zM312.0,198.1h.7v.7h-.7zM308.5,200.3h.7v.7h-.7zM334.2,202.6h.7v.7h-.7zM321.3,213.6h.7v.7h-.7zM315.0,198.1h.7v.7h-.7zM323.9,197.0h.7v.7h-.7zM322.4,208.5h.7v.7h-.7zM311.5,200.4h.7v.7h-.7zM332.9,197.8h.7v.7h-.7zM314.6,204.0h.7v.7h-.7zM317.4,198.8h.7v.7h-.7zM332.1,200.1h.7v.7h-.7zM322.4,200.9h.7v.7h-.7zM318.1,196.3h.7v.7h-.7zM327.0,200.8h.7v.7h-.7zM329.7,197.3h.7v.7h-.7zM316.1,205.2h.7v.7h-.7zM320.7,199.7h.7v.7h-.7zM318.8,196.7h.7v.7h-.7zM320.3,190.2h.7v.7h-.7zM321.2,209.4h.7v.7h-.7zM326.7,207.0h.7v.7h-.7zM316.6,205.3h.7v.7h-.7zM316.7,202.5h.7v.7h-.7zM319.1,186.7h.7v.7h-.7zM327.0,205.1h.7v.7h-.7zM326.3,198.3h.7v.7h-.7zM325.2,205.2h.7v.7h-.7zM320.2,199.7h.7v.7h-.7zM319.7,199.8h.7v.7h-.7zM331.4,193.8h.7v.7h-.7zM309.3,198.2h.7v.7h-.7zM309.3,200.1h.7v.7h-.7zM319.6,196.4h.7v.7h-.7zM322.7,209.2h.7v.7h-.7zM328.3,212.6h.7v.7h-.7zM328.6,202.8h.7v.7h-.7zM333.6,206.3h.7v.7h-.7zM334.3,202.0h.7v.7h-.7zM321.3,205.6h.7v.7h-.7zM318.3,207.8h.7v.7h-.7zM311.0,199.6h.7v.7h-.7zM327.5,203.2h.7v.7h-.7zM320.7,209.7h.7v.7h-.7zM328.4,199.1h.7v.7h-.7zM321.5,194.8h.7v.7h-.7zM319.8,204.8h.7v.7h-.7zM306.6,210.5h.7v.7h-.7zM335.3,205.4h.7v.7h-.7zM327.1,210.2h.7v.7h-.7zM318.6,208.0h.7v.7h-.7zM322.9,195.6h.7v.7h-.7zM313.0,200.3h.7v.7h-.7zM328.2,203.5h.7v.7h-.7zM327.6,200.7h.7v.7h-.7zM310.2,212.9h.7v.7h-.7zM341.0,204.8h.7v.7h-.7zM318.5,208.7h.7v.7h-.7zM311.5,202.0h.7v.7h-.7zM309.0,205.3h.7v.7h-.7zM321.9,201.1h.7v.7h-.7zM315.0,195.7h.7v.7h-.7zM313.6,208.9h.7v.7h-.7zM317.3,209.1h.7v.7h-.7zM313.3,202.6h.7v.7h-.7zM316.5,201.8h.7v.7h-.7zM325.9,193.1h.7v.7h-.7zM325.7,206.4h.7v.7h-.7zM320.0,203.4h.7v.7h-.7zM318.3,206.3h.7v.7h-.7zM320.5,198.9h.7v.7h-.7zM321.2,207.6h.7v.7h-.7zM322.9,203.2h.7v.7h-.7zM321.6,200.6h.7v.7h-.7zM316.5,194.0h.7v.7h-.7zM318.6,207.7h.7v.7h-.7zM317.0,198.7h.7v.7h-.7zM326.9,203.8h.7v.7h-.7zM321.1,205.3h.7v.7h-.7zM325.4,202.8h.7v.7h-.7zM313.6,211.4h.7v.7h-.7zM320.5,199.3h.7v.7h-.7zM321.4,208.7h.7v.7h-.7zM309.2,209.3h.7v.7h-.7zM319.0,212.6h.7v.7h-.7zM325.1,202.5h.7v.7h-.7zM329.6,209.1h.7v.7h-.7zM317.3,204.1h.7v.7h-.7zM316.1,207.4h.7v.7h-.7zM309.3,202.2h.7v.7h-.7zM322.1,201.3h.7v.7h-.7zM316.6,198.4h.7v.7h-.7zM316.5,194.6h.7v.7h-.7zM322.5,206.9h.7v.7h-.7zM325.9,202.8h.7v.7h-.7zM329.4,205.2h.7v.7h-.7zM327.3,204.9h.7v.7h-.7zM320.3,199.4h.7v.7h-.7zM319.2,212.5h.7v.7h-.7zM304.9,207.0h.7v.7h-.7zM312.8,203.0h.7v.7h-.7zM313.3,204.7h.7v.7h-.7zM319.8,207.2h.7v.7h-.7zM321.2,205.3h.7v.7h-.7zM329.8,205.5h.7v.7h-.7zM319.0,208.9h.7v.7h-.7zM319.2,205.0h.7v.7h-.7zM317.6,199.9h.7v.7h-.7zM311.3,206.5h.7v.7h-.7zM333.8,196.8h.7v.7h-.7zM326.7,202.6h.7v.7h-.7zM323.5,197.3h.7v.7h-.7zM320.3,203.8h.7v.7h-.7zM330.9,213.2h.7v.7h-.7zM322.5,201.3h.7v.7h-.7zM337.0,202.5h.7v.7h-.7zM319.6,203.5h.7v.7h-.7zM323.6,206.4h.7v.7h-.7zM315.7,202.5h.7v.7h-.7zM334.4,210.7h.7v.7h-.7zM323.5,204.4h.7v.7h-.7zM318.3,207.9h.7v.7h-.7zM316.2,203.7h.7v.7h-.7zM316.6,200.1h.7v.7h-.7zM320.4,203.1h.7v.7h-.7zM315.7,202.8h.7v.7h-.7zM320.6,200.8h.7v.7h-.7zM315.1,202.4h.7v.7h-.7zM325.5,208.3h.7v.7h-.7zM321.5,201.8h.7v.7h-.7zM319.9,212.2h.7v.7h-.7zM327.1,198.6h.7v.7h-.7zM319.7,200.6h.7v.7h-.7zM317.4,195.1h.7v.7h-.7zM320.3,196.6h.7v.7h-.7zM315.7,210.3h.7v.7h-.7zM327.7,199.0h.7v.7h-.7zM312.3,198.8h.7v.7h-.7zM305.8,198.4h.7v.7h-.7zM318.1,198.1h.7v.7h-.7zM325.9,202.8h.7v.7h-.7zM316.1,211.4h.7v.7h-.7zM325.5,203.4h.7v.7h-.7zM334.2,209.3h.7v.7h-.7zM314.8,204.6h.7v.7h-.7zM316.8,196.3h.7v.7h-.7zM334.6,210.2h.7v.7h-.7zM310.5,205.4h.7v.7h-.7zM307.6,208.2h.7v.7h-.7zM319.7,201.7h.7v.7h-.7zM329.7,203.1h.7v.7h-.7zM318.2,207.4h.7v.7h-.7zM317.8,207.3h.7v.7h-.7zM320.2,207.0h.7v.7h-.7zM324.9,206.9h.7v.7h-.7zM312.5,212.1h.7v.7h-.7zM318.9,211.5h.7v.7h-.7zM315.6,201.8h.7v.7h-.7zM318.1,208.6h.7v.7h-.7zM316.9,205.1h.7v.7h-.7zM308.1,200.8h.7v.7h-.7zM321.9,202.6h.7v.7h-.7zM305.8,205.5h.7v.7h-.7zM312.7,212.4h.7v.7h-.7zM318.7,213.9h.7v.7h-.7zM325.3,205.3h.7v.7h-.7zM316.5,202.5h.7v.7h-.7zM323.6,193.7h.7v.7h-.7zM327.8,197.5h.7v.7h-.7zM318.2,189.9h.7v.7h-.7zM323.7,206.7h.7v.7h-.7zM322.3,204.6h.7v.7h-.7zM317.3,203.8h.7v.7h-.7zM329.5,201.0h.7v.7h-.7zM324.0,206.6h.7v.7h-.7zM318.3,204.2h.7v.7h-.7zM321.8,200.7h.7v.7h-.7zM338.9,201.0h.7v.7h-.7zM333.4,208.3h.7v.7h-.7zM304.4,204.3h.7v.7h-.7zM328.1,207.0h.7v.7h-.7zM313.2,204.3h.7v.7h-.7zM310.9,198.1h.7v.7h-.7zM318.3,204.0h.7v.7h-.7zM332.6,204.8h.7v.7h-.7zM328.3,197.3h.7v.7h-.7zM311.2,200.7h.7v.7h-.7zM333.7,196.6h.7v.7h-.7zM307.9,202.7h.7v.7h-.7zM329.4,195.2h.7v.7h-.7zM318.2,196.5h.7v.7h-.7zM331.4,206.4h.7v.7h-.7zM322.3,202.8h.7v.7h-.7zM318.3,203.7h.7v.7h-.7zM315.1,198.8h.7v.7h-.7zM311.5,203.1h.7v.7h-.7zM313.9,207.3h.7v.7h-.7zM324.3,209.0h.7v.7h-.7zM318.1,195.8h.7v.7h-.7zM312.9,208.6h.7v.7h-.7zM317.7,201.1h.7v.7h-.7zM315.6,202.7h.7v.7h-.7zM318.3,195.5h.7v.7h-.7zM315.4,208.0h.7v.7h-.7zM331.4,202.5h.7v.7h-.7zM316.1,209.7h.7v.7h-.7zM318.7,197.3h.7v.7h-.7zM319.1,206.4h.7v.7h-.7zM332.2,200.7h.7v.7h-.7zM324.3,201.4h.7v.7h-.7zM329.0,204.3h.7v.7h-.7zM322.1,198.3h.7v.7h-.7zM317.6,201.5h.7v.7h-.7zM320.0,202.0h.7v.7h-.7zM317.3,203.2h.7v.7h-.7zM322.0,196.7h.7v.7h-.7zM321.0,203.6h.7v.7h-.7zM320.3,195.8h.7v.7h-.7zM319.0,196.8h.7v.7h-.7zM322.8,209.4h.7v.7h-.7zM326.8,201.4h.7v.7h-.7zM315.9,200.3h.7v.7h-.7z" fill="#000" fill-opacity="0.17"/>
<path d="M343.7,195.4h.7v.7h-.7zM339.4,188.3h.7v.7h-.7zM337.9,195.0h.7v.7h-.7zM339.4,202.8h.7v.7h-.7zM335.4,192.9h.7v.7h-.7zM345.0,194.2h.7v.7h-.7zM341.2,198.7h.7v.7h-.7zM342.1,195.0h.7v.7h-.7zM346.5,203.9h.7v.7h-.7zM337.2,197.0h.7v.7h-.7zM346.6,197.2h.7v.7h-.7zM337.2,196.4h.7v.7h-.7zM346.1,194.2h.7v.7h-.7zM343.3,199.5h.7v.7h-.7zM338.9,200.2h.7v.7h-.7zM345.3,201.9h.7v.7h-.7zM346.6,192.2h.7v.7h-.7zM346.4,200.3h.7v.7h-.7zM346.8,194.7h.7v.7h-.7zM346.4,199.5h.7v.7h-.7zM336.4,203.0h.7v.7h-.7zM338.2,194.1h.7v.7h-.7zM344.0,195.7h.7v.7h-.7zM343.8,197.1h.7v.7h-.7zM343.4,201.2h.7v.7h-.7zM341.9,201.4h.7v.7h-.7zM346.2,194.8h.7v.7h-.7zM346.2,200.4h.7v.7h-.7zM342.7,202.4h.7v.7h-.7zM350.1,201.0h.7v.7h-.7zM334.9,199.8h.7v.7h-.7zM341.4,197.0h.7v.7h-.7zM343.7,196.8h.7v.7h-.7zM350.0,199.1h.7v.7h-.7zM342.2,201.1h.7v.7h-.7zM345.9,202.6h.7v.7h-.7zM345.1,197.9h.7v.7h-.7zM342.7,189.7h.7v.7h-.7zM335.0,202.1h.7v.7h-.7zM340.5,205.1h.7v.7h-.7zM350.8,193.2h.7v.7h-.7zM343.6,209.3h.7v.7h-.7zM338.3,199.6h.7v.7h-.7zM341.0,197.1h.7v.7h-.7zM340.7,198.0h.7v.7h-.7zM345.8,194.9h.7v.7h-.7zM344.5,195.3h.7v.7h-.7zM344.6,199.3h.7v.7h-.7zM338.3,198.6h.7v.7h-.7zM338.5,194.8h.7v.7h-.7zM347.7,191.0h.7v.7h-.7zM344.8,200.8h.7v.7h-.7zM339.2,202.3h.7v.7h-.7zM346.5,193.0h.7v.7h-.7zM344.6,199.9h.7v.7h-.7zM338.5,200.3h.7v.7h-.7zM345.7,195.3h.7v.7h-.7zM332.4,199.6h.7v.7h-.7zM338.5,191.4h.7v.7h-.7zM340.2,188.8h.7v.7h-.7zM340.4,203.9h.7v.7h-.7zM328.3,199.8h.7v.7h-.7zM337.6,196.5h.7v.7h-.7zM337.7,200.5h.7v.7h-.7zM342.0,195.0h.7v.7h-.7zM335.7,196.4h.7v.7h-.7zM347.7,193.4h.7v.7h-.7zM344.1,199.4h.7v.7h-.7zM332.4,202.4h.7v.7h-.7zM341.9,206.7h.7v.7h-.7zM350.5,197.1h.7v.7h-.7zM341.3,194.2h.7v.7h-.7zM335.4,201.2h.7v.7h-.7zM340.9,196.5h.7v.7h-.7zM341.3,200.7h.7v.7h-.7zM346.7,198.1h.7v.7h-.7zM341.1,198.5h.7v.7h-.7zM352.2,190.0h.7v.7h-.7zM336.4,199.9h.7v.7h-.7zM342.8,202.9h.7v.7h-.7zM348.5,205.8h.7v.7h-.7zM338.2,200.5h.7v.7h-.7zM340.9,201.9h.7v.7h-.7zM343.0,201.5h.7v.7h-.7zM338.5,198.7h.7v.7h-.7zM339.6,197.1h.7v.7h-.7zM339.9,194.1h.7v.7h-.7zM347.6,199.2h.7v.7h-.7zM347.5,194.2h.7v.7h-.7zM332.5,195.6h.7v.7h-.7zM341.4,201.2h.7v.7h-.7zM347.3,202.9h.7v.7h-.7zM349.7,201.0h.7v.7h-.7zM342.7,195.1h.7v.7h-.7zM345.5,196.1h.7v.7h-.7zM338.2,200.4h.7v.7h-.7zM343.2,201.5h.7v.7h-.7zM338.6,202.7h.7v.7h-.7zM343.9,197.4h.7v.7h-.7zM338.4,193.9h.7v.7h-.7zM335.4,203.6h.7v.7h-.7zM335.2,200.6h.7v.7h-.7zM340.9,195.8h.7v.7h-.7zM339.8,197.7h.7v.7h-.7zM346.6,200.3h.7v.7h-.7zM342.1,192.7h.7v.7h-.7zM333.4,205.4h.7v.7h-.7zM337.2,191.9h.7v.7h-.7zM347.6,192.2h.7v.7h-.7zM345.8,201.8h.7v.7h-.7zM343.3,201.9h.7v.7h-.7zM335.3,193.3h.7v.7h-.7zM341.2,198.1h.7v.7h-.7zM341.7,199.9h.7v.7h-.7zM338.5,189.7h.7v.7h-.7zM344.1,197.2h.7v.7h-.7zM346.1,206.3h.7v.7h-.7zM342.5,200.4h.7v.7h-.7zM337.7,201.7h.7v.7h-.7zM343.8,199.1h.7v.7h-.7z" fill="#000" fill-opacity="0.18"/>
<path d="M314.7,181.3h.7v.7h-.7zM313.3,184.4h.7v.7h-.7zM317.3,180.0h.7v.7h-.7zM310.7,187.8h.7v.7h-.7zM309.5,182.7h.7v.7h-.7zM318.1,188.5h.7v.7h-.7zM311.5,182.1h.7v.7h-.7zM308.8,182.8h.7v.7h-.7zM307.8,182.0h.7v.7h-.7zM311.8,183.6h.7v.7h-.7zM313.0,183.6h.7v.7h-.7zM306.3,185.0h.7v.7h-.7zM312.0,182.4h.7v.7h-.7zM310.0,184.2h.7v.7h-.7zM311.4,183.3h.7v.7h-.7zM314.1,185.6h.7v.7h-.7zM309.8,183.5h.7v.7h-.7zM306.7,183.2h.7v.7h-.7zM312.9,185.2h.7v.7h-.7zM311.7,183.4h.7v.7h-.7zM308.3,184.0h.7v.7h-.7zM306.8,183.8h.7v.7h-.7zM311.2,181.8h.7v.7h-.7zM312.4,183.1h.7v.7h-.7zM313.4,182.6h.7v.7h-.7zM313.0,186.6h.7v.7h-.7zM311.8,185.1h.7v.7h-.7zM308.6,182.8h.7v.7h-.7zM306.6,183.8h.7v.7h-.7zM311.4,184.3h.7v.7h-.7zM304.6,182.7h.7v.7h-.7zM321.1,185.1h.7v.7h-.7zM311.7,178.1h.7v.7h-.7zM307.5,184.6h.7v.7h-.7zM312.0,184.4h.7v.7h-.7zM314.8,183.7h.7v.7h-.7zM314.4,180.0h.7v.7h-.7zM320.9,182.9h.7v.7h-.7zM308.5,186.5h.7v.7h-.7zM313.4,185.4h.7v.7h-.7zM308.6,184.1h.7v.7h-.7zM313.8,181.3h.7v.7h-.7zM310.2,183.0h.7v.7h-.7zM309.9,182.2h.7v.7h-.7zM306.1,184.4h.7v.7h-.7zM312.0,185.8h.7v.7h-.7zM310.8,182.2h.7v.7h-.7zM305.4,183.7h.7v.7h-.7zM309.8,187.5h.7v.7h-.7zM320.0,186.6h.7v.7h-.7zM307.5,180.8h.7v.7h-.7zM310.1,181.8h.7v.7h-.7zM316.6,183.7h.7v.7h-.7zM309.5,183.5h.7v.7h-.7zM316.0,181.7h.7v.7h-.7zM312.9,180.9h.7v.7h-.7zM310.2,182.2h.7v.7h-.7zM312.3,183.8h.7v.7h-.7zM315.7,184.9h.7v.7h-.7zM308.7,180.9h.7v.7h-.7zM307.8,182.7h.7v.7h-.7zM310.1,182.0h.7v.7h-.7zM315.3,185.3h.7v.7h-.7zM310.0,182.5h.7v.7h-.7zM310.1,183.4h.7v.7h-.7zM310.9,180.3h.7v.7h-.7zM309.3,179.8h.7v.7h-.7zM311.2,184.8h.7v.7h-.7zM306.9,183.8h.7v.7h-.7zM308.6,182.2h.7v.7h-.7zM318.7,185.3h.7v.7h-.7zM312.9,182.7h.7v.7h-.7zM312.6,183.1h.7v.7h-.7zM312.8,181.8h.7v.7h-.7zM310.7,182.7h.7v.7h-.7zM305.5,186.8h.7v.7h-.7zM314.2,182.0h.7v.7h-.7zM305.3,182.1h.7v.7h-.7zM307.7,182.3h.7v.7h-.7zM305.1,181.9h.7v.7h-.7zM311.3,184.3h.7v.7h-.7zM307.1,181.5h.7v.7h-.7zM309.8,182.2h.7v.7h-.7zM313.8,184.9h.7v.7h-.7zM309.8,182.2h.7v.7h-.7zM318.0,187.2h.7v.7h-.7zM312.5,183.2h.7v.7h-.7zM315.0,186.4h.7v.7h-.7zM308.9,187.1h.7v.7h-.7zM310.4,185.7h.7v.7h-.7zM309.0,183.6h.7v.7h-.7zM309.2,183.6h.7v.7h-.7zM315.0,181.7h.7v.7h-.7zM309.8,184.6h.7v.7h-.7zM309.2,187.5h.7v.7h-.7zM305.2,188.5h.7v.7h-.7zM308.4,185.4h.7v.7h-.7zM317.4,184.6h.7v.7h-.7zM305.4,182.8h.7v.7h-.7zM311.3,184.6h.7v.7h-.7zM314.9,185.7h.7v.7h-.7zM316.8,181.6h.7v.7h-.7zM314.9,180.1h.7v.7h-.7zM311.6,181.4h.7v.7h-.7zM310.9,185.5h.7v.7h-.7zM304.7,181.1h.7v.7h-.7zM310.6,182.2h.7v.7h-.7zM311.3,182.3h.7v.7h-.7zM309.7,181.2h.7v.7h-.7zM316.1,182.9h.7v.7h-.7zM306.3,184.9h.7v.7h-.7zM312.9,183.9h.7v.7h-.7zM311.9,182.7h.7v.7h-.7zM310.5,179.1h.7v.7h-.7zM304.8,181.1h.7v.7h-.7zM312.1,185.9h.7v.7h-.7zM310.4,183.0h.7v.7h-.7zM315.5,182.8h.7v.7h-.7zM313.6,184.4h.7v.7h-.7zM305.7,184.1h.7v.7h-.7zM311.8,181.2h.7v.7h-.7zM306.9,181.0h.7v.7h-.7zM316.5,187.7h.7v.7h-.7zM313.8,186.6h.7v.7h-.7zM305.6,186.3h.7v.7h-.7zM318.8,186.7h.7v.7h-.7zM307.3,185.7h.7v.7h-.7zM310.6,185.6h.7v.7h-.7zM308.5,183.5h.7v.7h-.7zM308.7,184.5h.7v.7h-.7zM310.6,185.7h.7v.7h-.7zM314.3,184.3h.7v.7h-.7zM310.9,182.9h.7v.7h-.7zM311.0,185.0h.7v.7h-.7zM311.5,184.1h.7v.7h-.7zM310.9,183.4h.7v.7h-.7zM308.4,179.8h.7v.7h-.7zM313.3,184.6h.7v.7h-.7zM307.1,187.3h.7v.7h-.7zM306.4,185.5h.7v.7h-.7zM312.0,184.1h.7v.7h-.7zM315.5,185.3h.7v.7h-.7zM311.1,181.4h.7v.7h-.7zM306.1,183.9h.7v.7h-.7zM317.3,185.3h.7v.7h-.7zM310.9,184.2h.7v.7h-.7zM313.7,186.9h.7v.7h-.7zM308.0,185.0h.7v.7h-.7zM312.1,182.0h.7v.7h-.7zM307.0,186.0h.7v.7h-.7zM312.3,183.1h.7v.7h-.7zM311.4,185.5h.7v.7h-.7zM311.4,186.7h.7v.7h-.7zM310.0,181.9h.7v.7h-.7zM310.6,181.6h.7v.7h-.7zM309.6,186.0h.7v.7h-.7z" fill="#000" fill-opacity="0.26"/>
<path d="M311.20,181.00 L313.05,180.70 L315.17,180.42 L317.44,180.16 L319.76,179.95 L322.00,179.80 L324.27,179.74 L326.65,179.77 L328.97,179.83 L331.11,179.86 L332.90,179.80 L334.23,179.65 L335.20,179.44 L335.98,179.18 L336.75,178.90 L337.70,178.60 L338.86,178.23 L340.11,177.78 L341.39,177.33 L342.64,176.98 L343.80,176.80 L344.90,176.77 L345.99,176.83 L347.00,177.03 L347.89,177.40 L348.60,178.00 L349.13,178.89 L349.51,180.05 L349.75,181.36 L349.85,182.72 L349.80,184.00 L349.59,185.26 L349.21,186.58 L348.71,187.88 L348.09,189.08 L347.40,190.10 L346.65,190.90 L345.83,191.52 L344.90,192.05 L343.84,192.55 L342.60,193.10 L341.10,193.72 L339.35,194.36 L337.50,194.99 L335.70,195.58 L334.10,196.10 L332.76,196.59 L331.58,197.08 L330.47,197.50 L329.34,197.79 L328.10,197.90 L326.68,197.80 L325.13,197.53 L323.58,197.12 L322.13,196.63 L320.90,196.10 L319.97,195.51 L319.26,194.85 L318.66,194.11 L318.05,193.33 L317.30,192.50 L316.40,191.59 L315.43,190.58 L314.42,189.55 L313.39,188.56 L312.40,187.70 L311.40,186.97 L310.36,186.32 L309.34,185.73 L308.40,185.20 L307.60,184.70 L306.83,184.25 L306.06,183.86 L305.44,183.50 L305.10,183.16 L305.20,182.80 L305.79,182.42 L306.76,182.04 L308.05,181.67 L309.56,181.32 L311.20,181.00Z" fill="none" fill-opacity="1" stroke="#6a6a6a" stroke-width="0.55"/>
<path d="M319.70,184.00 L320.50,185.13 L320.88,186.66 L321.10,188.35 L321.40,189.98 L322.00,191.30 L322.96,192.33 L324.11,193.24 L325.40,193.98 L326.75,194.55 L328.10,194.90 L329.45,194.99 L330.84,194.82 L332.27,194.50 L333.76,194.09 L335.30,193.70 L337.02,193.34 L338.91,192.97 L340.79,192.53 L342.48,191.98 L343.80,191.30 L344.71,190.43 L345.34,189.40 L345.72,188.27 L345.93,187.12 L346.00,186.00 L345.96,184.80 L345.79,183.48 L345.43,182.21 L344.85,181.16 L344.00,180.50 L342.75,180.31 L341.14,180.48 L339.34,180.88 L337.57,181.43 L336.00,182.00 L334.66,182.73 L333.41,183.68 L332.23,184.68 L331.10,185.51 L330.00,186.00 L328.97,186.07 L328.02,185.84 L327.10,185.44 L326.11,184.95 L325.00,184.50 L323.72,184.01 L322.33,183.41 L320.88,182.81 L319.42,182.30 L318.00,182.00 L316.38,181.94 L314.53,182.06 L312.81,182.29 L311.58,182.56 L311.20,182.80 L312.02,182.92 L313.80,182.96 L316.01,183.06 L318.15,183.36 L319.70,184.00Z" fill="none" fill-opacity="1" stroke="#6a6a6a" stroke-width="0.55"/>
<path d="M327.00,189.50 L327.58,189.28 L328.21,188.62 L328.85,187.82 L329.46,187.18 L330.00,187.00 L330.54,187.42 L331.11,188.25 L331.61,189.27 L331.94,190.26 L332.00,191.00 L331.72,191.50 L331.16,191.90 L330.44,192.20 L329.68,192.40 L329.00,192.50 L328.38,192.53 L327.73,192.50 L327.09,192.34 L326.50,192.03 L326.00,191.50 L325.54,190.54 L325.10,189.19 L324.74,187.77 L324.52,186.60 L324.50,186.00 L324.74,186.22 L325.19,187.04 L325.77,188.10 L326.40,189.04 L327.00,189.50Z" fill="none" fill-opacity="1" stroke="#6a6a6a" stroke-width="0.55"/>
<path d="M343.50,199.50 L344.03,199.83 L344.54,200.38 L344.96,201.04 L345.20,201.72 L345.20,202.30 L344.85,202.88 L344.22,203.52 L343.43,204.10 L342.64,204.47 L342.00,204.50 L341.44,204.05 L340.85,203.20 L340.35,202.18 L340.03,201.21 L340.00,200.50 L340.38,200.05 L341.09,199.70 L341.97,199.48 L342.83,199.41 L343.50,199.50Z" fill="none" fill-opacity="1" stroke="#6a6a6a" stroke-width="0.55"/>
<ellipse cx="341.0" cy="184.5" rx="7.5" ry="4.6" transform="rotate(-15 341.0 184.5)" fill="#5a5a5a" fill-opacity="0.6" filter="url(#b1)"/>
<ellipse cx="342.8" cy="183.4" rx="6.00" ry="3.60" transform="rotate(-20 342.8 183.4)" fill="none" stroke="#7a7a7a" stroke-width="0.5"/>
<ellipse cx="342.8" cy="183.4" rx="8.70" ry="5.22" transform="rotate(-20 342.8 183.4)" fill="none" stroke="#8a8a8a" stroke-width="0.5"/>
<ellipse cx="342.8" cy="183.4" rx="3.0" ry="1.8" transform="rotate(-20 342.8 183.4)" fill="#000" fill-opacity="1" filter="url(#b2)"/>
<text x="307.60" y="171.75" font-size="7.9" text-anchor="start" fill="#151515" stroke-width="0.22" textLength="14.86" lengthAdjust="spacingAndGlyphs">17%</text>
<text x="357.40" y="172.15" font-size="7.9" text-anchor="end" fill="#151515" stroke-width="0.22" textLength="14.86" lengthAdjust="spacingAndGlyphs">76%</text>
<text x="307.60" y="213.45" font-size="7.9" text-anchor="start" fill="#151515" stroke-width="0.22" textLength="10.73" lengthAdjust="spacingAndGlyphs">4%</text>
<text x="355.50" y="213.45" font-size="7.9" text-anchor="end" fill="#151515" stroke-width="0.22" textLength="10.73" lengthAdjust="spacingAndGlyphs">3%</text>
<rect x="239.7" y="223.2" width="55.30" height="52.90" fill="none" stroke="#b8b8b8" stroke-width="0.9"/>
<line x1="243.2" y1="276.1" x2="243.2" y2="277.40000000000003" stroke="#b0b0b0" stroke-width="0.5" />
<line x1="238.39999999999998" y1="226.5" x2="239.7" y2="226.5" stroke="#b0b0b0" stroke-width="0.5" />
<line x1="246.6" y1="276.1" x2="246.6" y2="277.40000000000003" stroke="#b0b0b0" stroke-width="0.5" />
<line x1="238.39999999999998" y1="229.8" x2="239.7" y2="229.8" stroke="#b0b0b0" stroke-width="0.5" />
<line x1="250.1" y1="276.1" x2="250.1" y2="277.40000000000003" stroke="#b0b0b0" stroke-width="0.5" />
<line x1="238.39999999999998" y1="233.1" x2="239.7" y2="233.1" stroke="#b0b0b0" stroke-width="0.5" />
<line x1="253.5" y1="276.1" x2="253.5" y2="277.40000000000003" stroke="#b0b0b0" stroke-width="0.5" />
<line x1="238.39999999999998" y1="236.4" x2="239.7" y2="236.4" stroke="#b0b0b0" stroke-width="0.5" />
<line x1="257.0" y1="276.1" x2="257.0" y2="277.40000000000003" stroke="#b0b0b0" stroke-width="0.5" />
<line x1="238.39999999999998" y1="239.7" x2="239.7" y2="239.7" stroke="#b0b0b0" stroke-width="0.5" />
<line x1="260.4" y1="276.1" x2="260.4" y2="277.40000000000003" stroke="#b0b0b0" stroke-width="0.5" />
<line x1="238.39999999999998" y1="243.0" x2="239.7" y2="243.0" stroke="#b0b0b0" stroke-width="0.5" />
<line x1="263.9" y1="276.1" x2="263.9" y2="277.40000000000003" stroke="#b0b0b0" stroke-width="0.5" />
<line x1="238.39999999999998" y1="246.3" x2="239.7" y2="246.3" stroke="#b0b0b0" stroke-width="0.5" />
<line x1="267.4" y1="276.1" x2="267.4" y2="277.40000000000003" stroke="#b0b0b0" stroke-width="0.5" />
<line x1="238.39999999999998" y1="249.7" x2="239.7" y2="249.7" stroke="#b0b0b0" stroke-width="0.5" />
<line x1="270.8" y1="276.1" x2="270.8" y2="277.40000000000003" stroke="#b0b0b0" stroke-width="0.5" />
<line x1="238.39999999999998" y1="253.0" x2="239.7" y2="253.0" stroke="#b0b0b0" stroke-width="0.5" />
<line x1="274.3" y1="276.1" x2="274.3" y2="277.40000000000003" stroke="#b0b0b0" stroke-width="0.5" />
<line x1="238.39999999999998" y1="256.3" x2="239.7" y2="256.3" stroke="#b0b0b0" stroke-width="0.5" />
<line x1="277.7" y1="276.1" x2="277.7" y2="277.40000000000003" stroke="#b0b0b0" stroke-width="0.5" />
<line x1="238.39999999999998" y1="259.6" x2="239.7" y2="259.6" stroke="#b0b0b0" stroke-width="0.5" />
<line x1="281.2" y1="276.1" x2="281.2" y2="277.40000000000003" stroke="#b0b0b0" stroke-width="0.5" />
<line x1="238.39999999999998" y1="262.9" x2="239.7" y2="262.9" stroke="#b0b0b0" stroke-width="0.5" />
<line x1="284.6" y1="276.1" x2="284.6" y2="277.40000000000003" stroke="#b0b0b0" stroke-width="0.5" />
<line x1="238.39999999999998" y1="266.2" x2="239.7" y2="266.2" stroke="#b0b0b0" stroke-width="0.5" />
<line x1="288.1" y1="276.1" x2="288.1" y2="277.40000000000003" stroke="#b0b0b0" stroke-width="0.5" />
<line x1="238.39999999999998" y1="269.5" x2="239.7" y2="269.5" stroke="#b0b0b0" stroke-width="0.5" />
<line x1="291.5" y1="276.1" x2="291.5" y2="277.40000000000003" stroke="#b0b0b0" stroke-width="0.5" />
<line x1="238.39999999999998" y1="272.8" x2="239.7" y2="272.8" stroke="#b0b0b0" stroke-width="0.5" />
<line x1="268.6" y1="223.2" x2="268.6" y2="276.1" stroke="#c8c8c8" stroke-width="0.8" />
<line x1="239.7" y1="253.2" x2="295.0" y2="253.2" stroke="#c8c8c8" stroke-width="0.8" />
<path d="M267.7,247.9h.7v.7h-.7zM255.6,243.3h.7v.7h-.7zM246.0,247.1h.7v.7h-.7zM255.4,244.3h.7v.7h-.7zM250.5,250.7h.7v.7h-.7zM261.9,246.2h.7v.7h-.7zM255.9,249.8h.7v.7h-.7zM256.9,246.7h.7v.7h-.7zM241.5,241.0h.7v.7h-.7zM253.9,247.0h.7v.7h-.7zM247.1,247.3h.7v.7h-.7zM257.6,245.8h.7v.7h-.7zM242.3,250.3h.7v.7h-.7zM265.0,244.3h.7v.7h-.7zM269.5,246.2h.7v.7h-.7zM247.8,244.8h.7v.7h-.7zM241.3,249.4h.7v.7h-.7zM256.6,241.9h.7v.7h-.7zM258.6,240.9h.7v.7h-.7zM255.3,247.4h.7v.7h-.7zM254.6,242.6h.7v.7h-.7zM253.2,245.5h.7v.7h-.7zM254.5,250.5h.7v.7h-.7zM267.6,250.8h.7v.7h-.7zM249.0,243.8h.7v.7h-.7zM254.2,247.3h.7v.7h-.7zM268.4,242.3h.7v.7h-.7zM248.1,243.9h.7v.7h-.7zM257.9,245.8h.7v.7h-.7zM251.4,241.5h.7v.7h-.7zM258.9,246.0h.7v.7h-.7zM248.7,246.1h.7v.7h-.7zM260.3,241.6h.7v.7h-.7zM241.6,242.9h.7v.7h-.7zM247.0,236.9h.7v.7h-.7zM249.2,249.3h.7v.7h-.7zM251.4,249.1h.7v.7h-.7zM265.1,250.7h.7v.7h-.7zM250.0,243.5h.7v.7h-.7zM257.1,242.3h.7v.7h-.7zM251.1,241.0h.7v.7h-.7zM254.7,246.0h.7v.7h-.7zM267.0,247.1h.7v.7h-.7zM248.7,245.7h.7v.7h-.7zM243.7,246.1h.7v.7h-.7zM252.3,247.3h.7v.7h-.7zM261.5,240.0h.7v.7h-.7zM256.6,248.2h.7v.7h-.7zM244.4,251.7h.7v.7h-.7zM248.2,253.4h.7v.7h-.7zM260.3,248.9h.7v.7h-.7zM256.2,249.0h.7v.7h-.7zM245.7,243.6h.7v.7h-.7zM248.3,248.3h.7v.7h-.7zM258.8,242.0h.7v.7h-.7zM259.6,246.8h.7v.7h-.7zM255.6,247.4h.7v.7h-.7zM253.8,246.0h.7v.7h-.7zM262.5,243.0h.7v.7h-.7zM244.4,243.7h.7v.7h-.7zM262.3,245.0h.7v.7h-.7zM269.4,236.7h.7v.7h-.7zM248.3,244.7h.7v.7h-.7zM256.2,250.0h.7v.7h-.7zM252.5,242.9h.7v.7h-.7zM260.7,250.7h.7v.7h-.7zM256.4,243.5h.7v.7h-.7zM250.2,246.9h.7v.7h-.7zM254.2,245.3h.7v.7h-.7zM244.6,246.9h.7v.7h-.7zM248.7,246.3h.7v.7h-.7zM249.3,246.6h.7v.7h-.7zM260.0,246.7h.7v.7h-.7zM259.3,241.8h.7v.7h-.7zM257.7,246.9h.7v.7h-.7zM249.0,245.5h.7v.7h-.7zM250.7,239.2h.7v.7h-.7zM258.0,244.1h.7v.7h-.7zM256.2,245.3h.7v.7h-.7zM257.8,246.2h.7v.7h-.7zM251.7,247.5h.7v.7h-.7zM260.6,239.2h.7v.7h-.7zM254.2,244.2h.7v.7h-.7zM245.1,249.9h.7v.7h-.7zM261.7,242.9h.7v.7h-.7zM245.0,248.4h.7v.7h-.7zM248.9,245.0h.7v.7h-.7zM263.1,244.6h.7v.7h-.7zM253.0,251.2h.7v.7h-.7zM261.0,250.3h.7v.7h-.7zM259.0,249.6h.7v.7h-.7zM240.6,243.5h.7v.7h-.7zM240.7,252.7h.7v.7h-.7zM255.4,245.6h.7v.7h-.7zM247.9,242.9h.7v.7h-.7zM253.3,246.2h.7v.7h-.7zM242.7,245.8h.7v.7h-.7zM257.0,245.7h.7v.7h-.7zM258.9,243.5h.7v.7h-.7zM256.5,248.7h.7v.7h-.7zM258.4,247.1h.7v.7h-.7zM253.1,243.0h.7v.7h-.7zM258.4,244.8h.7v.7h-.7zM246.4,248.3h.7v.7h-.7zM241.1,244.3h.7v.7h-.7zM260.1,248.8h.7v.7h-.7zM250.9,246.2h.7v.7h-.7zM258.3,245.8h.7v.7h-.7zM247.8,247.3h.7v.7h-.7zM255.2,246.3h.7v.7h-.7zM262.9,246.9h.7v.7h-.7zM250.3,246.5h.7v.7h-.7zM269.5,243.8h.7v.7h-.7zM251.8,243.6h.7v.7h-.7zM256.8,242.2h.7v.7h-.7zM257.5,248.3h.7v.7h-.7zM247.7,243.4h.7v.7h-.7zM242.0,246.1h.7v.7h-.7zM245.0,244.1h.7v.7h-.7zM250.6,243.9h.7v.7h-.7zM260.6,250.8h.7v.7h-.7zM255.9,242.8h.7v.7h-.7zM249.6,246.6h.7v.7h-.7zM265.1,249.5h.7v.7h-.7zM251.6,246.4h.7v.7h-.7zM251.0,245.5h.7v.7h-.7zM244.5,240.7h.7v.7h-.7zM251.0,248.9h.7v.7h-.7zM260.1,240.4h.7v.7h-.7zM252.4,244.1h.7v.7h-.7zM256.3,242.7h.7v.7h-.7zM261.3,245.4h.7v.7h-.7zM258.6,248.6h.7v.7h-.7zM266.1,246.0h.7v.7h-.7zM262.3,247.2h.7v.7h-.7zM250.0,246.8h.7v.7h-.7zM262.4,249.9h.7v.7h-.7zM265.5,242.7h.7v.7h-.7zM260.6,241.9h.7v.7h-.7zM252.9,245.4h.7v.7h-.7zM259.0,246.9h.7v.7h-.7zM263.9,244.2h.7v.7h-.7zM260.7,247.2h.7v.7h-.7zM254.0,242.4h.7v.7h-.7zM258.5,246.9h.7v.7h-.7zM260.3,245.9h.7v.7h-.7zM251.9,247.2h.7v.7h-.7zM257.7,248.0h.7v.7h-.7zM269.1,244.1h.7v.7h-.7zM270.0,237.1h.7v.7h-.7zM261.6,243.5h.7v.7h-.7zM270.0,243.3h.7v.7h-.7zM262.4,243.0h.7v.7h-.7zM244.9,248.4h.7v.7h-.7zM260.9,243.9h.7v.7h-.7zM273.2,245.0h.7v.7h-.7zM266.5,243.0h.7v.7h-.7zM246.3,246.3h.7v.7h-.7zM245.9,247.4h.7v.7h-.7zM249.5,243.1h.7v.7h-.7zM255.7,245.3h.7v.7h-.7zM250.4,248.4h.7v.7h-.7zM256.3,247.1h.7v.7h-.7zM264.6,245.8h.7v.7h-.7zM260.7,244.7h.7v.7h-.7zM258.8,247.6h.7v.7h-.7zM249.6,241.5h.7v.7h-.7zM243.8,243.2h.7v.7h-.7z" fill="#000" fill-opacity="0.18"/>
<path d="M262.4,256.5h.7v.7h-.7zM255.6,258.9h.7v.7h-.7zM263.8,262.5h.7v.7h-.7zM253.2,259.2h.7v.7h-.7zM263.6,253.2h.7v.7h-.7zM259.0,253.3h.7v.7h-.7zM256.2,258.7h.7v.7h-.7zM244.4,253.5h.7v.7h-.7zM251.6,257.4h.7v.7h-.7zM252.1,258.5h.7v.7h-.7zM251.2,254.9h.7v.7h-.7zM262.8,258.3h.7v.7h-.7zM259.2,256.8h.7v.7h-.7zM266.0,262.5h.7v.7h-.7zM255.0,254.1h.7v.7h-.7zM249.7,263.9h.7v.7h-.7zM250.9,251.7h.7v.7h-.7zM260.1,261.2h.7v.7h-.7zM248.2,256.5h.7v.7h-.7zM246.6,254.2h.7v.7h-.7zM270.9,257.7h.7v.7h-.7zM255.9,257.3h.7v.7h-.7zM260.2,256.6h.7v.7h-.7zM248.5,252.3h.7v.7h-.7zM274.0,254.0h.7v.7h-.7zM267.5,254.1h.7v.7h-.7zM268.3,259.8h.7v.7h-.7zM256.3,265.0h.7v.7h-.7zM250.6,256.1h.7v.7h-.7zM251.2,253.9h.7v.7h-.7zM255.1,253.2h.7v.7h-.7zM255.4,263.3h.7v.7h-.7zM244.2,252.0h.7v.7h-.7zM250.4,255.1h.7v.7h-.7zM266.0,259.9h.7v.7h-.7zM261.8,257.8h.7v.7h-.7zM277.0,252.5h.7v.7h-.7zM248.8,256.9h.7v.7h-.7zM259.6,256.1h.7v.7h-.7zM251.3,251.8h.7v.7h-.7zM255.8,254.2h.7v.7h-.7zM254.2,252.7h.7v.7h-.7zM268.6,258.8h.7v.7h-.7zM272.7,254.9h.7v.7h-.7zM258.5,256.0h.7v.7h-.7zM258.2,256.0h.7v.7h-.7zM256.7,249.2h.7v.7h-.7zM255.8,259.7h.7v.7h-.7zM242.5,255.6h.7v.7h-.7zM262.5,262.0h.7v.7h-.7zM257.3,258.8h.7v.7h-.7zM271.9,262.1h.7v.7h-.7zM254.4,254.6h.7v.7h-.7zM266.1,257.9h.7v.7h-.7zM253.7,256.1h.7v.7h-.7zM260.5,256.2h.7v.7h-.7zM256.0,256.1h.7v.7h-.7zM246.1,263.9h.7v.7h-.7zM267.7,263.0h.7v.7h-.7zM256.9,257.5h.7v.7h-.7zM262.6,260.3h.7v.7h-.7zM243.5,258.4h.7v.7h-.7zM250.1,256.7h.7v.7h-.7zM252.7,263.8h.7v.7h-.7zM262.3,256.9h.7v.7h-.7zM269.1,256.7h.7v.7h-.7zM252.2,256.3h.7v.7h-.7zM255.1,257.2h.7v.7h-.7zM264.7,256.5h.7v.7h-.7zM257.5,261.0h.7v.7h-.7zM260.3,260.8h.7v.7h-.7zM259.1,251.8h.7v.7h-.7zM249.1,250.4h.7v.7h-.7zM267.0,258.6h.7v.7h-.7zM254.2,253.1h.7v.7h-.7zM260.9,256.5h.7v.7h-.7zM260.5,253.7h.7v.7h-.7zM249.2,263.2h.7v.7h-.7zM250.4,256.9h.7v.7h-.7zM268.6,249.7h.7v.7h-.7zM263.6,257.3h.7v.7h-.7zM256.9,258.1h.7v.7h-.7zM248.6,248.2h.7v.7h-.7zM273.0,255.9h.7v.7h-.7zM265.1,261.4h.7v.7h-.7zM260.3,258.8h.7v.7h-.7zM263.6,263.2h.7v.7h-.7zM261.9,262.0h.7v.7h-.7zM255.7,255.3h.7v.7h-.7zM258.7,258.6h.7v.7h-.7zM262.3,264.7h.7v.7h-.7zM264.7,257.3h.7v.7h-.7zM273.8,258.3h.7v.7h-.7zM260.8,259.0h.7v.7h-.7zM255.4,252.7h.7v.7h-.7zM259.1,255.8h.7v.7h-.7zM251.2,257.5h.7v.7h-.7zM256.4,254.7h.7v.7h-.7zM244.0,256.3h.7v.7h-.7zM271.9,260.5h.7v.7h-.7zM266.6,256.9h.7v.7h-.7zM266.4,254.3h.7v.7h-.7zM254.4,259.1h.7v.7h-.7zM246.7,257.2h.7v.7h-.7zM260.4,263.7h.7v.7h-.7zM252.5,258.7h.7v.7h-.7zM252.9,254.9h.7v.7h-.7zM267.1,259.1h.7v.7h-.7zM259.3,266.8h.7v.7h-.7zM262.3,252.1h.7v.7h-.7zM256.4,256.8h.7v.7h-.7zM270.7,253.5h.7v.7h-.7zM261.4,260.9h.7v.7h-.7zM251.6,257.4h.7v.7h-.7zM242.1,257.4h.7v.7h-.7zM240.6,255.5h.7v.7h-.7zM271.6,258.6h.7v.7h-.7zM258.4,257.6h.7v.7h-.7zM275.1,259.2h.7v.7h-.7zM266.3,255.3h.7v.7h-.7zM254.6,252.9h.7v.7h-.7zM256.7,254.3h.7v.7h-.7zM265.8,259.6h.7v.7h-.7zM257.1,254.9h.7v.7h-.7zM260.5,259.6h.7v.7h-.7zM259.3,252.9h.7v.7h-.7zM256.3,255.1h.7v.7h-.7zM262.7,249.7h.7v.7h-.7zM253.5,260.7h.7v.7h-.7zM259.7,253.7h.7v.7h-.7zM261.6,258.1h.7v.7h-.7zM251.0,259.8h.7v.7h-.7zM263.4,256.5h.7v.7h-.7zM265.5,252.4h.7v.7h-.7zM264.1,256.3h.7v.7h-.7zM250.6,254.7h.7v.7h-.7zM267.3,254.8h.7v.7h-.7zM255.3,254.4h.7v.7h-.7zM251.8,260.8h.7v.7h-.7zM275.5,262.3h.7v.7h-.7zM262.1,260.0h.7v.7h-.7zM255.3,255.1h.7v.7h-.7zM248.8,262.7h.7v.7h-.7zM255.4,254.2h.7v.7h-.7zM253.0,257.8h.7v.7h-.7zM253.7,257.1h.7v.7h-.7zM259.4,262.3h.7v.7h-.7zM248.2,258.2h.7v.7h-.7zM252.6,255.3h.7v.7h-.7zM270.9,259.5h.7v.7h-.7zM255.0,259.0h.7v.7h-.7zM257.9,261.4h.7v.7h-.7zM254.2,259.0h.7v.7h-.7zM256.4,257.1h.7v.7h-.7zM256.9,254.6h.7v.7h-.7zM258.9,260.9h.7v.7h-.7zM253.3,255.5h.7v.7h-.7zM261.0,254.1h.7v.7h-.7zM264.9,259.8h.7v.7h-.7zM249.5,260.3h.7v.7h-.7zM265.5,252.3h.7v.7h-.7zM252.7,256.7h.7v.7h-.7zM255.2,259.9h.7v.7h-.7zM265.8,259.4h.7v.7h-.7zM266.7,260.7h.7v.7h-.7zM257.5,255.3h.7v.7h-.7zM252.3,260.3h.7v.7h-.7zM265.1,261.1h.7v.7h-.7zM255.5,255.5h.7v.7h-.7zM260.2,262.0h.7v.7h-.7zM260.9,257.9h.7v.7h-.7zM251.6,258.8h.7v.7h-.7zM262.3,253.3h.7v.7h-.7zM271.9,253.4h.7v.7h-.7zM265.4,256.2h.7v.7h-.7zM259.4,253.9h.7v.7h-.7zM253.7,259.8h.7v.7h-.7zM256.6,255.7h.7v.7h-.7zM265.1,259.9h.7v.7h-.7zM259.4,258.0h.7v.7h-.7zM271.7,256.4h.7v.7h-.7zM261.2,258.7h.7v.7h-.7zM247.1,249.4h.7v.7h-.7zM259.1,260.5h.7v.7h-.7zM259.7,255.0h.7v.7h-.7zM253.0,260.3h.7v.7h-.7zM255.8,250.7h.7v.7h-.7zM263.5,258.0h.7v.7h-.7zM261.1,261.2h.7v.7h-.7zM268.5,259.3h.7v.7h-.7zM256.7,248.7h.7v.7h-.7zM260.4,256.5h.7v.7h-.7zM268.5,262.1h.7v.7h-.7zM261.9,262.4h.7v.7h-.7zM257.5,256.9h.7v.7h-.7zM251.4,255.8h.7v.7h-.7zM259.8,261.2h.7v.7h-.7zM252.3,260.2h.7v.7h-.7zM276.5,251.8h.7v.7h-.7zM256.1,257.1h.7v.7h-.7zM266.0,264.9h.7v.7h-.7zM267.8,256.9h.7v.7h-.7zM251.4,256.8h.7v.7h-.7zM257.8,258.0h.7v.7h-.7zM251.1,263.1h.7v.7h-.7zM252.4,259.7h.7v.7h-.7zM259.8,252.7h.7v.7h-.7zM258.6,257.1h.7v.7h-.7zM256.6,260.2h.7v.7h-.7zM254.4,267.1h.7v.7h-.7zM267.0,253.4h.7v.7h-.7zM260.1,257.4h.7v.7h-.7zM250.4,251.4h.7v.7h-.7zM243.4,267.2h.7v.7h-.7zM270.7,254.9h.7v.7h-.7z" fill="#000" fill-opacity="0.18"/>
<path d="M283.4,245.9h.7v.7h-.7zM278.8,258.5h.7v.7h-.7zM272.6,252.8h.7v.7h-.7zM271.9,255.2h.7v.7h-.7zM281.2,260.0h.7v.7h-.7zM277.7,260.6h.7v.7h-.7zM269.0,265.0h.7v.7h-.7zM275.8,248.5h.7v.7h-.7zM274.5,251.8h.7v.7h-.7zM276.4,256.6h.7v.7h-.7zM266.8,261.3h.7v.7h-.7zM282.9,249.9h.7v.7h-.7zM281.9,261.3h.7v.7h-.7zM280.0,263.1h.7v.7h-.7zM270.5,258.6h.7v.7h-.7zM272.0,266.8h.7v.7h-.7zM272.2,248.9h.7v.7h-.7zM280.5,258.1h.7v.7h-.7zM276.1,255.7h.7v.7h-.7zM278.5,263.6h.7v.7h-.7zM273.2,252.2h.7v.7h-.7zM273.7,254.6h.7v.7h-.7zM276.1,248.6h.7v.7h-.7zM277.2,248.7h.7v.7h-.7zM274.8,253.8h.7v.7h-.7zM275.0,262.4h.7v.7h-.7zM282.5,260.4h.7v.7h-.7zM282.3,253.6h.7v.7h-.7zM281.6,254.7h.7v.7h-.7zM276.9,256.4h.7v.7h-.7zM270.7,252.0h.7v.7h-.7zM275.4,256.8h.7v.7h-.7zM275.5,250.8h.7v.7h-.7zM271.4,255.1h.7v.7h-.7zM271.3,249.1h.7v.7h-.7zM275.6,255.9h.7v.7h-.7zM272.7,246.1h.7v.7h-.7zM277.1,259.1h.7v.7h-.7zM274.4,253.1h.7v.7h-.7zM266.7,259.5h.7v.7h-.7zM271.6,258.6h.7v.7h-.7zM273.6,254.3h.7v.7h-.7zM275.3,246.0h.7v.7h-.7zM287.0,247.2h.7v.7h-.7zM276.4,250.9h.7v.7h-.7zM275.1,261.9h.7v.7h-.7zM268.5,254.3h.7v.7h-.7zM278.0,255.6h.7v.7h-.7zM277.6,251.3h.7v.7h-.7zM269.4,248.4h.7v.7h-.7zM274.4,258.7h.7v.7h-.7zM276.3,263.0h.7v.7h-.7zM276.4,256.0h.7v.7h-.7zM276.8,246.3h.7v.7h-.7zM278.3,249.4h.7v.7h-.7zM274.5,266.7h.7v.7h-.7zM271.1,255.6h.7v.7h-.7zM277.2,255.6h.7v.7h-.7zM276.0,252.2h.7v.7h-.7zM284.0,245.0h.7v.7h-.7zM271.9,262.4h.7v.7h-.7zM278.2,251.2h.7v.7h-.7zM272.4,253.8h.7v.7h-.7zM286.6,257.5h.7v.7h-.7zM271.9,256.2h.7v.7h-.7zM273.5,262.5h.7v.7h-.7zM277.2,261.3h.7v.7h-.7zM276.6,265.2h.7v.7h-.7zM277.6,256.4h.7v.7h-.7zM271.9,252.9h.7v.7h-.7zM277.6,252.5h.7v.7h-.7zM286.0,254.9h.7v.7h-.7zM273.0,259.9h.7v.7h-.7zM273.9,257.0h.7v.7h-.7zM275.6,251.4h.7v.7h-.7zM281.6,255.5h.7v.7h-.7zM280.4,253.3h.7v.7h-.7zM270.3,248.8h.7v.7h-.7zM273.9,254.1h.7v.7h-.7zM276.2,257.6h.7v.7h-.7zM271.0,256.1h.7v.7h-.7zM271.1,251.6h.7v.7h-.7zM286.3,261.4h.7v.7h-.7zM274.5,264.0h.7v.7h-.7zM281.7,259.4h.7v.7h-.7zM281.9,253.8h.7v.7h-.7zM275.5,250.7h.7v.7h-.7zM278.3,248.7h.7v.7h-.7zM274.0,257.3h.7v.7h-.7zM274.0,256.7h.7v.7h-.7zM283.3,250.1h.7v.7h-.7zM281.6,251.6h.7v.7h-.7zM272.3,256.1h.7v.7h-.7zM280.1,251.4h.7v.7h-.7zM273.1,252.8h.7v.7h-.7zM273.1,255.9h.7v.7h-.7zM273.2,253.7h.7v.7h-.7zM277.4,252.9h.7v.7h-.7zM280.6,251.6h.7v.7h-.7zM272.9,265.2h.7v.7h-.7z" fill="#000" fill-opacity="0.18"/>
<path d="M284.4,244.3h.7v.7h-.7zM282.7,246.8h.7v.7h-.7zM278.9,250.9h.7v.7h-.7zM283.3,251.9h.7v.7h-.7zM274.6,254.2h.7v.7h-.7zM277.9,243.7h.7v.7h-.7zM276.5,246.1h.7v.7h-.7zM273.0,247.2h.7v.7h-.7zM277.9,238.9h.7v.7h-.7zM271.8,237.5h.7v.7h-.7zM278.0,249.8h.7v.7h-.7zM278.9,247.3h.7v.7h-.7zM276.6,251.7h.7v.7h-.7zM278.1,252.7h.7v.7h-.7zM278.8,244.9h.7v.7h-.7zM283.2,242.3h.7v.7h-.7zM282.8,245.4h.7v.7h-.7zM281.5,251.3h.7v.7h-.7zM280.5,246.1h.7v.7h-.7zM279.1,248.2h.7v.7h-.7zM278.5,245.4h.7v.7h-.7zM268.9,237.9h.7v.7h-.7zM278.0,246.2h.7v.7h-.7zM284.3,246.5h.7v.7h-.7zM287.3,252.2h.7v.7h-.7zM276.5,243.6h.7v.7h-.7zM280.3,242.8h.7v.7h-.7zM281.7,253.7h.7v.7h-.7zM283.7,250.6h.7v.7h-.7zM274.4,249.9h.7v.7h-.7zM279.7,239.2h.7v.7h-.7zM280.7,248.4h.7v.7h-.7zM275.0,258.5h.7v.7h-.7zM276.2,247.8h.7v.7h-.7zM280.4,235.9h.7v.7h-.7zM279.5,244.1h.7v.7h-.7zM277.1,243.4h.7v.7h-.7zM280.9,239.4h.7v.7h-.7zM281.6,248.6h.7v.7h-.7zM278.0,246.0h.7v.7h-.7zM280.7,252.0h.7v.7h-.7zM280.4,245.7h.7v.7h-.7zM275.6,249.9h.7v.7h-.7zM280.8,245.8h.7v.7h-.7zM279.2,235.9h.7v.7h-.7zM287.2,241.2h.7v.7h-.7zM270.7,241.7h.7v.7h-.7zM283.5,247.8h.7v.7h-.7zM278.1,247.2h.7v.7h-.7zM278.6,244.8h.7v.7h-.7zM284.6,247.4h.7v.7h-.7zM274.5,240.2h.7v.7h-.7zM282.6,242.2h.7v.7h-.7zM278.7,254.7h.7v.7h-.7zM275.7,237.3h.7v.7h-.7zM272.3,248.6h.7v.7h-.7zM274.3,248.9h.7v.7h-.7zM280.9,250.6h.7v.7h-.7zM281.8,244.7h.7v.7h-.7zM276.6,254.6h.7v.7h-.7zM279.6,249.3h.7v.7h-.7zM279.5,242.1h.7v.7h-.7zM285.1,244.0h.7v.7h-.7zM278.7,244.7h.7v.7h-.7zM284.0,250.0h.7v.7h-.7zM278.6,250.7h.7v.7h-.7zM274.5,242.6h.7v.7h-.7zM279.4,250.3h.7v.7h-.7zM283.7,250.6h.7v.7h-.7zM276.0,247.1h.7v.7h-.7zM280.9,249.6h.7v.7h-.7zM276.3,243.1h.7v.7h-.7zM276.6,255.2h.7v.7h-.7zM281.1,242.0h.7v.7h-.7zM284.0,243.8h.7v.7h-.7zM283.8,251.6h.7v.7h-.7zM275.5,244.6h.7v.7h-.7zM273.8,251.8h.7v.7h-.7zM282.8,249.9h.7v.7h-.7zM281.4,246.3h.7v.7h-.7zM280.5,240.3h.7v.7h-.7zM281.7,248.5h.7v.7h-.7zM283.0,254.8h.7v.7h-.7zM284.0,252.0h.7v.7h-.7zM281.8,244.5h.7v.7h-.7zM288.6,248.0h.7v.7h-.7zM278.9,246.5h.7v.7h-.7zM275.1,248.5h.7v.7h-.7zM278.8,248.4h.7v.7h-.7zM279.1,250.4h.7v.7h-.7zM274.8,240.3h.7v.7h-.7zM275.1,244.1h.7v.7h-.7zM274.0,248.5h.7v.7h-.7zM279.5,240.3h.7v.7h-.7zM271.7,250.4h.7v.7h-.7zM288.0,238.5h.7v.7h-.7zM279.0,244.7h.7v.7h-.7zM285.7,251.6h.7v.7h-.7zM281.5,252.5h.7v.7h-.7zM275.9,250.1h.7v.7h-.7zM275.2,250.4h.7v.7h-.7zM277.6,249.3h.7v.7h-.7zM275.8,250.3h.7v.7h-.7zM278.1,244.3h.7v.7h-.7zM273.4,243.5h.7v.7h-.7zM278.8,249.6h.7v.7h-.7zM279.1,248.0h.7v.7h-.7zM282.7,243.1h.7v.7h-.7zM282.2,250.1h.7v.7h-.7zM281.9,247.7h.7v.7h-.7zM284.3,255.3h.7v.7h-.7zM277.9,245.5h.7v.7h-.7zM285.3,253.0h.7v.7h-.7zM284.2,244.4h.7v.7h-.7zM283.3,247.6h.7v.7h-.7zM281.0,249.7h.7v.7h-.7zM281.7,246.4h.7v.7h-.7zM284.2,242.0h.7v.7h-.7zM289.3,253.4h.7v.7h-.7zM287.2,244.0h.7v.7h-.7zM274.5,240.5h.7v.7h-.7zM285.1,257.8h.7v.7h-.7zM269.8,243.5h.7v.7h-.7zM283.6,248.1h.7v.7h-.7zM272.7,250.5h.7v.7h-.7zM276.5,239.8h.7v.7h-.7zM279.2,239.4h.7v.7h-.7zM283.6,245.7h.7v.7h-.7zM272.7,241.5h.7v.7h-.7zM277.7,247.3h.7v.7h-.7zM277.2,244.7h.7v.7h-.7zM280.6,251.3h.7v.7h-.7zM275.5,248.0h.7v.7h-.7zM280.7,246.0h.7v.7h-.7zM286.0,252.1h.7v.7h-.7zM278.5,248.7h.7v.7h-.7zM268.1,251.4h.7v.7h-.7zM278.7,240.8h.7v.7h-.7zM279.0,236.2h.7v.7h-.7z" fill="#000" fill-opacity="0.2"/>
<path d="M244.1,243.9h.7v.7h-.7zM240.5,243.9h.7v.7h-.7zM241.6,243.3h.7v.7h-.7zM243.5,245.0h.7v.7h-.7zM244.0,243.8h.7v.7h-.7zM241.5,244.1h.7v.7h-.7zM242.2,245.1h.7v.7h-.7zM244.7,245.4h.7v.7h-.7zM242.3,246.2h.7v.7h-.7zM240.8,242.9h.7v.7h-.7zM243.0,244.7h.7v.7h-.7zM242.2,245.6h.7v.7h-.7zM241.5,244.4h.7v.7h-.7zM242.6,245.3h.7v.7h-.7zM243.5,244.7h.7v.7h-.7zM242.4,241.6h.7v.7h-.7zM243.9,242.6h.7v.7h-.7zM242.0,247.6h.7v.7h-.7zM241.5,242.6h.7v.7h-.7zM244.4,243.8h.7v.7h-.7zM241.8,244.3h.7v.7h-.7zM243.1,245.4h.7v.7h-.7zM241.8,245.9h.7v.7h-.7zM240.7,245.3h.7v.7h-.7zM241.1,245.4h.7v.7h-.7zM241.0,244.0h.7v.7h-.7zM244.2,243.2h.7v.7h-.7zM241.6,244.0h.7v.7h-.7zM241.8,247.1h.7v.7h-.7zM240.5,244.2h.7v.7h-.7zM242.3,243.4h.7v.7h-.7zM242.0,245.1h.7v.7h-.7zM240.6,245.9h.7v.7h-.7zM242.5,248.3h.7v.7h-.7zM245.8,243.8h.7v.7h-.7zM243.6,244.8h.7v.7h-.7z" fill="#000" fill-opacity="0.5"/>
<path d="M252.70,242.70 L253.69,243.20 L254.22,243.94 L254.28,244.76 L253.84,245.50 L252.90,246.00 L251.06,246.26 L248.33,246.40 L245.30,246.40 L242.56,246.26 L240.70,246.00 L239.73,245.50 L239.25,244.76 L239.25,243.94 L239.74,243.20 L240.70,242.70 L242.52,242.44 L245.20,242.30 L248.17,242.30 L250.86,242.44 L252.70,242.70Z" fill="none" fill-opacity="1" stroke="#6a6a6a" stroke-width="0.55"/>
<path d="M265.40,243.60 L266.26,244.09 L266.68,244.79 L266.68,245.56 L266.26,246.24 L265.40,246.70 L263.77,246.92 L261.38,247.00 L258.72,246.95 L256.33,246.78 L254.70,246.50 L253.84,246.01 L253.42,245.31 L253.42,244.54 L253.84,243.86 L254.70,243.40 L256.33,243.18 L258.72,243.10 L261.38,243.15 L263.77,243.32 L265.40,243.60Z" fill="none" fill-opacity="1" stroke="#6a6a6a" stroke-width="0.55"/>
<path d="M255.00,254.60 L255.84,254.66 L256.71,254.78 L257.53,254.97 L258.22,255.21 L258.70,255.50 L259.03,255.90 L259.26,256.42 L259.30,256.96 L259.08,257.45 L258.50,257.80 L257.34,258.02 L255.64,258.18 L253.76,258.24 L252.06,258.19 L250.90,258.00 L250.31,257.60 L250.07,256.99 L250.10,256.31 L250.33,255.67 L250.70,255.20 L251.28,254.92 L252.12,254.73 L253.11,254.63 L254.11,254.59 L255.00,254.60Z" fill="none" fill-opacity="1" stroke="#6a6a6a" stroke-width="0.55"/>
<path d="M268.70,255.40 L269.28,255.80 L269.58,256.38 L269.58,257.02 L269.28,257.60 L268.70,258.00 L267.59,258.21 L265.96,258.31 L264.14,258.31 L262.51,258.21 L261.40,258.00 L260.82,257.60 L260.52,257.02 L260.52,256.38 L260.82,255.80 L261.40,255.40 L262.51,255.19 L264.14,255.09 L265.96,255.09 L267.59,255.19 L268.70,255.40Z" fill="none" fill-opacity="1" stroke="#6a6a6a" stroke-width="0.55"/>
<path d="M272.80,240.00 L274.57,239.24 L276.75,238.28 L279.03,237.31 L281.15,236.49 L282.80,236.00 L283.95,235.79 L284.79,235.73 L285.38,235.92 L285.80,236.44 L286.10,237.40 L286.26,238.99 L286.24,241.16 L286.08,243.60 L285.82,245.98 L285.50,248.00 L285.09,249.63 L284.57,251.09 L283.98,252.40 L283.37,253.60 L282.80,254.70 L282.28,255.72 L281.78,256.62 L281.27,257.42 L280.72,258.12 L280.10,258.70 L279.37,259.20 L278.56,259.60 L277.71,259.89 L276.88,260.03 L276.10,260.00 L275.35,259.77 L274.60,259.38 L273.90,258.83 L273.28,258.16 L272.80,257.40 L272.52,256.50 L272.40,255.44 L272.36,254.29 L272.29,253.12 L272.10,252.00 L271.77,250.92 L271.36,249.84 L270.90,248.77 L270.44,247.72 L270.00,246.70 L269.48,245.68 L268.87,244.65 L268.31,243.66 L267.96,242.76 L268.00,242.00 L268.44,241.46 L269.18,241.10 L270.18,240.81 L271.40,240.48 L272.80,240.00Z" fill="none" fill-opacity="1" stroke="#6a6a6a" stroke-width="0.55"/>
<path d="M279.00,239.50 L280.16,238.98 L281.35,238.72 L282.45,238.72 L283.37,238.98 L284.00,239.50 L284.28,240.43 L284.27,241.78 L284.08,243.31 L283.79,244.79 L283.50,246.00 L283.18,246.88 L282.77,247.59 L282.31,248.20 L281.84,248.78 L281.40,249.40 L281.03,250.13 L280.69,250.92 L280.34,251.67 L279.93,252.30 L279.40,252.70 L278.71,252.90 L277.88,252.96 L277.00,252.85 L276.14,252.54 L275.40,252.00 L274.65,251.15 L273.84,250.01 L273.14,248.69 L272.73,247.32 L272.80,246.00 L273.50,244.63 L274.70,243.12 L276.18,241.66 L277.70,240.39 L279.00,239.50Z" fill="none" fill-opacity="1" stroke="#6a6a6a" stroke-width="0.55"/>
<ellipse cx="279.8" cy="244.3" rx="7.0" ry="4.6" transform="rotate(-45 279.8 244.3)" fill="#5a5a5a" fill-opacity="0.55" filter="url(#b1)"/>
<ellipse cx="279.6" cy="244.2" rx="6.80" ry="4.00" transform="rotate(-45 279.6 244.2)" fill="none" stroke="#7a7a7a" stroke-width="0.5"/>
<ellipse cx="279.6" cy="244.2" rx="9.86" ry="5.80" transform="rotate(-45 279.6 244.2)" fill="none" stroke="#8a8a8a" stroke-width="0.5"/>
<ellipse cx="279.6" cy="244.2" rx="3.4" ry="2.0" transform="rotate(-45 279.6 244.2)" fill="#000" fill-opacity="1" filter="url(#b2)"/>
<text x="243.60" y="232.35" font-size="7.9" text-anchor="start" fill="#151515" stroke-width="0.22" textLength="10.73" lengthAdjust="spacingAndGlyphs">2%</text>
<text x="292.80" y="232.15" font-size="7.9" text-anchor="end" fill="#151515" stroke-width="0.22" textLength="14.86" lengthAdjust="spacingAndGlyphs">82%</text>
<text x="243.60" y="274.05" font-size="7.9" text-anchor="start" fill="#151515" stroke-width="0.22" textLength="10.73" lengthAdjust="spacingAndGlyphs">2%</text>
<text x="292.50" y="273.85" font-size="7.9" text-anchor="end" fill="#151515" stroke-width="0.22" textLength="14.86" lengthAdjust="spacingAndGlyphs">14%</text>
<rect x="304.4" y="222.9" width="53.60" height="53.60" fill="none" stroke="#b8b8b8" stroke-width="0.9"/>
<line x1="307.8" y1="276.5" x2="307.8" y2="277.8" stroke="#b0b0b0" stroke-width="0.5" />
<line x1="303.09999999999997" y1="226.2" x2="304.4" y2="226.2" stroke="#b0b0b0" stroke-width="0.5" />
<line x1="311.1" y1="276.5" x2="311.1" y2="277.8" stroke="#b0b0b0" stroke-width="0.5" />
<line x1="303.09999999999997" y1="229.6" x2="304.4" y2="229.6" stroke="#b0b0b0" stroke-width="0.5" />
<line x1="314.4" y1="276.5" x2="314.4" y2="277.8" stroke="#b0b0b0" stroke-width="0.5" />
<line x1="303.09999999999997" y1="233.0" x2="304.4" y2="233.0" stroke="#b0b0b0" stroke-width="0.5" />
<line x1="317.8" y1="276.5" x2="317.8" y2="277.8" stroke="#b0b0b0" stroke-width="0.5" />
<line x1="303.09999999999997" y1="236.3" x2="304.4" y2="236.3" stroke="#b0b0b0" stroke-width="0.5" />
<line x1="321.1" y1="276.5" x2="321.1" y2="277.8" stroke="#b0b0b0" stroke-width="0.5" />
<line x1="303.09999999999997" y1="239.7" x2="304.4" y2="239.7" stroke="#b0b0b0" stroke-width="0.5" />
<line x1="324.5" y1="276.5" x2="324.5" y2="277.8" stroke="#b0b0b0" stroke-width="0.5" />
<line x1="303.09999999999997" y1="243.0" x2="304.4" y2="243.0" stroke="#b0b0b0" stroke-width="0.5" />
<line x1="327.8" y1="276.5" x2="327.8" y2="277.8" stroke="#b0b0b0" stroke-width="0.5" />
<line x1="303.09999999999997" y1="246.3" x2="304.4" y2="246.3" stroke="#b0b0b0" stroke-width="0.5" />
<line x1="331.2" y1="276.5" x2="331.2" y2="277.8" stroke="#b0b0b0" stroke-width="0.5" />
<line x1="303.09999999999997" y1="249.7" x2="304.4" y2="249.7" stroke="#b0b0b0" stroke-width="0.5" />
<line x1="334.6" y1="276.5" x2="334.6" y2="277.8" stroke="#b0b0b0" stroke-width="0.5" />
<line x1="303.09999999999997" y1="253.1" x2="304.4" y2="253.1" stroke="#b0b0b0" stroke-width="0.5" />
<line x1="337.9" y1="276.5" x2="337.9" y2="277.8" stroke="#b0b0b0" stroke-width="0.5" />
<line x1="303.09999999999997" y1="256.4" x2="304.4" y2="256.4" stroke="#b0b0b0" stroke-width="0.5" />
<line x1="341.2" y1="276.5" x2="341.2" y2="277.8" stroke="#b0b0b0" stroke-width="0.5" />
<line x1="303.09999999999997" y1="259.8" x2="304.4" y2="259.8" stroke="#b0b0b0" stroke-width="0.5" />
<line x1="344.6" y1="276.5" x2="344.6" y2="277.8" stroke="#b0b0b0" stroke-width="0.5" />
<line x1="303.09999999999997" y1="263.1" x2="304.4" y2="263.1" stroke="#b0b0b0" stroke-width="0.5" />
<line x1="347.9" y1="276.5" x2="347.9" y2="277.8" stroke="#b0b0b0" stroke-width="0.5" />
<line x1="303.09999999999997" y1="266.4" x2="304.4" y2="266.4" stroke="#b0b0b0" stroke-width="0.5" />
<line x1="351.3" y1="276.5" x2="351.3" y2="277.8" stroke="#b0b0b0" stroke-width="0.5" />
<line x1="303.09999999999997" y1="269.8" x2="304.4" y2="269.8" stroke="#b0b0b0" stroke-width="0.5" />
<line x1="354.6" y1="276.5" x2="354.6" y2="277.8" stroke="#b0b0b0" stroke-width="0.5" />
<line x1="303.09999999999997" y1="273.1" x2="304.4" y2="273.1" stroke="#b0b0b0" stroke-width="0.5" />
<line x1="332.6" y1="222.9" x2="332.6" y2="276.5" stroke="#c8c8c8" stroke-width="0.8" />
<line x1="304.4" y1="252.3" x2="358.0" y2="252.3" stroke="#c8c8c8" stroke-width="0.8" />
<path d="M310.6,248.4h.7v.7h-.7zM314.9,246.5h.7v.7h-.7zM310.0,250.4h.7v.7h-.7zM332.3,249.1h.7v.7h-.7zM319.2,244.6h.7v.7h-.7zM318.6,262.3h.7v.7h-.7zM321.6,245.9h.7v.7h-.7zM316.1,243.2h.7v.7h-.7zM326.9,242.4h.7v.7h-.7zM315.6,242.7h.7v.7h-.7zM319.2,247.0h.7v.7h-.7zM318.1,244.9h.7v.7h-.7zM316.0,253.4h.7v.7h-.7zM322.7,244.1h.7v.7h-.7zM324.3,245.7h.7v.7h-.7zM309.5,244.9h.7v.7h-.7zM335.2,249.0h.7v.7h-.7zM331.4,242.0h.7v.7h-.7zM310.1,241.8h.7v.7h-.7zM332.8,240.0h.7v.7h-.7zM315.6,252.6h.7v.7h-.7zM320.0,244.8h.7v.7h-.7zM325.0,246.5h.7v.7h-.7zM319.6,247.5h.7v.7h-.7zM316.3,245.7h.7v.7h-.7zM327.2,239.6h.7v.7h-.7zM320.3,239.1h.7v.7h-.7zM328.0,249.7h.7v.7h-.7zM329.5,252.2h.7v.7h-.7zM330.2,250.3h.7v.7h-.7zM315.8,251.6h.7v.7h-.7zM314.7,260.0h.7v.7h-.7zM324.3,249.6h.7v.7h-.7zM312.1,252.4h.7v.7h-.7zM331.4,236.6h.7v.7h-.7zM317.5,243.2h.7v.7h-.7zM316.8,254.3h.7v.7h-.7zM339.3,239.6h.7v.7h-.7zM330.4,244.4h.7v.7h-.7zM333.0,231.3h.7v.7h-.7zM318.5,253.3h.7v.7h-.7zM315.9,253.1h.7v.7h-.7zM317.9,252.8h.7v.7h-.7zM326.7,243.5h.7v.7h-.7zM315.9,245.0h.7v.7h-.7zM331.3,245.9h.7v.7h-.7zM316.7,265.9h.7v.7h-.7zM309.4,244.6h.7v.7h-.7zM326.3,239.7h.7v.7h-.7zM321.9,243.5h.7v.7h-.7zM310.1,248.7h.7v.7h-.7zM312.9,241.5h.7v.7h-.7zM331.8,239.3h.7v.7h-.7zM326.8,253.1h.7v.7h-.7zM329.9,248.8h.7v.7h-.7zM320.1,237.5h.7v.7h-.7zM323.1,248.6h.7v.7h-.7zM317.9,240.0h.7v.7h-.7zM328.9,239.6h.7v.7h-.7zM325.5,243.1h.7v.7h-.7zM308.4,255.6h.7v.7h-.7zM326.8,249.2h.7v.7h-.7zM310.6,245.2h.7v.7h-.7zM324.1,241.4h.7v.7h-.7zM335.1,233.8h.7v.7h-.7zM327.5,234.5h.7v.7h-.7zM309.3,238.2h.7v.7h-.7zM326.4,241.6h.7v.7h-.7zM316.4,240.4h.7v.7h-.7zM309.9,240.4h.7v.7h-.7zM313.8,243.9h.7v.7h-.7zM318.7,231.3h.7v.7h-.7zM316.5,253.0h.7v.7h-.7zM317.8,245.3h.7v.7h-.7zM315.8,241.5h.7v.7h-.7zM320.9,237.5h.7v.7h-.7zM320.1,235.6h.7v.7h-.7zM324.1,236.1h.7v.7h-.7zM326.6,251.6h.7v.7h-.7zM308.4,249.6h.7v.7h-.7zM318.1,252.5h.7v.7h-.7zM317.0,243.8h.7v.7h-.7zM318.9,253.0h.7v.7h-.7zM305.8,250.0h.7v.7h-.7zM322.0,242.5h.7v.7h-.7zM319.3,251.0h.7v.7h-.7zM327.8,255.6h.7v.7h-.7zM316.1,234.0h.7v.7h-.7zM316.8,244.2h.7v.7h-.7zM317.7,252.7h.7v.7h-.7zM339.4,247.7h.7v.7h-.7zM306.9,251.6h.7v.7h-.7zM316.0,245.6h.7v.7h-.7zM327.9,247.6h.7v.7h-.7zM320.6,247.1h.7v.7h-.7zM327.2,249.1h.7v.7h-.7zM337.7,227.4h.7v.7h-.7zM314.9,241.9h.7v.7h-.7zM327.7,246.7h.7v.7h-.7zM328.0,236.8h.7v.7h-.7zM319.4,249.2h.7v.7h-.7zM320.7,243.0h.7v.7h-.7zM323.3,255.2h.7v.7h-.7zM323.4,240.2h.7v.7h-.7zM326.4,245.6h.7v.7h-.7zM330.8,240.5h.7v.7h-.7zM328.9,239.9h.7v.7h-.7zM323.7,249.5h.7v.7h-.7zM320.5,249.2h.7v.7h-.7zM316.4,251.7h.7v.7h-.7zM317.1,241.1h.7v.7h-.7zM320.2,245.0h.7v.7h-.7zM314.4,250.1h.7v.7h-.7zM320.2,249.0h.7v.7h-.7zM309.2,237.5h.7v.7h-.7zM319.0,239.4h.7v.7h-.7zM320.1,248.7h.7v.7h-.7zM330.1,254.2h.7v.7h-.7zM327.4,241.1h.7v.7h-.7zM325.5,242.2h.7v.7h-.7zM325.5,239.0h.7v.7h-.7zM331.9,247.8h.7v.7h-.7zM318.9,237.2h.7v.7h-.7zM323.4,242.2h.7v.7h-.7zM323.2,241.1h.7v.7h-.7zM316.8,249.1h.7v.7h-.7zM333.0,237.8h.7v.7h-.7zM319.6,247.7h.7v.7h-.7zM319.9,242.7h.7v.7h-.7zM338.5,240.3h.7v.7h-.7zM324.1,242.5h.7v.7h-.7zM320.4,231.7h.7v.7h-.7zM328.3,244.1h.7v.7h-.7zM313.5,255.4h.7v.7h-.7zM319.0,241.7h.7v.7h-.7zM314.4,251.8h.7v.7h-.7zM321.4,243.5h.7v.7h-.7zM310.6,240.0h.7v.7h-.7zM324.0,245.3h.7v.7h-.7zM305.1,240.1h.7v.7h-.7zM323.0,261.5h.7v.7h-.7zM315.2,232.1h.7v.7h-.7zM327.3,242.5h.7v.7h-.7zM310.6,248.8h.7v.7h-.7zM319.3,239.6h.7v.7h-.7zM310.7,244.7h.7v.7h-.7zM321.9,234.7h.7v.7h-.7zM329.1,237.8h.7v.7h-.7zM332.4,247.4h.7v.7h-.7zM319.7,247.4h.7v.7h-.7zM316.4,245.0h.7v.7h-.7zM334.4,242.0h.7v.7h-.7zM327.7,240.0h.7v.7h-.7zM321.0,251.2h.7v.7h-.7zM311.6,247.4h.7v.7h-.7zM317.8,250.7h.7v.7h-.7zM326.9,239.9h.7v.7h-.7zM320.1,246.5h.7v.7h-.7zM308.7,247.9h.7v.7h-.7zM332.0,252.9h.7v.7h-.7zM316.5,242.9h.7v.7h-.7zM313.7,242.4h.7v.7h-.7zM319.2,249.5h.7v.7h-.7zM321.9,239.8h.7v.7h-.7zM327.8,250.7h.7v.7h-.7zM316.3,243.9h.7v.7h-.7zM320.4,235.5h.7v.7h-.7zM322.3,249.4h.7v.7h-.7zM336.8,246.6h.7v.7h-.7zM318.9,244.5h.7v.7h-.7zM326.1,250.2h.7v.7h-.7zM314.3,246.6h.7v.7h-.7zM326.4,233.4h.7v.7h-.7zM332.2,244.1h.7v.7h-.7zM328.2,245.1h.7v.7h-.7zM319.3,245.0h.7v.7h-.7zM323.5,250.6h.7v.7h-.7zM319.1,238.7h.7v.7h-.7zM315.6,239.6h.7v.7h-.7zM327.3,239.7h.7v.7h-.7zM333.4,246.2h.7v.7h-.7zM320.5,253.3h.7v.7h-.7zM318.3,243.7h.7v.7h-.7zM327.5,249.9h.7v.7h-.7zM313.3,260.2h.7v.7h-.7zM325.8,237.9h.7v.7h-.7zM319.9,251.0h.7v.7h-.7zM323.1,250.6h.7v.7h-.7zM340.2,251.1h.7v.7h-.7zM337.4,249.6h.7v.7h-.7zM316.0,254.6h.7v.7h-.7zM315.8,251.3h.7v.7h-.7zM326.6,240.5h.7v.7h-.7zM315.8,244.5h.7v.7h-.7zM324.6,253.6h.7v.7h-.7zM322.1,257.0h.7v.7h-.7zM328.5,241.8h.7v.7h-.7zM316.6,246.2h.7v.7h-.7zM317.4,245.1h.7v.7h-.7zM327.8,247.3h.7v.7h-.7zM329.4,241.6h.7v.7h-.7zM314.7,237.3h.7v.7h-.7zM307.4,243.1h.7v.7h-.7zM322.2,244.6h.7v.7h-.7zM321.7,258.0h.7v.7h-.7zM313.0,244.2h.7v.7h-.7zM317.8,240.3h.7v.7h-.7zM332.5,245.6h.7v.7h-.7zM331.8,239.0h.7v.7h-.7zM336.8,259.4h.7v.7h-.7zM314.8,245.8h.7v.7h-.7zM320.7,249.2h.7v.7h-.7zM311.4,248.6h.7v.7h-.7zM327.6,242.2h.7v.7h-.7zM318.6,250.4h.7v.7h-.7zM316.9,239.0h.7v.7h-.7z" fill="#000" fill-opacity="0.15"/>
<path d="M336.7,263.4h.7v.7h-.7zM337.7,262.1h.7v.7h-.7zM340.3,264.0h.7v.7h-.7zM317.5,262.7h.7v.7h-.7zM338.0,262.1h.7v.7h-.7zM343.5,260.1h.7v.7h-.7zM337.4,257.0h.7v.7h-.7zM331.8,259.7h.7v.7h-.7zM323.8,256.7h.7v.7h-.7zM333.6,263.6h.7v.7h-.7zM326.8,257.0h.7v.7h-.7zM324.8,265.0h.7v.7h-.7zM322.2,266.5h.7v.7h-.7zM318.5,263.0h.7v.7h-.7zM337.2,266.8h.7v.7h-.7zM328.4,258.9h.7v.7h-.7zM320.5,265.6h.7v.7h-.7zM330.8,260.1h.7v.7h-.7zM328.5,263.0h.7v.7h-.7zM332.1,266.7h.7v.7h-.7zM314.7,265.3h.7v.7h-.7zM327.6,261.6h.7v.7h-.7zM329.4,261.6h.7v.7h-.7zM337.9,262.8h.7v.7h-.7zM320.4,261.7h.7v.7h-.7zM331.1,263.4h.7v.7h-.7zM332.2,261.6h.7v.7h-.7zM340.1,257.6h.7v.7h-.7zM349.4,259.7h.7v.7h-.7zM323.6,265.1h.7v.7h-.7zM340.5,267.0h.7v.7h-.7zM343.6,263.9h.7v.7h-.7zM332.5,263.5h.7v.7h-.7zM331.9,259.8h.7v.7h-.7zM344.8,269.3h.7v.7h-.7zM332.0,261.1h.7v.7h-.7zM328.0,255.3h.7v.7h-.7zM326.6,259.9h.7v.7h-.7zM331.8,258.0h.7v.7h-.7zM316.8,264.6h.7v.7h-.7zM345.8,253.5h.7v.7h-.7zM330.9,265.4h.7v.7h-.7zM322.7,256.3h.7v.7h-.7zM332.3,261.1h.7v.7h-.7zM326.9,268.6h.7v.7h-.7zM344.0,264.6h.7v.7h-.7zM331.5,260.7h.7v.7h-.7zM339.1,261.1h.7v.7h-.7zM344.0,267.0h.7v.7h-.7zM327.3,265.1h.7v.7h-.7zM344.7,264.7h.7v.7h-.7zM324.6,261.0h.7v.7h-.7zM329.5,262.6h.7v.7h-.7zM332.5,260.7h.7v.7h-.7zM339.1,267.5h.7v.7h-.7zM327.8,256.2h.7v.7h-.7zM335.3,262.2h.7v.7h-.7zM335.7,259.4h.7v.7h-.7zM334.7,258.5h.7v.7h-.7zM341.1,268.9h.7v.7h-.7zM325.0,251.8h.7v.7h-.7zM328.5,260.1h.7v.7h-.7zM334.0,262.3h.7v.7h-.7zM336.4,273.1h.7v.7h-.7zM328.0,260.8h.7v.7h-.7zM336.0,254.9h.7v.7h-.7zM338.8,259.8h.7v.7h-.7zM321.0,258.9h.7v.7h-.7zM336.6,265.7h.7v.7h-.7zM342.6,264.0h.7v.7h-.7zM326.8,264.5h.7v.7h-.7zM332.0,271.7h.7v.7h-.7zM316.2,268.8h.7v.7h-.7zM338.8,264.0h.7v.7h-.7zM331.9,260.1h.7v.7h-.7zM325.0,256.1h.7v.7h-.7zM349.0,266.1h.7v.7h-.7zM338.1,263.8h.7v.7h-.7zM317.4,261.3h.7v.7h-.7zM333.7,267.0h.7v.7h-.7zM324.7,263.5h.7v.7h-.7zM330.9,262.5h.7v.7h-.7zM326.6,263.8h.7v.7h-.7zM333.5,254.9h.7v.7h-.7zM342.5,271.2h.7v.7h-.7zM325.8,267.0h.7v.7h-.7zM325.0,260.3h.7v.7h-.7zM346.9,263.2h.7v.7h-.7zM345.0,263.6h.7v.7h-.7zM341.0,261.8h.7v.7h-.7zM344.4,269.6h.7v.7h-.7zM338.4,260.2h.7v.7h-.7zM330.0,258.7h.7v.7h-.7zM337.8,264.6h.7v.7h-.7zM327.4,266.2h.7v.7h-.7zM328.4,269.8h.7v.7h-.7zM339.6,268.9h.7v.7h-.7zM327.3,258.5h.7v.7h-.7zM318.4,265.1h.7v.7h-.7zM324.1,267.9h.7v.7h-.7zM334.2,265.6h.7v.7h-.7zM322.8,260.2h.7v.7h-.7zM334.6,265.5h.7v.7h-.7zM322.8,263.9h.7v.7h-.7zM326.5,265.8h.7v.7h-.7zM331.3,261.4h.7v.7h-.7zM336.6,267.2h.7v.7h-.7zM331.2,267.5h.7v.7h-.7zM325.2,263.7h.7v.7h-.7zM324.2,263.4h.7v.7h-.7zM325.8,262.7h.7v.7h-.7zM338.1,258.7h.7v.7h-.7zM319.1,261.9h.7v.7h-.7zM337.3,263.5h.7v.7h-.7zM325.9,265.9h.7v.7h-.7zM330.8,265.6h.7v.7h-.7zM326.0,264.3h.7v.7h-.7zM342.5,259.9h.7v.7h-.7zM330.8,265.0h.7v.7h-.7zM337.2,263.9h.7v.7h-.7z" fill="#000" fill-opacity="0.15"/>
<path d="M346.1,242.9h.7v.7h-.7zM346.6,244.2h.7v.7h-.7zM347.1,239.0h.7v.7h-.7zM353.8,260.1h.7v.7h-.7zM348.8,246.4h.7v.7h-.7zM345.1,255.0h.7v.7h-.7zM349.9,247.2h.7v.7h-.7zM352.6,254.2h.7v.7h-.7zM349.3,248.9h.7v.7h-.7zM346.6,247.1h.7v.7h-.7zM347.5,247.3h.7v.7h-.7zM352.4,250.8h.7v.7h-.7zM347.7,252.2h.7v.7h-.7zM348.2,243.5h.7v.7h-.7zM353.0,251.1h.7v.7h-.7zM343.9,245.8h.7v.7h-.7zM343.2,247.6h.7v.7h-.7zM346.7,246.3h.7v.7h-.7zM347.1,251.3h.7v.7h-.7zM343.2,261.5h.7v.7h-.7zM346.0,252.2h.7v.7h-.7zM347.1,249.8h.7v.7h-.7zM349.9,257.4h.7v.7h-.7zM346.2,246.3h.7v.7h-.7zM349.3,239.9h.7v.7h-.7zM347.3,249.6h.7v.7h-.7zM348.1,243.0h.7v.7h-.7zM344.4,245.4h.7v.7h-.7zM343.8,253.4h.7v.7h-.7zM345.5,247.5h.7v.7h-.7zM352.3,250.5h.7v.7h-.7zM336.4,245.3h.7v.7h-.7zM348.5,252.6h.7v.7h-.7zM347.5,251.7h.7v.7h-.7zM341.9,249.9h.7v.7h-.7zM340.5,246.2h.7v.7h-.7zM341.8,246.2h.7v.7h-.7zM344.6,249.2h.7v.7h-.7zM342.3,255.6h.7v.7h-.7zM344.0,257.8h.7v.7h-.7zM351.2,244.2h.7v.7h-.7zM350.6,243.3h.7v.7h-.7zM353.3,251.8h.7v.7h-.7zM341.3,239.4h.7v.7h-.7zM344.2,243.5h.7v.7h-.7zM351.5,244.0h.7v.7h-.7zM345.0,252.5h.7v.7h-.7zM346.1,251.4h.7v.7h-.7zM344.8,253.6h.7v.7h-.7zM341.4,252.8h.7v.7h-.7zM340.1,250.9h.7v.7h-.7zM340.4,249.0h.7v.7h-.7zM348.9,256.1h.7v.7h-.7zM337.1,246.2h.7v.7h-.7zM341.2,256.0h.7v.7h-.7zM341.7,253.5h.7v.7h-.7zM343.4,242.9h.7v.7h-.7zM346.5,244.4h.7v.7h-.7zM349.6,254.0h.7v.7h-.7zM352.5,245.0h.7v.7h-.7zM353.7,254.7h.7v.7h-.7zM337.1,260.9h.7v.7h-.7zM354.3,244.8h.7v.7h-.7zM347.6,243.3h.7v.7h-.7zM345.3,250.9h.7v.7h-.7zM349.0,245.9h.7v.7h-.7zM345.8,245.3h.7v.7h-.7zM347.8,253.2h.7v.7h-.7zM346.3,255.6h.7v.7h-.7zM349.7,251.8h.7v.7h-.7zM351.7,243.8h.7v.7h-.7zM345.8,241.2h.7v.7h-.7zM345.8,247.6h.7v.7h-.7zM350.0,247.8h.7v.7h-.7zM342.8,249.5h.7v.7h-.7zM345.3,252.5h.7v.7h-.7zM341.6,242.5h.7v.7h-.7zM338.1,255.6h.7v.7h-.7zM339.7,247.6h.7v.7h-.7zM340.5,254.3h.7v.7h-.7zM343.2,256.0h.7v.7h-.7zM342.5,251.4h.7v.7h-.7zM349.7,254.7h.7v.7h-.7zM340.0,248.1h.7v.7h-.7zM345.6,240.9h.7v.7h-.7zM349.5,251.9h.7v.7h-.7zM348.5,243.1h.7v.7h-.7zM346.9,252.1h.7v.7h-.7zM351.1,247.4h.7v.7h-.7zM349.3,259.7h.7v.7h-.7zM343.8,247.9h.7v.7h-.7zM344.4,242.6h.7v.7h-.7zM344.2,258.0h.7v.7h-.7zM341.4,249.0h.7v.7h-.7zM351.9,252.8h.7v.7h-.7zM347.1,248.3h.7v.7h-.7zM345.4,250.0h.7v.7h-.7zM349.4,250.4h.7v.7h-.7zM350.6,240.8h.7v.7h-.7zM350.0,247.4h.7v.7h-.7z" fill="#000" fill-opacity="0.15"/>
<path d="M318.0,239.2h.7v.7h-.7zM321.2,239.8h.7v.7h-.7zM321.1,238.4h.7v.7h-.7zM318.9,242.4h.7v.7h-.7zM323.5,239.3h.7v.7h-.7zM318.7,239.3h.7v.7h-.7zM317.4,240.0h.7v.7h-.7zM324.0,241.2h.7v.7h-.7zM325.2,243.0h.7v.7h-.7zM311.8,240.6h.7v.7h-.7zM315.8,236.8h.7v.7h-.7zM312.7,239.0h.7v.7h-.7zM326.3,240.2h.7v.7h-.7zM317.1,239.9h.7v.7h-.7zM314.3,240.3h.7v.7h-.7zM317.6,236.8h.7v.7h-.7zM315.4,246.6h.7v.7h-.7zM321.1,239.8h.7v.7h-.7zM321.3,238.1h.7v.7h-.7zM318.5,241.7h.7v.7h-.7zM310.1,238.6h.7v.7h-.7zM316.1,239.5h.7v.7h-.7zM315.5,240.5h.7v.7h-.7zM323.0,240.7h.7v.7h-.7zM323.1,242.1h.7v.7h-.7zM315.1,240.5h.7v.7h-.7zM316.2,241.3h.7v.7h-.7zM316.3,239.7h.7v.7h-.7zM326.4,239.7h.7v.7h-.7zM310.4,240.3h.7v.7h-.7zM319.5,239.0h.7v.7h-.7zM318.4,242.0h.7v.7h-.7zM315.5,239.7h.7v.7h-.7zM314.6,240.7h.7v.7h-.7zM317.4,238.2h.7v.7h-.7zM317.3,243.6h.7v.7h-.7zM309.7,237.3h.7v.7h-.7zM319.7,237.3h.7v.7h-.7zM327.6,237.1h.7v.7h-.7zM311.7,239.0h.7v.7h-.7zM323.3,241.6h.7v.7h-.7zM320.8,240.6h.7v.7h-.7zM324.4,236.5h.7v.7h-.7zM319.4,242.8h.7v.7h-.7zM312.9,240.7h.7v.7h-.7zM324.0,242.5h.7v.7h-.7zM317.4,243.7h.7v.7h-.7zM320.5,242.1h.7v.7h-.7zM312.8,238.6h.7v.7h-.7zM314.4,243.5h.7v.7h-.7zM306.7,236.4h.7v.7h-.7zM322.0,240.3h.7v.7h-.7zM316.6,242.4h.7v.7h-.7zM308.7,239.0h.7v.7h-.7zM323.3,241.5h.7v.7h-.7zM313.6,239.5h.7v.7h-.7zM310.9,242.7h.7v.7h-.7zM316.0,242.5h.7v.7h-.7zM322.0,238.3h.7v.7h-.7zM317.4,241.3h.7v.7h-.7zM320.2,243.0h.7v.7h-.7zM323.5,240.7h.7v.7h-.7zM321.5,238.7h.7v.7h-.7zM315.2,241.2h.7v.7h-.7zM319.7,237.9h.7v.7h-.7zM317.7,238.5h.7v.7h-.7zM315.4,242.6h.7v.7h-.7zM313.5,238.8h.7v.7h-.7zM320.9,240.2h.7v.7h-.7zM318.9,237.3h.7v.7h-.7zM318.0,239.3h.7v.7h-.7zM314.2,239.0h.7v.7h-.7zM316.7,241.7h.7v.7h-.7zM327.3,240.3h.7v.7h-.7zM325.3,240.3h.7v.7h-.7zM311.0,240.2h.7v.7h-.7zM324.4,242.8h.7v.7h-.7zM313.9,244.4h.7v.7h-.7zM314.6,238.7h.7v.7h-.7z" fill="#000" fill-opacity="0.15"/>
<path d="M319.70,237.40 L321.26,237.24 L323.01,237.20 L324.79,237.27 L326.41,237.41 L327.70,237.60 L328.65,237.84 L329.39,238.17 L329.91,238.55 L330.25,238.96 L330.40,239.40 L330.36,239.90 L330.13,240.47 L329.71,241.06 L329.13,241.59 L328.40,242.00 L327.47,242.28 L326.32,242.48 L325.04,242.61 L323.71,242.68 L322.40,242.70 L321.03,242.67 L319.54,242.58 L318.08,242.44 L316.75,242.25 L315.70,242.00 L314.87,241.69 L314.18,241.32 L313.70,240.91 L313.51,240.46 L313.70,240.00 L314.36,239.47 L315.43,238.87 L316.77,238.27 L318.24,237.75 L319.70,237.40Z" fill="none" fill-opacity="1" stroke="#6a6a6a" stroke-width="0.55"/>
<path d="M325.70,245.40 L325.97,246.29 L326.20,247.23 L326.38,248.17 L326.45,249.11 L326.40,250.00 L326.15,250.86 L325.73,251.71 L325.24,252.52 L324.76,253.29 L324.40,254.00 L324.09,254.65 L323.77,255.24 L323.53,255.78 L323.47,256.27 L323.70,256.70 L324.27,257.07 L325.13,257.38 L326.17,257.64 L327.29,257.85 L328.40,258.00 L329.53,258.05 L330.74,258.00 L331.98,257.92 L333.22,257.89 L334.40,258.00 L335.52,258.29 L336.61,258.71 L337.68,259.19 L338.74,259.64 L339.80,260.00 L340.91,260.29 L342.08,260.58 L343.20,260.80 L344.21,260.89 L345.00,260.80 L345.57,260.52 L345.97,260.09 L346.22,259.52 L346.36,258.82 L346.40,258.00 L346.34,256.95 L346.17,255.67 L345.88,254.31 L345.49,253.03 L345.00,252.00 L344.37,251.28 L343.59,250.75 L342.72,250.33 L341.84,249.92 L341.00,249.40 L340.19,248.77 L339.37,248.09 L338.55,247.39 L337.76,246.69 L337.00,246.00 L336.27,245.32 L335.57,244.64 L334.89,243.97 L334.27,243.32 L333.70,242.70 L333.24,242.07 L332.89,241.42 L332.56,240.82 L332.19,240.33 L331.70,240.00 L331.08,239.89 L330.37,239.95 L329.60,240.12 L328.81,240.32 L328.00,240.50 L327.08,240.60 L326.02,240.68 L325.00,240.80 L324.17,241.02 L323.70,241.40 L323.72,241.99 L324.11,242.75 L324.69,243.61 L325.28,244.51 L325.70,245.40Z" fill="none" fill-opacity="1" stroke="#6a6a6a" stroke-width="0.55"/>
<path d="M330.00,251.40 L330.88,251.55 L331.84,251.79 L332.76,252.12 L333.52,252.52 L334.00,253.00 L334.20,253.63 L334.20,254.43 L334.00,255.26 L333.60,255.99 L333.00,256.50 L332.04,256.80 L330.72,256.97 L329.28,256.99 L327.96,256.84 L327.00,256.50 L326.40,255.83 L326.00,254.84 L325.80,253.74 L325.80,252.72 L326.00,252.00 L326.48,251.60 L327.24,251.37 L328.16,251.29 L329.12,251.32 L330.00,251.40Z" fill="none" fill-opacity="1" stroke="#6a6a6a" stroke-width="0.55"/>
<path d="M339.80,232.00 L341.55,231.60 L343.57,231.27 L345.65,231.06 L347.57,231.05 L349.10,231.30 L350.23,231.84 L351.12,232.63 L351.77,233.62 L352.22,234.76 L352.50,236.00 L352.58,237.45 L352.44,239.15 L352.13,240.93 L351.67,242.60 L351.10,244.00 L350.40,245.13 L349.55,246.11 L348.58,246.92 L347.51,247.56 L346.40,248.00 L345.17,248.24 L343.81,248.29 L342.40,248.16 L341.04,247.86 L339.80,247.40 L338.67,246.76 L337.58,245.94 L336.58,244.96 L335.71,243.87 L335.00,242.70 L334.40,241.34 L333.87,239.78 L333.52,238.16 L333.43,236.65 L333.70,235.40 L334.40,234.43 L335.45,233.63 L336.77,232.98 L338.26,232.44 L339.80,232.00Z" fill="none" fill-opacity="1" stroke="#6a6a6a" stroke-width="0.55"/>
<path d="M305.60,240.00 L305.49,240.35 L305.24,240.76 L304.91,241.14 L304.60,241.39 L304.40,241.40 L304.30,241.04 L304.26,240.38 L304.26,239.62 L304.30,238.96 L304.40,238.60 L304.60,238.61 L304.91,238.86 L305.24,239.24 L305.49,239.65 L305.60,240.00Z" fill="none" fill-opacity="1" stroke="#6a6a6a" stroke-width="0.55"/>
<ellipse cx="344.6" cy="240.0" rx="8.8" ry="6.5" transform="rotate(-45 344.6 240.0)" fill="#5a5a5a" fill-opacity="0.62" filter="url(#b1)"/>
<ellipse cx="344.6" cy="240.0" rx="7.20" ry="4.40" transform="rotate(-45 344.6 240.0)" fill="none" stroke="#7a7a7a" stroke-width="0.5"/>
<ellipse cx="344.6" cy="240.0" rx="10.44" ry="6.38" transform="rotate(-45 344.6 240.0)" fill="none" stroke="#8a8a8a" stroke-width="0.5"/>
<ellipse cx="344.6" cy="240.0" rx="3.6" ry="2.2" transform="rotate(-45 344.6 240.0)" fill="#000" fill-opacity="1" filter="url(#b2)"/>
<text x="307.60" y="232.15" font-size="7.9" text-anchor="start" fill="#151515" stroke-width="0.22" textLength="10.73" lengthAdjust="spacingAndGlyphs">6%</text>
<text x="358.90" y="231.75" font-size="7.9" text-anchor="end" fill="#151515" stroke-width="0.22" textLength="14.86" lengthAdjust="spacingAndGlyphs">88%</text>
<text x="308.80" y="274.25" font-size="7.9" text-anchor="start" fill="#151515" stroke-width="0.22" textLength="10.73" lengthAdjust="spacingAndGlyphs">4%</text>
<text x="356.80" y="274.05" font-size="7.9" text-anchor="end" fill="#151515" stroke-width="0.22" textLength="10.73" lengthAdjust="spacingAndGlyphs">2%</text>
<path d="M378.8,15.6 V5.8 H419.6" fill="none" stroke="#111" stroke-width="1.5"/>
<path d="M481,5.8 H518.2 V15.8" fill="none" stroke="#111" stroke-width="1.5"/>
<text x="428.7" y="10.3" font-size="10" fill="#151515" stroke-width="0.3">BrdU<tspan font-size="6" dy="-3.5">+</tspan><tspan dy="3.5"> DP</tspan></text>
<text x="439.00" y="34.20" font-size="10.8" text-anchor="start" fill="#151515" stroke-width="0.3" >DAY 3</text>
<text x="391.5" y="52.0" font-size="10.4" font-style="italic" fill="#151515" stroke-width="0.3">Bcl-2 Tg <tspan font-size="6" dy="-4.5">-</tspan></text>
<text x="468.3" y="51.9" font-size="10.4" font-style="italic" fill="#151515" stroke-width="0.3">Bcl-2 Tg <tspan font-size="6" dy="-4.5">+</tspan></text>
<rect x="373.5" y="62.7" width="67.50" height="60.00" fill="none" stroke="#b8b8b8" stroke-width="0.9"/>
<line x1="372.3" y1="115.2" x2="373.5" y2="115.2" stroke="#999" stroke-width="0.6" />
<line x1="372.3" y1="107.7" x2="373.5" y2="107.7" stroke="#999" stroke-width="0.6" />
<line x1="372.3" y1="100.2" x2="373.5" y2="100.2" stroke="#999" stroke-width="0.6" />
<line x1="372.3" y1="92.7" x2="373.5" y2="92.7" stroke="#999" stroke-width="0.6" />
<line x1="372.3" y1="85.2" x2="373.5" y2="85.2" stroke="#999" stroke-width="0.6" />
<line x1="372.3" y1="77.7" x2="373.5" y2="77.7" stroke="#999" stroke-width="0.6" />
<line x1="372.3" y1="70.2" x2="373.5" y2="70.2" stroke="#999" stroke-width="0.6" />
<rect x="449.3" y="62.7" width="67.70" height="60.50" fill="none" stroke="#b8b8b8" stroke-width="0.9"/>
<line x1="448.1" y1="115.6" x2="449.3" y2="115.6" stroke="#999" stroke-width="0.6" />
<line x1="448.1" y1="108.1" x2="449.3" y2="108.1" stroke="#999" stroke-width="0.6" />
<line x1="448.1" y1="100.5" x2="449.3" y2="100.5" stroke="#999" stroke-width="0.6" />
<line x1="448.1" y1="93.0" x2="449.3" y2="93.0" stroke="#999" stroke-width="0.6" />
<line x1="448.1" y1="85.4" x2="449.3" y2="85.4" stroke="#999" stroke-width="0.6" />
<line x1="448.1" y1="77.8" x2="449.3" y2="77.8" stroke="#999" stroke-width="0.6" />
<line x1="448.1" y1="70.3" x2="449.3" y2="70.3" stroke="#999" stroke-width="0.6" />
<line x1="373.5" y1="88.4" x2="401" y2="88.4" stroke="#8e8e8e" stroke-width="1.1" />
<line x1="401" y1="84.9" x2="401" y2="89.4" stroke="#8e8e8e" stroke-width="0.8" />
<line x1="401" y1="85.9" x2="415.7" y2="85.9" stroke="#8e8e8e" stroke-width="1.1" />
<line x1="415.7" y1="83" x2="415.7" y2="87.4" stroke="#8e8e8e" stroke-width="0.8" />
<line x1="415.7" y1="84" x2="441" y2="84" stroke="#8e8e8e" stroke-width="1.1" />
<line x1="449.3" y1="89.1" x2="475.6" y2="89.1" stroke="#8e8e8e" stroke-width="1.1" />
<line x1="475.6" y1="86.4" x2="475.6" y2="90.1" stroke="#8e8e8e" stroke-width="0.8" />
<line x1="475.6" y1="87.4" x2="491.6" y2="87.4" stroke="#8e8e8e" stroke-width="1.1" />
<line x1="491.6" y1="83.4" x2="491.6" y2="88.9" stroke="#8e8e8e" stroke-width="0.8" />
<line x1="491.6" y1="84.4" x2="517" y2="84.4" stroke="#8e8e8e" stroke-width="1.1" />
<text x="378.20" y="86.00" font-size="7.6" text-anchor="start" fill="#151515" stroke-width="0.22" >low</text>
<text x="402.60" y="82.90" font-size="7.6" text-anchor="start" fill="#151515" stroke-width="0.22" >int</text>
<text x="421.50" y="81.50" font-size="7.6" text-anchor="start" fill="#151515" stroke-width="0.22" >high</text>
<text x="456.30" y="86.50" font-size="7.6" text-anchor="start" fill="#151515" stroke-width="0.22" >low</text>
<text x="480.60" y="83.20" font-size="7.6" text-anchor="start" fill="#151515" stroke-width="0.22" >int</text>
<text x="499.40" y="81.80" font-size="7.6" text-anchor="start" fill="#151515" stroke-width="0.22" >high</text>
<path d="M381.30,121.80 L381.71,121.53 L382.29,121.19 L382.96,120.77 L383.68,120.27 L384.38,119.68 L385.00,119.00 L385.55,118.22 L386.07,117.35 L386.57,116.39 L387.06,115.34 L387.54,114.21 L388.00,113.00 L388.45,111.68 L388.88,110.23 L389.30,108.70 L389.71,107.13 L390.11,105.55 L390.50,104.00 L390.89,102.46 L391.26,100.90 L391.63,99.34 L391.99,97.79 L392.35,96.27 L392.70,94.80 L393.04,93.38 L393.37,92.00 L393.69,90.65 L394.02,89.33 L394.35,88.05 L394.70,86.80 L395.06,85.56 L395.44,84.34 L395.82,83.15 L396.21,82.01 L396.61,80.96 L397.00,80.00 L397.41,79.18 L397.83,78.48 L398.26,77.86 L398.68,77.27 L399.06,76.67 L399.40,76.00 L399.68,75.25 L399.91,74.47 L400.12,73.66 L400.31,72.87 L400.50,72.10 L400.70,71.40 L400.92,70.75 L401.13,70.12 L401.34,69.53 L401.56,68.97 L401.78,68.46 L402.00,68.00 L402.23,67.57 L402.47,67.17 L402.71,66.81 L402.95,66.51 L403.18,66.30 L403.40,66.20 L403.60,66.23 L403.79,66.40 L403.97,66.64 L404.15,66.94 L404.33,67.24 L404.50,67.50 L404.67,67.70 L404.83,67.88 L404.99,68.06 L405.15,68.28 L405.32,68.58 L405.50,69.00 L405.70,69.54 L405.91,70.17 L406.13,70.88 L406.36,71.66 L406.58,72.51 L406.80,73.40 L407.02,74.37 L407.26,75.43 L407.49,76.55 L407.71,77.70 L407.92,78.86 L408.10,80.00 L408.25,81.12 L408.38,82.26 L408.49,83.40 L408.60,84.54 L408.70,85.68 L408.80,86.80 L408.90,87.91 L409.00,89.01 L409.10,90.11 L409.20,91.21 L409.30,92.30 L409.40,93.40 L409.50,94.51 L409.60,95.62 L409.70,96.74 L409.81,97.84 L409.94,98.93 L410.10,100.00 L410.29,101.03 L410.49,102.04 L410.72,103.04 L410.96,104.02 L411.22,105.01 L411.50,106.00 L411.79,107.01 L412.10,108.04 L412.43,109.06 L412.77,110.07 L413.13,111.06 L413.50,112.00 L413.87,112.91 L414.24,113.79 L414.62,114.64 L415.04,115.47 L415.49,116.25 L416.00,117.00 L416.57,117.72 L417.19,118.43 L417.84,119.09 L418.54,119.71 L419.26,120.25 L420.00,120.70 L420.66,121.04 L421.22,121.29 L421.81,121.46 L422.56,121.58 L423.58,121.69 L425.00,121.80 L427.09,121.91 L429.81,122.00 L432.81,122.07 L435.74,122.12 L438.25,122.16 L440.00,122.20" fill="none" stroke="#111" stroke-width="1.1" stroke-dasharray="1.2 1.1"/>
<path d="M374.00,121.80 L374.33,121.69 L374.78,121.56 L375.31,121.40 L375.89,121.18 L376.47,120.89 L377.00,120.50 L377.49,119.99 L377.97,119.36 L378.45,118.66 L378.94,117.92 L379.45,117.19 L380.00,116.50 L380.61,115.87 L381.29,115.25 L381.98,114.64 L382.66,114.03 L383.28,113.38 L383.80,112.70 L384.21,111.98 L384.53,111.22 L384.79,110.44 L385.03,109.64 L385.25,108.83 L385.50,108.00 L385.75,107.15 L385.98,106.27 L386.21,105.38 L386.44,104.48 L386.70,103.58 L387.00,102.70 L387.36,101.84 L387.79,101.01 L388.23,100.19 L388.67,99.34 L389.07,98.45 L389.40,97.50 L389.65,96.47 L389.84,95.38 L389.99,94.24 L390.12,93.09 L390.25,91.93 L390.40,90.80 L390.57,89.68 L390.74,88.57 L390.91,87.45 L391.07,86.33 L391.24,85.22 L391.40,84.10 L391.55,82.97 L391.70,81.82 L391.84,80.67 L391.99,79.54 L392.14,78.44 L392.30,77.40 L392.47,76.43 L392.64,75.52 L392.82,74.64 L393.01,73.78 L393.20,72.91 L393.40,72.00 L393.61,70.95 L393.82,69.76 L394.04,68.56 L394.26,67.48 L394.48,66.65 L394.70,66.20 L394.92,66.19 L395.13,66.52 L395.34,67.11 L395.56,67.84 L395.78,68.64 L396.00,69.40 L396.23,70.16 L396.46,71.01 L396.70,71.92 L396.94,72.86 L397.17,73.79 L397.40,74.70 L397.63,75.60 L397.86,76.51 L398.09,77.42 L398.31,78.32 L398.52,79.19 L398.70,80.00 L398.84,80.75 L398.96,81.46 L399.05,82.13 L399.14,82.79 L399.26,83.44 L399.40,84.10 L399.59,84.79 L399.81,85.49 L400.05,86.19 L400.29,86.87 L400.51,87.51 L400.70,88.10 L400.84,88.61 L400.96,89.05 L401.05,89.45 L401.14,89.85 L401.26,90.29 L401.40,90.80 L401.58,91.41 L401.79,92.09 L402.01,92.80 L402.24,93.51 L402.48,94.19 L402.70,94.80 L402.91,95.33 L403.13,95.80 L403.34,96.24 L403.55,96.66 L403.77,97.08 L404.00,97.50 L404.25,97.93 L404.51,98.34 L404.77,98.75 L405.04,99.16 L405.28,99.57 L405.50,100.00 L405.68,100.45 L405.84,100.94 L405.98,101.43 L406.11,101.90 L406.25,102.33 L406.40,102.70 L406.57,102.97 L406.74,103.15 L406.92,103.29 L407.10,103.44 L407.30,103.66 L407.50,104.00 L407.70,104.46 L407.90,105.01 L408.11,105.62 L408.34,106.28 L408.60,106.98 L408.90,107.70 L409.26,108.48 L409.69,109.35 L410.14,110.26 L410.59,111.15 L411.02,111.98 L411.40,112.70 L411.71,113.29 L411.98,113.77 L412.22,114.19 L412.46,114.60 L412.71,115.02 L413.00,115.50 L413.29,116.05 L413.55,116.65 L413.83,117.27 L414.16,117.88 L414.57,118.47 L415.10,119.00 L415.78,119.50 L416.59,119.98 L417.48,120.44 L418.41,120.85 L419.33,121.21 L420.20,121.50 L420.90,121.70 L421.44,121.83 L421.98,121.89 L422.66,121.93 L423.61,121.96 L425.00,122.00 L427.08,122.05 L429.80,122.10 L432.80,122.13 L435.73,122.16 L438.25,122.18 L440.00,122.20" fill="none" stroke="#000" stroke-width="1.8"/>
<path d="M462.00,122.30 L462.38,122.24 L462.91,122.17 L463.54,122.09 L464.20,121.96 L464.84,121.77 L465.40,121.50 L465.88,121.19 L466.33,120.87 L466.76,120.48 L467.17,119.99 L467.58,119.34 L468.00,118.50 L468.43,117.42 L468.85,116.13 L469.27,114.69 L469.69,113.15 L470.10,111.57 L470.50,110.00 L470.89,108.38 L471.29,106.65 L471.67,104.88 L472.04,103.14 L472.39,101.49 L472.70,100.00 L472.97,98.70 L473.20,97.55 L473.40,96.49 L473.59,95.47 L473.79,94.46 L474.00,93.40 L474.23,92.33 L474.46,91.30 L474.70,90.28 L474.94,89.21 L475.17,88.06 L475.40,86.80 L475.62,85.36 L475.85,83.76 L476.07,82.09 L476.29,80.41 L476.50,78.83 L476.70,77.40 L476.89,76.13 L477.08,74.94 L477.26,73.83 L477.43,72.81 L477.61,71.86 L477.80,71.00 L477.99,70.19 L478.18,69.43 L478.38,68.76 L478.57,68.19 L478.78,67.76 L479.00,67.50 L479.23,67.50 L479.48,67.76 L479.73,68.16 L479.99,68.57 L480.25,68.89 L480.50,69.00 L480.75,68.82 L481.00,68.43 L481.25,67.94 L481.50,67.46 L481.75,67.11 L482.00,67.00 L482.25,67.14 L482.51,67.45 L482.76,67.88 L483.01,68.40 L483.26,68.95 L483.50,69.50 L483.73,70.04 L483.96,70.60 L484.18,71.19 L484.40,71.85 L484.60,72.58 L484.80,73.40 L484.99,74.34 L485.17,75.39 L485.34,76.52 L485.51,77.69 L485.66,78.86 L485.80,80.00 L485.92,81.12 L486.02,82.26 L486.11,83.40 L486.20,84.54 L486.29,85.68 L486.40,86.80 L486.53,87.91 L486.66,89.01 L486.81,90.11 L486.95,91.21 L487.08,92.30 L487.20,93.40 L487.29,94.48 L487.36,95.55 L487.42,96.61 L487.49,97.70 L487.57,98.82 L487.70,100.00 L487.86,101.26 L488.05,102.60 L488.26,103.97 L488.49,105.36 L488.73,106.71 L489.00,108.00 L489.28,109.25 L489.58,110.48 L489.89,111.69 L490.23,112.85 L490.60,113.96 L491.00,115.00 L491.43,115.98 L491.89,116.93 L492.38,117.81 L492.89,118.63 L493.43,119.36 L494.00,120.00 L494.44,120.52 L494.72,120.94 L495.03,121.28 L495.56,121.56 L496.48,121.79 L498.00,122.00 L500.46,122.18 L503.78,122.30 L507.50,122.38 L511.17,122.43 L514.32,122.46 L516.50,122.50" fill="none" stroke="#111" stroke-width="1.1" stroke-dasharray="1.2 1.1"/>
<path d="M449.50,122.20 L450.29,122.08 L451.39,121.94 L452.69,121.76 L454.09,121.53 L455.46,121.25 L456.70,120.90 L457.87,120.49 L459.07,120.03 L460.26,119.51 L461.37,118.93 L462.37,118.29 L463.20,117.60 L463.83,116.86 L464.30,116.08 L464.64,115.24 L464.93,114.32 L465.19,113.32 L465.50,112.20 L465.84,110.93 L466.16,109.50 L466.48,107.98 L466.77,106.43 L467.05,104.91 L467.30,103.50 L467.52,102.18 L467.72,100.91 L467.90,99.67 L468.07,98.47 L468.23,97.28 L468.40,96.10 L468.57,94.94 L468.74,93.81 L468.91,92.71 L469.08,91.61 L469.24,90.51 L469.40,89.40 L469.56,88.27 L469.71,87.11 L469.86,85.96 L470.01,84.83 L470.16,83.74 L470.30,82.70 L470.44,81.74 L470.57,80.83 L470.70,79.97 L470.83,79.12 L470.96,78.27 L471.10,77.40 L471.25,76.50 L471.40,75.57 L471.56,74.65 L471.72,73.74 L471.87,72.85 L472.00,72.00 L472.12,71.16 L472.21,70.30 L472.31,69.47 L472.40,68.71 L472.49,68.04 L472.60,67.50 L472.72,67.11 L472.84,66.85 L472.97,66.69 L473.10,66.59 L473.25,66.54 L473.40,66.50 L473.57,66.44 L473.75,66.39 L473.94,66.38 L474.14,66.44 L474.32,66.64 L474.50,67.00 L474.66,67.57 L474.81,68.32 L474.95,69.19 L475.09,70.14 L475.24,71.09 L475.40,72.00 L475.57,72.88 L475.74,73.77 L475.92,74.68 L476.11,75.59 L476.30,76.50 L476.50,77.40 L476.71,78.30 L476.93,79.22 L477.16,80.13 L477.39,81.03 L477.60,81.89 L477.80,82.70 L477.97,83.44 L478.11,84.11 L478.24,84.75 L478.38,85.39 L478.53,86.06 L478.70,86.80 L478.91,87.61 L479.13,88.47 L479.37,89.37 L479.62,90.28 L479.87,91.20 L480.10,92.10 L480.32,92.99 L480.55,93.89 L480.77,94.79 L480.99,95.69 L481.20,96.59 L481.40,97.50 L481.59,98.41 L481.77,99.31 L481.94,100.21 L482.11,101.13 L482.30,102.05 L482.50,103.00 L482.72,103.98 L482.95,104.98 L483.19,106.00 L483.45,107.02 L483.72,108.02 L484.00,109.00 L484.29,109.96 L484.59,110.93 L484.91,111.88 L485.24,112.80 L485.60,113.68 L486.00,114.50 L486.43,115.27 L486.89,116.00 L487.38,116.69 L487.89,117.34 L488.43,117.94 L489.00,118.50 L489.57,119.01 L490.15,119.46 L490.75,119.87 L491.41,120.24 L492.15,120.58 L493.00,120.90 L493.88,121.19 L494.76,121.45 L495.72,121.68 L496.85,121.88 L498.25,122.05 L500.00,122.20 L502.39,122.31 L505.41,122.39 L508.69,122.43 L511.87,122.46 L514.59,122.48 L516.50,122.50" fill="none" stroke="#000" stroke-width="1.8"/>
<text x="378.00" y="145.20" font-size="10.5" text-anchor="start" fill="#151515" stroke-width="0.3" >TCR&#946;</text>
<line x1="410.4" y1="139.6" x2="515.8" y2="139.6" stroke="#111" stroke-width="1.4" />
<path d="M511.4,136.6 L516.3,139.6 L511.4,142.6" fill="none" stroke="#111" stroke-width="1.35"/>
</svg>
</body></html>
